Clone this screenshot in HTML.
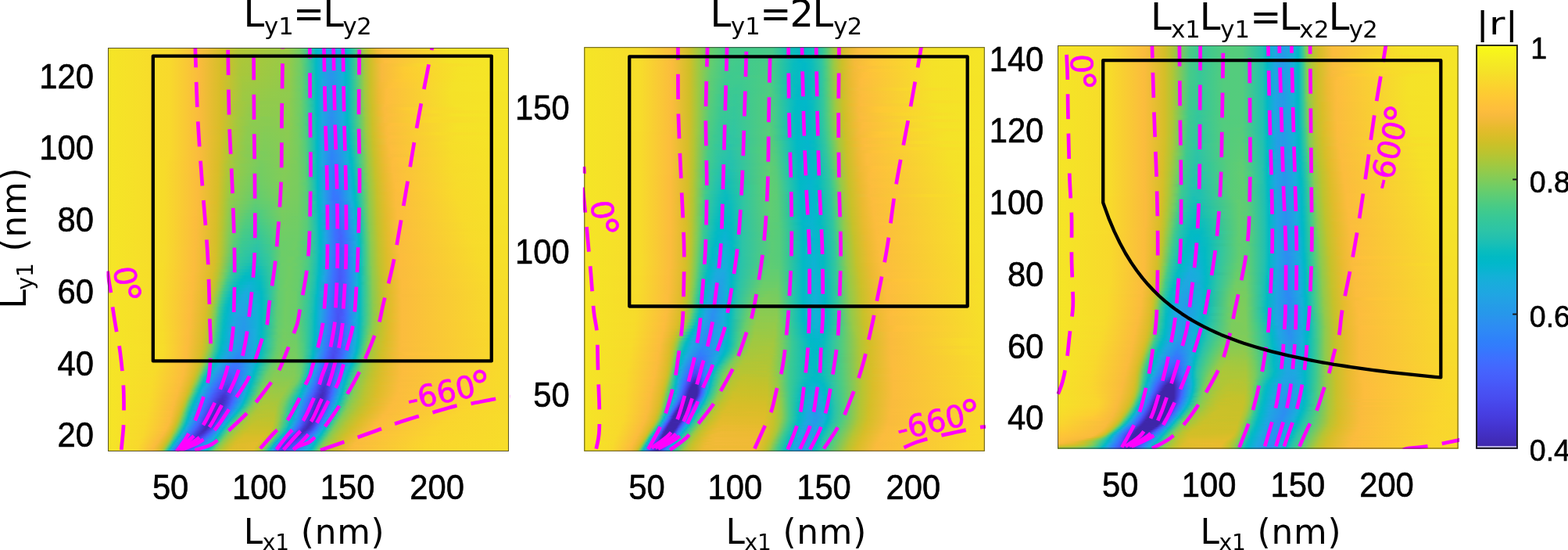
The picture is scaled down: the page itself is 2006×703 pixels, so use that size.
<!DOCTYPE html>
<html lang="en"><head><meta charset="utf-8"><title>Reflection amplitude maps</title>
<style>html,body{margin:0;padding:0;background:#fff;overflow:hidden}#fig{position:relative;width:2006px;height:703px;overflow:hidden;background:#fff}.hm{position:absolute;overflow:hidden}.hm i{display:block;position:absolute;left:0;width:100%;height:var(--h)}.hm i.b{height:var(--g)}#fig svg{position:absolute;left:0;top:0;display:block}</style>
</head><body>
<div id="fig">
<div class="hm" style="left:138.0px;top:61.0px;width:513.0px;height:516.0px;--h:4.59px;--g:2.61px"><i style="top:0.0px;background:linear-gradient(90deg,#f5e526 0.2%,#f8d92c 15.4%,#fabb3d 22.8%,#d3bf27 28.6%,#b1c635 32.5%,#9cc944 44.6%,#76cc60 47.7%,#51cc7f 49.2%,#0dbdbb 51.6%,#02bac3 51.9%,#0cb3d3 52.7%,#22a1e4 54.3%,#2699ea 55.8%,#19addc 58.2%,#01b8ca 59.3%,#0fbebb 60.1%,#3fca8e 61.7%,#99c946 63.6%,#c9c129 65.2%,#edba33 67.1%,#fdbd3d 69.1%,#f5e228 84.6%,#f5e626 99.8%)"></i><i style="top:4.0px;background:linear-gradient(90deg,#f5e526 0.2%,#f8d92c 15.4%,#fabb3d 22.8%,#d3bf27 28.6%,#b1c636 32.5%,#99c946 44.9%,#6fcd66 48.1%,#1cc0b3 51.2%,#02bac3 51.9%,#0cb3d3 52.7%,#22a1e4 54.3%,#269ae8 56.2%,#12b1d7 58.6%,#01b8ca 59.3%,#0ebebb 60.1%,#3fca8e 61.7%,#98c947 63.6%,#c8c129 65.2%,#ecba33 67.1%,#fdbd3d 69.1%,#f5e228 85.0%,#f5e626 99.8%)"></i><i style="top:8.0px;background:linear-gradient(90deg,#f5e526 0.2%,#f8d92c 15.4%,#fabb3d 22.8%,#d3bf27 28.6%,#b0c636 32.5%,#98c947 44.9%,#6fcd66 48.1%,#0ebdbb 51.6%,#02bac3 51.9%,#0cb3d3 52.7%,#259de7 54.7%,#259de7 56.6%,#13b1d7 58.6%,#01b8ca 59.3%,#02bbc3 59.7%,#33c79c 61.3%,#63cd70 62.5%,#a5c83d 64.0%,#d1bf27 65.6%,#f9bb3d 68.3%,#f9d82c 78.8%,#f5e426 92.8%,#f5e626 99.8%)"></i><i style="top:12.0px;background:linear-gradient(90deg,#f5e526 0.2%,#f8d92c 15.4%,#fabb3d 22.8%,#d3bf27 28.6%,#adc638 32.9%,#97ca47 44.9%,#76cc61 47.7%,#51cc7f 49.2%,#0ebdbb 51.6%,#02bac3 51.9%,#0cb3d3 52.7%,#23a1e5 54.3%,#2797eb 55.8%,#13b0d7 58.6%,#01b7ca 59.3%,#0dbdbb 60.1%,#3eca8f 61.7%,#97ca48 63.6%,#c7c12a 65.2%,#e6bb2d 66.7%,#fbbc3d 68.7%,#f5e228 85.0%,#f5e626 99.8%)"></i><i style="top:16.0px;background:linear-gradient(90deg,#f5e526 0.2%,#f8d92c 15.4%,#fabb3d 22.8%,#d3bf27 28.6%,#acc738 32.9%,#97ca48 44.9%,#76cc61 47.7%,#51cc7f 49.2%,#0ebdbb 51.6%,#02bbc3 51.9%,#0cb3d3 52.7%,#23a0e5 54.3%,#2699e9 56.2%,#13b0d7 58.6%,#02b7ca 59.3%,#02bac3 59.7%,#3dca90 61.7%,#96ca48 63.6%,#c7c12a 65.2%,#ebba31 67.1%,#fdbd3d 69.1%,#f5e228 85.0%,#f5e626 99.8%)"></i><i style="top:19.9px;background:linear-gradient(90deg,#f5e526 0.2%,#f8d92c 15.4%,#fabb3d 22.8%,#d2bf27 28.6%,#aac73a 33.3%,#96ca48 44.9%,#6fcd66 48.1%,#38c895 50.0%,#1dc0b3 51.2%,#02bbc3 51.9%,#0cb3d3 52.7%,#23a0e5 54.3%,#2796eb 55.8%,#1aacdd 58.2%,#02b7cb 59.3%,#02bac3 59.7%,#3dc990 61.7%,#a3c83e 64.0%,#cfc028 65.6%,#f9ba3d 68.3%,#f9d82c 78.8%,#f5e526 94.7%,#f5e626 99.8%)"></i><i style="top:23.9px;background:linear-gradient(90deg,#f5e526 0.2%,#f8d92c 15.4%,#fabb3d 22.8%,#d2bf27 28.6%,#a9c73b 33.3%,#96ca49 44.9%,#6fcd66 48.1%,#1ec0b2 51.2%,#02bbc3 51.9%,#0cb3d3 52.7%,#23a0e5 54.3%,#2896eb 55.8%,#14b0d8 58.6%,#02b7cb 59.3%,#0cbdbc 60.1%,#4dcc82 62.1%,#a3c83f 64.0%,#cfc028 65.6%,#f8ba3d 68.3%,#fdcc32 74.1%,#f5e327 87.7%,#f5e626 99.8%)"></i><i style="top:27.9px;background:linear-gradient(90deg,#f5e526 0.2%,#f8d92c 15.4%,#fabb3d 22.8%,#d7be28 28.2%,#aac73a 32.9%,#93ca4b 45.3%,#67cd6c 48.4%,#0fbebb 51.6%,#02bbc3 51.9%,#0cb3d3 52.7%,#23a0e5 54.3%,#2896ec 55.8%,#14b0d8 58.6%,#02b7cb 59.3%,#0cbdbc 60.1%,#4dcb82 62.1%,#a2c83f 64.0%,#cec028 65.6%,#f8ba3d 68.3%,#fdcc32 74.1%,#f5e327 88.1%,#f5e626 99.8%)"></i><i style="top:31.9px;background:linear-gradient(90deg,#f5e526 0.2%,#f8d92c 15.4%,#fabb3d 22.8%,#d7be28 28.2%,#a9c73a 32.9%,#92ca4b 45.3%,#6ecd66 48.1%,#0fbebb 51.6%,#02bbc3 51.9%,#0cb3d3 52.7%,#239fe5 54.3%,#2895ec 55.8%,#15afd9 58.6%,#02b7cb 59.3%,#0cbdbc 60.1%,#4ccb83 62.1%,#a1c840 64.0%,#cec028 65.6%,#f8ba3d 68.3%,#fdcb32 74.1%,#f5e227 87.0%,#f5e626 99.8%)"></i><i style="top:35.9px;background:linear-gradient(90deg,#f5e526 0.2%,#f8d92c 15.4%,#fabb3d 22.8%,#d7be28 28.2%,#a6c83d 33.3%,#92ca4c 45.3%,#67cd6d 48.4%,#1ec0b2 51.2%,#02bbc3 51.9%,#0cb3d3 52.7%,#249fe5 54.3%,#2995ec 55.8%,#15afd9 58.6%,#03b7cc 59.3%,#0bbdbc 60.1%,#32c69f 61.3%,#5ecd74 62.5%,#a1c840 64.0%,#cdc028 65.6%,#f8ba3d 68.3%,#fdcb32 74.1%,#f5e327 88.1%,#f5e626 99.8%)"></i><i style="top:39.9px;background:linear-gradient(90deg,#f5e526 0.2%,#f8d92c 15.4%,#fabb3d 22.8%,#d7be28 28.2%,#a5c83d 33.3%,#91ca4c 45.3%,#67cd6d 48.4%,#1ec0b2 51.2%,#03bbc3 51.9%,#02b7cb 52.3%,#1ca9df 53.5%,#2994ed 55.8%,#15afd9 58.6%,#03b7cc 59.3%,#0bbdbd 60.1%,#4bcb84 62.1%,#a0c841 64.0%,#cdc028 65.6%,#f7ba3c 68.3%,#fec636 72.2%,#f5e227 86.6%,#f5e626 99.8%)"></i><i style="top:43.9px;background:linear-gradient(90deg,#f5e526 0.2%,#f8d92c 15.4%,#fabb3d 22.8%,#d6be28 28.2%,#a2c83f 33.7%,#91ca4d 45.3%,#67cd6d 48.4%,#10beba 51.6%,#03bbc3 51.9%,#02b7cb 52.3%,#1ca9df 53.5%,#2994ed 55.8%,#16afd9 58.6%,#03b7cc 59.3%,#0bbdbd 60.1%,#4acb84 62.1%,#9fc941 64.0%,#ccc028 65.6%,#f3ba38 67.9%,#fec239 71.0%,#f5e228 86.2%,#f5e626 99.8%)"></i><i style="top:47.9px;background:linear-gradient(90deg,#f5e526 0.2%,#f8d92c 15.4%,#fabb3d 22.8%,#d6be28 28.2%,#a1c840 33.7%,#90ca4d 45.3%,#6ecd67 48.1%,#45cb89 49.6%,#10beba 51.6%,#03bbc3 51.9%,#02b7cb 52.3%,#1ca9e0 53.5%,#2a93ed 55.8%,#16afda 58.6%,#03b7cc 59.3%,#0bbdbd 60.1%,#49cb85 62.1%,#9fc942 64.0%,#ccc028 65.6%,#f2ba38 67.9%,#fec13a 70.6%,#f5e228 86.2%,#f5e626 99.8%)"></i><i style="top:51.9px;background:linear-gradient(90deg,#f5e526 0.2%,#f8d92c 15.4%,#fabb3d 22.8%,#d6be28 28.2%,#a0c841 33.7%,#96ca48 39.5%,#90ca4d 45.3%,#67cd6d 48.4%,#10beba 51.6%,#03bbc2 51.9%,#02b7cb 52.3%,#1da9e0 53.5%,#2a93ee 55.8%,#17aeda 58.6%,#04b6cd 59.3%,#0abdbd 60.1%,#49cb85 62.1%,#9ec942 64.0%,#cbc129 65.6%,#edba33 67.5%,#fdbd3d 69.5%,#f5e228 85.8%,#f5e626 99.8%)"></i><i style="top:55.9px;background:linear-gradient(90deg,#f5e526 0.2%,#f8d92c 15.4%,#fabb3d 22.8%,#d6be28 28.2%,#9fc941 33.7%,#95ca49 39.5%,#8fcb4e 45.3%,#6ecd67 48.1%,#3ac994 50.0%,#10beba 51.6%,#03bbc2 51.9%,#02b7cb 52.3%,#1da9e0 53.5%,#2a92ee 55.8%,#17aeda 58.6%,#01bac5 59.7%,#3ac994 61.7%,#9dc943 64.0%,#cbc129 65.6%,#ecba33 67.5%,#fdbd3d 69.5%,#f5e128 85.4%,#f5e526 99.8%)"></i><i style="top:59.8px;background:linear-gradient(90deg,#f5e526 0.2%,#f8d92c 15.4%,#fabb3d 22.8%,#d6be28 28.2%,#9ec942 33.7%,#94ca4a 39.5%,#8fcb4e 45.3%,#6ecd67 48.1%,#3ac994 50.0%,#20c1b1 51.2%,#03bbc2 51.9%,#02b7cb 52.3%,#1da9e0 53.5%,#2b92ee 55.8%,#17aedb 58.6%,#01bac5 59.7%,#3ac994 61.7%,#9cc943 64.0%,#cac129 65.6%,#ecba32 67.5%,#fdbd3d 69.5%,#f5e128 85.8%,#f5e526 99.8%)"></i><i style="top:63.8px;background:linear-gradient(90deg,#f5e526 0.2%,#f8d92c 15.4%,#fabb3d 22.8%,#d6be28 28.2%,#9dc943 33.7%,#92ca4b 39.5%,#90ca4d 44.9%,#74cc62 47.7%,#52cc7e 49.2%,#11beb9 51.6%,#03bbc2 51.9%,#02b7cb 52.3%,#1da9e0 53.5%,#2b92ef 55.8%,#18aedb 58.6%,#01b9c6 59.7%,#39c895 61.7%,#9cc944 64.0%,#c9c129 65.6%,#ecba32 67.5%,#fdbd3d 69.5%,#f5e128 85.8%,#f5e526 99.8%)"></i><i style="top:67.8px;background:linear-gradient(90deg,#f5e526 0.2%,#f8d92c 15.4%,#fabb3d 22.8%,#d6be28 28.2%,#a5c83d 32.5%,#90ca4d 37.9%,#90ca4d 44.9%,#6ecd67 48.1%,#3ac994 50.0%,#20c1b1 51.2%,#04bbc2 51.9%,#02b7cb 52.3%,#1da9e0 53.5%,#2b91ef 55.8%,#18addb 58.6%,#01b9c6 59.7%,#46cb88 62.1%,#9bc945 64.0%,#c9c129 65.6%,#ebba32 67.5%,#fdbd3d 69.5%,#f5e128 85.8%,#f5e526 99.8%)"></i><i style="top:71.8px;background:linear-gradient(90deg,#f5e526 0.2%,#f8d92c 15.4%,#fabb3d 22.8%,#d6be28 28.2%,#a8c73b 32.1%,#92ca4c 36.4%,#8fcb4e 44.9%,#74cc62 47.7%,#52cc7e 49.2%,#12beb9 51.6%,#04bbc2 51.9%,#02b7cb 52.3%,#1da9e0 53.5%,#2b90ef 55.8%,#19addc 58.6%,#01b9c6 59.7%,#38c896 61.7%,#9ac945 64.0%,#d1bf27 66.0%,#fbbc3d 69.1%,#f5e228 86.6%,#f5e526 99.8%)"></i><i style="top:75.8px;background:linear-gradient(90deg,#f5e526 0.2%,#f8d92c 15.4%,#fabb3d 22.8%,#d6be28 28.2%,#a8c73c 32.1%,#91ca4c 36.0%,#8dcb4f 45.3%,#6dcd67 48.1%,#46cb88 49.6%,#21c1b0 51.2%,#04bbc2 51.9%,#02b7ca 52.3%,#1da8e0 53.5%,#2c90f0 55.8%,#19addc 58.6%,#01b9c7 59.7%,#45cb89 62.1%,#a6c73c 64.4%,#d0bf27 66.0%,#f8ba3d 68.7%,#fdcb33 74.5%,#f5e327 89.3%,#f5e526 99.8%)"></i><i style="top:79.8px;background:linear-gradient(90deg,#f5e526 0.2%,#f8d92c 15.4%,#fabb3d 22.8%,#d6be28 28.2%,#a7c73c 32.1%,#90ca4d 36.0%,#8ccb50 45.3%,#6dcd67 48.1%,#3bc993 50.0%,#21c1b0 51.2%,#04bbc2 51.9%,#01b7ca 52.3%,#1da8e0 53.5%,#2c8ff0 55.8%,#19acdc 58.6%,#01b9c7 59.7%,#44cb8a 62.1%,#98c947 64.0%,#c7c12a 65.6%,#eabb30 67.5%,#fabb3d 69.1%,#f8da2b 81.1%,#f5e526 99.8%)"></i><i style="top:83.8px;background:linear-gradient(90deg,#f5e526 0.2%,#f8d92c 15.4%,#fabb3d 22.8%,#d6be28 28.2%,#aac739 31.7%,#90ca4d 35.6%,#8ecb4e 40.3%,#8acb52 45.7%,#66cd6d 48.4%,#13beb9 51.6%,#04bbc1 51.9%,#01b7ca 52.3%,#1da8e0 53.5%,#2c8ff1 55.8%,#1aacdd 58.6%,#01b9c7 59.7%,#43ca8a 62.1%,#97ca48 64.0%,#c6c22a 65.6%,#e9bb30 67.5%,#fcbc3d 69.5%,#f6e128 86.2%,#f5e526 99.8%)"></i><i style="top:87.8px;background:linear-gradient(90deg,#f5e526 0.2%,#f8d92c 15.4%,#fabb3d 22.8%,#d6be28 28.2%,#9ac945 33.3%,#89cb53 38.7%,#8ecb4e 44.6%,#79cc5e 47.3%,#53cc7d 49.2%,#13beb8 51.6%,#01b8ca 52.3%,#1da8e0 53.5%,#2c8ef1 55.8%,#1aacdd 58.6%,#01b9c8 59.7%,#42ca8b 62.1%,#a3c83e 64.4%,#cec028 66.0%,#fabb3d 69.1%,#f8da2b 81.5%,#f5e526 99.8%)"></i><i style="top:91.8px;background:linear-gradient(90deg,#f5e526 0.2%,#f8d92c 15.4%,#fabb3d 22.8%,#d6be28 28.2%,#a5c83e 32.1%,#8ecb4f 35.6%,#89cb52 39.5%,#8dcb50 44.9%,#73cd63 47.7%,#53cc7d 49.2%,#14beb8 51.6%,#05bbc1 51.9%,#01b8ca 52.3%,#1da8e0 53.5%,#2d8df2 55.8%,#1aabdd 58.6%,#01b8c8 59.7%,#15bfb8 60.5%,#52cc7e 62.5%,#a2c83f 64.4%,#cdc028 66.0%,#f9bb3d 69.1%,#f9d72c 80.0%,#f5e427 95.9%,#f5e526 99.8%)"></i><i style="top:95.7px;background:linear-gradient(90deg,#f5e526 0.2%,#f8d92c 15.4%,#fabb3d 22.8%,#d6be28 28.2%,#a4c83e 32.1%,#8bcb51 36.0%,#89cb53 45.7%,#66cd6d 48.4%,#14bfb8 51.6%,#05bbc1 51.9%,#01b8ca 52.3%,#1da8e0 53.5%,#2d8df3 55.8%,#1babde 58.6%,#01b8c9 59.7%,#13beb8 60.5%,#50cc7f 62.5%,#a1c840 64.4%,#ccc028 66.0%,#f1ba37 68.3%,#febf3b 70.6%,#f5e128 87.0%,#f5e526 99.8%)"></i><i style="top:99.7px;background:linear-gradient(90deg,#f5e526 0.2%,#f8d92c 15.4%,#fabb3d 22.8%,#dabd28 27.8%,#b1c636 30.9%,#90ca4d 34.4%,#87cb54 39.5%,#8bcb51 44.9%,#79cc5e 47.3%,#54cc7d 49.2%,#14bfb8 51.6%,#05bbc1 51.9%,#01b8ca 52.3%,#1da8e0 53.5%,#2d8cf3 55.8%,#1caadf 58.6%,#01b8ca 59.7%,#04bbc2 60.1%,#4ecc81 62.5%,#9fc941 64.4%,#cbc129 66.0%,#ebba32 67.9%,#fcbd3d 69.8%,#f6e128 87.0%,#f5e526 99.8%)"></i><i style="top:103.7px;background:linear-gradient(90deg,#f5e526 0.2%,#f8d92c 15.4%,#fabb3d 22.8%,#d5be28 28.2%,#a6c73c 31.7%,#8ccb50 35.2%,#86cb55 39.5%,#8bcb51 44.9%,#73cd63 47.7%,#54cc7c 49.2%,#15bfb8 51.6%,#05bbc1 51.9%,#01b8ca 52.3%,#1da8e0 53.5%,#2d8bf4 55.8%,#17aeda 58.9%,#02b7cb 59.7%,#02bbc3 60.1%,#2cc4a7 61.3%,#4ccb82 62.5%,#9ec942 64.4%,#cac129 66.0%,#efba35 68.3%,#fcbc3d 69.8%,#f6e028 86.2%,#f5e526 99.8%)"></i><i style="top:107.7px;background:linear-gradient(90deg,#f5e526 0.2%,#f8d92c 15.4%,#fabb3d 22.8%,#d5be28 28.2%,#aac73a 31.3%,#8dcb4f 34.8%,#84cc56 39.1%,#8acb51 44.9%,#79cc5f 47.3%,#55cc7c 49.2%,#15bfb7 51.6%,#01b8ca 52.3%,#1ea8e0 53.5%,#2d8af4 55.8%,#1da8e0 58.6%,#03b6cc 59.7%,#02bac4 60.1%,#32c69e 61.7%,#5ccc76 62.8%,#a9c73b 64.8%,#d1bf27 66.3%,#fabb3d 69.5%,#f8da2b 82.3%,#f5e526 99.8%)"></i><i style="top:111.7px;background:linear-gradient(90deg,#f5e526 0.2%,#f8d92c 15.4%,#fabb3d 22.8%,#d9be28 27.8%,#b2c535 30.5%,#8ecb4f 34.4%,#83cc57 39.1%,#8acb52 44.9%,#79cc5f 47.3%,#55cc7b 49.2%,#15bfb7 51.6%,#01b8ca 52.3%,#1ea8e1 53.5%,#2d89f5 55.8%,#1ea7e1 58.6%,#01bac5 60.1%,#3ac994 62.1%,#9ac945 64.4%,#c7c129 66.0%,#e9bb2f 67.9%,#fdbd3d 70.2%,#f6e028 87.0%,#f5e526 99.8%)"></i><i style="top:115.7px;background:linear-gradient(90deg,#f5e526 0.2%,#f8d92c 15.4%,#fabb3d 22.8%,#d9be28 27.8%,#b1c635 30.5%,#8dcb4f 34.4%,#82cc58 39.1%,#89cb52 44.9%,#74cd62 47.7%,#56cc7b 49.2%,#16bfb7 51.6%,#06bcc0 51.9%,#01b8ca 52.3%,#1ea7e1 53.5%,#2d88f6 55.8%,#1fa6e2 58.6%,#01b9c7 60.1%,#46cb88 62.5%,#a5c83d 64.8%,#cec028 66.3%,#fbbc3d 69.8%,#f6df29 86.6%,#f5e526 99.8%)"></i><i style="top:119.7px;background:linear-gradient(90deg,#f5e526 0.2%,#f8d92c 15.4%,#fabb3d 22.8%,#d8be28 27.8%,#b5c533 30.2%,#8ecb4f 34.0%,#81cc59 39.1%,#89cb53 44.9%,#74cd62 47.7%,#57cc7a 49.2%,#16bfb7 51.6%,#06bcc0 51.9%,#01b8ca 52.3%,#1ea7e1 53.5%,#2d88f6 55.8%,#249fe6 58.2%,#09b4d1 59.7%,#01b8c9 60.1%,#15bfb7 60.9%,#54cc7c 62.8%,#a3c83e 64.8%,#cdc028 66.3%,#fabb3d 69.8%,#f7dd2a 85.0%,#f5e526 99.8%)"></i><i style="top:123.7px;background:linear-gradient(90deg,#f5e526 0.2%,#f8d92c 15.4%,#fabb3d 22.8%,#d8be28 27.8%,#aec637 30.5%,#89cb52 34.8%,#80cc59 39.1%,#89cb53 44.6%,#79cc5e 47.3%,#57cc7a 49.2%,#16bfb7 51.6%,#06bcc0 51.9%,#01b8c9 52.3%,#1ea7e1 53.5%,#2e87f7 55.8%,#21a3e3 58.6%,#01b7ca 60.1%,#04bbc2 60.5%,#51cc7f 62.8%,#94ca4a 64.4%,#c3c22b 66.0%,#e5bb2d 67.9%,#fcbc3d 70.2%,#f6de29 85.8%,#f5e526 99.8%)"></i><i style="top:127.7px;background:linear-gradient(90deg,#f5e526 0.2%,#f8d92c 15.4%,#fabb3d 22.8%,#d7be28 27.8%,#acc738 30.5%,#88cb53 34.8%,#7fcc5a 39.1%,#88cb53 44.6%,#79cc5e 47.3%,#58cc79 49.2%,#16bfb7 51.6%,#06bcc0 51.9%,#01b8c9 52.3%,#1ea7e1 53.5%,#2e86f7 55.8%,#2797eb 57.8%,#18addb 59.3%,#03b7cc 60.1%,#02bac4 60.5%,#4ecc81 62.8%,#9fc941 64.8%,#cac129 66.3%,#eeba34 68.7%,#fdbd3d 70.6%,#f6de29 86.2%,#f5e426 99.8%)"></i><i style="top:131.6px;background:linear-gradient(90deg,#f5e526 0.2%,#f8d92c 15.4%,#fabb3d 22.8%,#d7be28 27.8%,#b7c532 29.8%,#90ca4d 33.3%,#7ccc5c 38.3%,#88cb53 44.6%,#79cc5e 47.3%,#59cc78 49.2%,#01b8c9 52.3%,#1ea7e1 53.5%,#2e85f8 55.8%,#2895ec 57.8%,#11b1d6 59.7%,#01bac5 60.5%,#4bcb84 62.8%,#9dc943 64.8%,#c8c129 66.3%,#e8bb2f 68.3%,#fcbd3d 70.6%,#f6de29 86.6%,#f5e426 99.8%)"></i><i style="top:135.6px;background:linear-gradient(90deg,#f5e526 0.2%,#f8d92c 15.4%,#fabb3d 22.8%,#d6be28 27.8%,#afc637 30.2%,#88cb53 34.4%,#7ccc5c 39.1%,#87cb54 44.6%,#79cc5e 47.3%,#5acc77 49.2%,#17bfb6 51.6%,#01b8c9 52.3%,#1ea7e1 53.5%,#2e84f8 55.8%,#2c8ef1 57.4%,#13b0d8 59.7%,#01b9c7 60.5%,#3ac994 62.5%,#9bc944 64.8%,#c7c12a 66.3%,#e7bb2e 68.3%,#fabb3d 70.2%,#f7dd2a 85.8%,#f5e426 99.8%)"></i><i style="top:139.6px;background:linear-gradient(90deg,#f5e526 0.2%,#f8da2b 15.0%,#fabb3d 22.8%,#d6be28 27.8%,#9ec942 31.3%,#7bcc5d 37.2%,#86cb55 44.9%,#74cc62 47.7%,#5bcc77 49.2%,#18bfb6 51.6%,#07bcbf 51.9%,#01b8c9 52.3%,#1ea7e1 53.5%,#2e83f9 55.8%,#2b92ee 57.8%,#16afd9 59.7%,#01b8c9 60.5%,#05bbc1 60.9%,#2fc5a3 62.1%,#45cb89 62.8%,#99c946 64.8%,#cdc028 66.7%,#efba35 69.1%,#febe3c 71.4%,#f7dd2a 86.2%,#f5e427 99.8%)"></i><i style="top:143.6px;background:linear-gradient(90deg,#f5e526 0.2%,#f7db2a 14.2%,#fcbc3d 22.4%,#dbbd28 27.4%,#bac430 29.4%,#99c946 31.7%,#78cc5f 37.9%,#86cb55 44.2%,#7dcc5b 46.9%,#5ccc76 49.2%,#18bfb6 51.6%,#07bcbf 51.9%,#01b8c9 52.3%,#1ea7e1 53.5%,#2f82f9 55.8%,#2b90ef 57.8%,#18aedb 59.7%,#02b7cb 60.5%,#03bbc3 60.9%,#2dc4a5 62.1%,#54cc7d 63.2%,#a4c83e 65.2%,#ccc028 66.7%,#eeba34 69.1%,#fdbd3d 71.0%,#f7dd2a 86.6%,#f5e427 99.8%)"></i><i style="top:147.6px;background:linear-gradient(90deg,#f5e526 0.2%,#f7db2a 14.2%,#fcbc3d 22.4%,#dabd28 27.4%,#b0c636 29.8%,#8ccb50 33.3%,#77cc60 38.3%,#85cb55 44.2%,#79cc5e 47.3%,#5dcc75 49.2%,#01b8c9 52.3%,#1ea7e1 53.5%,#2f81fa 55.8%,#2d89f5 57.4%,#19acdc 59.7%,#02bac5 60.9%,#3fca8e 62.8%,#95ca49 64.8%,#c2c22c 66.3%,#e3bc2c 68.3%,#fcbd3d 71.0%,#f7dc2a 86.2%,#f5e427 99.8%)"></i><i style="top:151.6px;background:linear-gradient(90deg,#f5e526 0.2%,#f7db2a 14.2%,#fcbc3d 22.4%,#dabd28 27.4%,#b7c532 29.4%,#96ca48 31.7%,#75cc61 37.9%,#85cb56 44.2%,#79cc5e 47.3%,#5dcc74 49.2%,#01b8c8 52.3%,#23a0e5 53.9%,#307efb 56.2%,#20a5e2 59.3%,#01b9c7 60.9%,#3dc991 62.8%,#93ca4b 64.8%,#c9c129 66.7%,#ecba32 69.1%,#fcbc3d 71.0%,#f7db2b 85.4%,#f5e427 99.8%)"></i><i style="top:155.6px;background:linear-gradient(90deg,#f5e526 0.2%,#f7db2a 14.2%,#fcbc3d 22.4%,#d9bd28 27.4%,#b5c533 29.4%,#95ca49 31.7%,#74cd62 37.9%,#84cc56 44.2%,#79cc5e 47.3%,#5ecd74 49.2%,#01b8c8 52.3%,#23a0e5 53.9%,#317dfc 56.2%,#249de6 58.9%,#15afd9 60.1%,#01b8c9 60.9%,#07bcc0 61.3%,#31c6a1 62.5%,#4acb85 63.2%,#91ca4d 64.8%,#c8c129 66.7%,#ebba31 69.1%,#fbbc3d 71.0%,#f7db2a 85.8%,#f5e427 99.8%)"></i><i style="top:159.6px;background:linear-gradient(90deg,#f5e526 0.2%,#f7db2a 14.2%,#fbbc3d 22.4%,#d9be28 27.4%,#bcc42f 29.0%,#9ac945 30.9%,#72cd63 37.5%,#83cc57 44.2%,#79cc5e 47.3%,#5fcd73 49.2%,#01b9c8 52.3%,#23a0e5 53.9%,#327cfc 56.2%,#2895ec 58.6%,#18aedb 60.1%,#02b7cb 60.9%,#04bbc2 61.3%,#2fc5a3 62.5%,#47cb87 63.2%,#9cc944 65.2%,#c6c22a 66.7%,#e5bb2d 68.7%,#fcbd3d 71.4%,#f7dc2a 86.6%,#f5e427 99.8%)"></i><i style="top:163.6px;background:linear-gradient(90deg,#f5e526 0.2%,#f7db2a 14.2%,#fbbc3d 22.4%,#d8be28 27.4%,#b2c535 29.4%,#95ca49 31.3%,#70cd65 37.5%,#83cc57 43.8%,#79cc5e 47.3%,#60cd72 49.2%,#01b9c7 52.3%,#23a0e5 53.9%,#327bfc 56.2%,#2c8ef2 58.2%,#10b2d5 60.5%,#04b6cd 60.9%,#02bac4 61.3%,#44cb8a 63.2%,#8dcb50 64.8%,#c5c22a 66.7%,#e4bb2c 68.7%,#fcbd3d 71.4%,#f7dc2a 87.0%,#f5e427 99.8%)"></i><i style="top:167.6px;background:linear-gradient(90deg,#f5e526 0.2%,#f7db2a 14.2%,#fbbc3d 22.4%,#d8be28 27.4%,#b1c636 29.4%,#93ca4a 31.3%,#6fcd66 37.5%,#82cc57 43.8%,#79cc5f 47.3%,#60cd72 49.2%,#1cc0b3 51.6%,#01b9c7 52.3%,#23a0e5 53.9%,#337afd 56.2%,#2b92ee 58.6%,#12b1d7 60.5%,#01b9c6 61.3%,#41ca8c 63.2%,#8bcb51 64.8%,#c3c22b 66.7%,#e3bc2c 68.7%,#fcbc3d 71.4%,#f7db2b 86.2%,#f5e327 99.8%)"></i><i style="top:171.5px;background:linear-gradient(90deg,#f5e526 0.2%,#f7db2a 14.2%,#fbbc3d 22.4%,#d8be28 27.4%,#afc636 29.4%,#92ca4c 31.3%,#6dcd68 37.5%,#82cc58 43.8%,#79cc5f 47.3%,#57cc7a 49.6%,#1dc0b3 51.6%,#01b9c6 52.3%,#23a1e5 53.9%,#347afd 56.2%,#2e85f8 57.8%,#1caadf 60.1%,#01b9c7 61.3%,#3fca8e 63.2%,#97ca48 65.2%,#cac129 67.1%,#ecba32 69.5%,#fdbd3d 71.8%,#f7dc2a 87.4%,#f5e327 99.8%)"></i><i style="top:175.5px;background:linear-gradient(90deg,#f5e526 0.2%,#f7db2a 14.2%,#fbbc3d 22.4%,#d7be28 27.4%,#aec637 29.4%,#90ca4d 31.3%,#6bcd69 37.5%,#81cc59 43.8%,#78cc5f 47.3%,#61cd71 49.2%,#1ec0b2 51.6%,#01b9c6 52.3%,#23a1e4 53.9%,#3579fd 56.2%,#2e83f9 57.8%,#1da9e0 60.1%,#01b8c9 61.3%,#06bcc0 61.7%,#32c69f 62.8%,#62cd70 64.0%,#a2c840 65.6%,#c9c129 67.1%,#ebba31 69.5%,#fdbd3d 71.8%,#f7db2b 86.6%,#f5e327 99.8%)"></i><i style="top:179.5px;background:linear-gradient(90deg,#f5e526 0.2%,#f7db2a 14.2%,#fbbc3d 22.4%,#d7be28 27.4%,#b6c532 29.0%,#92ca4b 30.9%,#69cd6b 37.5%,#80cc59 43.8%,#78cc5f 47.3%,#61cd71 49.2%,#20c1b1 51.6%,#01bac5 52.3%,#22a1e4 53.9%,#3678fd 56.2%,#2f81fa 57.8%,#18addb 60.5%,#02b7cb 61.3%,#04bbc2 61.7%,#31c5a1 62.8%,#4ccb83 63.6%,#94ca4a 65.2%,#c8c129 67.1%,#eeba34 69.8%,#febd3c 72.2%,#f8da2b 86.2%,#f5e327 99.8%)"></i><i style="top:183.5px;background:linear-gradient(90deg,#f5e526 0.2%,#f7db2a 14.2%,#fbbc3d 22.4%,#d7be28 27.4%,#b5c533 29.0%,#90ca4d 30.9%,#66cd6d 37.5%,#7fcc5a 43.4%,#78cc5f 47.3%,#59cc78 49.6%,#21c1b0 51.6%,#02bac4 52.3%,#22a2e4 53.9%,#3777fe 56.2%,#307ffb 57.8%,#1aacdd 60.5%,#04b6cd 61.3%,#02bac3 61.7%,#2fc5a3 62.8%,#49cb85 63.6%,#92ca4b 65.2%,#c7c12a 67.1%,#e5bb2d 69.1%,#fcbc3d 71.8%,#f8da2b 86.2%,#f5e327 99.8%)"></i><i style="top:187.5px;background:linear-gradient(90deg,#f5e526 0.2%,#f7db2a 14.2%,#fbbc3d 22.4%,#d6be28 27.4%,#b4c533 29.0%,#8fcb4e 30.9%,#64cd6f 37.2%,#7fcc5a 44.2%,#77cc60 47.3%,#59cc78 49.6%,#11beba 51.9%,#02bac4 52.3%,#22a2e4 53.9%,#3777fe 56.2%,#3678fd 57.4%,#1babde 60.5%,#01bac5 61.7%,#37c897 63.2%,#91ca4c 65.2%,#c6c22a 67.1%,#e9bb2f 69.5%,#fcbc3d 71.8%,#f8da2b 86.6%,#f5e327 99.8%)"></i><i style="top:191.5px;background:linear-gradient(90deg,#f5e526 0.2%,#f7db2a 14.2%,#fbbc3d 22.4%,#d6be28 27.4%,#b3c534 29.0%,#91ca4c 30.5%,#61cd71 37.2%,#70cd65 41.1%,#7dcc5b 43.4%,#77cc60 47.3%,#5acc78 49.6%,#13beb9 51.9%,#03bbc3 52.3%,#04b6cd 52.7%,#21a3e3 53.9%,#3776fe 56.2%,#3876fe 57.4%,#1da9e0 60.5%,#01b9c7 61.7%,#36c799 63.2%,#90ca4d 65.2%,#c5c22a 67.1%,#e8bb2f 69.5%,#fcbc3d 71.8%,#f8da2b 87.0%,#f5e327 99.8%)"></i><i style="top:195.5px;background:linear-gradient(90deg,#f5e526 0.2%,#f7db2a 14.2%,#fbbc3d 22.4%,#dbbd28 27.0%,#bcc42f 28.6%,#8fcb4e 30.5%,#5fcd73 36.8%,#6acd6a 40.7%,#7ccc5c 43.4%,#76cc61 47.3%,#5acc77 49.6%,#25c2ae 51.6%,#04bbc2 52.3%,#03b7cc 52.7%,#21a4e3 53.9%,#3c72ff 56.6%,#317efb 58.2%,#18aedb 60.9%,#01b8c9 61.7%,#07bcbf 62.1%,#34c79b 63.2%,#8ecb4e 65.2%,#c4c22b 67.1%,#e3bc2c 69.1%,#fbbc3d 71.8%,#f7db2b 87.7%,#f5e327 99.8%)"></i><i style="top:199.5px;background:linear-gradient(90deg,#f5e526 0.2%,#f7db2a 14.2%,#fbbc3d 22.4%,#d5be28 27.4%,#b0c636 29.0%,#88cb53 30.9%,#5bcc77 36.8%,#67cd6c 40.7%,#7bcc5d 43.4%,#75cc61 47.3%,#5acc77 49.6%,#16bfb7 51.9%,#05bbc1 52.3%,#02b7cb 52.7%,#20a4e3 53.9%,#3c71ff 56.6%,#3876fe 57.8%,#1aacdd 60.9%,#03b7cb 61.7%,#04bbc2 62.1%,#33c69e 63.2%,#54cc7d 64.0%,#8dcb4f 65.2%,#c3c22b 67.1%,#e2bc2b 69.1%,#fbbc3d 71.8%,#f7db2b 88.1%,#f5e227 99.8%)"></i><i style="top:203.5px;background:linear-gradient(90deg,#f5e526 0.2%,#f7db2a 14.2%,#fbbc3d 22.4%,#d4bf28 27.4%,#afc636 29.0%,#86cb55 30.9%,#57cc7a 36.8%,#65cd6e 40.7%,#7acc5e 43.4%,#74cc62 47.3%,#5acc77 49.6%,#18bfb6 51.9%,#07bcc0 52.3%,#01b8ca 52.7%,#1fa5e2 53.9%,#3777fe 56.2%,#3e6fff 57.4%,#2d8df2 59.3%,#13b0d7 61.3%,#05b6ce 61.7%,#02bac4 62.1%,#31c6a0 63.2%,#51cc7f 64.0%,#8bcb50 65.2%,#c2c22c 67.1%,#e1bc2b 69.1%,#fcbd3d 72.2%,#f7db2b 88.5%,#f5e227 99.8%)"></i><i style="top:207.4px;background:linear-gradient(90deg,#f5e526 0.2%,#f7db2a 14.2%,#fcbd3d 22.0%,#d9bd28 27.0%,#b9c431 28.6%,#89cb52 30.5%,#59cc78 35.6%,#54cc7c 38.3%,#79cc5f 43.4%,#74cd62 47.3%,#5acc77 49.6%,#01b8c9 52.7%,#1fa6e2 53.9%,#3d71ff 56.6%,#3d70ff 57.8%,#2a92ee 59.7%,#15afd9 61.3%,#01b9c6 62.1%,#3bc993 63.6%,#8acb52 65.2%,#c1c32c 67.1%,#e1bc2b 69.1%,#fcbc3d 72.2%,#f8da2b 87.7%,#f5e227 99.8%)"></i><i style="top:211.4px;background:linear-gradient(90deg,#f5e526 0.2%,#f7db2a 14.2%,#fcbd3d 22.0%,#d9be28 27.0%,#b8c431 28.6%,#87cb54 30.5%,#5acc77 34.8%,#4fcc80 37.9%,#77cc60 43.4%,#73cd63 47.3%,#5acc77 49.6%,#1bc0b4 51.9%,#01b9c8 52.7%,#249fe5 54.3%,#3d71ff 56.6%,#3f6eff 57.8%,#2c90f0 59.7%,#18addb 61.3%,#01b8c8 62.1%,#39c895 63.6%,#89cb53 65.2%,#c0c32d 67.1%,#e5bb2d 69.5%,#fcbc3d 72.2%,#f8da2b 88.1%,#f5e227 99.8%)"></i><i style="top:215.4px;background:linear-gradient(90deg,#f5e526 0.2%,#f7db2a 14.2%,#fcbc3d 22.0%,#d8be28 27.0%,#b7c532 28.6%,#85cb56 30.5%,#59cc78 34.4%,#4acb85 37.5%,#77cc60 43.8%,#6fcd66 47.7%,#5acc77 49.6%,#1cc0b3 51.9%,#01b9c7 52.7%,#23a0e5 54.3%,#3d71ff 56.6%,#416bfe 57.8%,#2d8df2 59.7%,#1aacdd 61.3%,#02b7cb 62.1%,#07bcc0 62.5%,#48cb86 64.0%,#87cb54 65.2%,#bfc32d 67.1%,#e4bb2c 69.5%,#fcbc3d 72.2%,#f8da2b 88.1%,#f5e228 99.8%)"></i><i style="top:219.4px;background:linear-gradient(90deg,#f5e526 0.2%,#f7db2a 14.2%,#fcbc3d 22.0%,#d8be28 27.0%,#b5c533 28.6%,#82cc57 30.5%,#54cc7c 34.4%,#46cb88 37.5%,#5fcd73 41.1%,#75cc61 43.4%,#71cd64 47.3%,#5acc78 49.6%,#1ec0b2 51.9%,#01bac6 52.7%,#23a1e4 54.3%,#3c71ff 56.6%,#426afe 57.8%,#2d8af4 59.7%,#13b1d7 61.7%,#04b6cd 62.1%,#04bbc2 62.5%,#46cb88 64.0%,#86cb55 65.2%,#bec32e 67.1%,#dfbc2a 69.1%,#fbbc3d 72.2%,#f8da2b 88.5%,#f5e228 99.8%)"></i><i style="top:223.4px;background:linear-gradient(90deg,#f5e526 0.2%,#f7db2a 14.2%,#fcbc3d 22.0%,#d7be28 27.0%,#b4c533 28.6%,#79cc5e 30.9%,#53cc7d 34.0%,#42ca8c 37.5%,#5dcc75 41.1%,#74cc62 43.4%,#70cd65 47.3%,#59cc78 49.6%,#1fc0b2 51.9%,#02bac5 52.7%,#269ae9 54.7%,#3c71ff 56.6%,#4368fd 57.8%,#2d88f6 59.7%,#15afd9 61.7%,#06b5cf 62.1%,#02bac4 62.5%,#43ca8a 64.0%,#84cb56 65.2%,#bdc32e 67.1%,#debd2a 69.1%,#fbbc3d 72.2%,#f7db2b 89.7%,#f5e228 99.8%)"></i><i style="top:227.4px;background:linear-gradient(90deg,#f5e526 0.2%,#f7db2a 14.2%,#fcbc3d 22.0%,#d7be28 27.0%,#bec32e 28.2%,#76cc61 30.9%,#4ecc81 34.0%,#3eca8f 37.5%,#55cc7c 40.7%,#73cd63 43.4%,#70cd65 47.3%,#59cc78 49.6%,#20c1b1 51.9%,#02bac4 52.7%,#22a2e4 54.3%,#3c72ff 56.6%,#4466fd 57.8%,#2e85f8 59.7%,#18aedb 61.7%,#01b9c6 62.5%,#41ca8d 64.0%,#83cc57 65.2%,#bcc42f 67.1%,#ddbd29 69.1%,#fbbc3d 72.2%,#f7db2b 89.7%,#f5e128 99.8%)"></i><i style="top:231.4px;background:linear-gradient(90deg,#f5e526 0.2%,#f7db2a 14.2%,#fbbc3d 22.0%,#d6be28 27.0%,#bdc32e 28.2%,#73cd63 30.9%,#49cb85 34.0%,#3bc993 37.5%,#52cc7e 40.7%,#72cd64 43.4%,#6fcd66 47.3%,#58cc79 49.6%,#21c1b0 51.9%,#02bbc3 52.7%,#259be8 54.7%,#3b72ff 56.6%,#4464fd 57.8%,#3b72fe 58.9%,#19acdc 61.7%,#01b8c8 62.5%,#3eca8f 64.0%,#81cc58 65.2%,#bbc42f 67.1%,#ddbd29 69.1%,#fcbd3d 72.6%,#f7db2a 90.5%,#f5e128 99.8%)"></i><i style="top:235.4px;background:linear-gradient(90deg,#f5e526 0.2%,#f7db2a 14.2%,#fbbc3d 22.0%,#d6be28 27.0%,#bcc42f 28.2%,#70cd65 30.9%,#48cb86 33.7%,#38c896 37.5%,#50cc80 40.7%,#71cd64 43.4%,#6ecd66 47.3%,#58cc79 49.6%,#22c1b0 51.9%,#03bbc2 52.7%,#03b7cc 53.1%,#21a4e3 54.3%,#3b72ff 56.6%,#4564fd 57.8%,#3d70ff 58.9%,#1babde 61.7%,#01b8ca 62.5%,#09bcbe 62.8%,#53cc7d 64.4%,#90ca4d 65.6%,#c3c22b 67.5%,#e6bb2d 69.8%,#fcbc3d 72.6%,#f8da2b 89.3%,#f5e128 99.8%)"></i><i style="top:239.4px;background:linear-gradient(90deg,#f5e526 0.2%,#f7db2a 14.2%,#fbbc3d 22.0%,#d5be28 27.0%,#bbc42f 28.2%,#6dcd67 30.9%,#44cb8a 33.7%,#35c79a 37.5%,#4dcb82 40.7%,#70cd65 43.4%,#6ecd67 47.3%,#57cc7a 49.6%,#22c1af 51.9%,#04bbc2 52.7%,#02b7cb 53.1%,#20a4e3 54.3%,#3b72fe 56.6%,#4563fd 58.2%,#2e87f7 60.1%,#12b1d6 62.1%,#03b7cb 62.5%,#07bcbf 62.8%,#51cc7f 64.4%,#8fcb4e 65.6%,#c2c22c 67.5%,#e1bc2b 69.5%,#fcbc3d 72.6%,#f7db2b 90.5%,#f6e128 99.8%)"></i><i style="top:243.4px;background:linear-gradient(90deg,#f5e526 0.2%,#f7db2a 14.2%,#fbbc3d 22.0%,#d5be28 27.0%,#bbc430 28.2%,#6acd6a 30.9%,#43ca8a 33.3%,#32c69e 37.2%,#45cb89 40.3%,#6fcd66 43.4%,#6dcd67 47.3%,#57cc7a 49.6%,#23c1af 51.9%,#05bbc1 52.7%,#02b7cb 53.1%,#20a5e3 54.3%,#3b73fe 56.6%,#4562fc 57.8%,#3a73fe 59.3%,#13b0d8 62.1%,#04b6cd 62.5%,#05bbc1 62.8%,#4fcc80 64.4%,#8ecb4f 65.6%,#c1c32c 67.5%,#e5bb2d 69.8%,#fcbc3d 72.6%,#f8da2b 90.1%,#f6e128 99.8%)"></i><i style="top:247.3px;background:linear-gradient(90deg,#f5e526 0.2%,#f7db2a 14.2%,#fbbc3d 22.0%,#d5be28 27.0%,#bac430 28.2%,#5ecd74 31.3%,#3cc991 33.7%,#31c6a0 37.5%,#48cb86 40.7%,#6bcd69 43.0%,#6fcd66 46.9%,#4ecc81 50.0%,#15bfb8 52.3%,#05bbc1 52.7%,#01b7ca 53.1%,#20a5e2 54.3%,#3b72fe 56.6%,#4661fc 58.2%,#3c72ff 59.3%,#1ea8e1 61.7%,#05b6ce 62.5%,#04bbc2 62.8%,#4dcc82 64.4%,#8ccb50 65.6%,#c0c32d 67.5%,#e4bb2c 69.8%,#fbbc3d 72.6%,#f8db2b 90.9%,#f6e128 99.8%)"></i><i style="top:251.3px;background:linear-gradient(90deg,#f5e526 0.2%,#f7db2b 14.2%,#fbbc3d 22.0%,#d4bf28 27.0%,#b9c431 28.2%,#5bcc77 31.3%,#3cc991 33.3%,#2ec4a4 37.2%,#3fca8e 40.3%,#6bcd69 43.0%,#6fcd66 46.9%,#55cc7b 49.6%,#23c1af 51.9%,#06bbc1 52.7%,#01b8ca 53.1%,#20a5e2 54.3%,#3b72ff 56.6%,#4660fc 57.8%,#4369fe 58.9%,#2d8cf3 60.5%,#16afd9 62.1%,#06b5ce 62.5%,#03bbc3 62.8%,#2cc4a7 63.6%,#4bcb83 64.4%,#8bcb51 65.6%,#bfc32d 67.5%,#e4bb2c 69.8%,#fbbc3d 72.6%,#f7db2b 91.2%,#f6e028 99.8%)"></i><i style="top:255.3px;background:linear-gradient(90deg,#f5e526 0.2%,#f7db2b 14.2%,#fcbd3d 21.6%,#d4bf28 27.0%,#b8c431 28.2%,#57cc7a 31.3%,#39c895 33.3%,#2bc3a8 37.2%,#43ca8b 40.7%,#6acd6a 43.0%,#70cd65 46.5%,#55cc7c 49.6%,#24c1af 51.9%,#06bcc0 52.7%,#01b8ca 53.1%,#20a5e2 54.3%,#3c72ff 56.6%,#465ffb 58.2%,#3e6fff 59.3%,#1ea7e1 61.7%,#06b5cf 62.5%,#02bbc3 62.8%,#2bc3a8 63.6%,#4acb84 64.4%,#8acb52 65.6%,#bec32e 67.5%,#debc2a 69.5%,#fbbc3d 72.6%,#f7db2a 92.0%,#f6e028 99.8%)"></i><i style="top:259.3px;background:linear-gradient(90deg,#f5e526 0.2%,#f7db2b 14.2%,#fcbc3d 21.6%,#d4bf27 27.0%,#aac73a 28.6%,#4acb84 31.7%,#32c69e 34.0%,#29c3a9 37.5%,#41ca8d 40.7%,#6dcd67 43.4%,#6ccd68 47.3%,#4ccb83 50.0%,#15bfb7 52.3%,#01b8ca 53.1%,#20a5e2 54.3%,#3c71ff 56.6%,#465efb 58.2%,#3678fe 59.7%,#16aeda 62.1%,#06b5cf 62.5%,#02bbc3 62.8%,#2bc3a8 63.6%,#49cb85 64.4%,#89cb53 65.6%,#bec32e 67.5%,#debd29 69.5%,#fbbc3d 72.6%,#f7db2b 92.0%,#f6e028 99.8%)"></i><i style="top:263.3px;background:linear-gradient(90deg,#f5e526 0.2%,#f7db2b 14.2%,#fcbc3d 21.6%,#d9be28 26.7%,#b5c533 28.2%,#4fcc80 31.3%,#36c898 32.9%,#24c1ae 36.8%,#36c899 39.9%,#6dcd67 43.4%,#6ccd68 47.3%,#4bcb84 50.0%,#23c1af 51.9%,#05bbc1 52.7%,#02b7ca 53.1%,#20a4e3 54.3%,#3d70ff 56.6%,#465dfa 58.2%,#3f6efe 59.3%,#2994ed 60.9%,#16aeda 62.1%,#06b5cf 62.5%,#02bbc3 62.8%,#2bc3a8 63.6%,#48cb86 64.4%,#88cb53 65.6%,#bdc42f 67.5%,#ddbd29 69.5%,#fcbc3d 73.0%,#f7db2b 92.0%,#f6e028 99.8%)"></i><i style="top:267.3px;background:linear-gradient(90deg,#f5e526 0.2%,#f7db2b 14.2%,#fcbc3d 21.6%,#d8be28 26.7%,#bfc32d 27.8%,#49cb85 31.3%,#33c79c 32.9%,#1ec0b2 36.8%,#38c897 40.3%,#69cd6b 43.0%,#71cd64 46.1%,#58cc79 49.2%,#22c1b0 51.9%,#04bbc1 52.7%,#02b7cb 53.1%,#20a4e3 54.3%,#3578fd 56.2%,#4562fc 57.4%,#4660fb 58.6%,#2f80fa 60.1%,#16aeda 62.1%,#06b5cf 62.5%,#02bbc3 62.8%,#2ac3a9 63.6%,#47cb87 64.4%,#86cb54 65.6%,#bcc42f 67.5%,#dcbd29 69.5%,#fcbc3d 73.0%,#f7db2b 92.4%,#f6e028 99.8%)"></i><i style="top:271.3px;background:linear-gradient(90deg,#f5e526 0.2%,#f7db2b 14.2%,#fbbc3d 21.6%,#d7be28 26.7%,#bdc42f 27.8%,#43ca8a 31.3%,#2ec5a4 33.3%,#18bfb6 36.8%,#36c899 40.3%,#68cd6b 43.0%,#71cd64 45.3%,#64cd6f 48.1%,#49cb86 50.0%,#21c1b1 51.9%,#03bbc2 52.7%,#03b7cc 53.1%,#21a3e3 54.3%,#3677fe 56.2%,#475dfa 57.8%,#4465fd 58.9%,#2d8af5 60.5%,#16aeda 62.1%,#06b5cf 62.5%,#02bbc3 62.8%,#2ac3a9 63.6%,#46cb88 64.4%,#85cb55 65.6%,#bbc430 67.5%,#dcbd29 69.5%,#fcbc3d 73.0%,#f8da2b 92.0%,#f6e029 99.8%)"></i><i style="top:275.3px;background:linear-gradient(90deg,#f5e526 0.2%,#f7dc2a 13.8%,#fbbc3d 21.6%,#dbbd28 26.3%,#b9c430 27.8%,#47cb87 30.9%,#33c69e 32.1%,#10beba 36.4%,#31c6a0 39.9%,#49cb85 41.4%,#6dcd68 43.4%,#6ecd67 46.9%,#50cc80 49.6%,#1fc0b2 51.9%,#02bac3 52.7%,#04b6cd 53.1%,#22a2e4 54.3%,#3776fe 56.2%,#475cfa 57.8%,#4465fd 58.9%,#2d8af5 60.5%,#16aeda 62.1%,#06b5cf 62.5%,#02bbc3 62.8%,#2ac3a9 63.6%,#45cb88 64.4%,#84cc56 65.6%,#bac430 67.5%,#e0bc2a 69.8%,#fcbc3d 73.0%,#f7dc2a 94.0%,#f6df29 99.8%)"></i><i style="top:279.3px;background:linear-gradient(90deg,#f5e526 0.2%,#f7dc2a 13.8%,#fbbc3d 21.6%,#d4bf28 26.7%,#b5c533 27.8%,#3fca8e 30.9%,#29c3aa 32.9%,#09bcbe 36.0%,#12beb9 37.5%,#37c897 40.7%,#68cd6c 43.0%,#71cd64 45.3%,#63cd70 48.1%,#46cb88 50.0%,#1dc0b3 51.9%,#02bac5 52.7%,#2699e9 54.7%,#3875fe 56.2%,#475bf9 57.8%,#4464fd 58.9%,#2d8af5 60.5%,#16aeda 62.1%,#06b5cf 62.5%,#02bbc3 62.8%,#5acc77 64.8%,#90ca4d 66.0%,#c1c32c 67.9%,#e4bb2c 70.2%,#fbbc3d 73.0%,#f7db2b 93.6%,#f6df29 99.8%)"></i><i style="top:283.2px;background:linear-gradient(90deg,#f5e526 0.2%,#f7db2a 13.8%,#fbbc3d 21.6%,#d8be28 26.3%,#bec32e 27.4%,#72cd64 29.4%,#39c895 30.9%,#18bfb6 33.7%,#03bbc2 36.0%,#12beb9 37.9%,#36c898 40.7%,#68cd6c 43.0%,#71cd64 45.3%,#67cd6d 47.7%,#44cb8a 50.0%,#1bc0b4 51.9%,#01b9c6 52.7%,#23a0e5 54.3%,#3a74fe 56.2%,#475af9 57.8%,#4564fd 58.9%,#2d8af5 60.5%,#16aeda 62.1%,#06b5cf 62.5%,#02bbc3 62.8%,#59cc78 64.8%,#8fcb4e 66.0%,#c0c32d 67.9%,#dfbc2a 69.8%,#fbbc3d 73.0%,#f7dc2a 94.7%,#f6df29 99.8%)"></i><i style="top:287.2px;background:linear-gradient(90deg,#f5e526 0.2%,#f7db2a 13.8%,#fcbd3d 21.2%,#dbbd29 25.9%,#b9c430 27.4%,#58cc79 29.8%,#33c79c 30.9%,#06bcc1 34.4%,#02bac4 36.8%,#30c5a1 40.3%,#68cd6c 43.0%,#71cd64 45.3%,#66cd6d 47.7%,#42ca8b 50.0%,#19bfb6 51.9%,#01b9c8 52.7%,#249fe5 54.3%,#3b73fe 56.2%,#475af9 57.8%,#4564fd 58.9%,#2d89f5 60.5%,#16aeda 62.1%,#06b5cf 62.5%,#02bbc3 62.8%,#58cc79 64.8%,#8ecb4e 66.0%,#bfc32e 67.9%,#debd29 69.8%,#fbbc3d 73.0%,#f7dc2a 95.1%,#f6df29 99.8%)"></i><i style="top:291.2px;background:linear-gradient(90deg,#f5e526 0.2%,#f7db2a 13.8%,#fcbc3d 21.2%,#dabd28 25.9%,#c1c32c 27.0%,#84cc56 28.6%,#3eca8f 30.2%,#24c1ae 31.7%,#02bac3 34.0%,#01b8c9 36.4%,#09bcbe 37.9%,#34c79b 40.7%,#68cd6c 43.0%,#71cd64 45.3%,#66cd6e 47.7%,#40ca8d 50.0%,#23c1af 51.6%,#06bcc0 52.3%,#01b8c9 52.7%,#1fa6e2 53.9%,#3c71ff 56.2%,#4759f8 57.8%,#4563fd 58.9%,#2d89f5 60.5%,#16aeda 62.1%,#06b5cf 62.5%,#02bbc3 62.8%,#29c3aa 63.6%,#42ca8b 64.4%,#8dcb4f 66.0%,#c5c22a 68.3%,#e7bb2e 70.6%,#fbbc3d 73.0%,#f7dc2a 95.5%,#f6df29 99.8%)"></i><i style="top:295.2px;background:linear-gradient(90deg,#f5e526 0.2%,#f7db2b 13.8%,#fcbc3d 21.2%,#d8be28 25.9%,#bcc42f 27.0%,#7bcc5d 28.6%,#42ca8b 29.8%,#23c1af 31.3%,#02bbc3 33.3%,#06b5ce 36.0%,#06bcc0 37.9%,#34c79c 40.7%,#61cd71 42.6%,#71cd64 44.6%,#69cd6a 47.3%,#3eca8f 50.0%,#21c1b0 51.6%,#04bbc2 52.3%,#02b7cb 52.7%,#20a4e3 53.9%,#3d70ff 56.2%,#4758f8 57.8%,#416bfe 59.3%,#2d89f5 60.5%,#16aeda 62.1%,#06b5cf 62.5%,#02bbc3 62.8%,#29c3aa 63.6%,#41ca8c 64.4%,#8ccb50 66.0%,#c4c22b 68.3%,#e7bb2d 70.6%,#fcbc3d 73.3%,#f8da2b 94.0%,#f6de29 99.8%)"></i><i style="top:299.2px;background:linear-gradient(90deg,#f5e526 0.2%,#f7db2b 13.8%,#fbbc3d 21.2%,#d6be28 25.9%,#b6c532 27.0%,#70cd65 28.6%,#39c895 29.8%,#1abfb5 31.3%,#02bac5 32.9%,#0cb3d3 35.6%,#03bbc3 37.9%,#33c69d 40.7%,#61cd71 42.6%,#71cd64 44.6%,#69cd6b 47.3%,#3dc991 50.0%,#1ec0b2 51.6%,#02bac3 52.3%,#259be8 54.3%,#3678fd 55.8%,#475bf9 57.4%,#475cfa 58.6%,#3975fe 59.7%,#16afda 62.1%,#06b5cf 62.5%,#02bbc3 62.8%,#55cc7c 64.8%,#8bcb51 66.0%,#bcc42f 67.9%,#dcbd29 69.8%,#fcbc3d 73.3%,#f7dc2a 95.9%,#f6de29 99.8%)"></i><i style="top:303.2px;background:linear-gradient(90deg,#f5e526 0.2%,#f7db2b 13.8%,#fbbc3d 21.2%,#dabd28 25.5%,#bec32e 26.7%,#8ecb4f 27.8%,#3dc990 29.4%,#22c1b0 30.5%,#02bbc3 32.1%,#13b1d7 35.2%,#02bac5 37.9%,#33c69e 40.7%,#61cd71 42.6%,#71cd64 44.2%,#69cd6b 47.3%,#3bc992 50.0%,#1cc0b4 51.6%,#01bac5 52.3%,#269ae9 54.3%,#3776fe 55.8%,#475af9 57.4%,#475cfa 58.6%,#3975fe 59.7%,#16afda 62.1%,#06b5cf 62.5%,#02bbc3 62.8%,#28c3aa 63.6%,#40ca8d 64.4%,#8acb52 66.0%,#bbc430 67.9%,#dbbd29 69.8%,#fcbc3d 73.3%,#f7dc2a 96.3%,#f6de29 99.8%)"></i><i style="top:307.2px;background:linear-gradient(90deg,#f5e526 0.2%,#f7dc2a 13.4%,#fbbc3d 21.2%,#d7be28 25.5%,#b9c431 26.7%,#84cc56 27.8%,#43ca8b 29.0%,#23c1af 30.2%,#02bac4 31.7%,#17aeda 34.8%,#01b9c6 37.9%,#12beb9 39.1%,#3ac993 41.1%,#68cd6c 43.0%,#71cd64 45.3%,#63cd70 47.7%,#33c79d 50.4%,#19bfb5 51.6%,#01b9c7 52.3%,#23a0e5 53.9%,#3975fe 55.8%,#4759f8 57.4%,#475cfa 58.6%,#3975fe 59.7%,#16afd9 62.1%,#06b5cf 62.5%,#02bbc3 62.8%,#28c3ab 63.6%,#3fca8e 64.4%,#89cb53 66.0%,#bac430 67.9%,#e0bc2a 70.2%,#fbbc3d 73.3%,#f7dc2a 96.7%,#f6de29 99.8%)"></i><i style="top:311.2px;background:linear-gradient(90deg,#f5e526 0.2%,#f7dc2a 13.4%,#fcbd3d 20.8%,#dbbd29 25.1%,#c1c32d 26.3%,#8ecb4e 27.4%,#39c895 29.0%,#19bfb5 30.2%,#01bac5 31.3%,#1aacdd 34.4%,#0db3d3 36.8%,#02bac4 38.3%,#32c69e 40.7%,#62cd71 42.6%,#71cd64 44.6%,#6ccd68 46.9%,#38c896 50.0%,#16bfb7 51.6%,#01b8c9 52.3%,#1ea7e1 53.5%,#3a73fe 55.8%,#4758f8 57.4%,#475cfa 58.6%,#3975fe 59.7%,#16afd9 62.1%,#06b5cf 62.5%,#02bbc3 62.8%,#28c3ab 63.6%,#3fca8e 64.4%,#88cb53 66.0%,#c1c32c 68.3%,#e4bb2c 70.6%,#fbbc3d 73.3%,#f7db2a 96.3%,#f6de29 99.8%)"></i><i style="top:315.2px;background:linear-gradient(90deg,#f5e526 0.2%,#f7dc2a 13.4%,#fcbc3d 20.8%,#d9be28 25.1%,#bbc430 26.3%,#85cb56 27.4%,#3fca8e 28.6%,#1bc0b4 29.8%,#01bac6 30.9%,#1caadf 34.0%,#10b2d5 36.8%,#02bac5 38.3%,#22c1b0 39.9%,#62cd71 42.6%,#71cd64 44.6%,#6ccd68 46.9%,#37c898 50.0%,#13beb9 51.6%,#04bbc1 51.9%,#02b7cb 52.3%,#1fa5e2 53.5%,#3b72ff 55.8%,#4758f8 57.4%,#475cfa 58.6%,#3975fe 59.7%,#16afd9 62.1%,#06b5cf 62.5%,#02bbc3 62.8%,#28c2ab 63.6%,#3eca8f 64.4%,#87cb54 66.0%,#b9c431 67.9%,#d9bd28 69.8%,#fabb3d 73.0%,#f7db2b 96.3%,#f6dd29 99.8%)"></i><i style="top:319.1px;background:linear-gradient(90deg,#f5e526 0.2%,#f7dc2a 13.4%,#fcbc3d 20.8%,#d7be28 25.1%,#b4c533 26.3%,#7acc5e 27.4%,#37c898 28.6%,#11beba 29.8%,#01bac5 30.5%,#1da8e0 33.7%,#16afd9 36.4%,#01b9c6 38.3%,#16bfb7 39.5%,#62cd70 42.6%,#71cd64 44.6%,#6ccd68 46.9%,#36c799 50.0%,#1ec0b2 51.2%,#02bbc3 51.9%,#2994ed 54.3%,#347afd 55.4%,#4561fc 56.6%,#4755f6 57.8%,#416bfe 59.3%,#2d8af5 60.5%,#16afd9 62.1%,#06b5cf 62.5%,#02bbc3 62.8%,#28c2ab 63.6%,#50cc7f 64.8%,#86cb54 66.0%,#c0c32d 68.3%,#debc2a 70.2%,#fbbc3d 73.3%,#f7db2a 96.7%,#f6dd29 99.8%)"></i><i style="top:323.1px;background:linear-gradient(90deg,#f5e526 0.2%,#f7dd2a 13.0%,#fbbc3d 20.8%,#dbbd28 24.7%,#bec32e 25.9%,#87cb54 27.0%,#3eca8f 28.2%,#15bfb7 29.4%,#02bac4 30.2%,#1ea7e1 33.3%,#1aabdd 36.0%,#01b9c7 38.3%,#15bfb7 39.5%,#62cd70 42.6%,#71cd64 44.6%,#6ccd69 46.9%,#3bc992 49.6%,#1cc0b3 51.2%,#02bac5 51.9%,#259be8 53.9%,#3578fd 55.4%,#475af9 57.0%,#4756f7 58.2%,#416bfe 59.3%,#2994ed 60.9%,#16afd9 62.1%,#06b5ce 62.5%,#02bbc3 62.8%,#28c2ab 63.6%,#50cc80 64.8%,#92ca4b 66.3%,#c6c22a 68.7%,#e8bb2f 71.0%,#fbbc3d 73.3%,#f7db2b 96.7%,#f7dd2a 99.8%)"></i><i style="top:327.1px;background:linear-gradient(90deg,#f5e526 0.2%,#f7dd2a 13.0%,#fbbc3d 20.8%,#d9be28 24.7%,#b8c431 25.9%,#7dcc5b 27.0%,#36c898 28.2%,#0cbdbc 29.4%,#01b8c9 30.2%,#1da8e0 32.5%,#20a4e3 34.8%,#10b2d5 37.2%,#01b9c8 38.3%,#15bfb7 39.5%,#63cd70 42.6%,#71cd64 44.6%,#6bcd69 46.9%,#34c79c 50.0%,#1ac0b5 51.2%,#01b9c6 51.9%,#22a1e4 53.5%,#3777fe 55.4%,#4759f9 57.0%,#4756f7 58.2%,#416bfe 59.3%,#2994ed 60.9%,#16afd9 62.1%,#06b5ce 62.5%,#02bbc3 62.8%,#28c2ab 63.6%,#3dca90 64.4%,#85cb55 66.0%,#bfc32d 68.3%,#debd29 70.2%,#fbbc3d 73.3%,#f7db2b 96.7%,#f7dd2a 99.8%)"></i><i style="top:331.1px;background:linear-gradient(90deg,#f5e526 0.2%,#f7dd2a 13.0%,#fbbc3d 20.8%,#d7be28 24.7%,#b3c534 25.9%,#73cd63 27.0%,#40ca8d 27.8%,#14beb8 29.0%,#01b9c6 29.8%,#1fa6e2 32.5%,#21a3e4 34.8%,#11b1d6 37.2%,#01b9c8 38.3%,#16bfb7 39.5%,#5dcc75 42.2%,#71cd64 44.2%,#6bcd69 46.9%,#33c69d 50.0%,#18bfb6 51.2%,#01b9c8 51.9%,#23a0e5 53.5%,#3875fe 55.4%,#4758f8 57.0%,#4756f6 58.2%,#416bfe 59.3%,#2994ed 60.9%,#15afd9 62.1%,#06b5ce 62.5%,#02bbc3 62.8%,#27c2ab 63.6%,#4fcc80 64.8%,#91ca4c 66.3%,#c6c22a 68.7%,#e8bb2e 71.0%,#fbbc3d 73.3%,#f7db2b 96.7%,#f7dd2a 99.8%)"></i><i style="top:335.1px;background:linear-gradient(90deg,#f5e526 0.2%,#f7dd2a 13.0%,#fcbd3d 20.4%,#dbbd29 24.3%,#bdc32e 25.5%,#84cc56 26.7%,#3ac994 27.8%,#0dbdbc 29.0%,#01b8c9 29.8%,#1da9e0 31.7%,#249fe5 34.4%,#12b1d6 37.2%,#01b9c8 38.3%,#0bbdbd 39.1%,#5dcc75 42.2%,#71cd64 44.2%,#6bcd69 46.9%,#39c895 49.6%,#24c1af 50.8%,#07bcc0 51.6%,#01b8c9 51.9%,#1ea7e1 53.1%,#3a74fe 55.4%,#4757f8 57.0%,#4756f6 58.2%,#416bfe 59.3%,#2d8af4 60.5%,#15afd9 62.1%,#06b6ce 62.5%,#02bbc3 62.8%,#27c2ab 63.6%,#4fcc80 64.8%,#91ca4c 66.3%,#c6c22a 68.7%,#e7bb2e 71.0%,#fbbc3d 73.3%,#f7db2b 96.7%,#f7dd2a 99.8%)"></i><i style="top:339.1px;background:linear-gradient(90deg,#f5e526 0.2%,#f7dd2a 13.0%,#fcbc3d 20.4%,#dabd28 24.3%,#b9c430 25.5%,#7dcc5b 26.7%,#35c79a 27.8%,#08bcbe 29.0%,#03b7cc 29.8%,#1ea7e1 31.7%,#249ee6 34.4%,#12b1d6 37.2%,#01b9c8 38.3%,#0cbdbc 39.1%,#5ecc74 42.2%,#71cd64 44.2%,#6bcd69 46.9%,#32c69f 50.0%,#14beb8 51.2%,#05bbc1 51.6%,#01b8ca 51.9%,#1fa6e2 53.1%,#3b73fe 55.4%,#4853f5 57.4%,#475bfa 58.6%,#3876fe 59.7%,#15afd9 62.1%,#06b6ce 62.5%,#03bbc3 62.8%,#28c2ab 63.6%,#3dca90 64.4%,#85cb55 66.0%,#bec32e 68.3%,#debd29 70.2%,#fbbc3d 73.3%,#f7db2b 96.7%,#f7dd2a 99.8%)"></i><i style="top:343.1px;background:linear-gradient(90deg,#f5e526 0.2%,#f7dd2a 13.0%,#fcbc3d 20.4%,#d8be28 24.3%,#b5c533 25.5%,#77cc60 26.7%,#42ca8b 27.4%,#14beb8 28.6%,#01b9c7 29.4%,#1fa5e2 31.7%,#259be8 34.0%,#12b1d6 37.2%,#01b9c7 38.3%,#0dbdbc 39.1%,#5ecd74 42.2%,#71cd64 44.2%,#6bcd69 46.9%,#32c69f 50.0%,#13beb9 51.2%,#04bbc2 51.6%,#02b7cb 51.9%,#20a5e2 53.1%,#3c71ff 55.4%,#4852f4 57.4%,#4563fd 58.9%,#2f81fa 60.1%,#15afd9 62.1%,#05b6ce 62.5%,#03bbc2 62.8%,#33c69e 64.0%,#51cc7f 64.8%,#92ca4b 66.3%,#c6c22a 68.7%,#e8bb2e 71.0%,#fbbc3d 73.3%,#f7db2b 96.7%,#f7dc2a 99.8%)"></i><i style="top:347.1px;background:linear-gradient(90deg,#f5e526 0.2%,#f7dc2a 13.4%,#fbbc3d 20.4%,#ddbd29 23.9%,#c1c32c 25.1%,#8acb52 26.3%,#3eca8f 27.4%,#10beba 28.6%,#03bbc2 29.0%,#07b5cf 29.8%,#20a4e3 31.7%,#269ae8 34.0%,#12b1d6 37.2%,#01b9c7 38.3%,#37c897 40.7%,#65cd6e 42.6%,#71cd64 44.2%,#6ccd69 46.9%,#37c897 49.6%,#20c1b1 50.8%,#03bbc2 51.6%,#03b7cc 51.9%,#20a4e3 53.1%,#3e70ff 55.4%,#4852f4 57.4%,#475cfa 58.6%,#2f82fa 60.1%,#1da8e0 61.7%,#04b6cd 62.5%,#04bbc2 62.8%,#34c79c 64.0%,#88cb53 66.0%,#b8c431 67.9%,#d9be28 69.8%,#fbbc3d 73.3%,#f8db2b 96.7%,#f7dc2a 99.8%)"></i><i style="top:351.1px;background:linear-gradient(90deg,#f5e526 0.2%,#f7dc2a 13.4%,#fbbc3d 20.4%,#d5be28 24.3%,#aec637 25.5%,#6ccd69 26.7%,#3ac993 27.4%,#0cbdbc 28.6%,#02b7cb 29.4%,#1fa6e2 31.3%,#2699e9 34.0%,#12b1d6 37.2%,#01b9c6 38.3%,#0fbeba 39.1%,#5fcd73 42.2%,#72cd64 44.2%,#6ccd68 46.9%,#37c897 49.6%,#20c1b1 50.8%,#02bac3 51.6%,#04b6cd 51.9%,#21a3e3 53.1%,#3677fe 55.1%,#465ffb 56.2%,#4851f3 57.4%,#475dfa 58.6%,#2f82f9 60.1%,#13b0d7 62.1%,#04b6cc 62.5%,#05bbc1 62.8%,#2bc3a8 63.6%,#43ca8b 64.4%,#8bcb51 66.0%,#c1c32c 68.3%,#e4bb2c 70.6%,#fbbc3d 73.3%,#f8da2b 96.7%,#f7dc2a 99.8%)"></i><i style="top:355.1px;background:linear-gradient(90deg,#f5e526 0.2%,#f7db2b 13.8%,#fbbc3d 20.4%,#dabd28 23.9%,#bbc42f 25.1%,#81cc58 26.3%,#37c897 27.4%,#0abdbe 28.6%,#01bac5 29.0%,#20a5e2 31.3%,#2698ea 34.0%,#12b1d6 37.2%,#01b9c6 38.3%,#66cd6d 42.6%,#73cd63 44.6%,#6dcd68 46.9%,#38c897 49.6%,#1fc0b2 50.8%,#02bac4 51.6%,#269ae9 53.5%,#3876fe 55.1%,#4757f7 56.6%,#4852f4 57.8%,#3e6fff 59.3%,#1ca9df 61.7%,#02b7cb 62.5%,#07bcbf 62.8%,#5bcc76 64.8%,#8ecb4e 66.0%,#c3c22b 68.3%,#e4bb2c 70.6%,#fbbc3d 73.3%,#f8da2b 96.7%,#f7dc2a 99.8%)"></i><i style="top:359.0px;background:linear-gradient(90deg,#f5e526 0.2%,#f7db2a 13.8%,#fcbd3d 20.0%,#d9be28 23.9%,#b8c431 25.1%,#7dcc5c 26.3%,#48cb86 27.0%,#18bfb6 28.2%,#07bcbf 28.6%,#05b6cd 29.4%,#1ea8e1 30.9%,#2796eb 33.7%,#18aedb 36.8%,#01b9c6 38.3%,#61cd72 42.2%,#73cd63 43.8%,#6dcd67 46.9%,#38c896 49.6%,#1ec0b2 50.8%,#02bac5 51.6%,#23a1e4 53.1%,#3a74fe 55.1%,#4756f6 56.6%,#4852f4 57.8%,#3d70ff 59.3%,#1baade 61.7%,#01b8ca 62.5%,#09bcbe 62.8%,#61cd71 64.8%,#92ca4b 66.0%,#c4c22b 68.3%,#e5bb2d 70.6%,#fbbc3d 73.3%,#f8da2b 96.7%,#f7dc2a 99.8%)"></i><i style="top:363.0px;background:linear-gradient(90deg,#f5e526 0.2%,#f7dc2a 13.8%,#fcbd3d 20.0%,#d7be28 23.9%,#b5c533 25.1%,#78cc5f 26.3%,#43ca8a 27.0%,#14beb8 28.2%,#05bbc1 28.6%,#06b5cf 29.4%,#1baade 30.5%,#2895ec 33.7%,#18aedb 36.8%,#01bac5 38.3%,#68cd6b 42.6%,#74cc62 44.2%,#6ecd66 46.9%,#41ca8c 49.2%,#1dc0b3 50.8%,#01b9c6 51.6%,#23a0e5 53.1%,#3c72ff 55.1%,#4854f5 56.6%,#4853f5 57.8%,#3c72ff 59.3%,#1aabdd 61.7%,#01b8c8 62.5%,#3dc990 64.0%,#8bcb51 65.6%,#bfc32d 67.9%,#e1bc2b 70.2%,#fbbc3d 73.3%,#f8da2b 96.7%,#f7dc2a 99.8%)"></i><i style="top:367.0px;background:linear-gradient(90deg,#f5e526 0.2%,#f7dc2a 13.8%,#fcbc3d 20.0%,#d6be28 23.9%,#b1c635 25.1%,#72cd63 26.3%,#3fca8e 27.0%,#10beba 28.2%,#03bbc2 28.6%,#08b5d0 29.4%,#1fa5e2 30.9%,#2994ed 33.7%,#18aedb 36.8%,#02b7cb 37.9%,#09bcbe 38.7%,#5bcc77 41.8%,#75cc62 43.8%,#6fcd66 46.9%,#42ca8c 49.2%,#1cc0b3 50.8%,#01b9c7 51.6%,#249ee6 53.1%,#3479fd 54.7%,#465ffb 55.8%,#484ff2 57.0%,#4561fc 58.6%,#2d88f6 60.1%,#19addc 61.7%,#01b9c6 62.5%,#42ca8b 64.0%,#82cc58 65.2%,#b3c534 67.1%,#d8be28 69.5%,#fbbc3d 73.3%,#f8da2b 96.7%,#f7dc2a 99.8%)"></i><i style="top:371.0px;background:linear-gradient(90deg,#f5e526 0.2%,#f7dc2a 13.8%,#fbbc3d 20.0%,#dbbd29 23.5%,#bdc32e 24.7%,#86cb55 25.9%,#3bc993 27.0%,#0cbdbc 28.2%,#02bac4 28.6%,#20a4e3 30.9%,#2a93ee 33.7%,#18aedb 36.8%,#01b8ca 37.9%,#0abdbd 38.7%,#2dc4a5 39.9%,#6bcd69 42.6%,#76cc61 44.6%,#70cd65 46.9%,#42ca8b 49.2%,#1bc0b4 50.8%,#01b8c8 51.6%,#1fa5e2 52.7%,#3777fe 54.7%,#4756f6 56.2%,#4850f3 57.4%,#416bfe 58.9%,#2d8af5 60.1%,#17aeda 61.7%,#07b5d0 62.1%,#02bac4 62.5%,#49cb85 64.0%,#88cb53 65.2%,#b6c533 67.1%,#d9bd28 69.5%,#fbbc3d 73.3%,#f8d92b 96.7%,#f7dc2a 99.8%)"></i><i class="b" style="top:375.0px;background:linear-gradient(90deg,#f5e526 0.2%,#f7dc2a 13.8%,#fbbc3d 20.0%,#dabd28 23.5%,#bac430 24.7%,#81cc58 25.9%,#38c896 27.0%,#09bdbe 28.2%,#01b9c6 28.6%,#21a3e4 30.9%,#2b92ee 33.7%,#18aedb 36.8%,#01b8ca 37.9%,#0bbdbd 38.7%,#2ec4a4 39.9%,#64cd6f 42.2%,#76cc60 43.8%,#71cd64 46.9%,#43ca8b 49.2%,#1ac0b5 50.8%,#08bcbf 51.2%,#01b8c9 51.6%,#20a4e3 52.7%,#3975fe 54.7%,#4854f5 56.2%,#4850f3 57.4%,#406dfe 58.9%,#2d8bf4 60.1%,#16afd9 61.7%,#06b6ce 62.1%,#03bbc2 62.5%,#4fcc80 64.0%,#7dcc5b 64.8%,#a9c73b 66.3%,#d0bf27 68.7%,#fabb3d 73.0%,#f8d92c 96.3%,#f7dc2a 99.8%)"></i><i class="b" style="top:377.0px;background:linear-gradient(90deg,#f5e526 0.2%,#f7dc2a 13.8%,#fbbc3d 20.0%,#d9be28 23.5%,#b8c431 24.7%,#7ecc5b 25.9%,#36c899 27.0%,#07bcbf 28.2%,#01b9c7 28.6%,#1fa6e2 30.5%,#2b90ef 33.3%,#17aedb 36.8%,#01b8c9 37.9%,#0cbdbc 38.7%,#2ec5a4 39.9%,#65cd6e 42.2%,#77cc60 43.8%,#71cd64 46.9%,#4ecc81 48.8%,#19bfb5 50.8%,#07bcbf 51.2%,#01b8ca 51.6%,#21a3e3 52.7%,#3a73fe 54.7%,#4853f5 56.2%,#4851f3 57.4%,#3f6efe 58.9%,#2896ec 60.5%,#14b0d8 61.7%,#04b6cd 62.1%,#05bbc1 62.5%,#3cc991 63.6%,#80cc59 64.8%,#b2c635 66.7%,#d6be28 69.1%,#fbbc3d 73.3%,#f8d92b 96.7%,#f7dc2a 99.8%)"></i><i class="b" style="top:379.0px;background:linear-gradient(90deg,#f5e526 0.2%,#f7dd2a 13.8%,#fbbc3d 20.0%,#d7be28 23.5%,#b5c533 24.7%,#7acc5e 25.9%,#46cb88 26.7%,#15bfb7 27.8%,#05bbc1 28.2%,#07b5cf 29.0%,#20a5e2 30.5%,#2c90f0 33.3%,#17aeda 36.8%,#01b8c9 37.9%,#0dbdbb 38.7%,#2fc5a3 39.9%,#6dcd67 42.6%,#78cc5f 44.6%,#72cd63 46.9%,#4fcc81 48.8%,#19bfb6 50.8%,#06bcc0 51.2%,#02b7cb 51.6%,#21a2e4 52.7%,#3c72ff 54.7%,#4852f4 56.2%,#4851f3 57.4%,#3f6fff 58.9%,#2797eb 60.5%,#13b0d7 61.7%,#03b7cc 62.1%,#07bcbf 62.5%,#58cc79 64.0%,#84cc56 64.8%,#bac430 67.1%,#dbbd29 69.5%,#fbbc3d 73.3%,#f8d92b 96.7%,#f7dc2a 99.8%)"></i><i class="b" style="top:381.0px;background:linear-gradient(90deg,#f5e526 0.2%,#f7dd2a 13.8%,#fdbd3d 19.6%,#d6be28 23.5%,#b3c534 24.7%,#76cc61 25.9%,#42ca8c 26.7%,#12beb9 27.8%,#03bbc2 28.2%,#09b4d1 29.0%,#21a4e3 30.5%,#2c8ff1 33.3%,#17aeda 36.8%,#01b8c8 37.9%,#0ebebb 38.7%,#2fc5a2 39.9%,#67cd6d 42.2%,#78cc5f 43.8%,#73cd63 46.9%,#4fcc80 48.8%,#17bfb6 50.8%,#05bbc1 51.2%,#03b7cb 51.6%,#22a2e4 52.7%,#3d70ff 54.7%,#484df1 56.6%,#465efb 58.2%,#347afd 59.3%,#1ca9df 61.3%,#02b7cb 62.1%,#09bcbe 62.5%,#32c69f 63.2%,#5dcc75 64.0%,#87cb54 64.8%,#bbc42f 67.1%,#dcbd29 69.5%,#fbbc3d 73.3%,#f8d92b 96.7%,#f7dc2a 99.8%)"></i><i class="b" style="top:383.1px;background:linear-gradient(90deg,#f5e526 0.2%,#f7dd2a 13.8%,#fcbd3d 19.6%,#dcbd29 23.2%,#bfc32d 24.3%,#89cb52 25.5%,#3eca8f 26.7%,#0ebebb 27.8%,#02bac4 28.2%,#0bb3d2 29.0%,#22a2e4 30.5%,#2c8ef2 33.3%,#17aeda 36.8%,#01b9c8 37.9%,#10beba 38.7%,#67cd6c 42.2%,#79cc5f 43.8%,#73cd63 46.9%,#4fcc80 48.8%,#16bfb7 50.8%,#04bbc2 51.2%,#04b6cc 51.6%,#23a0e5 52.7%,#3579fd 54.3%,#475dfa 55.4%,#484df0 56.6%,#465ffb 58.2%,#337bfc 59.3%,#1baade 61.3%,#01b8c9 62.1%,#0cbdbc 62.5%,#34c79c 63.2%,#79cc5e 64.4%,#9ec942 65.6%,#cec028 68.3%,#fabb3d 73.0%,#f8d92c 96.3%,#f7db2a 99.8%)"></i><i class="b" style="top:385.1px;background:linear-gradient(90deg,#f5e526 0.2%,#f7dd2a 13.8%,#fcbd3d 19.6%,#d4bf27 23.5%,#acc738 24.7%,#6bcd69 25.9%,#3ac994 26.7%,#0abdbd 27.8%,#01b9c6 28.2%,#1fa5e2 30.2%,#2d8cf3 33.3%,#16aeda 36.8%,#01b9c7 37.9%,#69cd6b 42.2%,#79cc5e 43.8%,#74cd62 46.9%,#50cc80 48.8%,#26c2ad 50.4%,#03bbc3 51.2%,#2d8cf3 53.5%,#406dfe 54.7%,#484ff1 56.2%,#4852f4 57.4%,#3c72ff 58.9%,#1aabdd 61.3%,#01b9c8 62.1%,#36c898 63.2%,#7dcc5b 64.4%,#a8c73b 66.0%,#d3bf27 68.7%,#fabb3d 73.0%,#f8d92c 96.3%,#f7db2a 99.8%)"></i><i class="b" style="top:387.1px;background:linear-gradient(90deg,#f5e526 0.2%,#f7dc2a 13.8%,#fcbc3d 19.6%,#d9bd28 23.2%,#b9c431 24.3%,#7fcc5a 25.5%,#36c899 26.7%,#06bcc0 27.8%,#01b8c8 28.2%,#21a3e3 30.2%,#2d8bf4 33.3%,#16afd9 36.8%,#01b9c6 37.9%,#62cd71 41.8%,#79cc5e 43.4%,#74cc62 46.9%,#50cc7f 48.8%,#25c2ae 50.4%,#02bac4 51.2%,#2994ed 53.1%,#3975fe 54.3%,#4759f8 55.4%,#484bef 56.6%,#426afe 58.6%,#2d88f6 59.7%,#19addc 61.3%,#02bac5 62.1%,#3ac994 63.2%,#81cc58 64.4%,#b1c635 66.3%,#d4bf28 68.7%,#fabb3d 73.0%,#f9d82c 95.9%,#f7db2a 99.8%)"></i><i class="b" style="top:389.1px;background:linear-gradient(90deg,#f5e526 0.2%,#f7dc2a 13.8%,#fcbc3d 19.6%,#d8be28 23.2%,#b5c533 24.3%,#77cc60 25.5%,#42ca8b 26.3%,#11beba 27.4%,#02bbc3 27.8%,#0bb3d2 28.6%,#23a1e4 30.2%,#2d89f6 32.9%,#1fa6e2 36.0%,#01bac5 37.9%,#5bcc76 41.4%,#77cc5f 43.0%,#78cc5f 46.5%,#5bcc76 48.4%,#24c1af 50.4%,#02bac5 51.2%,#259ce7 52.7%,#3b72ff 54.3%,#4850f3 55.8%,#484ef1 57.0%,#416bfe 58.6%,#2d8af4 59.7%,#16afd9 61.3%,#06b6ce 61.7%,#04bbc2 62.1%,#3fca8e 63.2%,#72cd63 64.0%,#92ca4c 64.8%,#c6c22a 67.5%,#e9bb30 70.6%,#fcbd3d 73.7%,#f8d92b 97.1%,#f7db2a 99.8%)"></i><i class="b" style="top:391.1px;background:linear-gradient(90deg,#f5e526 0.2%,#f7db2a 13.8%,#fbbc3d 19.6%,#d6be28 23.2%,#b0c636 24.3%,#6ecd66 25.5%,#3bc993 26.3%,#09bdbe 27.4%,#01b9c7 27.8%,#21a3e3 29.8%,#2e87f7 32.9%,#1aabdd 36.4%,#02b7cb 37.5%,#0bbdbc 38.3%,#2ec5a4 39.5%,#66cd6d 41.8%,#7bcc5d 43.4%,#76cc61 46.9%,#51cc7f 48.8%,#22c1b0 50.4%,#01b9c7 51.2%,#20a4e3 52.3%,#3e6fff 54.3%,#484bee 56.2%,#475cfa 57.8%,#2f83f9 59.3%,#1da9e0 60.9%,#02b7cb 61.7%,#0abdbe 62.1%,#46cb88 63.2%,#78cc5f 64.0%,#9ec942 65.2%,#ccc028 67.9%,#f0ba36 71.4%,#febe3c 74.5%,#f8da2b 97.9%,#f7db2a 99.8%)"></i><i class="b" style="top:393.1px;background:linear-gradient(90deg,#f5e526 0.2%,#f7db2b 13.8%,#fbbc3d 19.6%,#d4bf28 23.2%,#abc739 24.3%,#64cd6f 25.5%,#35c79a 26.3%,#03bbc2 27.4%,#0bb3d2 28.2%,#20a5e2 29.4%,#2e85f8 32.5%,#2798ea 34.8%,#13b0d7 36.8%,#01b8c9 37.5%,#0fbebb 38.3%,#30c5a1 39.5%,#69cd6b 41.8%,#7ccc5c 43.4%,#76cc60 46.9%,#5dcc75 48.4%,#01b8c8 51.2%,#22a2e4 52.3%,#3678fe 53.9%,#475af9 55.1%,#4849ed 56.2%,#465dfb 57.8%,#337bfd 58.9%,#1aacdd 60.9%,#01b9c7 61.7%,#4ecc81 63.2%,#7ecc5b 64.0%,#a8c73b 65.6%,#d2bf27 68.3%,#fabb3d 73.0%,#f9d82c 95.9%,#f7db2a 99.8%)"></i><i class="b" style="top:395.1px;background:linear-gradient(90deg,#f5e526 0.2%,#f7dc2a 13.4%,#fbbc3d 19.6%,#d9bd28 22.8%,#b6c532 23.9%,#75cc61 25.1%,#3eca8f 25.9%,#0abdbd 27.0%,#01b9c7 27.4%,#1ea7e1 29.0%,#2f82fa 32.5%,#1ea7e1 36.0%,#01b9c8 37.5%,#64cd6e 41.4%,#7bcc5d 43.0%,#77cc60 46.9%,#5dcc75 48.4%,#1ec0b2 50.4%,#08bcbe 50.8%,#02b7ca 51.2%,#1ca9df 51.9%,#3974fe 53.9%,#4757f7 55.1%,#4848ec 56.2%,#4368fe 58.2%,#2d88f6 59.3%,#16aeda 60.9%,#06b5cf 61.3%,#04bbc2 61.7%,#3dca90 62.8%,#83cc57 64.0%,#b1c635 66.0%,#d7be28 68.7%,#fbbc3d 73.3%,#f8d92c 96.7%,#f7db2a 99.8%)"></i><i class="b" style="top:397.2px;background:linear-gradient(90deg,#f5e526 0.2%,#f7db2b 13.4%,#fdbd3d 19.3%,#d7be28 22.8%,#c1c32c 23.5%,#85cb55 24.7%,#36c899 25.9%,#03bbc3 27.0%,#03b7cb 27.4%,#1da9e0 28.6%,#3080fb 32.1%,#2c8ef2 34.0%,#18addb 36.4%,#01b9c6 37.5%,#60cd72 41.1%,#7dcc5c 43.0%,#78cc5f 46.9%,#5ecd74 48.4%,#1bc0b4 50.4%,#06bcc0 50.8%,#04b6cd 51.2%,#1ea7e1 51.9%,#317dfc 53.5%,#475cfa 54.7%,#4848ec 56.2%,#416bfe 58.2%,#2d8cf3 59.3%,#11b1d6 60.9%,#01b8ca 61.3%,#0bbdbc 61.7%,#25c2ae 62.1%,#46cb88 62.8%,#76cc60 63.6%,#9cc944 64.8%,#cac129 67.5%,#eeba34 71.0%,#fdbd3d 74.1%,#f8d92b 97.5%,#f7db2a 99.8%)"></i><i class="b" style="top:399.2px;background:linear-gradient(90deg,#f5e526 0.2%,#f7dc2a 13.0%,#fcbd3d 19.3%,#dcbd29 22.4%,#bbc42f 23.5%,#79cc5e 24.7%,#3fca8e 25.5%,#09bcbe 26.7%,#01b9c8 27.0%,#20a5e2 28.6%,#327cfc 32.1%,#2698ea 34.8%,#17aeda 36.4%,#03b7cc 37.2%,#02bac4 37.5%,#5bcc77 40.7%,#7ccc5c 42.6%,#7ccc5c 46.5%,#5fcd73 48.4%,#18bfb6 50.4%,#03bbc3 50.8%,#06b5cf 51.2%,#20a5e2 51.9%,#3579fd 53.5%,#4759f8 54.7%,#4747eb 55.8%,#475bf9 57.4%,#347afd 58.6%,#19addc 60.5%,#02bac4 61.3%,#4fcc81 62.8%,#7dcc5c 63.6%,#a6c73c 65.2%,#d0bf27 67.9%,#fabb3d 73.0%,#f9d82c 95.9%,#f7db2a 99.8%)"></i><i class="b" style="top:401.2px;background:linear-gradient(90deg,#f5e526 0.2%,#f7db2b 13.0%,#fcbc3d 19.3%,#dabd28 22.4%,#c5c22a 23.2%,#a1c840 23.9%,#36c899 25.5%,#02bac4 26.7%,#23a1e5 28.6%,#347afd 31.7%,#2d88f6 33.7%,#15afd8 36.4%,#01b8ca 37.2%,#11beb9 37.9%,#68cd6c 41.1%,#7fcc5a 43.0%,#79cc5e 46.9%,#5fcd73 48.4%,#28c2ab 50.0%,#01bac5 50.8%,#21a2e4 51.9%,#3975fe 53.5%,#4755f6 54.7%,#4745e9 55.8%,#465dfa 57.4%,#317efb 58.6%,#14b0d8 60.5%,#03b7cc 60.9%,#08bcbf 61.3%,#58cc79 62.8%,#82cc58 63.6%,#b6c532 66.0%,#dabd28 68.7%,#fbbc3d 73.3%,#f9d82c 95.9%,#f7db2a 99.8%)"></i><i class="b" style="top:403.2px;background:linear-gradient(90deg,#f5e526 0.2%,#f7db2a 12.6%,#fbbc3d 19.3%,#d8be28 22.4%,#c0c32d 23.2%,#7ccc5c 24.3%,#3fca8e 25.1%,#07bcc0 26.3%,#01b8ca 26.7%,#1da8e0 27.8%,#3678fd 31.3%,#3479fd 32.5%,#1aabdd 36.0%,#01b9c7 37.2%,#6ccd68 41.1%,#80cc59 43.0%,#7acc5e 46.9%,#5fcd73 48.4%,#01b9c8 50.8%,#23a0e5 51.9%,#317dfb 53.1%,#475bf9 54.3%,#4745e9 55.4%,#484ff2 56.6%,#426afe 57.8%,#2d8df2 58.9%,#1aabdd 60.1%,#01b9c6 60.9%,#49cb86 62.5%,#87cb54 63.6%,#b8c431 66.0%,#dbbd28 68.7%,#fbbc3d 73.3%,#f9d82c 95.9%,#f7db2a 99.8%)"></i><i class="b" style="top:405.2px;background:linear-gradient(90deg,#f5e526 0.2%,#f8db2b 12.6%,#fbbc3d 19.3%,#d5be28 22.4%,#b9c431 23.2%,#8bcb50 23.9%,#35c79a 25.1%,#01b9c6 26.3%,#20a4e3 27.8%,#3777fe 30.9%,#3a74fe 32.1%,#1ea7e1 35.6%,#02bac5 37.2%,#69cd6b 40.7%,#80cc59 42.6%,#7bcc5d 46.9%,#5fcd73 48.4%,#22c1b0 50.0%,#0abdbd 50.4%,#02b7cb 50.8%,#1ea7e1 51.6%,#3479fd 53.1%,#4561fc 53.9%,#4743e7 55.4%,#4759f8 57.0%,#347afd 58.2%,#16afd9 60.1%,#04b6cd 60.5%,#06bcc0 60.9%,#52cc7e 62.5%,#8bcb51 63.6%,#bfc32d 66.3%,#dfbc2a 69.1%,#fbbc3d 73.3%,#f9d82c 95.9%,#f7db2a 99.8%)"></i><i class="b" style="top:407.2px;background:linear-gradient(90deg,#f5e526 0.2%,#f7db2a 12.3%,#fbbc3d 19.3%,#dbbd29 22.0%,#c4c22b 22.8%,#9ac945 23.5%,#3eca8f 24.7%,#19bfb6 25.5%,#03bbc2 25.9%,#04b6cc 26.3%,#1fa6e2 27.4%,#3c71ff 30.9%,#3777fe 32.5%,#17aeda 36.0%,#02b7cb 36.8%,#03bbc2 37.2%,#2cc4a6 38.3%,#6dcd67 40.7%,#82cc58 42.6%,#7ccc5c 46.9%,#5ecd74 48.4%,#1ec0b2 50.0%,#06bcc0 50.4%,#05b6ce 50.8%,#20a4e3 51.6%,#3975fe 53.1%,#4853f5 54.3%,#4742e6 55.4%,#475cfa 57.0%,#317efb 58.2%,#1caadf 59.7%,#01b9c7 60.5%,#44cb8a 62.1%,#82cc58 63.2%,#afc637 65.2%,#d4bf28 67.9%,#fabc3d 73.0%,#f9d82c 96.3%,#f7db2a 99.8%)"></i><i class="b" style="top:409.2px;background:linear-gradient(90deg,#f5e526 0.2%,#f7dc2a 11.9%,#fcbd3d 18.9%,#e0bc2a 21.6%,#bdc32e 22.8%,#8ecb4f 23.5%,#4ccb83 24.3%,#23c1af 25.1%,#0abdbd 25.5%,#01b8c9 25.9%,#1ea7e1 27.0%,#3975fe 30.2%,#406dfe 31.7%,#2c90f0 34.0%,#14b0d8 36.0%,#01b9c8 36.8%,#38c896 38.7%,#71cd64 40.7%,#83cc57 42.6%,#80cc59 46.5%,#6acd6a 48.1%,#19bfb5 50.0%,#02bac3 50.4%,#22a1e4 51.6%,#317dfb 52.7%,#4564fd 53.5%,#4742e6 55.1%,#484cf0 56.2%,#4269fe 57.4%,#2e83f9 58.2%,#17aedb 59.7%,#06b5cf 60.1%,#04bbc1 60.5%,#2dc4a5 61.3%,#4dcb82 62.1%,#87cb54 63.2%,#bdc32e 66.0%,#ddbd29 68.7%,#fcbc3d 73.3%,#f9d82c 95.9%,#f7db2a 99.8%)"></i><i class="b" style="top:411.3px;background:linear-gradient(90deg,#f5e526 0.2%,#f7db2a 11.9%,#fcbc3d 18.9%,#ddbd29 21.6%,#c7c129 22.4%,#9dc943 23.2%,#3dc990 24.3%,#15bfb8 25.1%,#02bac4 25.5%,#21a3e3 27.0%,#3975fe 29.8%,#4368fe 31.3%,#2d8af5 33.7%,#1aabdd 35.6%,#05b6ce 36.4%,#02bac5 36.8%,#6ecd66 40.3%,#84cc56 42.2%,#81cc59 46.5%,#6acd6a 48.1%,#2ac3a9 49.6%,#01b9c7 50.4%,#249ee6 51.6%,#416bfe 53.1%,#4744e8 54.7%,#4746ea 55.8%,#406dfe 57.4%,#2e87f7 58.2%,#11b1d6 59.7%,#01b8c9 60.1%,#55cc7b 62.1%,#8bcb51 63.2%,#bec32e 66.0%,#debd29 68.7%,#fcbc3d 73.3%,#f9d82c 95.9%,#f7db2a 99.8%)"></i><i class="b" style="top:413.3px;background:linear-gradient(90deg,#f5e526 0.2%,#f7dc2a 11.5%,#fcbc3d 18.9%,#dbbd29 21.6%,#c1c32c 22.4%,#91ca4c 23.2%,#4ccb83 23.9%,#21c1b1 24.7%,#07bcbf 25.1%,#02b7cb 25.5%,#20a5e2 26.7%,#3e6fff 29.8%,#4466fd 31.3%,#2e83f9 33.3%,#19addc 35.6%,#02b7cb 36.4%,#03bbc2 36.8%,#2ec4a5 37.9%,#51cc7f 39.1%,#72cd63 40.3%,#85cb55 42.2%,#81cc58 46.5%,#6acd6a 48.1%,#26c2ac 49.6%,#0dbdbc 50.0%,#01b7ca 50.4%,#1fa6e2 51.2%,#3974fe 52.7%,#4851f3 53.9%,#473ee1 55.1%,#475af9 56.6%,#307ffb 57.8%,#19acdc 59.3%,#08b4d1 59.7%,#02bac3 60.1%,#72cd64 62.5%,#97ca47 63.6%,#cac129 66.7%,#eeba34 70.6%,#fdbd3d 73.7%,#f8d92c 97.1%,#f7db2a 99.8%)"></i><i class="b" style="top:415.3px;background:linear-gradient(90deg,#f5e526 0.2%,#f7db2a 11.5%,#fbbc3d 18.9%,#d8be28 21.6%,#b9c430 22.4%,#83cc57 23.2%,#3dc990 23.9%,#12beb9 24.7%,#01b9c6 25.1%,#23a0e5 26.7%,#3876fe 29.0%,#4562fc 30.5%,#3f6fff 32.1%,#2e84f8 33.3%,#16afda 35.6%,#01b8c8 36.4%,#47cb87 38.7%,#6fcd66 39.9%,#86cb55 41.8%,#82cc58 46.5%,#69cd6b 48.1%,#22c1b0 49.6%,#07bcbf 50.0%,#05b6ce 50.4%,#21a3e3 51.2%,#317efb 52.3%,#4562fc 53.1%,#473fe2 54.7%,#4849ed 55.8%,#4368fe 57.0%,#2e83f9 57.8%,#14b0d8 59.3%,#02b7cb 59.7%,#09bdbe 60.1%,#22c1b0 60.5%,#50cc80 61.7%,#87cb54 62.8%,#bcc42f 65.6%,#dcbd29 68.3%,#fcbc3d 73.3%,#f8d92c 96.7%,#f7db2a 99.8%)"></i><i class="b" style="top:417.3px;background:linear-gradient(90deg,#f5e526 0.2%,#f7db2b 11.5%,#fbbc3d 18.9%,#debd29 21.2%,#c5c22a 22.0%,#95ca49 22.8%,#4ecc82 23.5%,#20c1b1 24.3%,#06bcc0 24.7%,#03b7cc 25.1%,#1baade 25.9%,#3777fe 28.6%,#465ffb 30.5%,#3f6eff 32.1%,#2e85f8 33.3%,#13b0d7 35.6%,#01bac5 36.4%,#6acd6a 39.5%,#85cb55 41.4%,#83cc57 46.5%,#73cd63 47.7%,#54cc7c 48.4%,#1cc0b4 49.6%,#02bbc3 50.0%,#23a0e5 51.2%,#3579fd 52.3%,#465efb 53.1%,#463de0 54.7%,#484bee 55.8%,#406cfe 57.0%,#2994ed 58.2%,#1caadf 58.9%,#01b9c6 59.7%,#57cc7a 61.7%,#8acb51 62.8%,#c3c22b 66.0%,#e7bb2d 69.5%,#fcbc3d 73.3%,#f8d92c 96.7%,#f7db2a 99.8%)"></i><i class="b" style="top:419.3px;background:linear-gradient(90deg,#f5e526 0.2%,#f7dc2a 11.1%,#fcbd3d 18.5%,#e3bc2c 20.8%,#cfc028 21.6%,#a6c83d 22.4%,#3eca8f 23.5%,#12beb9 24.3%,#01b9c7 24.7%,#1fa6e1 25.9%,#3c72ff 28.6%,#475bfa 30.5%,#3876fe 32.5%,#1aacdd 35.2%,#03b7cc 36.0%,#03bbc2 36.4%,#2fc5a3 37.5%,#6fcd66 39.5%,#87cb54 41.4%,#84cc56 46.5%,#72cd63 47.7%,#2cc4a7 49.2%,#01b9c7 50.0%,#1ea8e1 50.8%,#3a74fe 52.3%,#475af9 53.1%,#463bdd 54.7%,#484df0 55.8%,#3e6fff 57.0%,#2d8bf4 57.8%,#19addc 58.9%,#06b5cf 59.3%,#04bbc1 59.7%,#2dc4a6 60.5%,#49cb85 61.3%,#82cc58 62.5%,#b3c534 64.8%,#d6be28 67.5%,#fbbc3d 73.0%,#f9d82c 95.5%,#f7db2a 99.8%)"></i><i class="b" style="top:421.3px;background:linear-gradient(90deg,#f5e526 0.2%,#f8da2b 11.5%,#fcbc3d 18.5%,#e0bc2a 20.8%,#c9c129 21.6%,#9ac945 22.4%,#34c79b 23.5%,#06bcc0 24.3%,#04b6cd 24.7%,#1caadf 25.5%,#3a73fe 28.2%,#4759f8 30.2%,#4367fd 31.7%,#2e87f7 33.3%,#18addb 35.2%,#01b8c9 36.0%,#07bcbf 36.4%,#32c69f 37.5%,#73cd63 39.5%,#89cb52 41.4%,#87cb54 46.1%,#6fcd65 47.7%,#26c2ac 49.2%,#0bbdbd 49.6%,#03b7cc 50.0%,#20a4e3 50.8%,#317dfc 51.9%,#4561fc 52.7%,#463cde 54.3%,#463de0 55.1%,#4465fd 56.6%,#2c8ef1 57.8%,#14b0d8 58.9%,#02b7cb 59.3%,#0bbdbd 59.7%,#31c5a1 60.5%,#86cb54 62.5%,#bbc42f 65.2%,#debd2a 68.3%,#fcbd3d 73.3%,#f8d92c 96.7%,#f7db2a 99.8%)"></i><i class="b" style="top:423.3px;background:linear-gradient(90deg,#f5e526 0.2%,#f8da2b 11.5%,#fbbc3d 18.5%,#ddbd29 20.8%,#c2c22c 21.6%,#8bcb51 22.4%,#40ca8d 23.2%,#12beb9 23.9%,#01b9c7 24.3%,#1fa5e2 25.5%,#3875fe 27.8%,#475bfa 29.4%,#4756f7 30.5%,#3f6efe 32.1%,#2d88f6 33.3%,#15afd9 35.2%,#01b9c6 36.0%,#51cc7f 38.3%,#77cc5f 39.5%,#8ccb50 41.4%,#88cb53 46.1%,#77cc60 47.3%,#57cc7a 48.1%,#1dc0b3 49.2%,#03bbc2 49.6%,#23a0e5 50.8%,#3678fe 51.9%,#475cfa 52.7%,#463ada 54.3%,#463ee1 55.1%,#4368fe 56.6%,#2e85f8 57.4%,#1ca9df 58.6%,#01b9c6 59.3%,#29c3aa 60.1%,#57cc7a 61.3%,#8acb52 62.5%,#b7c532 64.8%,#d8be28 67.5%,#fbbc3d 73.0%,#f8d92c 96.3%,#f7db2a 99.8%)"></i><i class="b" style="top:425.4px;background:linear-gradient(90deg,#f5e526 0.2%,#f7db2b 11.1%,#fdbd3d 18.1%,#eeba34 19.6%,#cdc028 21.2%,#9dc943 22.0%,#35c79b 23.2%,#05bbc1 23.9%,#05b6ce 24.3%,#23a1e5 25.5%,#3e6fff 27.8%,#4851f4 30.2%,#3f6dfe 32.1%,#2d89f5 33.3%,#13b1d7 35.2%,#04b6cd 35.6%,#02bbc3 36.0%,#30c5a2 37.2%,#73cd62 39.1%,#8dcb50 41.1%,#8bcb51 45.7%,#73cd63 47.3%,#37c897 48.4%,#01b8c9 49.6%,#1ea7e1 50.4%,#2f81fa 51.6%,#4564fd 52.3%,#463bdd 53.9%,#4539d9 54.7%,#465efb 56.2%,#337afd 57.0%,#19acdc 58.6%,#07b5d0 58.9%,#04bbc1 59.3%,#2dc4a5 60.1%,#49cb85 60.9%,#82cc58 62.1%,#b2c534 64.4%,#d5be28 67.1%,#fabb3d 72.6%,#f9d82c 95.1%,#f7db2a 99.8%)"></i><i class="b" style="top:427.4px;background:linear-gradient(90deg,#f5e526 0.2%,#f7dc2a 10.7%,#fcbd3d 18.1%,#dfbc2a 20.4%,#c5c22a 21.2%,#8ecb4f 22.0%,#41ca8c 22.8%,#11beb9 23.5%,#01b9c8 23.9%,#20a4e3 25.1%,#3c71ff 27.4%,#4851f4 29.4%,#4852f4 30.5%,#406dfe 32.1%,#2d8af5 33.3%,#1aacdd 34.8%,#01b8ca 35.6%,#07bcc0 36.0%,#6ecd67 38.7%,#8acb52 40.3%,#90ca4d 44.9%,#79cc5f 46.9%,#57cc7a 47.7%,#20c1b1 48.8%,#06bcc0 49.2%,#06b5cf 49.6%,#22a2e4 50.4%,#337bfd 51.6%,#465efb 52.3%,#4538d8 53.9%,#4538d8 54.7%,#4660fc 56.2%,#317efb 57.0%,#15afd9 58.6%,#02b7cb 58.9%,#0bbdbd 59.3%,#31c5a1 60.1%,#50cc80 60.9%,#86cb55 62.1%,#bac430 64.8%,#ddbd29 67.9%,#fcbc3d 73.0%,#f8d92c 96.3%,#f7db2a 99.8%)"></i><i class="b" style="top:429.4px;background:linear-gradient(90deg,#f5e526 0.2%,#f7dc2a 10.7%,#fbbc3d 18.1%,#dcbd29 20.4%,#bcc42f 21.2%,#7ccc5c 22.0%,#35c79a 22.8%,#04bbc1 23.5%,#06b5ce 23.9%,#1ea7e1 24.7%,#3a73fe 27.0%,#4756f7 28.6%,#484bef 30.2%,#406dfe 32.1%,#2d8bf4 33.3%,#18aedb 34.8%,#01b9c7 35.6%,#67cd6c 38.3%,#84cc56 39.5%,#92ca4b 41.8%,#8ecb4f 45.3%,#7ecc5b 46.5%,#60cd72 47.3%,#01b9c7 49.2%,#259ce7 50.4%,#3a74fe 51.6%,#4759f8 52.3%,#4536d3 53.9%,#4538d8 54.7%,#4563fd 56.2%,#2f81fa 57.0%,#1da8e0 58.2%,#01b9c7 58.9%,#57cc7a 60.9%,#89cb52 62.1%,#bcc42f 64.8%,#debd29 67.9%,#fbbc3d 72.6%,#f9d82c 95.1%,#f7db2a 99.8%)"></i><i class="b" style="top:431.4px;background:linear-gradient(90deg,#f5e526 0.2%,#f8da2b 11.1%,#fabc3d 18.1%,#e1bc2b 20.0%,#c7c129 20.8%,#90ca4d 21.6%,#41ca8c 22.4%,#10beba 23.2%,#01b8c9 23.5%,#21a3e4 24.7%,#3876fe 26.7%,#4757f7 28.2%,#4746ea 29.8%,#4464fd 31.7%,#2e83f9 32.9%,#1da8e0 34.4%,#05b6ce 35.2%,#02bbc3 35.6%,#31c6a0 36.8%,#7acc5e 38.7%,#93ca4a 40.7%,#91ca4c 44.9%,#77cc60 46.5%,#30c5a1 48.1%,#07bcc0 48.8%,#05b6ce 49.2%,#21a3e3 50.0%,#327cfc 51.2%,#4660fb 51.9%,#4537d6 53.5%,#4434cf 54.3%,#484cf0 55.4%,#4466fd 56.2%,#2e85f8 57.0%,#1aabde 58.2%,#09b4d1 58.6%,#03bbc2 58.9%,#2dc4a6 59.7%,#49cb86 60.5%,#81cc58 61.7%,#b2c635 64.0%,#d4bf28 66.7%,#fabb3d 72.2%,#f9d72d 94.0%,#f7db2a 99.8%)"></i><i class="b" style="top:433.4px;background:linear-gradient(90deg,#f5e526 0.2%,#f8da2b 11.1%,#fcbc3d 17.7%,#ddbd29 20.0%,#bec32e 20.8%,#a2c83f 21.2%,#35c79a 22.4%,#04bbc2 23.2%,#07b5cf 23.5%,#1fa6e2 24.3%,#3e6fff 26.7%,#4746eb 29.0%,#4746ea 30.2%,#3f6eff 32.1%,#11b1d6 34.8%,#02b7cb 35.2%,#07bcbf 35.6%,#2bc4a7 36.4%,#55cc7b 37.5%,#80cc59 38.7%,#96ca48 40.7%,#94ca4a 44.6%,#7bcc5d 46.1%,#45cb89 47.3%,#28c3aa 48.1%,#01b9c7 48.8%,#249de6 50.0%,#3876fe 51.2%,#475af9 51.9%,#4435d0 53.5%,#4332c9 53.9%,#4639d9 54.7%,#475bf9 55.8%,#3579fd 56.6%,#17aeda 58.2%,#03b6cc 58.6%,#09bdbe 58.9%,#22c1af 59.3%,#50cc80 60.5%,#85cb55 61.7%,#b9c430 64.4%,#dcbd29 67.5%,#fbbc3d 72.6%,#f8d92c 95.9%,#f7db2a 99.8%)"></i><i class="b" style="top:435.4px;background:linear-gradient(90deg,#f5e526 0.2%,#f7db2b 10.7%,#fbbc3d 17.7%,#e2bc2b 19.6%,#cac129 20.4%,#b2c535 20.8%,#6acd6a 21.6%,#42ca8c 22.0%,#10beba 22.8%,#01b8c9 23.2%,#1caadf 23.9%,#3b72fe 26.3%,#4852f4 27.8%,#473fe2 29.4%,#4853f4 30.9%,#3e6fff 32.1%,#19acdc 34.4%,#01b9c7 35.2%,#4bcb84 37.2%,#7ccc5c 38.3%,#98ca47 40.3%,#97ca48 44.2%,#7fcc5a 45.7%,#4ccb83 46.9%,#1dc0b2 48.1%,#06bcc0 48.4%,#06b5ce 48.8%,#21a3e3 49.6%,#317dfb 50.8%,#4561fc 51.6%,#4537d6 53.1%,#4330c5 53.9%,#4744e8 55.1%,#406dfe 56.2%,#317dfc 56.6%,#1fa6e1 57.8%,#01b9c8 58.6%,#57cc7a 60.5%,#89cb52 61.7%,#bbc430 64.4%,#ddbd29 67.5%,#fcbc3d 72.6%,#f9d72d 93.6%,#f7db2a 99.8%)"></i><i class="b" style="top:437.4px;background:linear-gradient(90deg,#f5e526 0.2%,#f7db2b 10.7%,#fdbd3d 17.3%,#edba33 18.9%,#d3bf27 20.0%,#c0c32d 20.4%,#a4c83e 20.8%,#35c79a 22.0%,#03bbc2 22.8%,#07b5d0 23.2%,#18aedb 23.5%,#3876fe 25.9%,#475bf9 27.0%,#463bdd 29.4%,#475bfa 31.3%,#317dfc 32.5%,#16afd9 34.4%,#06b6ce 34.8%,#03bbc2 35.2%,#67cd6c 37.5%,#8acb52 38.7%,#9cc944 40.7%,#96ca48 44.2%,#77cc60 45.7%,#10beba 48.1%,#01b9c8 48.4%,#249ee6 49.6%,#3777fe 50.8%,#475bf9 51.6%,#4434cf 53.1%,#4330c4 53.5%,#4434cd 54.3%,#4853f5 55.4%,#3d70ff 56.2%,#2f81fa 56.6%,#1caadf 57.8%,#02bbc3 58.6%,#2dc4a6 59.3%,#49cb86 60.1%,#81cc58 61.3%,#b7c532 64.0%,#dbbd28 67.1%,#fcbd3d 72.6%,#f8d92c 95.9%,#f7db2a 99.8%)"></i><i class="b" style="top:439.5px;background:linear-gradient(90deg,#f5e526 0.2%,#f7dc2a 10.3%,#fcbc3d 17.3%,#dabd28 19.6%,#ccc028 20.0%,#b5c533 20.4%,#6bcd69 21.2%,#43ca8b 21.6%,#0fbeba 22.4%,#01b8ca 22.8%,#1ca9df 23.5%,#3e6fff 25.9%,#4747eb 27.8%,#4539d9 29.4%,#475cfa 31.3%,#307ffb 32.5%,#1ca9df 34.0%,#01b8ca 34.8%,#0abdbe 35.2%,#2ec5a4 36.0%,#7ecc5a 37.9%,#9dc943 39.9%,#9ac946 43.8%,#7bcc5c 45.3%,#36c898 46.9%,#1bc0b4 47.7%,#04bbc1 48.1%,#06b5cf 48.4%,#21a3e3 49.2%,#317efb 50.4%,#4562fc 51.2%,#4740e3 52.3%,#422ec0 53.5%,#422fc2 53.9%,#4848ec 55.1%,#4464fd 55.8%,#2e85f8 56.6%,#19addc 57.8%,#05b6cd 58.2%,#09bcbe 58.6%,#22c1b0 58.9%,#50cc80 60.1%,#85cb55 61.3%,#b9c431 64.0%,#dcbd29 67.1%,#fbbc3d 72.2%,#f9d72d 93.2%,#f7db2a 99.8%)"></i><i class="b" style="top:441.5px;background:linear-gradient(90deg,#f5e526 0.2%,#f8da2b 10.7%,#fbbc3d 17.3%,#e0bc2a 19.3%,#c2c22c 20.0%,#a7c73c 20.4%,#36c799 21.6%,#03bbc2 22.4%,#20a4e3 23.5%,#3a73fe 25.5%,#4850f2 27.0%,#4536d3 29.0%,#484aee 30.5%,#4269fe 31.7%,#2c8ef2 32.9%,#19acdc 34.0%,#01bac5 34.8%,#55cc7c 36.8%,#85cb55 37.9%,#a0c941 39.9%,#9dc943 43.4%,#80cc5a 44.9%,#30c5a1 46.9%,#01b8c8 48.1%,#249ee6 49.2%,#3678fe 50.4%,#475cfa 51.2%,#463bdd 52.3%,#422fc1 53.1%,#412dbc 53.5%,#4435d1 54.3%,#4759f8 55.4%,#4368fe 55.8%,#2d89f5 56.6%,#13b0d7 57.8%,#01b8c8 58.2%,#57cc7a 60.1%,#8acb52 61.3%,#bac430 64.0%,#ddbd29 67.1%,#fcbc3d 72.2%,#f9d72d 93.2%,#f7db2a 99.8%)"></i><i class="b" style="top:443.5px;background:linear-gradient(90deg,#f5e526 0.2%,#f8da2b 10.7%,#fabb3d 17.3%,#dcbd29 19.3%,#cec028 19.6%,#b7c532 20.0%,#6dcd67 20.8%,#44cb8a 21.2%,#10beba 22.0%,#01b8ca 22.4%,#1da9e0 23.2%,#3678fe 25.1%,#475af9 26.3%,#4434d0 28.6%,#4536d2 29.4%,#4660fb 31.3%,#2e85f8 32.5%,#15afd9 34.0%,#04b6cd 34.4%,#07bcc0 34.8%,#73cd63 37.2%,#93ca4b 38.3%,#a3c83f 40.3%,#9cc944 43.4%,#77cc60 44.9%,#34c79b 46.5%,#19bfb5 47.3%,#04bbc2 47.7%,#06b5cf 48.1%,#21a4e3 48.8%,#307ffb 50.0%,#4563fd 50.8%,#4740e4 51.9%,#412dbc 53.1%,#412cba 53.5%,#4536d5 54.3%,#475dfa 55.4%,#317efb 56.2%,#1da9e0 57.4%,#02bac3 58.2%,#2dc4a6 58.9%,#4acb85 59.7%,#82cc58 60.9%,#b7c532 63.6%,#dbbd28 66.7%,#fcbd3d 72.2%,#f9d72d 93.2%,#f7db2a 99.8%)"></i><i class="b" style="top:445.5px;background:linear-gradient(90deg,#f5e526 0.2%,#f8da2b 10.7%,#fcbc3d 16.9%,#e1bc2b 18.9%,#c5c22a 19.6%,#aac73a 20.0%,#36c898 21.2%,#03bbc2 22.0%,#20a4e3 23.2%,#3c71ff 25.1%,#484df0 26.7%,#4332ca 28.6%,#4435d1 29.4%,#4757f7 30.9%,#3e6fff 31.7%,#2d89f5 32.5%,#1caadf 33.7%,#01b9c7 34.4%,#57cc7a 36.4%,#88cb53 37.5%,#a2c83f 39.1%,#a0c941 43.0%,#7dcc5c 44.6%,#39c895 46.1%,#23c1af 46.9%,#0dbdbc 47.3%,#01b8c8 47.7%,#249ee6 48.8%,#416bfe 50.4%,#4746ea 51.6%,#412cb8 53.1%,#4331c6 53.9%,#4852f4 55.1%,#3c72ff 55.8%,#2a93ee 56.6%,#19addc 57.4%,#04b6cd 57.8%,#09bdbe 58.2%,#23c1af 58.6%,#52cc7e 59.7%,#87cb54 60.9%,#bec32e 64.0%,#dfbc2a 67.1%,#fcbc3d 71.8%,#f9d72d 92.8%,#f7db2a 99.8%)"></i><i class="b" style="top:447.5px;background:linear-gradient(90deg,#f5e526 0.2%,#f7db2b 10.3%,#fbbc3d 16.9%,#ddbd29 18.9%,#d0bf27 19.3%,#bac430 19.6%,#9ac945 20.0%,#47cb87 20.8%,#12beb9 21.6%,#01b8c9 22.0%,#1da9e0 22.8%,#3776fe 24.7%,#4758f8 25.9%,#4435d1 27.8%,#4230c4 28.6%,#463cde 29.8%,#4466fd 31.3%,#2c8ef2 32.5%,#17aedb 33.7%,#06b5ce 34.0%,#05bbc1 34.4%,#62cd70 36.4%,#8fcb4e 37.5%,#a6c83d 39.1%,#a3c83e 42.6%,#82cc57 44.2%,#34c79c 46.1%,#19bfb5 46.9%,#04bbc2 47.3%,#06b5ce 47.7%,#20a4e3 48.4%,#2f81fa 49.6%,#4758f8 50.8%,#4538d8 51.9%,#412dbb 52.7%,#402ab5 53.1%,#4332cb 53.9%,#4756f7 55.1%,#4466fd 55.4%,#2d88f6 56.2%,#13b0d7 57.4%,#01b9c8 57.8%,#6ecd67 60.1%,#94ca4a 61.3%,#c5c22a 64.4%,#eabb30 68.3%,#fcbc3d 71.8%,#fad52e 90.1%,#f7db2a 99.8%)"></i><i class="b" style="top:449.5px;background:linear-gradient(90deg,#f5e526 0.2%,#f7dc2a 9.9%,#fcbd3d 16.5%,#e3bc2c 18.5%,#c8c129 19.3%,#aec637 19.6%,#39c895 20.8%,#05bbc1 21.6%,#07b5d0 22.0%,#20a4e3 22.8%,#327cfc 24.3%,#475cfa 25.5%,#4537d5 27.4%,#422fc2 28.2%,#4331c8 29.0%,#4852f4 30.5%,#416bfe 31.3%,#2a93ee 32.5%,#10b2d5 33.7%,#01b8c8 34.0%,#59cc78 36.0%,#8ccb50 37.2%,#a9c73b 39.1%,#a3c83f 42.6%,#7ccc5c 44.2%,#39c895 45.7%,#24c1af 46.5%,#01b9c7 47.3%,#23a0e5 48.4%,#337bfc 49.6%,#465ffb 50.4%,#463de0 51.6%,#402bb7 52.7%,#402ab4 53.1%,#4434d0 53.9%,#475bf9 55.1%,#317efb 55.8%,#1caadf 57.0%,#0ab4d1 57.4%,#04bbc2 57.8%,#2ec5a4 58.6%,#4dcc82 59.3%,#84cc56 60.5%,#b7c532 63.2%,#dbbd29 66.3%,#fbbc3d 71.4%,#f9d72d 92.4%,#f7db2a 99.8%)"></i><i class="b" style="top:451.5px;background:linear-gradient(90deg,#f5e526 0.2%,#f7dc2a 9.9%,#fbbc3d 16.5%,#dfbc2a 18.5%,#bec32e 19.3%,#9fc941 19.6%,#4bcb83 20.4%,#15bfb7 21.2%,#01b8c8 21.6%,#23a0e5 22.8%,#3876fe 24.3%,#4758f8 25.5%,#4230c4 27.8%,#422fc0 28.6%,#4741e5 29.8%,#4563fc 30.9%,#307ffb 31.7%,#18addb 33.3%,#06b5cf 33.7%,#05bbc1 34.0%,#66cd6d 36.0%,#88cb53 36.8%,#aac73a 38.7%,#a8c73b 42.2%,#84cc56 43.8%,#35c79b 45.7%,#1cc0b4 46.5%,#06bcc0 46.9%,#04b6cd 47.3%,#1fa6e2 48.1%,#3875fe 49.6%,#475bf9 50.4%,#463adb 51.6%,#402ab5 52.7%,#402bb6 53.1%,#4743e7 54.3%,#4561fc 55.1%,#2e84f9 55.8%,#17aeda 57.0%,#02b7cb 57.4%,#41ca8c 58.9%,#7dcc5c 60.1%,#aec637 62.5%,#d5be28 65.6%,#fbbc3d 71.0%,#fad62d 91.2%,#f7db2a 99.8%)"></i><i class="b" style="top:453.6px;background:linear-gradient(90deg,#f5e526 0.2%,#f8da2b 10.3%,#fbbc3d 16.5%,#dbbd28 18.5%,#b3c534 19.3%,#64cd6f 20.0%,#3cc991 20.4%,#27c2ab 20.8%,#08bcbf 21.2%,#05b6ce 21.6%,#20a5e2 22.4%,#327cfc 23.9%,#475cfa 25.1%,#4536d3 27.0%,#412dbc 28.2%,#463bdd 29.4%,#4369fe 30.9%,#2e85f8 31.7%,#1da8e0 32.9%,#01b9c8 33.7%,#5dcc75 35.6%,#83cc57 36.4%,#a6c73c 37.9%,#aec637 41.1%,#a1c840 42.6%,#70cd65 44.2%,#3cc992 45.3%,#14beb8 46.5%,#02bac5 46.9%,#22a2e4 48.1%,#317efb 49.2%,#4562fc 50.0%,#4740e3 51.2%,#412cb8 52.3%,#402ab3 52.7%,#412cb9 53.1%,#4848ec 54.3%,#4367fd 55.1%,#2d8af4 55.8%,#0fb2d5 57.0%,#02bac5 57.4%,#73cd63 59.7%,#96ca48 60.9%,#cac129 64.4%,#eaba31 67.9%,#fcbd3d 71.4%,#f9d82c 93.2%,#f7db2a 99.8%)"></i><i class="b" style="top:455.6px;background:linear-gradient(90deg,#f5e526 0.2%,#f8da2b 10.3%,#fabb3d 16.5%,#d6be28 18.5%,#c3c22b 18.9%,#a6c83c 19.3%,#53cc7d 20.0%,#1bc0b4 20.8%,#01b9c6 21.2%,#23a1e4 22.4%,#3777fe 23.9%,#4758f8 25.1%,#4433cd 27.0%,#412dbc 27.8%,#4331c6 28.6%,#4755f6 30.2%,#3e6fff 30.9%,#2d8cf3 31.7%,#17aeda 32.9%,#05b6cd 33.3%,#07bcbf 33.7%,#21c1b0 34.0%,#3eca8f 34.8%,#7fcc5a 36.0%,#a5c83d 37.5%,#b0c636 39.5%,#a8c73b 42.2%,#7ccc5c 43.8%,#38c897 45.3%,#01b8c9 46.9%,#249ee6 48.1%,#3579fd 49.2%,#465efb 50.0%,#463cdf 51.2%,#402bb6 52.3%,#402ab4 52.7%,#4435d1 53.5%,#465dfb 54.7%,#2f80fa 55.4%,#1aacdd 56.6%,#05b6ce 57.0%,#09bcbe 57.4%,#24c1af 57.8%,#3eca8f 58.6%,#7bcc5d 59.7%,#a1c840 61.3%,#d1bf27 64.8%,#fbbc3d 70.6%,#f9d72d 91.6%,#f7db2a 99.8%)"></i><i class="b" style="top:457.6px;background:linear-gradient(90deg,#f5e526 0.2%,#f7db2b 9.9%,#fcbc3d 16.1%,#debd29 18.1%,#d0bf27 18.5%,#b9c430 18.9%,#99c946 19.3%,#44ca8a 20.0%,#0dbdbc 20.8%,#03b7cc 21.2%,#1ea7e1 22.0%,#3c72ff 23.9%,#484bee 25.5%,#412ebd 27.4%,#422ebf 28.2%,#484ff2 29.8%,#4269fe 30.5%,#2e86f7 31.3%,#1baade 32.5%,#02bac4 33.3%,#66cd6e 35.2%,#93ca4a 36.4%,#b1c635 38.3%,#aec637 41.8%,#88cb53 43.4%,#35c79a 45.3%,#1bc0b4 46.1%,#06bcc0 46.5%,#04b6cd 46.9%,#1fa5e2 47.7%,#3974fe 49.2%,#475af9 50.0%,#4639d9 51.2%,#402ab4 52.3%,#402bb7 52.7%,#4745e9 53.9%,#4564fd 54.7%,#2d87f6 55.4%,#12b1d7 56.6%,#01b9c7 57.0%,#72cd64 59.3%,#96ca49 60.5%,#c6c22a 63.6%,#e8bb2e 67.1%,#fbbc3d 70.6%,#fad52e 88.9%,#f7db2a 99.8%)"></i><i class="b" style="top:459.6px;background:linear-gradient(90deg,#f5e526 0.2%,#f8da2b 9.9%,#fbbc3d 16.1%,#e4bb2c 17.7%,#c8c129 18.5%,#aec637 18.9%,#5ecd74 19.6%,#38c896 20.0%,#23c1af 20.4%,#03bbc2 20.8%,#21a3e4 22.0%,#3578fd 23.5%,#4758f8 24.7%,#4433cc 26.7%,#412cba 27.4%,#4230c4 28.2%,#484aed 29.4%,#3c72ff 30.5%,#12b1d6 32.5%,#01b8c8 32.9%,#60cd72 34.8%,#86cb55 35.6%,#afc637 37.5%,#afc637 41.8%,#85cb56 43.4%,#3dca90 44.9%,#28c2ab 45.7%,#02bac4 46.5%,#2797eb 48.1%,#317efb 48.8%,#4562fc 49.6%,#473fe2 50.8%,#402bb7 51.9%,#402ab3 52.3%,#4433cd 53.1%,#475bf9 54.3%,#317efb 55.1%,#1babde 56.2%,#07b5cf 56.6%,#07bcbf 57.0%,#22c1b0 57.4%,#53cc7d 58.6%,#88cb53 59.7%,#bfc32d 62.8%,#e0bc2a 66.0%,#fbbc3d 70.2%,#f9d72d 91.2%,#f7db2a 99.8%)"></i><i class="b" style="top:461.6px;background:linear-gradient(90deg,#f5e526 0.2%,#f8d92c 10.3%,#fabb3d 16.1%,#e1bc2b 17.7%,#c0c32d 18.5%,#a3c83f 18.9%,#4fcc80 19.6%,#16bfb7 20.4%,#01b8c8 20.8%,#249fe6 22.0%,#307ffb 23.2%,#465dfb 24.3%,#4435d1 26.3%,#402bb8 27.4%,#4332ca 28.2%,#4850f3 29.4%,#406cfe 30.2%,#2d8af4 30.9%,#16afd9 32.1%,#03b7cb 32.5%,#0bbdbc 32.9%,#26c2ad 33.3%,#44cb89 34.0%,#83cc57 35.2%,#aec637 37.2%,#b5c533 39.9%,#b0c636 41.8%,#82cc58 43.4%,#3ac993 44.9%,#24c1ae 45.7%,#01b9c8 46.5%,#249fe6 47.7%,#3579fd 48.8%,#465dfb 49.6%,#463bdd 50.8%,#402ab5 51.9%,#402bb6 52.3%,#4743e7 53.5%,#4562fc 54.3%,#2e86f8 55.1%,#13b0d8 56.2%,#01b9c8 56.6%,#5fcd73 58.6%,#8ecb4f 59.7%,#c2c22c 62.8%,#e2bc2b 66.0%,#fcbc3d 70.2%,#fad62d 89.3%,#f7db2a 99.8%)"></i><i class="b" style="top:463.6px;background:linear-gradient(90deg,#f5e526 0.2%,#f8da2b 9.9%,#fdbd3d 15.8%,#ddbd29 17.7%,#cec028 18.1%,#b7c532 18.5%,#6bcd69 19.3%,#41ca8c 19.6%,#0abdbd 20.4%,#05b6cd 20.8%,#20a5e2 21.6%,#347afd 23.2%,#4759f8 24.3%,#4538d7 25.9%,#402cb8 27.0%,#422fc3 27.8%,#484bef 29.0%,#4367fd 29.8%,#2e86f7 30.5%,#19addc 31.7%,#06b6ce 32.1%,#08bcbf 32.5%,#32c69f 33.3%,#81cc58 34.8%,#aec637 36.8%,#b7c532 39.1%,#b1c636 41.8%,#80cc59 43.4%,#37c897 44.9%,#1fc1b1 45.7%,#09bcbe 46.1%,#02b7cb 46.5%,#1fa6e1 47.3%,#3974fe 48.8%,#4759f8 49.6%,#4538d8 50.8%,#412cba 51.6%,#402ab4 51.9%,#412cb9 52.3%,#4849ed 53.5%,#4269fe 54.3%,#327cfc 54.7%,#1baade 55.8%,#07b5d0 56.2%,#07bcbf 56.6%,#22c1af 57.0%,#55cc7c 58.2%,#8acb52 59.3%,#bbc430 62.1%,#debd29 65.2%,#fcbc3d 69.8%,#fad62d 88.9%,#f7db2a 99.8%)"></i><i class="b" style="top:465.6px;background:linear-gradient(90deg,#f5e526 0.2%,#f7db2b 9.5%,#fcbc3d 15.8%,#e4bb2c 17.3%,#c7c12a 18.1%,#acc738 18.5%,#37c897 19.6%,#02bac3 20.4%,#1babde 21.2%,#3975fe 23.2%,#465efb 23.9%,#463adc 25.5%,#412cba 26.7%,#412dbc 27.4%,#4853f5 29.0%,#3c71ff 29.8%,#1babde 31.3%,#09b4d1 31.7%,#05bbc1 32.1%,#30c5a1 32.9%,#56cc7b 33.7%,#8dcb50 34.8%,#b2c535 36.8%,#b9c431 40.7%,#b1c635 41.8%,#7dcc5b 43.4%,#35c79a 44.9%,#1bc0b4 45.7%,#04bbc1 46.1%,#06b5cf 46.5%,#21a3e3 47.3%,#317efb 48.4%,#4561fc 49.2%,#463ee1 50.4%,#402bb6 51.6%,#402ab5 51.9%,#4536d3 52.7%,#4660fc 53.9%,#2e85f8 54.7%,#14b0d8 55.8%,#01b9c7 56.2%,#61cd72 58.2%,#85cb56 58.9%,#b9c430 61.7%,#ddbd29 64.8%,#fbbc3d 69.5%,#fad62d 88.5%,#f7db2a 99.8%)"></i><i class="b" style="top:467.7px;background:linear-gradient(90deg,#f5e526 0.2%,#f8db2b 9.5%,#fbbc3d 15.8%,#e0bc2b 17.3%,#d3bf27 17.7%,#bfc32e 18.1%,#a1c840 18.5%,#4ecc81 19.3%,#14bfb8 20.0%,#01b8c9 20.4%,#1ea7e1 21.2%,#327cfc 22.8%,#4564fd 23.5%,#4537d6 25.5%,#402bb6 26.7%,#4230c3 27.4%,#484ff2 28.6%,#406dfe 29.4%,#2c8ef2 30.2%,#1da9e0 30.9%,#02bbc3 31.7%,#2fc5a3 32.5%,#54cc7d 33.3%,#7ecc5b 34.0%,#adc738 36.0%,#bbc430 37.9%,#b8c431 41.4%,#9bc945 42.6%,#3fca8e 44.6%,#15bfb8 45.7%,#02bac5 46.1%,#23a0e5 47.3%,#3579fd 48.4%,#475dfa 49.2%,#463adb 50.4%,#402ab4 51.6%,#412cb8 51.9%,#4848ec 53.1%,#4369fe 53.9%,#327cfc 54.3%,#1baade 55.4%,#07b5cf 55.8%,#08bcbf 56.2%,#24c1ae 56.6%,#41ca8c 57.4%,#7fcc5a 58.6%,#abc739 60.5%,#d0bf27 63.2%,#fabb3d 68.7%,#fad52e 86.6%,#f7dc2a 99.8%)"></i><i class="b" style="top:469.7px;background:linear-gradient(90deg,#f5e526 0.2%,#f8d92c 9.9%,#fabb3d 15.8%,#dcbd29 17.3%,#cdc028 17.7%,#b5c533 18.1%,#6acd6a 18.9%,#40ca8d 19.3%,#09bcbe 20.0%,#06b5cf 20.4%,#19addb 20.8%,#3876fe 22.8%,#4854f6 23.9%,#4434ce 25.5%,#402bb8 26.3%,#402ab5 26.7%,#4434cd 27.4%,#4758f8 28.6%,#4368fe 29.0%,#2d8af4 29.8%,#10b2d5 30.9%,#02bac5 31.3%,#69cd6b 33.3%,#8acb51 34.0%,#b7c532 36.4%,#b9c431 41.4%,#99c946 42.6%,#3cc991 44.6%,#25c2ae 45.3%,#0ebebb 45.7%,#01b8c9 46.1%,#1ea8e1 46.9%,#2e83f9 48.1%,#4465fd 48.8%,#4740e3 50.0%,#402bb7 51.2%,#402ab4 51.6%,#422ebe 51.9%,#4850f2 53.1%,#3b72ff 53.9%,#13b1d7 55.4%,#01b9c6 55.8%,#64cd6e 57.8%,#87cb54 58.6%,#b6c533 60.9%,#d7be28 63.6%,#fbbc3d 68.7%,#fad52e 86.2%,#f7dc2a 99.8%)"></i><i class="b" style="top:471.7px;background:linear-gradient(90deg,#f5e526 0.2%,#f8da2b 9.5%,#fdbd3d 15.4%,#e4bb2c 16.9%,#c5c22a 17.7%,#abc739 18.1%,#36c898 19.3%,#02bac5 20.0%,#249fe5 21.2%,#317dfc 22.4%,#4759f8 23.5%,#4536d4 25.1%,#402ab5 26.3%,#4331c6 27.0%,#4854f5 28.2%,#3876fe 29.0%,#13b1d7 30.5%,#01b9c7 30.9%,#68cd6c 32.9%,#8acb52 33.7%,#b7c532 36.0%,#bec32e 39.9%,#bac430 41.4%,#98c947 42.6%,#39c895 44.6%,#20c1b1 45.3%,#08bcbf 45.7%,#04b6cc 46.1%,#20a4e3 46.9%,#317dfc 48.1%,#4660fb 48.8%,#463bdd 50.0%,#412dbd 50.8%,#402ab5 51.2%,#412cb8 51.6%,#4848ec 52.7%,#4269fe 53.5%,#2c8ef2 54.3%,#1aabdd 55.1%,#05b6ce 55.4%,#0abdbd 55.8%,#26c2ad 56.2%,#44cb89 57.0%,#82cc57 58.2%,#b4c534 60.5%,#d7be28 63.2%,#fcbc3d 68.7%,#fad42e 85.0%,#f7dc2a 99.8%)"></i><i class="b" style="top:473.7px;background:linear-gradient(90deg,#f5e526 0.2%,#f8d92b 9.5%,#fcbc3d 15.4%,#e0bc2a 16.9%,#d2bf27 17.3%,#bcc42f 17.7%,#9fc942 18.1%,#4bcb83 18.9%,#12beb9 19.6%,#02b7cb 20.0%,#1fa5e2 20.8%,#3777fe 22.4%,#465efb 23.2%,#4539d9 24.7%,#402bb6 25.9%,#402ab5 26.3%,#4741e5 27.4%,#4660fb 28.2%,#2e84f9 29.0%,#15afd9 30.2%,#01b8c8 30.5%,#66cd6d 32.5%,#89cb53 33.3%,#b7c532 35.6%,#c0c32d 39.1%,#bbc430 41.4%,#96ca48 42.6%,#36c898 44.6%,#1ac0b5 45.3%,#03bbc3 45.7%,#2994ed 47.3%,#3677fe 48.1%,#475af9 48.8%,#4537d6 50.0%,#402bb8 50.8%,#402ab5 51.2%,#4536d2 51.9%,#4561fc 53.1%,#2e86f7 53.9%,#11b1d6 55.1%,#02bac5 55.4%,#69cd6b 57.4%,#8bcb51 58.2%,#bec32e 60.9%,#debd29 63.6%,#fbbc3d 67.9%,#fad52e 85.4%,#f7dc2a 99.8%)"></i><i class="b" style="top:475.7px;background:linear-gradient(90deg,#f5e526 0.2%,#f8d92b 9.5%,#fbbc3d 15.4%,#dbbd28 16.9%,#cac129 17.3%,#b2c635 17.7%,#66cd6d 18.5%,#3dca90 18.9%,#27c2ac 19.3%,#06bcc0 19.6%,#09b4d1 20.0%,#23a1e5 20.8%,#317dfb 22.0%,#4564fd 22.8%,#463cde 24.3%,#402bb8 25.5%,#402ab4 25.9%,#4433cc 26.7%,#475bfa 27.8%,#3080fa 28.6%,#18aedb 29.8%,#01b7ca 30.2%,#64cd6f 32.1%,#88cb53 32.9%,#b6c532 35.2%,#c2c22c 37.2%,#bbc42f 41.4%,#94ca4a 42.6%,#41ca8c 44.2%,#28c2ab 44.9%,#01b9c7 45.7%,#259ce7 46.9%,#2f80fa 47.7%,#4562fc 48.4%,#463cde 49.6%,#412dbd 50.4%,#402ab5 50.8%,#412cb9 51.2%,#484aed 52.3%,#416bfe 53.1%,#317efb 53.5%,#19addc 54.7%,#03b7cc 55.1%,#0ebebb 55.4%,#28c3aa 55.8%,#61cd72 57.0%,#86cb55 57.8%,#b7c532 60.1%,#d9be28 62.8%,#fcbc3d 67.9%,#fad52e 84.6%,#f7dc2a 99.8%)"></i><i class="b" style="top:477.7px;background:linear-gradient(90deg,#f5e526 0.2%,#f8d92c 9.5%,#fabb3d 15.4%,#d5be28 16.9%,#c1c32c 17.3%,#a6c83c 17.7%,#34c79c 18.9%,#01b9c8 19.6%,#1ea7e1 20.4%,#3777fe 22.0%,#465efb 22.8%,#4537d6 24.3%,#402ab4 25.5%,#402bb7 25.9%,#4747ec 27.0%,#4369fe 27.8%,#327cfc 28.2%,#1aacdd 29.4%,#04b6cd 29.8%,#0dbdbb 30.2%,#28c3aa 30.5%,#4acb85 31.3%,#87cb54 32.5%,#b6c532 34.8%,#c4c22b 37.2%,#c1c32c 41.1%,#a2c83f 42.2%,#3cc991 44.2%,#23c1af 44.9%,#0abdbe 45.3%,#03b7cc 45.7%,#21a3e3 46.5%,#347afd 47.7%,#475bf9 48.4%,#4537d5 49.6%,#402bb7 50.4%,#402bb6 50.8%,#4537d5 51.6%,#4563fd 52.7%,#2d88f6 53.5%,#1ea7e1 54.3%,#03bbc2 55.1%,#31c6a0 55.8%,#81cc59 57.4%,#afc637 59.3%,#d4bf28 62.1%,#fbbc3d 67.1%,#fad52d 84.6%,#f7dc2a 99.8%)"></i><i class="b" style="top:479.7px;background:linear-gradient(90deg,#f5e526 0.2%,#f8da2b 9.1%,#fcbc3d 15.0%,#e9bb2f 16.1%,#cec028 16.9%,#b7c532 17.3%,#70cd65 18.1%,#45cb89 18.5%,#0abdbd 19.3%,#06b5cf 19.6%,#22a1e4 20.4%,#317dfc 21.6%,#4563fc 22.4%,#463adb 23.9%,#402ab5 25.1%,#402ab5 25.5%,#422fc0 25.9%,#4853f5 27.0%,#4464fd 27.4%,#3678fe 27.8%,#1caadf 29.0%,#07b5d0 29.4%,#09bcbe 29.8%,#26c2ad 30.2%,#47cb87 30.9%,#85cb55 32.1%,#b6c532 34.4%,#c5c22a 36.4%,#c2c22c 41.1%,#9fc941 42.2%,#38c896 44.2%,#1bc0b4 44.9%,#02bbc3 45.3%,#249ee6 46.5%,#3c71ff 47.7%,#4854f5 48.4%,#412cbb 50.0%,#402ab4 50.4%,#412dbb 50.8%,#484cf0 51.9%,#3f6eff 52.7%,#2f81fa 53.1%,#17aeda 54.3%,#01b8ca 54.7%,#66cd6d 56.6%,#8acb52 57.4%,#bac430 59.7%,#dcbd29 62.5%,#fcbc3d 67.1%,#fad52e 83.9%,#f7dc2a 99.8%)"></i><i class="b" style="top:481.8px;background:linear-gradient(90deg,#f5e526 0.2%,#f8d92b 9.1%,#fbbc3d 15.0%,#d7be28 16.5%,#c5c22a 16.9%,#abc739 17.3%,#5dcc75 18.1%,#37c898 18.5%,#01b9c6 19.3%,#1ea7e1 20.0%,#3875fe 21.6%,#475cfa 22.4%,#4435d1 23.9%,#402bb7 24.7%,#402ab3 25.1%,#4434cf 25.9%,#4660fc 27.0%,#2e86f7 27.8%,#1ea7e1 28.6%,#04bbc2 29.4%,#21c1b0 29.8%,#5bcc76 30.9%,#83cc57 31.7%,#b6c532 34.0%,#c7c12a 36.0%,#c3c22b 41.1%,#9bc944 42.2%,#43ca8b 43.8%,#27c2ab 44.6%,#01b8c9 45.3%,#20a5e3 46.1%,#347afd 47.3%,#475af9 48.1%,#4435d1 49.2%,#402bb6 50.0%,#402bb8 50.4%,#4747eb 51.6%,#4367fd 52.3%,#2d8bf3 53.1%,#1ca9df 53.9%,#09b4d1 54.3%,#07bcc0 54.7%,#24c1af 55.1%,#5dcc75 56.2%,#85cb55 57.0%,#b8c431 59.3%,#dbbd28 62.1%,#fcbc3d 66.7%,#fad52e 83.5%,#f7dc2a 99.8%)"></i><i class="b" style="top:483.8px;background:linear-gradient(90deg,#f5e526 0.2%,#f8d92b 9.1%,#fdbd3d 14.6%,#dfbc2a 16.1%,#d0c027 16.5%,#bac430 16.9%,#9dc943 17.3%,#49cb85 18.1%,#0cbdbc 18.9%,#06b5ce 19.3%,#19acdc 19.6%,#327bfc 21.2%,#4660fc 22.0%,#4537d6 23.5%,#412cba 24.3%,#402ab4 24.7%,#412cba 25.1%,#484bef 26.3%,#3f6eff 27.0%,#2f82fa 27.4%,#13b0d7 28.6%,#01b9c6 29.0%,#57cc7a 30.5%,#81cc59 31.3%,#b0c636 33.3%,#c9c129 35.6%,#c8c129 40.7%,#b9c431 41.4%,#81cc59 42.6%,#3cc991 43.8%,#1fc0b2 44.6%,#05bbc1 44.9%,#08b4d1 45.3%,#1baade 45.7%,#2f81fa 46.9%,#465ffb 47.7%,#4538d8 48.8%,#402bb8 49.6%,#402bb6 50.0%,#4742e6 51.2%,#4561fc 51.9%,#2e85f8 52.7%,#13b0d7 53.9%,#01b9c7 54.3%,#54cc7d 55.8%,#80cc59 56.6%,#afc636 58.6%,#d1bf27 60.9%,#fbbc3d 66.3%,#fad52e 83.1%,#f7dc2a 99.8%)"></i><i class="b" style="top:485.8px;background:linear-gradient(90deg,#f5e526 0.2%,#f8d92c 9.1%,#fbbc3d 14.6%,#e5bb2d 15.8%,#c6c22a 16.5%,#adc638 16.9%,#5fcd73 17.7%,#38c896 18.1%,#01b9c6 18.9%,#1fa6e2 19.6%,#2f80fa 20.8%,#4464fd 21.6%,#4639da 23.2%,#402bb6 24.3%,#412cba 24.7%,#4849ed 25.9%,#416bfe 26.7%,#317efb 27.0%,#18addb 28.2%,#02b7cb 28.6%,#51cc7f 30.2%,#7ecc5b 30.9%,#afc636 32.9%,#cac129 35.2%,#c9c129 40.7%,#a3c83f 41.8%,#46cb88 43.4%,#01b8ca 44.9%,#21a3e3 45.7%,#3975fe 46.9%,#4854f6 47.7%,#4332c8 48.8%,#402bb6 49.6%,#4435d2 50.4%,#465dfa 51.6%,#3080fa 52.3%,#1aacdd 53.5%,#05b6ce 53.9%,#0bbdbd 54.3%,#27c2ab 54.7%,#4acb84 55.4%,#7acc5e 56.2%,#a6c83d 57.8%,#d0bf27 60.5%,#fabb3d 65.6%,#fad52e 82.3%,#f7dc2a 99.8%)"></i><i class="b" style="top:487.8px;background:linear-gradient(90deg,#f5e526 0.2%,#f8d92b 8.8%,#fdbd3d 14.2%,#dfbc2a 15.8%,#d0c028 16.1%,#bac430 16.5%,#9dc943 16.9%,#48cb86 17.7%,#0abdbd 18.5%,#08b5d0 18.9%,#249fe5 19.6%,#3777fe 20.8%,#475cfa 21.6%,#4434cf 23.2%,#412cb9 23.9%,#412dbc 24.3%,#4848ec 25.5%,#4368fe 26.3%,#2d8cf3 27.0%,#1baadf 27.8%,#07b5cf 28.2%,#09bcbe 28.6%,#26c2ac 29.0%,#64cd6e 30.2%,#8acb51 30.9%,#bdc42f 33.3%,#cec028 35.6%,#cdc028 40.3%,#bdc32e 41.1%,#83cc57 42.2%,#3bc992 43.4%,#1ac0b5 44.2%,#02bac5 44.6%,#2798ea 45.7%,#3678fe 46.5%,#4466fd 46.9%,#4747ec 47.7%,#412dbb 48.8%,#402bb8 49.2%,#4740e4 50.4%,#416bfe 51.6%,#317dfc 51.9%,#1da8e0 53.1%,#02bbc3 53.9%,#31c6a0 54.7%,#41ca8c 55.1%,#85cb56 56.2%,#b2c635 58.2%,#d4bf28 60.5%,#fabb3d 65.2%,#fad42e 81.1%,#f7dc2a 99.8%)"></i><i class="b" style="top:489.8px;background:linear-gradient(90deg,#f5e526 0.2%,#f8d92c 8.8%,#fabb3d 14.2%,#d7be28 15.8%,#c5c22a 16.1%,#abc739 16.5%,#89cb53 16.9%,#36c799 17.7%,#01b8c9 18.5%,#16afd9 18.9%,#327bfc 20.4%,#465ffb 21.2%,#4536d3 22.8%,#412dbd 23.5%,#422ec0 23.9%,#4849ed 25.1%,#4367fd 25.9%,#2d8af5 26.7%,#1ea7e1 27.4%,#02bbc3 28.2%,#1fc0b1 28.6%,#44cb8a 29.4%,#76cc60 30.2%,#9ec942 31.3%,#c8c129 33.7%,#d1bf27 36.8%,#cdc028 40.3%,#a3c83f 41.4%,#42ca8c 43.0%,#21c1b0 43.8%,#05bbc1 44.2%,#0bb4d2 44.6%,#269ae8 45.3%,#3579fd 46.1%,#4466fd 46.5%,#4747eb 47.3%,#412dbc 48.4%,#412dbb 48.8%,#4742e6 50.0%,#416bfe 51.2%,#2d8af4 51.9%,#14b0d8 53.1%,#01b8c9 53.5%,#52cc7e 55.1%,#80cc59 55.8%,#b0c636 57.8%,#d7be28 60.5%,#fcbc3d 65.2%,#fad52e 81.5%,#f7dc2a 99.8%)"></i><i class="b" style="top:491.8px;background:linear-gradient(90deg,#f5e526 0.2%,#f8d82c 8.8%,#fbbc3d 13.8%,#ddbd29 15.4%,#b8c431 16.1%,#9ac946 16.5%,#43ca8b 17.3%,#29c3aa 17.7%,#04bbc2 18.1%,#1ea7e1 18.9%,#307ffb 20.0%,#4562fc 20.8%,#4537d6 22.4%,#422fc1 23.2%,#4535d2 23.9%,#4758f8 25.1%,#3678fe 25.9%,#14b0d8 27.4%,#01b8c8 27.8%,#2ec4a5 28.6%,#3dca90 29.0%,#71cd64 29.8%,#92ca4b 30.5%,#bec32e 32.5%,#d2bf27 34.4%,#d1bf27 39.9%,#abc739 41.1%,#64cd6f 42.2%,#35c79a 43.0%,#26c2ac 43.4%,#09bcbe 43.8%,#07b5d0 44.2%,#1caadf 44.6%,#3578fd 45.7%,#4465fd 46.1%,#4539d9 47.3%,#412dbc 48.1%,#4433cd 48.8%,#4851f3 50.0%,#416bfe 50.8%,#2d89f6 51.6%,#19addc 52.7%,#05b6ce 53.1%,#08bcbe 53.5%,#25c2ae 53.9%,#49cb85 54.7%,#7bcc5d 55.4%,#a7c73c 57.0%,#d2bf27 59.7%,#fbbc3d 64.4%,#fad52d 81.1%,#f7dc2a 99.8%)"></i><i class="b" style="top:493.8px;background:linear-gradient(90deg,#f5e526 0.2%,#f9d82c 8.8%,#f9ba3d 13.8%,#d5be28 15.4%,#c2c22c 15.8%,#a8c73b 16.1%,#55cc7c 16.9%,#11beba 17.7%,#06b6ce 18.1%,#1babde 18.5%,#3a74fe 20.0%,#4758f8 20.8%,#4433cc 22.4%,#4331c6 22.8%,#4538d8 23.5%,#4759f8 24.7%,#3777fe 25.5%,#18addb 27.0%,#04b6cd 27.4%,#0bbdbc 27.8%,#6ccd69 29.4%,#90ca4d 30.2%,#bfc32d 32.1%,#d5be28 34.0%,#d5be28 39.5%,#c2c32c 40.3%,#87cb54 41.4%,#38c896 42.6%,#2ac3a9 43.0%,#0dbdbc 43.4%,#06b6ce 43.8%,#1caadf 44.2%,#3777fe 45.3%,#4563fd 45.7%,#4537d5 46.9%,#4330c5 47.3%,#422fc1 47.7%,#4848ec 49.2%,#406cfe 50.4%,#2d88f6 51.2%,#1babde 52.3%,#02bac4 53.1%,#40ca8d 54.3%,#75cc61 55.1%,#9dc943 56.2%,#ccc028 58.9%,#f1ba37 62.5%,#fec03b 66.0%,#f9d72d 83.9%,#f7dc2a 99.8%)"></i><i class="b" style="top:495.9px;background:linear-gradient(90deg,#f5e526 0.2%,#f8d92c 8.4%,#fabb3d 13.4%,#dabd28 15.0%,#cbc129 15.4%,#b4c534 15.8%,#93ca4a 16.1%,#3bc993 16.9%,#01b8c8 17.7%,#22a2e4 18.5%,#3777fe 19.6%,#475af9 20.4%,#4434d0 22.0%,#4433cb 22.4%,#4744e9 23.5%,#4368fe 24.7%,#2e85f8 25.5%,#1babde 26.7%,#09b4d1 27.0%,#04bbc2 27.4%,#65cd6e 29.0%,#8ecb4e 29.8%,#c0c32d 31.7%,#d8be28 34.0%,#d8be28 39.1%,#b6c532 40.3%,#73cd63 41.4%,#3cc991 42.2%,#2cc4a6 42.6%,#10beba 43.0%,#05b6cd 43.4%,#1baadf 43.8%,#3a74fe 44.9%,#484ff2 45.7%,#4435d1 46.5%,#4330c5 46.9%,#4435d0 47.7%,#4757f7 49.2%,#3f6efe 50.0%,#2d87f7 50.8%,#1da8e0 51.9%,#01b8c9 52.7%,#3ac994 53.9%,#83cc57 55.1%,#b2c635 57.0%,#d5be28 59.3%,#fbbc3d 63.6%,#fad62d 81.1%,#f7dc2a 99.8%)"></i><i class="b" style="top:497.9px;background:linear-gradient(90deg,#f5e526 0.2%,#f8da2b 8.0%,#fabc3d 13.0%,#dfbc2a 14.6%,#bec32e 15.4%,#a2c83f 15.8%,#49cb85 16.5%,#2cc4a7 16.9%,#05bbc1 17.3%,#1fa6e2 18.1%,#347afd 19.3%,#475cfa 20.0%,#4536d4 21.6%,#4538d8 22.4%,#465dfa 23.9%,#3777fe 24.7%,#1da8e0 26.3%,#01b9c6 27.0%,#41ca8c 28.2%,#79cc5e 29.0%,#a4c83e 30.2%,#cdc028 32.1%,#dbbd28 34.0%,#dbbd28 38.7%,#bbc430 39.9%,#7acc5d 41.1%,#3fca8e 41.8%,#04b6cd 43.0%,#1caadf 43.4%,#3d71ff 44.6%,#484bef 45.3%,#4434cf 46.1%,#4332c9 46.5%,#4747eb 48.1%,#3e6fff 49.6%,#2e87f7 50.4%,#15afd9 51.9%,#04b6cd 52.3%,#08bcbf 52.7%,#66cd6d 54.3%,#8dcb4f 55.1%,#c3c22b 57.8%,#e7bb2d 60.5%,#fbbc3d 63.2%,#fad62d 80.7%,#f7dc2a 99.8%)"></i><i class="b" style="top:499.9px;background:linear-gradient(90deg,#f5e526 0.2%,#f8d92b 8.0%,#fbbc3d 12.6%,#e2bc2b 14.2%,#c7c12a 15.0%,#aec637 15.4%,#8acb51 15.8%,#33c79d 16.5%,#11beb9 16.9%,#07b5d0 17.3%,#1da9e0 17.7%,#327cfc 18.9%,#465dfa 19.6%,#463cdf 20.8%,#4538d7 21.6%,#4854f6 23.2%,#416afe 23.9%,#2c90f0 25.1%,#14b0d8 26.3%,#02b7cb 26.7%,#0ebdbb 27.0%,#57cc7a 28.2%,#89cb53 29.0%,#b8c431 30.5%,#dbbd28 32.9%,#ddbd29 38.3%,#bec32e 39.5%,#80cc59 40.7%,#44cb8a 41.4%,#03b7cc 42.6%,#1caadf 43.0%,#2e84f8 43.8%,#3f6efe 44.2%,#4848ec 44.9%,#4434cf 45.7%,#4537d5 46.5%,#475cfa 48.4%,#327cfc 49.6%,#18addb 51.6%,#02bac3 52.3%,#41ca8c 53.5%,#78cc5f 54.3%,#95ca49 55.1%,#c8c129 57.8%,#eaba31 60.5%,#fbbc3d 62.8%,#fad62d 80.4%,#f7dd2a 99.8%)"></i><i class="b" style="top:501.9px;background:linear-gradient(90deg,#f5e526 0.2%,#f9d72d 8.4%,#f9ba3d 12.6%,#dcbd29 14.2%,#cec028 14.6%,#b9c431 15.0%,#9ac946 15.4%,#3dc990 16.1%,#01b8ca 16.9%,#1aacdd 17.3%,#307ffb 18.5%,#465efb 19.3%,#463de0 20.4%,#463adb 21.2%,#4661fc 23.2%,#2e84f9 24.3%,#18aedb 25.9%,#06b5cf 26.3%,#06bcc0 26.7%,#4fcc81 27.8%,#85cb55 28.6%,#b7c532 30.2%,#d9be28 32.1%,#dfbc2a 37.9%,#c2c22c 39.1%,#86cb54 40.3%,#49cb85 41.1%,#02b7cb 42.2%,#1caadf 42.6%,#2f83f9 43.4%,#416bfe 43.8%,#463adb 44.9%,#4536d2 45.3%,#4747eb 46.9%,#4368fe 48.4%,#2e87f7 49.6%,#1aacdd 51.2%,#01b9c7 51.9%,#3ac994 53.1%,#71cd64 53.9%,#92ca4b 54.7%,#c6c22a 57.4%,#eabb30 60.1%,#fbbc3d 62.5%,#fad62d 80.0%,#f7dd2a 99.8%)"></i><i class="b" style="top:503.9px;background:linear-gradient(90deg,#f5e526 0.2%,#f9d82c 8.0%,#fabb3d 12.3%,#d4bf28 14.2%,#c2c22c 14.6%,#a7c73c 15.0%,#7fcc5a 15.4%,#4ccb83 15.8%,#02bbc3 16.5%,#15afd9 16.9%,#3e6fff 18.5%,#4851f4 19.3%,#463adc 20.4%,#4850f3 22.0%,#406cfe 23.2%,#2698ea 24.7%,#1aacdd 25.5%,#02bac4 26.3%,#47cb87 27.4%,#81cc59 28.2%,#b6c532 29.8%,#d9bd28 31.7%,#e3bc2c 37.2%,#d2bf27 38.3%,#a3c83f 39.5%,#70cd65 40.3%,#01b8ca 41.8%,#1baade 42.2%,#2f82f9 43.0%,#426afe 43.4%,#4745e9 44.2%,#4537d7 44.9%,#4851f3 46.9%,#426afe 48.1%,#2e87f7 49.2%,#12b1d6 51.2%,#02b7cb 51.6%,#09bcbe 51.9%,#4bcb84 53.1%,#80cc59 53.9%,#aac73a 55.4%,#d0bf27 57.8%,#f9bb3d 61.7%,#fad62d 79.6%,#f7dd2a 99.8%)"></i><i class="b" style="top:505.9px;background:linear-gradient(90deg,#f5e526 0.2%,#f8d92c 7.6%,#fbbc3d 11.9%,#d9bd28 13.8%,#b3c534 14.6%,#8fcb4e 15.0%,#33c79c 15.8%,#0dbdbb 16.1%,#0eb3d4 16.5%,#2994ed 17.3%,#2e83f9 17.7%,#465ffb 18.5%,#463ee1 19.6%,#473ee1 20.4%,#406dfe 22.8%,#2e83f9 23.5%,#1caadf 25.1%,#01b8c8 25.9%,#3fca8e 27.0%,#7ccc5c 27.8%,#aac73a 29.0%,#cec028 30.5%,#e0bc2b 32.5%,#e2bc2b 37.2%,#c9c129 38.3%,#93ca4b 39.5%,#57cc7a 40.3%,#38c896 40.7%,#24c1ae 41.1%,#01b9c6 41.4%,#19acdc 41.8%,#2e84f9 42.6%,#416bfe 43.0%,#4746ea 43.8%,#463ada 44.6%,#475af9 46.9%,#3a74fe 48.1%,#15afd8 50.8%,#06b6ce 51.2%,#03bbc3 51.6%,#41ca8c 52.7%,#7acc5e 53.5%,#a0c941 54.7%,#cfc028 57.4%,#f9bb3d 61.3%,#fad62d 79.2%,#f7dd2a 99.8%)"></i><i class="b" style="top:507.9px;background:linear-gradient(90deg,#f5e526 0.2%,#f8d82c 7.6%,#fcbd3d 11.5%,#debc2a 13.4%,#d2bf27 13.8%,#bdc32e 14.2%,#9fc942 14.6%,#3eca8f 15.4%,#05b6ce 16.1%,#1da8e0 16.5%,#3c71ff 17.7%,#4851f3 18.5%,#463ee1 19.3%,#4745e9 20.4%,#406dfe 22.4%,#2896ec 23.9%,#13b0d7 25.1%,#02b7cb 25.5%,#0abdbd 25.9%,#59cc78 27.0%,#8dcb4f 27.8%,#bdc32e 29.4%,#dfbc2a 31.7%,#e3bc2c 36.8%,#ccc028 37.9%,#99c946 39.1%,#60cd72 39.9%,#3eca8f 40.3%,#2ac3a9 40.7%,#04bbc1 41.1%,#15afd9 41.4%,#3e6fff 42.6%,#4849ed 43.4%,#463cde 44.2%,#4563fc 46.9%,#2e86f8 48.4%,#18aedb 50.4%,#01b9c6 51.2%,#39c994 52.3%,#71cd64 53.1%,#93ca4b 53.9%,#c7c12a 56.6%,#e7bb2e 58.9%,#fcbc3d 61.7%,#fad62d 79.2%,#f7dd2a 99.8%)"></i><i class="b" style="top:510.0px;background:linear-gradient(90deg,#f5e526 0.2%,#f9d82c 7.6%,#fabb3d 11.5%,#d7be28 13.4%,#c6c22a 13.8%,#acc739 14.2%,#82cc57 14.6%,#4dcc82 15.0%,#01b9c7 15.8%,#1aabdd 16.1%,#3b73fe 17.3%,#4850f3 18.1%,#463de0 18.9%,#484cef 20.4%,#406cfe 22.0%,#2d8bf4 23.2%,#16afd9 24.7%,#05b6ce 25.1%,#06bcc0 25.5%,#35c79a 26.3%,#72cd64 27.0%,#99c946 27.8%,#c4c22b 29.4%,#dfbc2a 31.3%,#e4bb2c 36.4%,#cfc028 37.5%,#9fc941 38.7%,#69cd6a 39.5%,#0fbebb 40.7%,#0cb3d3 41.1%,#2c8ef1 41.8%,#3777fe 42.2%,#4660fc 42.6%,#4743e7 43.4%,#4740e4 44.2%,#416bfe 46.9%,#2d8df2 48.4%,#1aacdd 50.0%,#01b8ca 50.8%,#09bdbe 51.2%,#4acb85 52.3%,#7fcc5a 53.1%,#aac73a 54.7%,#d1bf27 57.0%,#f9bb3d 60.9%,#fad62d 79.2%,#f7dd2a 99.8%)"></i><i class="b" style="top:512.0px;background:linear-gradient(90deg,#f5e526 0.2%,#f8d92b 7.2%,#fcbc3d 11.1%,#ddbd29 13.0%,#cec028 13.4%,#b7c532 13.8%,#92ca4c 14.2%,#32c69f 15.0%,#06bcc0 15.4%,#16aeda 15.8%,#3a73fe 16.9%,#465ffb 17.3%,#463cdf 18.5%,#4854f5 20.4%,#406cfe 21.6%,#2d8af4 22.8%,#18aedb 24.3%,#02bac3 25.1%,#32c69e 25.9%,#6ccd68 26.7%,#86cb55 27.0%,#b9c431 28.6%,#dbbd28 30.5%,#e2bc2b 36.4%,#c6c22a 37.5%,#a5c83d 38.3%,#73cd63 39.1%,#1bc0b4 40.3%,#03b7cc 40.7%,#1da9e0 41.1%,#3080fa 41.8%,#4269fe 42.2%,#4849ed 43.0%,#4743e7 43.8%,#416bfe 46.5%,#2e84f8 47.7%,#1babde 49.6%,#04b6cc 50.4%,#04bbc1 50.8%,#3fca8e 51.9%,#76cc60 52.7%,#95ca49 53.5%,#c9c129 56.2%,#ebba32 58.9%,#fdbd3d 61.7%,#fad62d 79.2%,#f7dd2a 99.8%)"></i><i class="b" style="top:514.0px;background:linear-gradient(90deg,#f5e526 0.2%,#f8d92c 7.2%,#fabb3d 11.1%,#e1bc2b 12.6%,#c1c32c 13.4%,#a0c841 13.8%,#3ac994 14.6%,#13beb8 15.0%,#10b2d5 15.4%,#2d8bf4 16.1%,#3a74fe 16.5%,#484ef1 17.3%,#463cdf 18.1%,#4854f5 20.0%,#406dfe 21.2%,#2d8af5 22.4%,#19addc 23.9%,#01b9c6 24.7%,#2fc5a3 25.5%,#45cb89 25.9%,#82cc58 26.7%,#b7c532 28.2%,#d9bd28 30.2%,#e4bb2c 34.4%,#debd29 36.4%,#bbc42f 37.5%,#96ca49 38.3%,#5bcc77 39.1%,#3ac993 39.5%,#26c2ad 39.9%,#02bac5 40.3%,#259ce7 41.1%,#3b72fe 41.8%,#4850f2 42.6%,#4746ea 43.4%,#416bfe 46.1%,#2e84f9 47.3%,#1ca9df 49.2%,#02bac5 50.4%,#38c896 51.6%,#82cc58 52.7%,#acc738 54.3%,#d2bf27 56.6%,#fbbc3d 60.9%,#f9d62d 79.2%,#f7dd2a 99.8%)"></i></div>
<div class="hm" style="left:747.3px;top:60.2px;width:512.5px;height:516.6px;--h:4.60px;--g:2.61px"><i style="top:0.0px;background:linear-gradient(90deg,#f5e526 0.2%,#f7dd2a 13.8%,#fbbc3d 22.0%,#cfc028 26.3%,#a8c73b 28.2%,#6dcd67 31.3%,#4acb84 35.2%,#44cb8a 39.5%,#46cb88 46.9%,#0dbdbb 51.9%,#01b9c6 54.7%,#11beba 57.0%,#32c69f 59.3%,#46cb88 60.1%,#97ca48 62.1%,#c9c129 64.0%,#eaba31 66.3%,#fcbd3d 68.7%,#f5e228 86.2%,#f5e526 99.8%)"></i><i style="top:4.0px;background:linear-gradient(90deg,#f5e526 0.2%,#f7dd2a 13.8%,#fbbc3d 22.0%,#cfc028 26.3%,#9fc942 28.6%,#67cd6c 31.7%,#45cb88 36.0%,#46cb88 46.9%,#0dbdbc 51.9%,#01b9c7 54.3%,#0bbdbd 56.6%,#31c69f 59.3%,#45cb88 60.1%,#96ca49 62.1%,#c8c129 64.0%,#eeba34 66.7%,#febd3c 69.1%,#f5e128 85.4%,#f5e526 99.8%)"></i><i style="top:8.0px;background:linear-gradient(90deg,#f5e526 0.2%,#f7dd2a 13.8%,#fbbc3d 22.0%,#d0c028 26.3%,#9ec942 28.6%,#66cd6d 31.7%,#44cb89 36.0%,#47cb87 46.9%,#0dbdbc 51.9%,#01b9c7 54.3%,#0abdbd 56.6%,#31c6a0 59.3%,#56cc7b 60.5%,#a1c840 62.5%,#cfc028 64.4%,#f9ba3d 67.9%,#f9d72c 79.2%,#f5e427 94.4%,#f5e526 99.8%)"></i><i style="top:12.0px;background:linear-gradient(90deg,#f5e526 0.2%,#f7dd2a 13.8%,#fbbc3d 22.0%,#d0c028 26.3%,#9ec942 28.6%,#65cd6e 31.7%,#43ca8a 36.0%,#47cb87 46.9%,#0cbdbc 51.9%,#01b9c7 54.3%,#0abdbd 56.6%,#31c6a0 59.3%,#55cc7c 60.5%,#94ca4a 62.1%,#c7c12a 64.0%,#e5bb2d 66.0%,#fcbc3d 68.7%,#f5e228 86.2%,#f5e526 99.8%)"></i><i style="top:16.0px;background:linear-gradient(90deg,#f5e526 0.2%,#f7dd2a 13.8%,#fbbc3d 22.0%,#d0c028 26.3%,#9ec942 28.6%,#64cd6f 31.7%,#46cb88 35.2%,#41ca8d 39.1%,#48cb86 46.9%,#12beb9 51.6%,#01b9c7 53.9%,#0abdbe 56.6%,#31c6a0 59.3%,#54cc7c 60.5%,#9fc941 62.5%,#cec028 64.4%,#f5ba3a 67.5%,#fec537 71.8%,#f5e228 87.0%,#f5e526 99.8%)"></i><i style="top:20.0px;background:linear-gradient(90deg,#f5e526 0.2%,#f7dd2a 13.8%,#fbbc3d 22.0%,#d0c027 26.3%,#9dc943 28.6%,#63cd70 31.7%,#45cb89 35.2%,#40ca8d 39.1%,#4acb84 46.5%,#08bcbf 52.3%,#01b9c7 55.1%,#0ebdbb 57.0%,#31c6a0 59.3%,#53cc7d 60.5%,#9fc942 62.5%,#cdc028 64.4%,#f5ba3a 67.5%,#fec537 71.8%,#f5e228 87.4%,#f5e526 99.8%)"></i><i style="top:24.0px;background:linear-gradient(90deg,#f5e526 0.2%,#f7dd2a 13.8%,#fbbc3d 22.0%,#d0c027 26.3%,#9dc943 28.6%,#62cd71 31.7%,#44ca8a 35.2%,#3fca8e 39.1%,#4bcb84 46.5%,#08bcbf 52.3%,#01b9c7 55.1%,#0dbdbb 57.0%,#31c5a1 59.3%,#42ca8b 60.1%,#92ca4b 62.1%,#c6c22a 64.0%,#e8bb2f 66.3%,#fcbc3d 68.7%,#f5e128 85.8%,#f5e526 99.8%)"></i><i style="top:28.0px;background:linear-gradient(90deg,#f5e526 0.2%,#f7dd2a 13.8%,#fbbc3d 22.0%,#d0bf27 26.3%,#9dc943 28.6%,#61cd72 31.7%,#43ca8b 35.2%,#3fca8e 39.1%,#4bcb83 46.5%,#0bbdbc 51.9%,#01b8c9 54.7%,#08bcbf 56.6%,#30c5a1 59.3%,#52cc7e 60.5%,#9dc943 62.5%,#ccc028 64.4%,#f4ba3a 67.5%,#fec438 71.4%,#f5e228 87.4%,#f5e526 99.8%)"></i><i style="top:32.0px;background:linear-gradient(90deg,#f5e526 0.2%,#f7dd2a 13.8%,#fbbc3d 22.0%,#d0bf27 26.3%,#9cc943 28.6%,#60cd73 31.7%,#41ca8c 35.2%,#3eca8f 39.1%,#4ccb83 46.5%,#0bbdbd 51.9%,#01b8c9 54.7%,#0cbdbc 57.0%,#30c5a1 59.3%,#51cc7f 60.5%,#9dc943 62.5%,#ccc028 64.4%,#f0ba36 67.1%,#febf3b 69.8%,#f5e228 87.0%,#f5e526 99.8%)"></i><i style="top:36.0px;background:linear-gradient(90deg,#f5e526 0.2%,#f7dd2a 13.8%,#fbbc3d 22.0%,#d0bf27 26.3%,#9cc944 28.6%,#5ecd74 31.7%,#3dca90 36.0%,#4dcb82 46.5%,#07bcc0 52.3%,#01b9c7 55.4%,#12beb9 57.4%,#30c5a1 59.3%,#50cc7f 60.5%,#9cc944 62.5%,#ccc028 64.4%,#f0ba36 67.1%,#febf3b 69.8%,#f5e228 87.0%,#f5e426 99.8%)"></i><i style="top:40.0px;background:linear-gradient(90deg,#f5e526 0.2%,#f7dd2a 13.8%,#fbbc3d 22.0%,#d0bf27 26.3%,#9cc944 28.6%,#5dcc75 31.7%,#3fca8e 35.2%,#3fca8f 39.5%,#4dcc82 46.5%,#07bcc0 52.3%,#01b8c9 55.1%,#0bbdbc 57.0%,#30c5a2 59.3%,#40ca8d 60.1%,#9bc944 62.5%,#cbc029 64.4%,#ecba32 66.7%,#fdbd3d 69.1%,#f5e228 87.0%,#f5e426 99.8%)"></i><i style="top:44.0px;background:linear-gradient(90deg,#f5e526 0.2%,#f7dd2a 13.8%,#fbbc3d 22.0%,#d0bf27 26.3%,#9bc944 28.6%,#5ccc76 31.7%,#3eca8f 35.2%,#3eca8f 39.5%,#4ecc81 46.5%,#0abdbd 51.9%,#01b8c9 55.1%,#0bbdbd 57.0%,#30c5a2 59.3%,#4fcc80 60.5%,#9bc945 62.5%,#cbc129 64.4%,#ebba32 66.7%,#fdbd3d 69.1%,#f5e228 87.0%,#f5e426 99.8%)"></i><i style="top:48.0px;background:linear-gradient(90deg,#f5e526 0.2%,#f7dd2a 13.8%,#fbbc3d 22.0%,#d0bf27 26.3%,#9bc944 28.6%,#5bcc77 31.7%,#3fca8e 34.8%,#3cc992 38.7%,#4fcc80 46.1%,#37c898 48.4%,#03bbc3 52.7%,#01b9c8 55.4%,#0abdbd 57.0%,#30c5a2 59.3%,#4ecc81 60.5%,#9ac945 62.5%,#cac129 64.4%,#ebba31 66.7%,#fcbd3d 69.1%,#f5e228 87.0%,#f5e426 99.8%)"></i><i style="top:52.0px;background:linear-gradient(90deg,#f5e526 0.2%,#f7dd2a 13.8%,#fbbc3d 22.0%,#d0bf27 26.3%,#a5c83e 28.2%,#60cd72 31.3%,#40ca8d 34.4%,#39c994 37.9%,#4fcc80 46.5%,#10beba 51.6%,#01b9c7 53.5%,#01b9c6 55.8%,#17bfb6 57.8%,#36c799 59.7%,#5ecd74 60.9%,#a4c83e 62.8%,#d1bf27 64.8%,#f9bb3d 68.3%,#f9d72d 79.6%,#f5e427 95.5%,#f5e426 99.8%)"></i><i style="top:56.0px;background:linear-gradient(90deg,#f5e526 0.2%,#f7dd2a 13.8%,#fbbc3d 22.0%,#d0bf27 26.3%,#a4c83e 28.2%,#58cc79 31.7%,#3ac993 35.6%,#3cc992 39.1%,#50cc80 46.5%,#10beba 51.6%,#01b9c8 53.5%,#02bac4 56.2%,#2fc5a2 59.3%,#4dcb82 60.5%,#98c947 62.5%,#c9c129 64.4%,#eaba31 66.7%,#fcbd3d 69.1%,#f5e228 87.4%,#f5e426 99.8%)"></i><i style="top:60.0px;background:linear-gradient(90deg,#f5e526 0.2%,#f7dd2a 13.8%,#fbbc3d 22.0%,#d0bf27 26.3%,#a4c83e 28.2%,#5dcc75 31.3%,#40ca8d 34.0%,#38c896 37.9%,#51cc7f 46.1%,#43ca8b 47.7%,#16bfb7 51.2%,#01b9c6 53.1%,#01b9c7 55.8%,#16bfb7 57.8%,#35c79a 59.7%,#97ca47 62.5%,#c9c129 64.4%,#eeba34 67.1%,#fdbd3d 69.5%,#f5e228 87.4%,#f5e426 99.8%)"></i><i style="top:64.0px;background:linear-gradient(90deg,#f5e526 0.2%,#f7dd2a 13.8%,#fbbc3d 22.0%,#d0bf27 26.3%,#a4c83e 28.2%,#5ccc76 31.3%,#3fca8e 34.0%,#38c897 37.9%,#52cc7e 46.1%,#3dc991 48.1%,#0abdbe 51.9%,#01b8ca 53.9%,#04bbc1 56.6%,#2fc5a3 59.3%,#4bcb84 60.5%,#96ca48 62.5%,#c8c129 64.4%,#eabb30 66.7%,#fcbc3d 69.1%,#f5e228 87.4%,#f5e426 99.8%)"></i><i style="top:68.0px;background:linear-gradient(90deg,#f5e526 0.2%,#f7dd2a 13.8%,#fbbc3d 22.0%,#d0bf27 26.3%,#a3c83e 28.2%,#5bcc77 31.3%,#3eca8f 34.0%,#36c898 37.5%,#52cc7e 46.1%,#43ca8a 47.7%,#16bfb7 51.2%,#01b9c6 53.1%,#01b8ca 55.4%,#0ebdbb 57.4%,#35c79b 59.7%,#5acc77 60.9%,#a1c840 62.8%,#cfc028 64.8%,#fabb3d 68.7%,#f8da2b 81.5%,#f5e426 99.8%)"></i><i style="top:72.0px;background:linear-gradient(90deg,#f5e526 0.2%,#f7dd2a 13.8%,#fbbc3d 22.0%,#d0bf27 26.3%,#99c946 28.6%,#53cc7e 31.7%,#3ac994 34.8%,#37c897 38.3%,#53cc7d 46.1%,#3dc990 48.1%,#16bfb7 51.2%,#01b9c6 53.1%,#01b8ca 55.4%,#08bcbf 57.0%,#34c79b 59.7%,#59cc78 60.9%,#a0c841 62.8%,#c7c12a 64.4%,#e9bb2f 66.7%,#fcbc3d 69.1%,#f5e128 87.0%,#f5e426 99.8%)"></i><i style="top:76.0px;background:linear-gradient(90deg,#f5e526 0.2%,#f7dd2a 13.8%,#fbbc3d 22.0%,#d0bf27 26.3%,#a3c83f 28.2%,#58cc79 31.3%,#3cc991 34.0%,#35c79a 37.5%,#53cc7d 46.1%,#44cb89 47.7%,#1cc0b4 50.8%,#02bac4 52.7%,#01b7ca 55.4%,#07bcbf 57.0%,#34c79c 59.7%,#58cc79 60.9%,#9fc941 62.8%,#cdc028 64.8%,#f7ba3c 68.3%,#fec834 73.7%,#f5e228 88.9%,#f5e426 99.8%)"></i><i style="top:80.0px;background:linear-gradient(90deg,#f5e526 0.2%,#f7dd2a 13.8%,#fbbc3d 22.0%,#d0bf27 26.3%,#a2c83f 28.2%,#56cc7b 31.3%,#3bc992 34.0%,#35c79a 37.5%,#54cc7c 46.1%,#45cb89 47.7%,#1cc0b4 50.8%,#02bac4 52.7%,#02b7cb 55.4%,#07bcbf 57.0%,#2ec4a4 59.3%,#48cb86 60.5%,#9ec942 62.8%,#cdc028 64.8%,#f7ba3c 68.3%,#fec835 73.7%,#f5e227 89.3%,#f5e426 99.8%)"></i><i style="top:84.0px;background:linear-gradient(90deg,#f5e526 0.2%,#f7dd2a 13.8%,#fbbc3d 22.0%,#d0bf27 26.3%,#a2c840 28.2%,#55cc7c 31.3%,#3ac993 34.0%,#34c79b 37.5%,#55cc7c 46.1%,#45cb89 47.7%,#1cc0b4 50.8%,#02bac4 52.7%,#02b7cb 55.4%,#07bcc0 57.0%,#33c79d 59.7%,#65cd6e 61.3%,#b3c534 63.6%,#d3bf27 65.2%,#f9bb3d 68.7%,#fad52d 79.6%,#f5e327 93.6%,#f5e426 99.8%)"></i><i style="top:88.0px;background:linear-gradient(90deg,#f5e526 0.2%,#f7dd2a 13.8%,#fbbc3d 22.0%,#d0bf27 26.3%,#a1c840 28.2%,#53cc7d 31.3%,#37c897 34.4%,#35c79b 37.9%,#55cc7c 46.1%,#45cb88 47.7%,#1cc0b4 50.8%,#02bac4 52.7%,#02b7cb 55.4%,#06bcc0 57.0%,#33c69d 59.7%,#55cc7c 60.9%,#a7c73c 63.2%,#d2bf27 65.2%,#fbbc3d 69.1%,#f5e228 88.1%,#f5e426 99.8%)"></i><i style="top:92.0px;background:linear-gradient(90deg,#f5e526 0.2%,#f7dd2a 13.8%,#fbbc3d 22.0%,#d0bf27 26.3%,#a1c840 28.2%,#52cc7e 31.3%,#38c896 34.0%,#33c69d 37.5%,#56cc7b 46.1%,#46cb88 47.7%,#1cc0b4 50.8%,#02bac4 52.7%,#03b7cc 55.4%,#06bcc1 57.0%,#32c69e 59.7%,#53cc7d 60.9%,#a6c83d 63.2%,#d1bf27 65.2%,#f9ba3d 68.7%,#f9d82c 81.1%,#f5e427 98.6%,#f5e426 99.8%)"></i><i style="top:95.9px;background:linear-gradient(90deg,#f5e526 0.2%,#f7dd2a 13.8%,#fbbc3d 22.0%,#d0bf27 26.3%,#a1c840 28.2%,#50cc7f 31.3%,#37c897 34.0%,#33c69e 37.5%,#56cc7a 46.1%,#47cb87 47.7%,#1cc0b3 50.8%,#01b9c6 53.1%,#01b8ca 55.8%,#0abdbd 57.4%,#32c69f 59.7%,#51cc7f 60.9%,#99c946 62.8%,#cac129 64.8%,#eeba34 67.5%,#fdbd3d 69.8%,#f5e128 87.7%,#f5e427 99.8%)"></i><i style="top:99.9px;background:linear-gradient(90deg,#f5e526 0.2%,#f7dd2a 13.8%,#fbbc3d 22.0%,#d0bf27 26.3%,#a0c841 28.2%,#4fcc81 31.3%,#38c896 33.7%,#31c6a0 37.2%,#57cc7a 46.5%,#16bfb7 51.2%,#01b9c6 53.1%,#01b8ca 55.8%,#09bcbe 57.4%,#31c6a0 59.7%,#4fcc80 60.9%,#a3c83f 63.2%,#c9c129 64.8%,#e9bb30 67.1%,#fcbc3d 69.5%,#f5e228 88.9%,#f5e427 99.8%)"></i><i style="top:103.9px;background:linear-gradient(90deg,#f5e526 0.2%,#f7dd2a 13.8%,#fbbc3d 22.0%,#d0bf27 26.3%,#a0c941 28.2%,#4dcc82 31.3%,#35c79a 34.0%,#31c6a0 37.5%,#58cc79 46.1%,#49cb86 47.7%,#1dc0b3 50.8%,#01b9c6 53.1%,#02b7cb 55.8%,#08bcbe 57.4%,#30c5a1 59.7%,#4dcc82 60.9%,#a1c840 63.2%,#cfc028 65.2%,#fabb3d 69.1%,#f8da2b 82.7%,#f5e427 99.8%)"></i><i style="top:107.9px;background:linear-gradient(90deg,#f5e526 0.2%,#f7dc2a 13.8%,#fbbc3d 22.0%,#d0bf27 26.3%,#9fc941 28.2%,#4bcb83 31.3%,#33c69d 34.4%,#31c6a1 37.5%,#59cc79 46.1%,#4acb85 47.7%,#1ec0b2 50.8%,#01b9c6 53.1%,#02b7cb 55.8%,#08bcbf 57.4%,#2fc5a2 59.7%,#4acb84 60.9%,#a0c941 63.2%,#cdc028 65.2%,#f7ba3c 68.7%,#fec835 74.1%,#f5e227 90.9%,#f5e427 99.8%)"></i><i style="top:111.9px;background:linear-gradient(90deg,#f5e526 0.2%,#f7dc2a 13.8%,#fcbd3d 21.6%,#d6be28 25.9%,#b5c533 27.4%,#52cc7e 30.9%,#3cc991 32.5%,#2ec4a5 36.4%,#59cc78 46.5%,#12beb9 51.6%,#01bac6 53.1%,#04b6cd 55.4%,#07bcc0 57.4%,#34c79c 60.1%,#57cc7a 61.3%,#9ec942 63.2%,#ccc028 65.2%,#f3ba38 68.3%,#fec438 72.6%,#f5e228 90.5%,#f5e427 99.8%)"></i><i style="top:115.9px;background:linear-gradient(90deg,#f5e526 0.2%,#f7dc2a 13.8%,#fcbd3d 21.6%,#d6be28 25.9%,#b4c533 27.4%,#48cb86 31.3%,#2fc5a2 34.8%,#30c5a1 37.9%,#5acc77 46.5%,#13beb9 51.6%,#01bac5 53.1%,#03b7cc 55.8%,#06bcc0 57.4%,#33c69d 60.1%,#54cc7c 61.3%,#9cc944 63.2%,#cbc129 65.2%,#eaba31 67.5%,#fcbc3d 69.8%,#f5e228 89.7%,#f5e427 99.8%)"></i><i style="top:119.9px;background:linear-gradient(90deg,#f5e526 0.2%,#f7dc2a 13.8%,#fcbd3d 21.6%,#d6be28 25.9%,#b4c533 27.4%,#46cb87 31.3%,#2ec5a4 34.8%,#31c6a0 38.3%,#5bcc77 46.5%,#46cb87 48.1%,#20c1b1 50.8%,#02bac5 53.1%,#03b7cc 55.8%,#05bbc1 57.4%,#32c69f 60.1%,#51cc7f 61.3%,#a5c83d 63.6%,#d0bf27 65.6%,#fabb3d 69.5%,#f8db2b 83.9%,#f5e427 99.8%)"></i><i style="top:123.9px;background:linear-gradient(90deg,#f5e526 0.2%,#f7dc2a 13.8%,#fcbd3d 21.6%,#d6be28 25.9%,#b4c534 27.4%,#4dcb82 30.9%,#36c899 32.9%,#2ac3a8 36.4%,#5ccc76 46.5%,#48cb86 48.1%,#1bc0b4 51.2%,#02bac5 53.1%,#04b6cc 55.8%,#09bcbe 57.8%,#30c5a1 60.1%,#4ecc81 61.3%,#a3c83f 63.6%,#c8c129 65.2%,#e9bb2f 67.5%,#fdbd3d 70.2%,#f5e128 90.1%,#f5e427 99.8%)"></i><i style="top:127.9px;background:linear-gradient(90deg,#f5e526 0.2%,#f7dc2a 13.8%,#fcbd3d 21.6%,#d6be28 25.9%,#b3c534 27.4%,#43ca8a 31.3%,#29c3aa 35.6%,#47cb87 42.6%,#5dcc75 46.1%,#52cc7e 47.7%,#2cc4a6 50.0%,#02bac4 53.1%,#04b6cd 55.8%,#03bbc2 57.4%,#2fc5a3 60.1%,#4bcb84 61.3%,#a1c840 63.6%,#cec028 65.6%,#f9bb3d 69.5%,#f9d72c 82.3%,#f5e427 99.8%)"></i><i style="top:131.9px;background:linear-gradient(90deg,#f5e526 0.2%,#f7dc2a 13.8%,#fcbd3d 21.6%,#d6be28 25.9%,#b3c534 27.4%,#49cb85 30.9%,#34c79c 32.9%,#28c2ab 36.4%,#4fcc80 43.8%,#5dcc75 46.5%,#4bcb83 48.1%,#1ec0b2 51.2%,#02bac4 53.1%,#04b6cd 55.8%,#07bcc0 57.8%,#34c79c 60.5%,#57cc7a 61.7%,#9ec942 63.6%,#ccc028 65.6%,#f2ba38 68.7%,#fec13a 72.2%,#f5e228 91.6%,#f5e427 99.8%)"></i><i style="top:135.9px;background:linear-gradient(90deg,#f5e526 0.2%,#f7dc2a 13.8%,#fcbd3d 21.6%,#d6be28 25.9%,#b3c534 27.4%,#47cb87 30.9%,#31c6a0 33.3%,#27c2ac 36.4%,#5ecd74 46.5%,#4dcc82 48.1%,#1fc0b2 51.2%,#01b9c6 53.5%,#03b7cc 56.2%,#06bcc0 57.8%,#32c69f 60.5%,#54cc7d 61.7%,#9cc944 63.6%,#cbc129 65.6%,#eeba34 68.3%,#fdbd3d 70.6%,#f5e128 90.9%,#f5e427 99.8%)"></i><i style="top:139.9px;background:linear-gradient(90deg,#f5e526 0.2%,#f7dc2a 13.8%,#fcbd3d 21.6%,#d6be28 25.9%,#b2c535 27.4%,#46cb88 30.9%,#30c5a2 33.3%,#25c2ad 36.4%,#5fcd73 46.5%,#4fcc80 48.1%,#1ac0b5 51.6%,#01b9c6 53.5%,#03b7cc 56.2%,#09bdbe 58.2%,#31c5a1 60.5%,#50cc80 61.7%,#9ac946 63.6%,#cac129 65.6%,#edba33 68.3%,#fcbd3d 70.6%,#f5e128 91.2%,#f5e427 99.8%)"></i><i style="top:143.9px;background:linear-gradient(90deg,#f5e526 0.2%,#f7dc2a 13.8%,#fcbd3d 21.6%,#d6be28 25.9%,#b2c635 27.4%,#44cb8a 30.9%,#25c2ad 34.8%,#27c2ab 37.2%,#5fcd73 46.1%,#58cc79 47.7%,#2cc4a7 50.4%,#01b9c6 53.5%,#04b6cd 56.2%,#04bbc2 57.8%,#2fc5a3 60.5%,#4ccb83 61.7%,#97ca47 63.6%,#c8c129 65.6%,#ecba32 68.3%,#fcbd3d 70.6%,#f5e228 92.0%,#f5e427 99.8%)"></i><i style="top:147.9px;background:linear-gradient(90deg,#f5e526 0.2%,#f7dc2a 13.8%,#fcbd3d 21.6%,#d6be28 25.9%,#b1c635 27.4%,#42ca8b 30.9%,#26c2ad 34.4%,#24c1ae 36.8%,#60cd72 46.5%,#52cc7e 48.1%,#28c3ab 50.8%,#01bac5 53.5%,#06b5cf 55.8%,#03bbc3 57.8%,#2ec4a4 60.5%,#49cb85 61.7%,#95ca49 63.6%,#c7c12a 65.6%,#ebba31 68.3%,#fcbc3d 70.6%,#f5e128 91.6%,#f5e427 99.8%)"></i><i style="top:151.9px;background:linear-gradient(90deg,#f5e526 0.2%,#f7dc2a 13.8%,#fcbd3d 21.6%,#d6be28 25.9%,#b1c635 27.4%,#40ca8d 30.9%,#21c1b0 34.8%,#25c2ad 37.2%,#60cd72 46.1%,#5bcc77 47.7%,#29c3aa 50.8%,#02bac5 53.5%,#05b6cd 56.2%,#06bcc0 58.2%,#32c69e 60.9%,#55cc7b 62.1%,#9ec942 64.0%,#ccc028 66.0%,#f1ba37 69.1%,#fec03b 72.2%,#f5e228 93.2%,#f5e327 99.8%)"></i><i style="top:155.9px;background:linear-gradient(90deg,#f5e526 0.2%,#f7dc2a 13.8%,#fcbd3d 21.6%,#dbbd29 25.5%,#bcc42f 27.0%,#48cb86 30.5%,#33c69e 32.1%,#1bc0b4 35.6%,#61cd71 46.5%,#56cc7b 48.1%,#2fc5a3 50.4%,#02bac4 53.5%,#05b6ce 56.2%,#05bbc1 58.2%,#31c6a0 60.9%,#42ca8b 61.7%,#9cc944 64.0%,#cac129 66.0%,#f1ba36 69.1%,#febe3c 71.8%,#f5e228 92.8%,#f5e327 99.8%)"></i><i style="top:159.9px;background:linear-gradient(90deg,#f5e526 0.2%,#f7dc2a 13.8%,#fcbd3d 21.6%,#d5be28 25.9%,#b0c636 27.4%,#3dca90 30.9%,#1cc0b3 34.8%,#1fc1b1 36.8%,#61cd71 46.1%,#57cc7a 48.1%,#30c5a2 50.4%,#02bac4 53.5%,#05b6ce 56.2%,#04bbc1 58.2%,#30c5a2 60.9%,#3fca8e 61.7%,#99c946 64.0%,#c9c129 66.0%,#ecba32 68.7%,#fdbd3d 71.4%,#f5e128 92.4%,#f5e327 99.8%)"></i><i style="top:163.9px;background:linear-gradient(90deg,#f5e526 0.2%,#f7dc2a 13.8%,#fcbc3d 21.6%,#d5be28 25.9%,#b0c636 27.4%,#45cb89 30.5%,#2ec4a4 32.5%,#17bfb7 35.6%,#62cd71 46.5%,#58cc79 48.1%,#2cc4a6 50.8%,#02bac3 53.5%,#06b5ce 56.2%,#03bbc2 58.2%,#2ec5a4 60.9%,#4bcb84 62.1%,#97ca48 64.0%,#c8c129 66.0%,#ebba32 68.7%,#fdbd3d 71.4%,#f5e128 92.8%,#f5e327 99.8%)"></i><i style="top:167.9px;background:linear-gradient(90deg,#f5e526 0.2%,#f7dc2a 13.8%,#fcbc3d 21.6%,#d5be28 25.9%,#bbc430 27.0%,#6bcd69 29.4%,#43ca8b 30.5%,#26c2ad 33.3%,#14beb8 35.6%,#62cd71 46.1%,#59cc78 48.1%,#2dc4a5 50.8%,#01b9c6 53.9%,#04b6cd 56.6%,#07bcc0 58.6%,#33c69d 61.3%,#58cc79 62.5%,#95ca49 64.0%,#c6c22a 66.0%,#e6bb2d 68.3%,#fbbc3d 71.0%,#f5e228 93.6%,#f5e327 99.8%)"></i><i style="top:171.9px;background:linear-gradient(90deg,#f5e526 0.2%,#f7dc2a 13.8%,#fcbc3d 21.6%,#d5be28 25.9%,#bac430 27.0%,#69cd6b 29.4%,#41ca8c 30.5%,#28c2ab 32.9%,#11beb9 35.6%,#62cd71 46.1%,#5acc77 48.1%,#2ec4a4 50.8%,#01b9c6 53.9%,#05b6cd 56.6%,#06bcc0 58.6%,#32c69f 61.3%,#55cc7b 62.5%,#93ca4b 64.0%,#c5c22a 66.0%,#e9bb30 68.7%,#fcbd3d 71.4%,#f5e128 93.6%,#f5e327 99.8%)"></i><i style="top:175.9px;background:linear-gradient(90deg,#f5e526 0.2%,#f7dc2a 13.8%,#fcbc3d 21.6%,#d5be28 25.9%,#bac430 27.0%,#67cd6c 29.4%,#3fca8e 30.5%,#22c1b0 33.3%,#0ebebb 35.2%,#39c994 41.1%,#62cd71 46.1%,#5bcc76 48.1%,#2ec5a4 50.8%,#01bac5 53.9%,#07b5cf 56.2%,#02bac4 58.2%,#31c6a0 61.3%,#52cc7e 62.5%,#9cc944 64.4%,#cac129 66.3%,#ecba32 69.1%,#fdbd3d 71.8%,#f5e128 93.6%,#f5e327 99.8%)"></i><i style="top:179.9px;background:linear-gradient(90deg,#f5e526 0.2%,#f7dc2a 13.8%,#fcbc3d 21.6%,#d5be28 25.9%,#adc638 27.4%,#3eca90 30.5%,#1bc0b4 33.7%,#0cbdbc 35.2%,#39c995 41.1%,#62cd71 46.1%,#5ccc76 48.1%,#2fc5a3 50.8%,#01bac5 53.9%,#07b5d0 56.2%,#04bbc1 58.6%,#30c5a2 61.3%,#40ca8d 62.1%,#8ecb4e 64.0%,#c1c32c 66.0%,#e3bc2c 68.3%,#fbbc3d 71.4%,#f5e228 94.4%,#f5e327 99.8%)"></i><i style="top:183.9px;background:linear-gradient(90deg,#f5e526 0.2%,#f7dc2a 13.8%,#fcbc3d 21.6%,#d5be28 25.9%,#adc638 27.4%,#47cb87 30.2%,#2ec5a4 31.7%,#09bdbe 35.2%,#34c79b 40.3%,#62cd71 46.1%,#5ccc75 48.1%,#26c2ac 51.6%,#02bac5 53.9%,#06b5cf 56.6%,#04bbc2 58.6%,#2fc5a3 61.3%,#4dcc82 62.5%,#98c947 64.4%,#c8c129 66.3%,#eaba31 69.1%,#fbbc3d 71.4%,#f5e228 94.7%,#f5e327 99.8%)"></i><i style="top:187.9px;background:linear-gradient(90deg,#f5e526 0.2%,#f7dc2a 13.8%,#fcbc3d 21.6%,#d5be28 25.9%,#acc738 27.4%,#3bc993 30.5%,#15bfb7 33.7%,#08bcbf 35.6%,#34c79b 40.3%,#62cd70 46.5%,#5dcc75 48.1%,#13beb9 52.7%,#01b9c8 54.3%,#06b5cf 56.6%,#03bbc2 58.6%,#2ec4a4 61.3%,#4acb84 62.5%,#96ca48 64.4%,#cdc028 66.7%,#f9bb3d 71.0%,#f9d82c 86.2%,#f5e327 99.8%)"></i><i style="top:191.9px;background:linear-gradient(90deg,#f5e526 0.2%,#f7dc2a 13.8%,#fcbc3d 21.6%,#dabd28 25.5%,#b8c431 27.0%,#61cd72 29.4%,#39c994 30.5%,#12beb9 33.7%,#06bcc0 35.6%,#32c69f 39.9%,#61cd71 46.1%,#5dcc75 48.1%,#14beb8 52.7%,#01b9c7 54.3%,#07b5cf 56.6%,#02bbc3 58.6%,#33c69d 61.7%,#58cc79 62.8%,#94ca4a 64.4%,#c5c22a 66.3%,#e9bb2f 69.1%,#fcbc3d 71.8%,#f5e128 94.4%,#f5e327 99.8%)"></i><i style="top:195.9px;background:linear-gradient(90deg,#f5e526 0.2%,#f7dc2a 13.8%,#fcbc3d 21.6%,#dabd28 25.5%,#b8c431 27.0%,#70cd65 29.0%,#41ca8c 30.2%,#21c1b0 32.5%,#04bbc1 34.8%,#0fbebb 36.8%,#31c69f 39.9%,#61cd71 46.5%,#58cc79 48.4%,#15bfb7 52.7%,#01b9c7 54.3%,#05b6ce 57.0%,#06bcc0 58.9%,#32c69f 61.7%,#56cc7b 62.8%,#9dc943 64.8%,#cac129 66.7%,#ebba32 69.5%,#fdbd3d 72.2%,#f5e128 94.7%,#f5e327 99.8%)"></i><i style="top:199.9px;background:linear-gradient(90deg,#f5e526 0.2%,#f7dc2a 13.8%,#fcbc3d 21.6%,#d4bf28 25.9%,#abc739 27.4%,#3fca8e 30.2%,#25c2ad 32.1%,#02bbc3 34.8%,#0dbdbc 36.8%,#31c6a0 39.9%,#61cd71 46.5%,#59cc79 48.4%,#0ebebb 53.1%,#01b9c7 54.3%,#06b6ce 57.0%,#05bbc1 58.9%,#31c6a0 61.7%,#53cc7d 62.8%,#9cc944 64.8%,#c9c129 66.7%,#ebba31 69.5%,#fbbc3d 71.8%,#f5e128 94.7%,#f5e327 99.8%)"></i><i style="top:203.9px;background:linear-gradient(90deg,#f5e526 0.2%,#f7dc2a 13.8%,#fcbc3d 21.6%,#d4bf28 25.9%,#aac73a 27.4%,#3eca8f 30.2%,#1dc0b3 32.5%,#03bbc3 34.4%,#07bcc0 36.4%,#2ec5a3 39.5%,#61cd72 46.5%,#59cc78 48.4%,#10beba 53.1%,#01b9c6 54.3%,#08b5d0 56.6%,#02bac5 58.6%,#30c5a1 61.7%,#50cc7f 62.8%,#9ac946 64.8%,#c7c129 66.7%,#eabb30 69.5%,#fcbc3d 72.2%,#f5e128 94.7%,#f5e327 99.8%)"></i><i style="top:207.9px;background:linear-gradient(90deg,#f5e526 0.2%,#f7dc2a 13.8%,#fcbc3d 21.6%,#d4bf28 25.9%,#a9c73a 27.4%,#3dc991 30.2%,#1bc0b4 32.5%,#02bac4 34.4%,#09bdbe 36.8%,#2ec5a4 39.5%,#60cd72 46.5%,#5acc78 48.4%,#09bdbe 53.5%,#01b8c9 54.7%,#06b5cf 57.0%,#04bbc2 58.9%,#2fc5a3 61.7%,#4ecc82 62.8%,#98ca47 64.8%,#c6c22a 66.7%,#e9bb2f 69.5%,#fcbc3d 72.2%,#f5e128 95.1%,#f5e327 99.8%)"></i><i style="top:211.9px;background:linear-gradient(90deg,#f5e526 0.2%,#f7dc2a 13.8%,#fcbc3d 21.6%,#d4bf27 25.9%,#a8c73b 27.4%,#3bc992 30.2%,#18bfb6 32.5%,#01b9c6 34.4%,#08bcbf 36.8%,#2ec4a4 39.5%,#60cd73 46.5%,#5acc77 48.4%,#0abdbd 53.5%,#01b8c9 54.7%,#07b5cf 57.0%,#03bbc3 58.9%,#2ec5a4 61.7%,#4bcb84 62.8%,#96ca49 64.8%,#c5c22a 66.7%,#e8bb2f 69.5%,#fbbc3d 72.2%,#f5e128 95.5%,#f5e227 99.8%)"></i><i style="top:215.9px;background:linear-gradient(90deg,#f5e526 0.2%,#f7dc2a 13.8%,#fcbc3d 21.6%,#dabd28 25.5%,#b5c533 27.0%,#68cd6c 29.0%,#3ac994 30.2%,#15bfb7 32.5%,#02bac5 34.0%,#02bbc3 36.4%,#2ec4a5 39.5%,#5fcd73 46.5%,#5acc77 48.4%,#13beb8 53.1%,#01b8c8 54.7%,#07b5d0 57.0%,#02bbc3 58.9%,#2dc4a5 61.7%,#49cb86 62.8%,#94ca4a 64.8%,#c3c22b 66.7%,#e7bb2e 69.5%,#fcbd3d 72.6%,#f5e128 95.9%,#f5e227 99.8%)"></i><i style="top:219.9px;background:linear-gradient(90deg,#f5e526 0.2%,#f7dc2a 13.8%,#fcbc3d 21.6%,#d9bd28 25.5%,#b4c533 27.0%,#66cd6d 29.0%,#38c896 30.2%,#0bbdbd 32.9%,#01b7ca 34.8%,#0abdbd 37.2%,#2dc4a5 39.5%,#5ecd74 46.5%,#5acc77 48.4%,#15bfb8 53.1%,#01b9c8 54.7%,#08b5d0 57.0%,#02bac4 58.9%,#32c69e 62.1%,#57cc7a 63.2%,#9dc943 65.2%,#c9c129 67.1%,#eabb30 69.8%,#fcbc3d 72.6%,#f6e128 95.5%,#f5e227 99.8%)"></i><i style="top:223.9px;background:linear-gradient(90deg,#f5e526 0.2%,#f7dc2a 13.8%,#fcbc3d 21.6%,#d9bd28 25.5%,#c0c32d 26.7%,#76cc60 28.6%,#37c897 30.2%,#09bcbe 32.9%,#01b7ca 34.4%,#04bbc2 36.8%,#2dc4a5 39.5%,#5ecc74 46.5%,#55cc7c 48.8%,#02bac4 54.3%,#0ab4d1 56.6%,#02bac4 58.9%,#32c69f 62.1%,#54cc7c 63.2%,#90ca4d 64.8%,#c7c129 67.1%,#e9bb30 69.8%,#fdbd3d 73.0%,#f5e128 96.3%,#f5e227 99.8%)"></i><i style="top:227.9px;background:linear-gradient(90deg,#f5e526 0.2%,#f7dc2a 13.8%,#fcbc3d 21.6%,#d9be28 25.5%,#bfc32d 26.7%,#87cb54 28.2%,#40ca8d 29.8%,#25c2ae 31.3%,#02bac3 33.3%,#03b7cc 35.6%,#08bcbf 37.2%,#2dc4a6 39.5%,#5dcc74 46.5%,#5acc77 48.4%,#17bfb6 53.1%,#01b9c7 54.7%,#09b4d1 57.0%,#04bbc1 59.3%,#31c6a0 62.1%,#52cc7e 63.2%,#8ecb4e 64.8%,#c6c22a 67.1%,#e8bb2f 69.8%,#fbbc3d 72.6%,#f6e128 95.9%,#f5e227 99.8%)"></i><i style="top:231.9px;background:linear-gradient(90deg,#f5e526 0.2%,#f7dc2a 13.8%,#fcbc3d 21.6%,#d9be28 25.5%,#bfc32e 26.7%,#85cb55 28.2%,#3eca8f 29.8%,#23c1af 31.3%,#01bac5 33.3%,#04b6cd 35.6%,#07bcc0 37.2%,#2dc4a6 39.5%,#5dcc75 46.5%,#56cc7b 48.8%,#01b9c7 54.7%,#09b4d1 57.0%,#04bbc2 59.3%,#30c5a1 62.1%,#4fcc80 63.2%,#8ccb50 64.8%,#c5c22a 67.1%,#e7bb2e 69.8%,#fcbc3d 73.0%,#f6e128 96.3%,#f5e227 99.8%)"></i><i style="top:235.9px;background:linear-gradient(90deg,#f5e526 0.2%,#f7dc2a 13.8%,#fcbc3d 21.6%,#d9be28 25.5%,#bec32e 26.7%,#71cd64 28.6%,#3cc991 29.8%,#20c1b1 31.3%,#02bbc3 32.9%,#08b5d0 35.2%,#02bac5 36.8%,#2cc4a6 39.5%,#5dcc75 46.9%,#56cc7b 48.8%,#01b9c6 54.7%,#0ab4d1 57.0%,#03bbc2 59.3%,#2fc5a2 62.1%,#4dcc82 63.2%,#96ca49 65.2%,#c3c22b 67.1%,#e6bb2d 69.8%,#fcbc3d 73.0%,#f6e128 96.3%,#f5e228 99.8%)"></i><i style="top:239.9px;background:linear-gradient(90deg,#f5e526 0.2%,#f7dc2a 13.8%,#fbbc3d 21.6%,#d8be28 25.5%,#bdc32e 26.7%,#82cc58 28.2%,#3bc993 29.8%,#15bfb7 31.7%,#01b8c8 33.3%,#0ab4d2 35.2%,#01bac5 36.8%,#2cc4a7 39.5%,#5ccc75 46.9%,#56cc7b 48.8%,#01b9c6 54.7%,#0ab4d2 57.0%,#02bbc3 59.3%,#2fc5a3 62.1%,#4bcb84 63.2%,#94ca4a 65.2%,#c8c129 67.5%,#ecba33 70.6%,#fcbd3d 73.3%,#f6e128 96.7%,#f5e228 99.8%)"></i><i style="top:243.9px;background:linear-gradient(90deg,#f5e526 0.2%,#f7dc2a 13.8%,#fbbc3d 21.6%,#d8be28 25.5%,#bdc42f 26.7%,#80cc59 28.2%,#39c895 29.8%,#12beb9 31.7%,#01b9c6 32.9%,#0cb3d3 35.2%,#01b9c6 36.8%,#2cc4a7 39.5%,#5ccc76 46.5%,#56cc7b 48.8%,#01b9c6 54.7%,#08b4d1 57.4%,#02bac3 59.3%,#2ec4a4 62.1%,#49cb85 63.2%,#92ca4b 65.2%,#c7c12a 67.5%,#ebba32 70.6%,#fcbd3d 73.3%,#f6e128 96.7%,#f5e228 99.8%)"></i><i style="top:247.9px;background:linear-gradient(90deg,#f5e526 0.2%,#f7dc2a 13.8%,#fbbc3d 21.6%,#d8be28 25.5%,#bcc42f 26.7%,#7ecc5a 28.2%,#37c897 29.8%,#0fbeba 31.7%,#01b8c8 32.9%,#0fb2d4 35.2%,#03bbc2 37.2%,#2cc4a7 39.5%,#5ccc76 46.9%,#56cc7b 48.8%,#13beb9 53.5%,#01bac5 54.7%,#0bb3d2 57.0%,#02bac4 59.3%,#33c69d 62.5%,#57cc7a 63.6%,#90ca4d 65.2%,#c6c22a 67.5%,#e7bb2e 70.2%,#fcbc3d 73.3%,#f6e128 96.7%,#f5e228 99.8%)"></i><i style="top:251.9px;background:linear-gradient(90deg,#f5e526 0.2%,#f7dc2a 13.8%,#fbbc3d 21.6%,#d7be28 25.5%,#bbc430 26.7%,#7ccc5c 28.2%,#42ca8b 29.4%,#27c2ab 30.5%,#01b9c6 32.5%,#11b1d6 35.2%,#01b9c8 36.8%,#13beb9 37.9%,#2cc4a7 39.5%,#5ccc76 46.9%,#56cc7b 48.8%,#13beb8 53.5%,#01bac5 54.7%,#0cb3d3 57.0%,#02bac4 59.3%,#32c69e 62.5%,#55cc7c 63.6%,#8fcb4e 65.2%,#c4c22b 67.5%,#e6bb2d 70.2%,#fbbc3d 73.3%,#f6e028 96.7%,#f5e228 99.8%)"></i><i style="top:255.9px;background:linear-gradient(90deg,#f5e526 0.2%,#f7dc2a 13.8%,#fbbc3d 21.6%,#d7be28 25.5%,#bac430 26.7%,#7acc5e 28.2%,#3fca8e 29.4%,#1cc0b3 30.9%,#02bbc3 32.1%,#14b0d8 34.8%,#02bac3 37.2%,#2cc4a7 39.5%,#5ccc76 46.9%,#56cc7b 48.8%,#13beb8 53.5%,#01bac5 54.7%,#0ab4d2 57.4%,#04bbc1 59.7%,#32c69f 62.5%,#53cc7d 63.6%,#8dcb4f 65.2%,#c3c22b 67.5%,#e9bb2f 70.6%,#fbbc3d 73.3%,#f6e028 96.7%,#f5e228 99.8%)"></i><i style="top:259.9px;background:linear-gradient(90deg,#f5e526 0.2%,#f7dc2a 13.8%,#fbbc3d 21.6%,#d7be28 25.5%,#b9c431 26.7%,#77cc60 28.2%,#3dc990 29.4%,#1abfb5 30.9%,#02bac5 32.1%,#16afd9 34.8%,#02bac4 37.2%,#2cc4a7 39.5%,#5ccc76 46.9%,#56cc7b 48.8%,#14beb8 53.5%,#02bac5 54.7%,#0bb3d2 57.4%,#01bac5 59.3%,#31c6a0 62.5%,#51cc7f 63.6%,#96ca49 65.6%,#c8c129 67.9%,#ebba32 71.0%,#fdbd3d 74.1%,#f6e128 97.5%,#f5e128 99.8%)"></i><i style="top:263.9px;background:linear-gradient(90deg,#f5e526 0.2%,#f7db2b 14.2%,#fbbc3d 21.6%,#d6be28 25.5%,#b8c431 26.7%,#75cc62 28.2%,#3bc993 29.4%,#16bfb7 30.9%,#01b9c7 32.1%,#18aedb 34.8%,#02bac4 37.2%,#2cc4a7 39.5%,#5ccc76 46.5%,#56cc7a 48.8%,#14beb8 53.5%,#02bac5 54.7%,#0cb3d3 57.4%,#03bbc2 59.7%,#31c6a0 62.5%,#4fcc80 63.6%,#94ca4a 65.6%,#c7c12a 67.9%,#eaba31 71.0%,#fcbc3d 73.7%,#f6e028 97.1%,#f5e128 99.8%)"></i><i style="top:267.9px;background:linear-gradient(90deg,#f5e526 0.2%,#f7db2b 14.2%,#fbbc3d 21.6%,#d6be28 25.5%,#b6c532 26.7%,#72cd64 28.2%,#39c895 29.4%,#12beb9 30.9%,#01b8c9 32.1%,#19addc 34.4%,#0eb2d4 36.0%,#02bac4 37.2%,#28c3ab 39.1%,#5ccc75 46.5%,#57cc7a 48.8%,#02bac5 54.7%,#0cb3d3 57.4%,#02bbc3 59.7%,#30c5a1 62.5%,#4dcc82 63.6%,#92ca4b 65.6%,#c5c22a 67.9%,#eabb30 71.0%,#fcbd3d 74.1%,#f6e028 97.5%,#f5e128 99.8%)"></i><i style="top:271.9px;background:linear-gradient(90deg,#f5e526 0.2%,#f7db2b 14.2%,#fbbc3d 21.6%,#d5be28 25.5%,#b5c533 26.7%,#6fcd66 28.2%,#36c898 29.4%,#05bbc1 31.3%,#08b5d0 32.5%,#1babde 34.4%,#0fb2d5 36.0%,#01b8ca 36.8%,#13beb8 37.9%,#2cc4a7 39.5%,#5ecc74 46.5%,#58cc79 48.8%,#02bac5 54.7%,#0db3d3 57.4%,#02bac3 59.7%,#30c5a1 62.5%,#4ccb83 63.6%,#91ca4d 65.6%,#c4c22b 67.9%,#e9bb2f 71.0%,#fbbc3d 73.7%,#f6e028 97.1%,#f5e128 99.8%)"></i><i style="top:275.9px;background:linear-gradient(90deg,#f5e526 0.2%,#f7db2b 14.2%,#fbbc3d 21.6%,#dbbd29 25.1%,#c1c32c 26.3%,#81cc58 27.8%,#42ca8c 29.0%,#22c1b0 30.2%,#02bac3 31.3%,#1baade 34.0%,#16afd9 35.6%,#01b7ca 36.8%,#09bcbe 37.5%,#29c3aa 39.1%,#5fcd73 46.5%,#59cc78 48.8%,#14beb8 53.5%,#02bac5 54.7%,#0eb2d4 57.4%,#02bac4 59.7%,#35c79a 62.8%,#8fcb4e 65.6%,#c2c22c 67.9%,#e4bb2c 70.6%,#fcbc3d 74.1%,#f6e028 97.5%,#f5e128 99.8%)"></i><i style="top:279.9px;background:linear-gradient(90deg,#f5e526 0.2%,#f7dc2a 13.8%,#fbbc3d 21.6%,#d4bf27 25.5%,#b2c635 26.7%,#69cd6b 28.2%,#3eca8f 29.0%,#1ec0b2 30.2%,#01b9c6 31.3%,#1caadf 33.7%,#17aeda 35.6%,#01b8ca 36.8%,#0abdbe 37.5%,#29c3aa 39.1%,#60cd72 46.1%,#5bcc77 48.8%,#14beb8 53.5%,#02bac5 54.7%,#0fb2d4 57.4%,#02bac4 59.7%,#2fc5a3 62.5%,#49cb85 63.6%,#97ca47 66.0%,#c7c129 68.3%,#eaba31 71.4%,#fcbd3d 74.5%,#f6e028 97.9%,#f6e128 99.8%)"></i><i style="top:283.8px;background:linear-gradient(90deg,#f5e526 0.2%,#f7dc2a 13.8%,#fcbd3d 21.2%,#dabd28 25.1%,#bec32e 26.3%,#7ccc5c 27.8%,#3cc992 29.0%,#1ac0b4 30.2%,#03bbc2 30.9%,#06b5ce 31.7%,#1baade 33.3%,#1babde 35.2%,#01b8ca 36.8%,#0abdbd 37.5%,#2ac3a9 39.1%,#62cd71 45.7%,#61cd72 48.4%,#14beb8 53.5%,#02bac5 54.7%,#10b2d5 57.4%,#01bac5 59.7%,#35c79b 62.8%,#64cd6f 64.4%,#9fc941 66.3%,#ccc028 68.7%,#ecba33 71.8%,#fcbc3d 74.5%,#f6e028 97.9%,#f6e128 99.8%)"></i><i style="top:287.8px;background:linear-gradient(90deg,#f5e526 0.2%,#f7dc2a 13.8%,#fcbd3d 21.2%,#d9be28 25.1%,#bcc42f 26.3%,#78cc5f 27.8%,#39c895 29.0%,#09bcbe 30.5%,#03b7cb 31.3%,#1babde 32.9%,#1ea7e1 34.8%,#11b1d6 36.0%,#01b8ca 36.8%,#0cbdbc 37.5%,#2ac3a9 39.1%,#64cd6f 45.7%,#63cd70 48.4%,#14beb8 53.5%,#02bac5 54.7%,#10b2d5 57.4%,#01b9c6 59.7%,#34c79b 62.8%,#62cd70 64.4%,#9dc943 66.3%,#cac129 68.7%,#ecba32 71.8%,#fdbd3d 74.9%,#f6e028 98.2%,#f6e128 99.8%)"></i><i style="top:291.8px;background:linear-gradient(90deg,#f5e526 0.2%,#f7db2a 13.8%,#fcbc3d 21.2%,#d8be28 25.1%,#bac430 26.3%,#74cc62 27.8%,#36c899 29.0%,#05bbc1 30.5%,#06b5ce 31.3%,#1da8e0 32.9%,#1fa6e2 34.8%,#11b1d6 36.0%,#01b8c9 36.8%,#2bc3a8 39.1%,#66cd6d 45.3%,#65cd6e 48.4%,#14beb8 53.5%,#02bac5 54.7%,#10b2d5 57.8%,#01b9c6 59.7%,#34c79c 62.8%,#53cc7d 64.0%,#92ca4b 66.0%,#c9c129 68.7%,#ebba31 71.8%,#fcbd3d 74.9%,#f6e028 98.2%,#f6e128 99.8%)"></i><i style="top:295.8px;background:linear-gradient(90deg,#f5e526 0.2%,#f7db2a 13.8%,#fcbc3d 21.2%,#d7be28 25.1%,#b8c431 26.3%,#87cb54 27.4%,#42ca8b 28.6%,#0bbdbd 30.2%,#02b7cb 30.9%,#1ca9df 32.5%,#21a2e4 34.4%,#11b2d5 36.0%,#01b8c8 36.8%,#2cc4a7 39.1%,#67cd6c 44.9%,#67cd6c 48.4%,#14beb8 53.5%,#02bac5 54.7%,#11b2d5 57.8%,#02bbc3 60.1%,#33c79d 62.8%,#5fcd73 64.4%,#9ac945 66.3%,#cdc028 69.1%,#f3ba38 73.0%,#fec239 77.6%,#f6e128 99.8%)"></i><i style="top:299.8px;background:linear-gradient(90deg,#f5e526 0.2%,#f7db2b 13.8%,#fcbc3d 21.2%,#d5be28 25.1%,#b5c533 26.3%,#83cc57 27.4%,#3eca8f 28.6%,#16bfb7 29.8%,#01b9c7 30.5%,#1ea7e1 32.5%,#22a2e4 34.4%,#10b2d5 36.0%,#01b9c7 36.8%,#29c3aa 38.7%,#6bcd69 44.9%,#6acd6a 48.4%,#2dc4a5 51.9%,#02bac5 54.7%,#11b1d6 57.8%,#02bac3 60.1%,#33c69d 62.8%,#50cc80 64.0%,#99c946 66.3%,#ccc028 69.1%,#efba35 72.6%,#febe3c 76.1%,#f6e028 98.6%,#f6e028 99.8%)"></i><i style="top:303.8px;background:linear-gradient(90deg,#f5e526 0.2%,#f7db2b 13.8%,#fbbc3d 21.2%,#dbbd28 24.7%,#b3c534 26.3%,#7fcc5a 27.4%,#3ac994 28.6%,#03bbc3 30.2%,#0ab4d2 30.9%,#21a4e3 32.5%,#249ee6 34.0%,#17aeda 35.6%,#01b9c6 36.8%,#2ac3a9 38.7%,#6ccd68 44.6%,#6dcd68 48.4%,#32c69f 51.6%,#02bac5 54.7%,#12b1d6 57.8%,#02bac4 60.1%,#39c895 63.2%,#97ca47 66.3%,#cbc129 69.1%,#eeba34 72.6%,#fdbd3d 75.7%,#f6e028 98.2%,#f6e028 99.8%)"></i><i style="top:307.8px;background:linear-gradient(90deg,#f5e526 0.2%,#f7dc2a 13.4%,#fbbc3d 21.2%,#dabd28 24.7%,#bec32e 25.9%,#8fca4d 27.0%,#36c898 28.6%,#01b9c6 30.2%,#20a5e2 32.1%,#259be8 33.7%,#16afda 35.6%,#03b7cc 36.4%,#09bdbe 37.2%,#2cc4a7 38.7%,#6ecd67 44.2%,#73cd63 48.1%,#50cc7f 50.0%,#2dc4a5 51.9%,#02bac5 54.7%,#13b1d7 57.8%,#02bac4 60.1%,#38c896 63.2%,#96ca49 66.3%,#c9c129 69.1%,#edba33 72.6%,#fdbd3d 75.7%,#f6e028 98.6%,#f6e028 99.8%)"></i><i style="top:311.8px;background:linear-gradient(90deg,#f5e526 0.2%,#f7dc2a 13.4%,#fbbc3d 21.2%,#d8be28 24.7%,#bbc42f 25.9%,#75cc61 27.4%,#33c79d 28.6%,#05bbc1 29.8%,#01b8c9 30.2%,#1fa6e1 31.7%,#269ae8 33.7%,#15afd9 35.6%,#02b7cb 36.4%,#0bbdbc 37.2%,#28c2ab 38.3%,#6ecd66 43.8%,#77cc5f 46.1%,#72cd63 48.4%,#32c69e 51.6%,#02bac5 54.7%,#13b0d7 57.8%,#02bac5 60.1%,#38c896 63.2%,#94ca4a 66.3%,#c8c129 69.1%,#e9bb30 72.2%,#fdbd3d 75.7%,#f6e028 99.0%,#f6e028 99.8%)"></i><i style="top:315.8px;background:linear-gradient(90deg,#f5e526 0.2%,#f7db2a 13.4%,#fcbd3d 20.8%,#ddbd29 24.3%,#b8c431 25.9%,#87cb54 27.0%,#3eca8f 28.2%,#0ebebb 29.4%,#02bac4 29.8%,#21a3e3 31.7%,#2699e9 33.7%,#14b0d8 35.6%,#01b8ca 36.4%,#0ebdbb 37.2%,#29c3a9 38.3%,#6fcd66 43.4%,#7bcc5d 45.7%,#75cc61 48.4%,#33c69e 51.6%,#02bac5 54.7%,#14b0d8 57.8%,#01bac6 60.1%,#37c897 63.2%,#93ca4b 66.3%,#c7c12a 69.1%,#e8bb2f 72.2%,#fbbc3d 75.3%,#f6e028 98.6%,#f6e028 99.8%)"></i><i style="top:319.8px;background:linear-gradient(90deg,#f5e526 0.2%,#f7db2a 13.4%,#fcbd3d 20.8%,#dcbd29 24.3%,#c2c22c 25.5%,#96ca49 26.7%,#39c895 28.2%,#08bcbf 29.4%,#01b8c8 29.8%,#1fa5e2 31.3%,#2796eb 33.3%,#13b0d7 35.6%,#01b8c8 36.4%,#30c5a2 38.7%,#70cd65 43.0%,#7ecc5a 44.9%,#78cc5f 48.4%,#33c69d 51.6%,#02bac5 54.7%,#14b0d8 57.8%,#01b9c6 60.1%,#37c897 63.2%,#91ca4c 66.3%,#c6c22a 69.1%,#e8bb2e 72.2%,#fcbc3d 75.7%,#f6e028 99.0%,#f6e028 99.8%)"></i><i style="top:323.8px;background:linear-gradient(90deg,#f5e526 0.2%,#f7db2b 13.4%,#fcbc3d 20.8%,#dabd28 24.3%,#bfc32d 25.5%,#91ca4c 26.7%,#35c79b 28.2%,#03bbc3 29.4%,#03b7cc 29.8%,#1ea8e1 30.9%,#2994ed 32.9%,#19acdc 35.2%,#01b9c7 36.4%,#2dc4a6 38.3%,#70cd65 42.6%,#82cc58 44.9%,#7bcc5d 48.4%,#33c69d 51.6%,#02bac5 54.7%,#14b0d8 57.8%,#01b9c6 60.1%,#36c898 63.2%,#90ca4d 66.3%,#c5c22a 69.1%,#eabb30 72.6%,#fcbc3d 75.7%,#f6e029 99.0%,#f6e028 99.8%)"></i><i style="top:327.8px;background:linear-gradient(90deg,#f5e526 0.2%,#f7dc2a 13.0%,#fbbc3d 20.8%,#d9be28 24.3%,#bcc42f 25.5%,#8ccb50 26.7%,#40ca8d 27.8%,#0cbdbc 29.0%,#01b9c7 29.4%,#20a4e3 30.9%,#2a93ee 32.9%,#18addb 35.2%,#01b9c6 36.4%,#2ec5a4 38.3%,#6fcd66 42.2%,#85cb56 44.6%,#83cc57 48.1%,#4ecc81 50.4%,#28c3aa 52.3%,#02bac5 54.7%,#15afd8 57.8%,#01b9c7 60.1%,#3dca90 63.6%,#97ca47 66.7%,#c9c129 69.5%,#e9bb30 72.6%,#fcbd3d 76.1%,#f6e029 99.4%,#f6e028 99.8%)"></i><i style="top:331.8px;background:linear-gradient(90deg,#f5e526 0.2%,#f7dc2a 13.0%,#fbbc3d 20.8%,#d7be28 24.3%,#b8c431 25.5%,#86cb55 26.7%,#3ac994 27.8%,#05bbc1 29.0%,#02b7cb 29.4%,#1ea7e1 30.5%,#2b91ef 32.5%,#17aeda 35.2%,#03b7cc 36.0%,#0abdbd 36.8%,#2ac3a9 37.9%,#6ecd67 41.8%,#88cb53 44.2%,#85cb55 48.1%,#50cc80 50.4%,#34c79c 51.6%,#01bac5 54.7%,#15afd9 57.8%,#01b9c7 60.1%,#36c799 63.2%,#96ca48 66.7%,#cdc028 69.8%,#eeba34 73.3%,#fdbd3d 76.5%,#f6df29 98.6%,#f6e029 99.8%)"></i><i style="top:335.8px;background:linear-gradient(90deg,#f5e526 0.2%,#f7db2a 13.0%,#fbbc3d 20.8%,#d5be28 24.3%,#b4c534 25.5%,#7fcc5a 26.7%,#35c79b 27.8%,#01bac5 29.0%,#20a4e3 30.5%,#2b90f0 32.5%,#16afd9 35.2%,#02b7cb 36.0%,#0cbdbc 36.8%,#2cc4a7 37.9%,#6dcd68 41.4%,#8acb52 43.8%,#88cb53 48.1%,#5ccc75 50.0%,#34c79c 51.6%,#01bac5 54.7%,#15afd9 57.8%,#02bbc3 60.5%,#30c5a1 62.8%,#52cc7e 64.4%,#95ca49 66.7%,#ccc028 69.8%,#f0ba36 73.7%,#febd3c 76.8%,#f6df29 98.6%,#f6df29 99.8%)"></i><i style="top:339.8px;background:linear-gradient(90deg,#f5e526 0.2%,#f7db2b 13.0%,#fcbd3d 20.4%,#dabd28 23.9%,#bdc32e 25.1%,#8ecb4f 26.3%,#3fca8e 27.4%,#08bcbf 28.6%,#01b8ca 29.0%,#1ea7e1 30.2%,#2c8ff1 32.1%,#1babde 34.8%,#01b8ca 36.0%,#0ebdbb 36.8%,#2dc4a5 37.9%,#71cd64 41.4%,#8bcb50 43.4%,#8acb51 48.1%,#5ecd74 50.0%,#34c79c 51.6%,#01bac5 54.7%,#15afd9 57.8%,#02bbc3 60.5%,#3cc992 63.6%,#94ca4a 66.7%,#c6c22a 69.5%,#eabb30 73.0%,#fdbd3d 76.5%,#f6df29 99.0%,#f6df29 99.8%)"></i><i style="top:343.8px;background:linear-gradient(90deg,#f5e526 0.2%,#f7db2b 13.0%,#fcbc3d 20.4%,#d7be28 23.9%,#b9c431 25.1%,#86cb55 26.3%,#38c896 27.4%,#02bac4 28.6%,#21a4e3 30.2%,#2c8ef1 32.1%,#1aabdd 34.8%,#01b8c9 36.0%,#0fbeba 36.8%,#2ec5a4 37.9%,#6fcd66 41.1%,#8fcb4e 43.4%,#8dcb50 48.1%,#54cc7d 50.4%,#34c79b 51.6%,#01bac5 54.7%,#15afd9 57.8%,#02bbc3 60.5%,#2fc5a2 62.8%,#4fcc80 64.4%,#92ca4b 66.7%,#c5c22a 69.5%,#e6bb2d 72.6%,#fbbc3d 76.1%,#f6df29 99.0%,#f6df29 99.8%)"></i><i style="top:347.8px;background:linear-gradient(90deg,#f5e526 0.2%,#f7dc2a 12.6%,#fbbc3d 20.4%,#dbbd29 23.5%,#bfc32d 24.7%,#8fca4d 25.9%,#3fca8e 27.0%,#07bcc0 28.2%,#02b7cb 28.6%,#1fa6e2 29.8%,#2d8df2 31.7%,#19acdc 34.8%,#01b8c8 36.0%,#6ccd68 40.7%,#90ca4d 43.0%,#8fcb4e 48.1%,#61cd71 50.0%,#35c79b 51.6%,#02bac5 54.7%,#14b0d8 58.2%,#01b9c7 60.1%,#3bc993 63.6%,#91ca4c 66.7%,#c9c129 69.8%,#e8bb2f 73.0%,#fcbc3d 76.5%,#f6df29 99.0%,#f6df29 99.8%)"></i><i style="top:351.8px;background:linear-gradient(90deg,#f5e526 0.2%,#f7db2a 12.6%,#fdbd3d 20.0%,#debd29 23.2%,#c3c22b 24.3%,#94ca4a 25.5%,#44cb8a 26.7%,#09bcbe 27.8%,#01b8c9 28.2%,#1ea7e1 29.4%,#2d8df2 31.7%,#19addb 34.8%,#01b9c8 36.0%,#68cd6b 40.3%,#93ca4b 43.0%,#94ca4a 47.7%,#78cc5f 49.2%,#36c899 51.6%,#01b9c7 55.1%,#12b1d7 58.2%,#01b9c6 60.1%,#3bc992 63.6%,#98c947 67.1%,#c8c129 69.8%,#ebba31 73.3%,#fcbc3d 76.5%,#f6df29 99.4%,#f6df29 99.8%)"></i><i style="top:355.8px;background:linear-gradient(90deg,#f5e526 0.2%,#f7db2b 12.6%,#fcbc3d 20.0%,#d9be28 23.2%,#b8c431 24.3%,#7ecc5b 25.5%,#44ca8a 26.3%,#09bcbe 27.4%,#01b8c9 27.8%,#1da8e0 29.0%,#2d8cf3 31.3%,#17aedb 34.8%,#01b9c7 36.0%,#6ccd68 40.3%,#93ca4a 42.6%,#96ca48 47.7%,#6fcd66 49.6%,#37c897 51.6%,#02bac5 55.1%,#12b1d6 57.8%,#02bac5 60.1%,#31c6a0 62.8%,#4fcc80 64.4%,#97ca48 67.1%,#ccc028 70.2%,#f0ba36 74.1%,#febf3c 78.0%,#f6df29 99.8%)"></i><i style="top:359.8px;background:linear-gradient(90deg,#f5e526 0.2%,#f7dc2a 12.3%,#fbbc3d 20.0%,#dbbd28 22.8%,#b9c431 23.9%,#7ccc5c 25.1%,#40ca8d 25.9%,#07bcbf 27.0%,#01b8ca 27.4%,#1da8e0 28.6%,#2d8cf3 30.9%,#1fa6e2 34.0%,#01b9c6 36.0%,#68cd6c 39.9%,#97ca48 42.6%,#98c947 47.7%,#70cd65 49.6%,#39c994 51.6%,#01b9c6 55.4%,#0db3d3 58.2%,#03bbc3 60.1%,#50cc80 64.4%,#9ec943 67.5%,#cbc129 70.2%,#efba35 74.1%,#febe3c 77.6%,#f6df29 99.8%)"></i><i style="top:363.8px;background:linear-gradient(90deg,#f5e526 0.2%,#f7db2a 12.3%,#fcbc3d 19.6%,#dcbd29 22.4%,#bac430 23.5%,#79cc5e 24.7%,#3dc990 25.5%,#05bbc1 26.7%,#02b7cb 27.0%,#1da8e0 28.2%,#2d8bf4 30.9%,#1aabdd 34.4%,#01b9c6 36.0%,#49cb86 38.7%,#74cc62 40.3%,#9ac945 42.6%,#9ac946 47.7%,#67cd6c 50.0%,#35c79a 51.9%,#02bac4 55.4%,#0ab4d1 58.2%,#02bac5 59.7%,#51cc7f 64.4%,#a4c83e 67.9%,#cfc028 70.6%,#fbbc3d 76.5%,#f6df29 99.8%)"></i><i style="top:367.8px;background:linear-gradient(90deg,#f5e526 0.2%,#f7db2b 12.3%,#fdbd3d 19.3%,#eaba31 21.2%,#cac129 22.8%,#a9c73b 23.5%,#77cc60 24.3%,#3bc993 25.1%,#16bfb7 25.9%,#03bbc3 26.3%,#03b7cc 26.7%,#1da8e0 27.8%,#2d8af4 30.5%,#1aacdd 34.4%,#02bac5 36.0%,#3fca8e 38.3%,#79cc5e 40.3%,#9ec942 42.6%,#9bc944 47.7%,#68cd6b 50.0%,#37c897 51.9%,#01bac5 55.8%,#07b5d0 58.2%,#02bbc3 59.7%,#2ec4a4 62.1%,#52cc7e 64.4%,#aac73a 68.3%,#d2bf27 71.0%,#fbbc3d 76.5%,#f6de29 99.4%,#f6de29 99.8%)"></i><i style="top:371.8px;background:linear-gradient(90deg,#f5e526 0.2%,#f7db2a 11.9%,#fcbc3d 19.3%,#d8be28 22.0%,#bfc32e 22.8%,#94ca4a 23.5%,#3ac994 24.7%,#02bbc3 25.9%,#03b7cc 26.3%,#1da8e0 27.4%,#2d8af4 30.2%,#20a4e3 33.7%,#02bac4 36.0%,#37c898 37.9%,#75cc61 39.9%,#9fc942 42.2%,#a0c841 47.3%,#74cc62 49.6%,#39c895 51.9%,#14beb8 54.7%,#01b9c7 56.2%,#03b7cc 58.6%,#0bbdbc 60.1%,#2fc5a3 62.1%,#53cc7d 64.4%,#b0c636 68.7%,#d2bf27 71.0%,#fabb3d 76.5%,#f8da2b 94.4%,#f6de29 99.8%)"></i><i class="b" style="top:375.8px;background:linear-gradient(90deg,#f5e526 0.2%,#f8da2b 12.3%,#fbbc3d 19.3%,#ddbd29 21.6%,#c7c12a 22.4%,#9fc942 23.2%,#42ca8b 24.3%,#1cc0b3 25.1%,#07bcc0 25.5%,#01b8c9 25.9%,#1caadf 27.0%,#2d89f5 30.2%,#1ca9df 34.0%,#01b7ca 35.6%,#0bbdbd 36.4%,#46cb88 38.3%,#7acc5e 39.9%,#a1c840 42.2%,#a1c840 47.3%,#75cc62 49.6%,#3ac994 51.9%,#01bac6 56.2%,#02b7cb 58.6%,#06bcc0 59.7%,#30c5a2 62.1%,#4bcb84 64.0%,#b0c636 68.7%,#d1bf27 71.0%,#fabb3d 76.5%,#f8db2b 94.7%,#f6de29 99.8%)"></i><i class="b" style="top:377.8px;background:linear-gradient(90deg,#f5e526 0.2%,#f7db2b 11.9%,#fdbd3d 18.9%,#dbbd29 21.6%,#c2c22c 22.4%,#96ca48 23.2%,#39c895 24.3%,#02bac4 25.5%,#22a2e4 27.4%,#2d88f6 30.2%,#1ca9df 34.0%,#01b8ca 35.6%,#0bbdbc 36.4%,#49cb86 38.3%,#73cd63 39.5%,#a0c841 41.8%,#a5c83e 46.9%,#90ca4d 48.4%,#3ac994 51.9%,#02bac5 56.2%,#01b8ca 58.6%,#07bcbf 59.7%,#30c5a2 62.1%,#53cc7d 64.4%,#b0c636 68.7%,#d1bf27 71.0%,#fabb3d 76.5%,#f8da2b 94.7%,#f6de29 99.8%)"></i><i class="b" style="top:379.8px;background:linear-gradient(90deg,#f5e526 0.2%,#f7db2b 11.9%,#fcbc3d 18.9%,#d9bd28 21.6%,#bec32e 22.4%,#8ecb4e 23.2%,#4bcb83 23.9%,#23c1af 24.7%,#0bbdbd 25.1%,#01b9c7 25.5%,#1fa6e2 27.0%,#2d88f6 29.8%,#1fa6e2 33.7%,#01b8c9 35.6%,#0dbdbc 36.4%,#4ccb83 38.3%,#76cc60 39.5%,#a2c83f 41.8%,#a3c83f 47.3%,#75cc61 49.6%,#3ac994 51.9%,#02bac5 56.2%,#01b8c9 58.6%,#08bcbf 59.7%,#30c5a1 62.1%,#53cc7d 64.4%,#afc636 68.7%,#d1bf27 71.0%,#fabb3d 76.5%,#f8da2b 94.7%,#f6de29 99.8%)"></i><i class="b" style="top:381.8px;background:linear-gradient(90deg,#f5e526 0.2%,#f7dc2a 11.5%,#fcbc3d 18.9%,#e0bc2a 21.2%,#bac430 22.4%,#86cb55 23.2%,#42ca8b 23.9%,#1bc0b4 24.7%,#05bbc1 25.1%,#02b7cb 25.5%,#1da9e0 26.7%,#2e87f7 29.8%,#1baade 34.0%,#01b8c8 35.6%,#0fbeba 36.4%,#40ca8d 37.9%,#7acc5d 39.5%,#a0c841 41.4%,#a8c73b 44.6%,#a3c83e 47.3%,#75cc61 49.6%,#3ac994 51.9%,#02bac4 56.2%,#01b8c9 58.6%,#08bcbf 59.7%,#30c5a1 62.1%,#53cc7d 64.4%,#b6c532 69.1%,#d9be28 71.8%,#fbbc3d 76.8%,#f6de29 99.8%)"></i><i class="b" style="top:383.8px;background:linear-gradient(90deg,#f5e526 0.2%,#f7db2a 11.5%,#fbbc3d 18.9%,#dfbc2a 21.2%,#c8c129 22.0%,#9dc943 22.8%,#3bc993 23.9%,#12beb9 24.7%,#02bac4 25.1%,#1fa6e1 26.7%,#2e85f8 29.8%,#1babde 34.0%,#01b9c7 35.6%,#38c896 37.5%,#75cc61 39.1%,#a3c83f 41.4%,#a9c73b 46.5%,#90ca4d 48.4%,#3ac994 51.9%,#02bac4 56.2%,#01b8c9 58.6%,#09bcbe 59.7%,#30c5a1 62.1%,#53cc7d 64.4%,#b6c532 69.1%,#d9be28 71.8%,#fbbc3d 76.8%,#f6de29 99.8%)"></i><i class="b" style="top:385.9px;background:linear-gradient(90deg,#f5e526 0.2%,#f7db2a 11.5%,#fbbc3d 18.9%,#debd29 21.2%,#c5c22a 22.0%,#96ca48 22.8%,#35c79a 23.9%,#0bbdbd 24.7%,#01b8c8 25.1%,#21a4e3 26.7%,#2e84f9 29.4%,#2796eb 32.1%,#14b0d8 34.4%,#02b7cb 35.2%,#0bbdbd 36.0%,#3eca90 37.5%,#7bcc5d 39.1%,#a6c83d 41.4%,#a8c73b 46.9%,#7ecc5a 49.2%,#39c995 51.9%,#01b9c6 56.6%,#01b8c8 58.6%,#11beba 60.1%,#53cc7e 64.4%,#afc637 68.7%,#d1bf27 71.0%,#fabb3d 76.5%,#f8da2b 95.1%,#f6de29 99.8%)"></i><i class="b" style="top:387.9px;background:linear-gradient(90deg,#f5e526 0.2%,#f8da2b 11.9%,#fabb3d 18.9%,#dcbd29 21.2%,#c2c22c 22.0%,#90ca4d 22.8%,#48cb86 23.5%,#1cc0b3 24.3%,#05bbc1 24.7%,#03b7cb 25.1%,#1ea7e1 26.3%,#2e83f9 29.0%,#2d8af5 30.9%,#18addb 34.0%,#01b8c8 35.2%,#12beb9 36.0%,#46cb87 37.5%,#76cc60 38.7%,#a5c83d 41.1%,#abc739 45.7%,#a4c83e 47.3%,#69cd6b 50.0%,#39c895 51.9%,#01b9c6 56.6%,#02bac5 58.9%,#52cc7e 64.4%,#afc637 68.7%,#d1bf27 71.0%,#fabb3d 76.5%,#f8db2b 95.5%,#f6dd29 99.8%)"></i><i class="b" style="top:389.9px;background:linear-gradient(90deg,#f5e526 0.2%,#f7db2b 11.5%,#fcbd3d 18.5%,#e3bc2c 20.8%,#d0bf27 21.6%,#a7c73c 22.4%,#40ca8d 23.5%,#14bfb8 24.3%,#02bac5 24.7%,#21a4e3 26.3%,#307ffb 29.0%,#2d8df2 31.3%,#16afd9 34.0%,#03b7cc 34.8%,#02bac5 35.2%,#3fca8e 37.2%,#7ecc5b 38.7%,#a8c73b 41.1%,#a9c73b 46.9%,#7dcc5b 49.2%,#38c896 51.9%,#01bac5 56.6%,#01b9c7 58.6%,#12beb9 60.1%,#52cc7e 64.4%,#aec637 68.7%,#d1bf27 71.0%,#fabb3d 76.5%,#f8da2b 95.5%,#f6dd29 99.8%)"></i><i class="b" style="top:391.9px;background:linear-gradient(90deg,#f5e526 0.2%,#f8da2b 11.5%,#fcbc3d 18.5%,#dabd28 21.2%,#bcc42f 22.0%,#82cc58 22.8%,#3ac994 23.5%,#0cbdbc 24.3%,#01b8c8 24.7%,#1ea7e1 25.9%,#327cfc 29.0%,#2d8df2 31.3%,#12b1d7 34.0%,#01b8c8 34.8%,#06bcc0 35.2%,#4bcb84 37.2%,#7acc5d 38.3%,#a7c73c 40.7%,#aec637 45.7%,#9ec943 47.7%,#5ccc76 50.4%,#38c896 51.9%,#02bac5 56.6%,#01b9c7 58.6%,#42ca8b 63.6%,#aec637 68.7%,#d1bf27 71.0%,#fabb3d 76.5%,#f8da2b 95.5%,#f7dd2a 99.8%)"></i><i class="b" style="top:393.9px;background:linear-gradient(90deg,#f5e526 0.2%,#f8da2b 11.5%,#fcbc3d 18.5%,#d9be28 21.2%,#b8c431 22.0%,#7acc5d 22.8%,#35c79b 23.5%,#06bcc0 24.3%,#03b7cc 24.7%,#1babde 25.5%,#347afd 28.6%,#307efb 30.2%,#1ca9e0 33.3%,#03b7cb 34.4%,#02bac3 34.8%,#37c898 36.4%,#77cc60 37.9%,#a6c83c 40.3%,#afc637 43.8%,#a9c73a 46.9%,#71cd64 49.6%,#3dc990 51.6%,#12beb9 55.1%,#01b9c7 57.0%,#06bcc0 59.3%,#52cc7e 64.4%,#b5c533 69.1%,#d5be28 71.4%,#fbbc3d 76.8%,#f7dd2a 99.8%)"></i><i class="b" style="top:395.9px;background:linear-gradient(90deg,#f5e526 0.2%,#f8da2b 11.5%,#fbbc3d 18.5%,#e0bc2a 20.8%,#cac129 21.6%,#97ca47 22.4%,#4acb84 23.2%,#19bfb5 23.9%,#02bac4 24.3%,#1ea8e0 25.5%,#3579fd 28.2%,#3974fe 29.4%,#1fa6e2 32.9%,#01b9c6 34.4%,#40ca8d 36.4%,#80cc59 37.9%,#aac73a 40.3%,#afc637 46.1%,#95ca49 48.1%,#3cc991 51.6%,#04bbc2 56.2%,#01b9c6 58.6%,#42ca8b 63.6%,#b5c533 69.1%,#d5be28 71.4%,#fbbc3d 76.8%,#f7dd2a 99.8%)"></i><i class="b" style="top:397.9px;background:linear-gradient(90deg,#f5e526 0.2%,#f7db2b 11.1%,#fbbc3d 18.5%,#dfbc2a 20.8%,#c7c12a 21.6%,#91ca4c 22.4%,#42ca8b 23.2%,#11beba 23.9%,#01b8c8 24.3%,#20a4e3 25.5%,#3a74fe 28.2%,#3c71ff 29.4%,#259be8 32.1%,#17aeda 33.3%,#01b8ca 34.0%,#06bcc0 34.4%,#32c69f 35.6%,#7dcc5b 37.5%,#a9c73a 39.9%,#b1c636 43.0%,#adc638 46.5%,#84cc56 48.8%,#3cc992 51.6%,#04bbc2 56.2%,#01bac5 58.6%,#42ca8b 63.6%,#b5c533 69.1%,#d5be28 71.4%,#fbbc3d 76.8%,#f7dd2a 99.8%)"></i><i class="b" style="top:399.9px;background:linear-gradient(90deg,#f5e526 0.2%,#f7db2b 11.1%,#fdbd3d 18.1%,#ebba31 20.0%,#d4be28 21.2%,#c5c22a 21.6%,#acc738 22.0%,#61cd71 22.8%,#3bc992 23.2%,#09bcbe 23.9%,#03b7cc 24.3%,#1da9e0 25.1%,#3a73fe 27.8%,#416bfe 29.0%,#2d88f6 30.9%,#1aabdd 32.9%,#04b6cd 33.7%,#02bac3 34.0%,#2fc5a2 35.2%,#5ccc76 36.4%,#85cb55 37.5%,#adc638 39.9%,#aec637 46.5%,#79cc5e 49.2%,#3bc992 51.6%,#05bbc1 56.2%,#02bac5 58.6%,#42ca8b 63.6%,#b5c533 69.1%,#d5be28 71.4%,#fbbc3d 76.8%,#f7dd2a 99.8%)"></i><i class="b" style="top:401.9px;background:linear-gradient(90deg,#f5e526 0.2%,#f8da2b 11.1%,#fabb3d 18.5%,#ddbd29 20.8%,#c2c22c 21.6%,#84cc56 22.4%,#36c899 23.2%,#03bbc2 23.9%,#07b5d0 24.3%,#1fa6e2 25.1%,#3a74fe 27.4%,#4466fd 28.6%,#2f81fa 30.5%,#16afd9 32.9%,#01b9c6 33.7%,#57cc7a 36.0%,#83cc57 37.2%,#acc738 39.5%,#b3c534 43.4%,#aec637 46.5%,#78cc5f 49.2%,#3ac993 51.6%,#05bbc1 56.2%,#02bac5 58.6%,#42ca8b 63.6%,#aec637 68.7%,#d1bf27 71.0%,#fbbc3d 76.8%,#f7dc2a 99.8%)"></i><i class="b" style="top:404.0px;background:linear-gradient(90deg,#f5e526 0.2%,#f8da2b 11.1%,#fabb3d 18.5%,#dcbd29 20.8%,#bec32e 21.6%,#a2c83f 22.0%,#51cc7f 22.8%,#19bfb6 23.5%,#01b9c6 23.9%,#22a2e4 25.1%,#3876fe 27.0%,#4562fc 28.6%,#3c71ff 29.8%,#1aacdd 32.5%,#01b8ca 33.3%,#07bcbf 33.7%,#34c79c 34.8%,#74cc62 36.4%,#a0c841 38.3%,#b4c534 40.3%,#aec637 46.5%,#77cc5f 49.2%,#3ac994 51.6%,#02bbc3 56.6%,#04bbc2 58.9%,#31c5a1 62.1%,#51cc7f 64.4%,#b5c533 69.1%,#d4be28 71.4%,#fbbc3d 76.8%,#f7dc2a 99.8%)"></i><i class="b" style="top:406.0px;background:linear-gradient(90deg,#f5e526 0.2%,#f8da2b 11.1%,#fbbc3d 18.1%,#e3bc2c 20.4%,#cfc028 21.2%,#bbc430 21.6%,#73cd62 22.4%,#48cb86 22.8%,#10beba 23.5%,#01b7ca 23.9%,#1ea8e0 24.7%,#3578fd 26.7%,#4561fc 27.8%,#4562fc 29.0%,#2e83f9 30.5%,#15afd9 32.5%,#05b6ce 32.9%,#02bbc3 33.3%,#27c2ac 34.0%,#4dcc82 35.2%,#7ecc5b 36.4%,#afc637 39.1%,#b5c533 45.3%,#a2c83f 47.3%,#6bcd69 49.6%,#39c994 51.6%,#02bbc3 56.6%,#04bbc1 58.9%,#31c5a1 62.1%,#51cc7f 64.4%,#b5c533 69.1%,#d4be28 71.4%,#fbbc3d 76.8%,#f7dc2a 99.8%)"></i><i class="b" style="top:408.0px;background:linear-gradient(90deg,#f5e526 0.2%,#f8da2b 11.1%,#fbbc3d 18.1%,#dabd28 20.8%,#b7c532 21.6%,#6acd6a 22.4%,#40ca8d 22.8%,#09bcbe 23.5%,#06b6ce 23.9%,#18aedb 24.3%,#3b72ff 26.7%,#4759f8 28.2%,#4367fd 29.4%,#2e85f8 30.5%,#1aacdd 32.1%,#01b9c7 32.9%,#5acc77 35.2%,#86cb55 36.4%,#b2c535 39.1%,#b3c534 46.1%,#81cc58 48.8%,#3fca8e 51.2%,#0dbdbb 55.4%,#01b9c6 58.2%,#16bfb7 60.1%,#51cc7f 64.4%,#b5c533 69.1%,#d4bf28 71.4%,#fbbc3d 76.8%,#f7dc2a 99.8%)"></i><i class="b" style="top:410.0px;background:linear-gradient(90deg,#f5e526 0.2%,#f7db2b 10.7%,#fbbc3d 18.1%,#d8be28 20.8%,#cac129 21.2%,#b1c635 21.6%,#61cd71 22.4%,#3ac994 22.8%,#03bbc3 23.5%,#1babde 24.3%,#3776fe 26.3%,#475cfa 27.4%,#4757f7 28.6%,#3e70ff 29.8%,#2e87f7 30.5%,#15afd9 32.1%,#04b6cd 32.5%,#06bcc1 32.9%,#2bc3a8 33.7%,#41ca8c 34.4%,#83cc57 36.0%,#b2c635 38.7%,#b7c532 45.3%,#a2c83f 47.3%,#6acd6a 49.6%,#39c895 51.6%,#03bbc3 56.6%,#05bbc1 58.9%,#49cb85 64.0%,#b4c533 69.1%,#d8be28 71.8%,#fcbc3d 77.2%,#f7dc2a 99.8%)"></i><i class="b" style="top:412.0px;background:linear-gradient(90deg,#f5e526 0.2%,#f7dc2a 10.3%,#fcbd3d 17.7%,#ebba32 19.6%,#d6be28 20.8%,#c6c22a 21.2%,#acc739 21.6%,#35c79b 22.8%,#01b9c7 23.5%,#249de6 24.7%,#3d70ff 26.3%,#4851f4 27.8%,#475bfa 29.0%,#317dfc 30.2%,#1baade 31.7%,#01b9c7 32.5%,#5fcd73 34.8%,#89cb52 36.0%,#b5c533 38.7%,#b4c534 46.1%,#82cc58 48.8%,#3eca8f 51.2%,#0ebdbb 55.4%,#01b9c6 57.8%,#0fbeba 59.7%,#51cc7f 64.4%,#bbc42f 69.5%,#dcbd29 72.2%,#fcbc3d 77.2%,#f7dc2a 99.8%)"></i><i class="b" style="top:414.0px;background:linear-gradient(90deg,#f5e526 0.2%,#f7dc2a 10.3%,#fcbc3d 17.7%,#dfbc2a 20.4%,#c2c22c 21.2%,#a5c83d 21.6%,#4fcc81 22.4%,#13beb8 23.2%,#02b7cb 23.5%,#20a5e3 24.3%,#3776fe 25.9%,#4758f8 27.0%,#484cf0 28.2%,#3d71ff 29.8%,#307efb 30.2%,#18aedb 31.7%,#05b6ce 32.1%,#06bbc1 32.5%,#2cc4a7 33.3%,#43ca8a 34.0%,#85cb55 35.6%,#b4c534 38.3%,#bac430 45.3%,#a3c83e 47.3%,#77cc60 49.2%,#3eca8f 51.2%,#0ebdbb 55.4%,#01b9c6 57.8%,#0fbeba 59.7%,#51cc7f 64.4%,#bbc42f 69.5%,#dcbd29 72.2%,#fcbc3d 77.2%,#f7dc2a 99.8%)"></i><i class="b" style="top:416.0px;background:linear-gradient(90deg,#f5e526 0.2%,#f7db2a 10.3%,#fcbc3d 17.7%,#ddbd29 20.4%,#d2bf27 20.8%,#bdc32e 21.2%,#9dc943 21.6%,#46cb88 22.4%,#0bbdbd 23.2%,#06b5ce 23.5%,#22a2e4 24.3%,#3c71ff 25.9%,#4853f4 27.0%,#4849ed 28.2%,#4563fd 29.4%,#3080fb 30.2%,#13b0d7 31.7%,#01b8c9 32.1%,#5fcd73 34.4%,#8bcb51 35.6%,#b7c532 38.3%,#b6c533 46.1%,#83cc57 48.8%,#3eca8f 51.2%,#0ebdbb 55.4%,#01b9c6 57.8%,#0fbeba 59.7%,#50cc7f 64.4%,#bbc42f 69.5%,#dcbd29 72.2%,#fcbc3d 77.2%,#f7db2a 99.8%)"></i><i class="b" style="top:418.0px;background:linear-gradient(90deg,#f5e526 0.2%,#f8da2b 10.7%,#fbbc3d 17.7%,#dcbd29 20.4%,#cfc028 20.8%,#b8c431 21.2%,#68cd6c 22.0%,#3eca90 22.4%,#27c2ab 22.8%,#05bbc1 23.2%,#0bb4d2 23.5%,#249ee6 24.3%,#3579fd 25.5%,#4660fb 26.3%,#4742e6 27.8%,#4756f7 29.0%,#3d71ff 29.8%,#2f81fa 30.2%,#1da9e0 31.3%,#02bac5 32.1%,#29c3a9 32.9%,#53cc7d 34.0%,#85cb55 35.2%,#b1c635 37.5%,#bdc32f 40.3%,#b7c532 46.1%,#84cb56 48.8%,#3eca8f 51.2%,#0dbdbc 55.4%,#01b9c6 58.2%,#16bfb7 60.1%,#50cc7f 64.4%,#b4c534 69.1%,#d4bf28 71.4%,#fbbc3d 76.8%,#f7db2a 99.8%)"></i><i class="b" style="top:420.1px;background:linear-gradient(90deg,#f5e526 0.2%,#f8da2b 10.7%,#fbbc3d 17.7%,#e2bc2b 20.0%,#cac129 20.8%,#b1c636 21.2%,#5ecc74 22.0%,#38c896 22.4%,#02bac5 23.2%,#259be8 24.3%,#3b73fe 25.5%,#4850f2 26.7%,#463ddf 27.8%,#4853f5 29.0%,#3d70ff 29.8%,#2f81fa 30.2%,#1aabde 31.3%,#07b5d0 31.7%,#06bbc1 32.1%,#2ec4a5 32.9%,#47cb87 33.7%,#7ecc5b 34.8%,#afc637 37.2%,#bec32e 39.5%,#b8c431 46.1%,#85cb55 48.8%,#3eca8f 51.2%,#0cbdbc 55.4%,#01b9c7 57.8%,#08bcbf 59.3%,#50cc80 64.4%,#b4c534 69.1%,#d4bf28 71.4%,#fabc3d 76.8%,#f8db2b 98.6%,#f7db2a 99.8%)"></i><i class="b" style="top:422.1px;background:linear-gradient(90deg,#f5e526 0.2%,#f7db2b 10.3%,#fdbd3d 17.3%,#ecba32 19.3%,#d6be28 20.4%,#c5c22a 20.8%,#a9c73b 21.2%,#54cc7c 22.0%,#1bc0b4 22.8%,#01b8c8 23.2%,#20a4e3 23.9%,#327cfc 25.1%,#4660fb 25.9%,#4639da 27.4%,#463adc 28.2%,#465ffb 29.4%,#2f81fa 30.2%,#18addb 31.3%,#03b7cc 31.7%,#0bbdbd 32.1%,#24c1ae 32.5%,#4ecc81 33.7%,#84cc57 34.8%,#b2c535 37.2%,#c0c32d 39.5%,#bdc42f 45.7%,#99c946 48.1%,#3eca8f 51.2%,#15bfb7 54.7%,#01b9c7 57.0%,#06bcc0 59.3%,#30c5a1 62.1%,#50cc80 64.4%,#bbc430 69.5%,#dcbd29 72.2%,#fcbc3d 77.2%,#f7db2a 99.8%)"></i><i class="b" style="top:424.1px;background:linear-gradient(90deg,#f5e526 0.2%,#f7db2b 10.3%,#fcbc3d 17.3%,#debc2a 20.0%,#bfc32d 20.8%,#a0c841 21.2%,#4bcb83 22.0%,#14beb8 22.8%,#02b7cb 23.2%,#18addb 23.5%,#3777fe 25.1%,#475af9 25.9%,#4433cd 27.4%,#4332c9 27.8%,#484df0 29.0%,#3f6eff 29.8%,#2f81fa 30.2%,#15afd9 31.3%,#01b8c9 31.7%,#68cd6c 34.0%,#93ca4b 35.2%,#bac430 37.5%,#c1c32c 41.4%,#bec32e 45.7%,#92ca4b 48.4%,#3eca8f 51.2%,#0cbdbc 55.1%,#01b8ca 57.4%,#09bcbe 59.7%,#30c5a2 62.1%,#4fcc80 64.4%,#bbc430 69.5%,#dcbd29 72.2%,#fbbc3d 77.2%,#f7db2b 99.8%)"></i><i class="b" style="top:426.1px;background:linear-gradient(90deg,#f5e526 0.2%,#f7db2b 10.3%,#fcbc3d 17.3%,#dcbd29 20.0%,#b9c431 20.8%,#6ccd69 21.6%,#44ca8a 22.0%,#0dbdbb 22.8%,#06b6ce 23.2%,#1aabdd 23.5%,#2f81fa 24.7%,#4561fc 25.5%,#463bdd 26.7%,#422ebf 27.4%,#412dbc 27.8%,#463adc 28.6%,#475af9 29.4%,#2f82fa 30.2%,#12b1d6 31.3%,#02bac5 31.7%,#2cc4a6 32.5%,#5bcc77 33.7%,#8dcb50 34.8%,#b8c431 37.2%,#c3c22b 39.5%,#bfc32d 45.7%,#9cc944 48.1%,#70cd65 49.6%,#3eca8f 51.2%,#10beba 54.7%,#01b8c9 56.6%,#01b9c7 58.9%,#47cb87 64.0%,#b3c534 69.1%,#d4bf28 71.4%,#fabb3d 76.8%,#f8da2b 99.0%,#f7db2b 99.8%)"></i><i class="b" style="top:428.1px;background:linear-gradient(90deg,#f5e526 0.2%,#f7dc2a 9.9%,#fbbc3d 17.3%,#e2bc2b 19.6%,#cac129 20.4%,#b1c636 20.8%,#3dc990 22.0%,#29c3a9 22.4%,#08bcbf 22.8%,#09b4d1 23.2%,#1da9e0 23.5%,#327dfc 24.7%,#475bfa 25.5%,#4435d2 26.7%,#3f29b0 27.4%,#3f28ae 27.8%,#412dbc 28.2%,#4746ea 29.0%,#406cfe 29.8%,#2f82f9 30.2%,#1fa6e2 30.9%,#04bbc1 31.7%,#20c1b1 32.1%,#4ccb82 33.3%,#85cb55 34.4%,#b6c532 36.8%,#c4c22b 38.7%,#c1c32c 45.7%,#95ca49 48.4%,#3eca8f 51.2%,#07bcbf 55.1%,#04b6cd 57.0%,#01b8c9 58.9%,#0bbdbd 60.1%,#2ec5a4 62.1%,#4ecc81 64.4%,#bac430 69.5%,#dbbd29 72.2%,#fbbc3d 77.2%,#f7db2b 99.8%)"></i><i class="b" style="top:430.1px;background:linear-gradient(90deg,#f5e526 0.2%,#f8d92c 10.7%,#fbbc3d 17.3%,#e0bc2a 19.6%,#c5c22a 20.4%,#a8c73b 20.8%,#38c896 22.0%,#25c2ad 22.4%,#04bbc2 22.8%,#2798ea 23.9%,#3677fe 24.7%,#4466fd 25.1%,#4747eb 25.9%,#3f29af 27.0%,#3e26a8 27.8%,#3f29b1 28.2%,#4743e7 29.0%,#406cfe 29.8%,#2e83f9 30.2%,#1da8e0 30.9%,#07b5d0 31.3%,#0abdbd 31.7%,#25c2ad 32.1%,#53cc7d 33.3%,#8acb52 34.4%,#b9c430 36.8%,#c6c22a 39.1%,#c2c22c 45.7%,#96ca48 48.4%,#3eca8f 51.2%,#05bbc1 55.1%,#08b4d1 58.2%,#02bac3 59.7%,#2ec4a4 62.1%,#4ecc82 64.4%,#b3c534 69.1%,#d8be28 71.8%,#fbbc3d 77.2%,#f7db2b 99.8%)"></i><i class="b" style="top:432.1px;background:linear-gradient(90deg,#f5e526 0.2%,#f8d92c 10.7%,#fabb3d 17.3%,#debd29 19.6%,#bec32e 20.4%,#78cc5f 21.2%,#51cc7f 21.6%,#01bac5 22.8%,#21a4e3 23.5%,#3c72ff 24.7%,#4850f2 25.5%,#4434ce 26.3%,#3e26a8 27.0%,#3e26a8 28.2%,#4740e4 29.0%,#406cfe 29.8%,#2e85f8 30.2%,#1babde 30.9%,#03b7cc 31.3%,#59cc78 33.3%,#8fcb4e 34.4%,#bcc42f 36.8%,#c7c12a 39.1%,#c4c22b 45.7%,#98c947 48.4%,#3eca8f 51.2%,#16bfb7 53.9%,#01b9c7 55.4%,#0cb3d3 58.2%,#01bac5 59.7%,#31c6a0 62.5%,#55cc7b 64.8%,#bac430 69.5%,#dbbd29 72.2%,#fbbc3d 77.2%,#f8da2b 99.8%)"></i><i class="b" style="top:434.1px;background:linear-gradient(90deg,#f5e526 0.2%,#f8d92c 10.7%,#fcbc3d 16.9%,#dbbd29 19.6%,#cec028 20.0%,#b7c532 20.4%,#49cb85 21.6%,#01b8c8 22.8%,#23a1e5 23.5%,#3080fa 24.3%,#475bf9 25.1%,#463adc 25.9%,#3e26a8 26.7%,#3e26a8 28.2%,#422fc0 28.6%,#473fe3 29.0%,#3f6eff 29.8%,#18aedb 30.9%,#01b9c7 31.3%,#2dc4a5 32.1%,#60cd72 33.3%,#93ca4b 34.4%,#bfc32d 36.8%,#c9c129 39.1%,#c5c22a 45.7%,#9ac946 48.4%,#3eca8f 51.2%,#14beb8 53.9%,#02bac5 55.1%,#12b1d6 57.8%,#03bbc2 60.1%,#2dc4a6 62.1%,#4ccb82 64.4%,#bac430 69.5%,#dbbd29 72.2%,#fbbc3d 77.2%,#f8da2b 99.8%)"></i><i class="b" style="top:436.1px;background:linear-gradient(90deg,#f5e526 0.2%,#f8da2b 10.3%,#fbbc3d 16.9%,#e1bc2b 19.3%,#c9c129 20.0%,#afc637 20.4%,#42ca8b 21.6%,#03b7cc 22.8%,#1aacdd 23.2%,#337bfc 24.3%,#4367fd 24.7%,#4744e8 25.5%,#402ab5 26.3%,#3e26a8 26.7%,#3e26a8 28.2%,#412dbd 28.6%,#473fe2 29.0%,#4757f7 29.4%,#3d71ff 29.8%,#13b1d7 30.9%,#03bbc2 31.3%,#21c1b0 31.7%,#52cc7e 32.9%,#8ccb50 34.0%,#bdc32e 36.4%,#cac129 38.3%,#c6c22a 45.7%,#9bc944 48.4%,#3eca8f 51.2%,#03bbc3 54.7%,#09b4d1 56.2%,#14b0d8 58.2%,#02bac4 60.1%,#2cc4a7 62.1%,#4ccb83 64.4%,#bac430 69.5%,#dbbd29 72.2%,#fbbc3d 77.2%,#f8da2b 99.8%)"></i><i class="b" style="top:438.2px;background:linear-gradient(90deg,#f5e526 0.2%,#f8da2b 10.3%,#fbbc3d 16.9%,#dfbc2a 19.3%,#c3c22b 20.0%,#a6c73c 20.4%,#3cc991 21.6%,#2bc3a8 22.0%,#0cbdbc 22.4%,#07b5d0 22.8%,#1ca9e0 23.2%,#3876fe 24.3%,#4850f2 25.1%,#473ee2 25.5%,#3e26a9 26.3%,#3e26a8 28.2%,#412dbd 28.6%,#4740e4 29.0%,#475af9 29.4%,#3975fe 29.8%,#20a4e3 30.5%,#0ab4d1 30.9%,#0bbdbd 31.3%,#28c2ab 31.7%,#59cc78 32.9%,#91ca4c 34.0%,#c0c32d 36.4%,#ccc028 38.7%,#c8c129 45.7%,#9dc943 48.4%,#3eca8f 51.2%,#07bcc0 54.3%,#04b6cc 55.4%,#17aedb 57.8%,#01b9c6 60.1%,#30c5a2 62.5%,#54cc7c 64.8%,#bac430 69.5%,#dbbd29 72.2%,#fbbc3d 77.2%,#f8da2b 99.8%)"></i><i class="b" style="top:440.2px;background:linear-gradient(90deg,#f5e526 0.2%,#f8da2b 10.3%,#fabb3d 16.9%,#ddbd29 19.3%,#bdc42f 20.0%,#78cc5f 20.8%,#37c897 21.6%,#26c2ac 22.0%,#06bcc0 22.4%,#0db3d3 22.8%,#2796eb 23.5%,#3d70ff 24.3%,#484aee 25.1%,#412dbc 25.9%,#3e26a8 26.3%,#3e26a8 28.2%,#422fc0 28.6%,#4744e8 29.0%,#465efb 29.4%,#327bfc 29.8%,#1ca9df 30.5%,#02b7cb 30.9%,#2dc4a6 31.7%,#4bcb83 32.5%,#89cb52 33.7%,#b1c635 35.2%,#cbc129 37.2%,#c9c129 45.7%,#9ec942 48.4%,#36c898 51.6%,#01b9c6 54.7%,#19acdc 57.8%,#0ab4d2 59.3%,#04bbc1 60.5%,#2ac3a8 62.1%,#54cc7d 64.8%,#b3c534 69.1%,#d7be28 71.8%,#fbbc3d 77.2%,#f8da2b 99.8%)"></i><i class="b" style="top:442.2px;background:linear-gradient(90deg,#f5e526 0.2%,#f7db2b 9.9%,#fcbc3d 16.5%,#dbbd29 19.3%,#cdc028 19.6%,#b6c532 20.0%,#4ccb83 21.2%,#20c1b1 22.0%,#02bac5 22.4%,#2a92ee 23.5%,#3080fa 23.9%,#416bfe 24.3%,#4745e9 25.1%,#3f29b2 25.9%,#3e26a8 26.7%,#3e26a8 28.2%,#4332c8 28.6%,#4849ed 29.0%,#4465fd 29.4%,#2e83f9 29.8%,#16afd9 30.5%,#02bac3 30.9%,#21c1b0 31.3%,#54cc7c 32.5%,#90ca4d 33.7%,#bcc42f 35.6%,#cec028 37.5%,#cac129 45.7%,#9fc941 48.4%,#79cc5e 49.6%,#3fca8e 51.2%,#15bfb8 53.5%,#01b9c7 54.7%,#1babde 57.8%,#0db3d3 59.3%,#01b8c9 60.1%,#0bbdbc 60.9%,#2ac3a9 62.1%,#4bcb84 64.4%,#b3c534 69.1%,#d7be28 71.8%,#fbbc3d 77.2%,#f8da2b 99.8%)"></i><i class="b" style="top:444.2px;background:linear-gradient(90deg,#f5e526 0.2%,#f8d92b 10.3%,#fcbc3d 16.5%,#e1bc2b 18.9%,#c8c129 19.6%,#aec637 20.0%,#44cb8a 21.2%,#01b8ca 22.4%,#19addc 22.8%,#347afd 23.9%,#4465fd 24.3%,#473fe2 25.1%,#3e26a8 25.9%,#3e26a8 28.2%,#4537d6 28.6%,#4852f4 29.0%,#3e6fff 29.4%,#21a3e3 30.2%,#09b4d1 30.5%,#0ebebb 30.9%,#2ac3a9 31.3%,#48cb86 32.1%,#88cb53 33.3%,#bac430 35.2%,#cfc028 37.2%,#cbc029 45.7%,#a1c840 48.4%,#36c898 51.6%,#13beb9 53.5%,#02bac3 54.3%,#1caadf 57.4%,#10b2d5 59.3%,#01b7ca 60.1%,#0abdbd 60.9%,#2ec5a4 62.5%,#53cc7d 64.8%,#b3c534 69.1%,#d8be28 71.8%,#fbbc3d 77.2%,#f8da2b 99.8%)"></i><i class="b" style="top:446.2px;background:linear-gradient(90deg,#f5e526 0.2%,#f8d92b 10.3%,#fbbc3d 16.5%,#dfbc2a 18.9%,#c3c22b 19.6%,#a7c73c 20.0%,#3dca90 21.2%,#2cc4a7 21.6%,#0dbdbb 22.0%,#07b5cf 22.4%,#1da9e0 22.8%,#3c72ff 23.9%,#4849ed 24.7%,#4538d7 25.1%,#402bb6 25.5%,#3e26a8 25.9%,#3e26a8 27.8%,#402bb8 28.2%,#4741e5 28.6%,#465dfb 29.0%,#327cfc 29.4%,#1aacdd 30.2%,#01b9c7 30.5%,#1ec0b2 30.9%,#53cc7e 32.1%,#90ca4d 33.3%,#bec32e 35.2%,#d1bf27 37.2%,#cdc028 45.7%,#a2c83f 48.4%,#36c898 51.6%,#1bc0b4 53.1%,#02bac5 54.3%,#1da8e0 57.4%,#13b1d7 59.3%,#01bac5 60.5%,#2ec4a4 62.5%,#53cc7d 64.8%,#b3c534 69.1%,#d8be28 71.8%,#fbbc3d 77.2%,#f8da2b 99.8%)"></i><i class="b" style="top:448.2px;background:linear-gradient(90deg,#f5e526 0.2%,#f8d92c 10.3%,#fabc3d 16.5%,#debd29 18.9%,#bec32e 19.6%,#9fc941 20.0%,#55cc7c 20.8%,#38c896 21.2%,#26c2ad 21.6%,#04bbc1 22.0%,#2b92ee 23.2%,#307efb 23.5%,#4368fe 23.9%,#4740e3 24.7%,#3e26a8 25.5%,#3e26a8 27.8%,#4435d0 28.2%,#484ff2 28.6%,#406cfe 29.0%,#22a2e4 29.8%,#0bb3d2 30.2%,#0cbdbc 30.5%,#29c3a9 30.9%,#47cb87 31.7%,#98ca47 33.3%,#c7c129 35.6%,#d3bf27 37.9%,#cec028 45.7%,#abc739 48.1%,#7dcc5c 49.6%,#3fca8e 51.2%,#01b9c6 54.3%,#1da8e0 57.0%,#19acdc 58.9%,#01b9c7 60.5%,#2dc4a5 62.5%,#52cc7e 64.8%,#b3c534 69.1%,#d8be28 71.8%,#fbbc3d 77.2%,#f8d92b 99.8%)"></i><i class="b" style="top:450.2px;background:linear-gradient(90deg,#f5e526 0.2%,#f8d92c 10.3%,#fabb3d 16.5%,#dcbd29 18.9%,#cfc028 19.3%,#b8c431 19.6%,#71cd65 20.4%,#4ccb83 20.8%,#01b8c8 22.0%,#19addc 22.4%,#3a74fe 23.5%,#465dfb 23.9%,#4536d3 24.7%,#3f28ae 25.1%,#3e26a8 27.4%,#412cbb 27.8%,#4743e7 28.2%,#465ffb 28.6%,#317efb 29.0%,#19acdc 29.8%,#01b9c6 30.2%,#1ec0b2 30.5%,#53cc7d 31.7%,#92ca4c 32.9%,#c0c32d 34.8%,#d4bf28 37.2%,#cfc028 45.7%,#adc638 48.1%,#7ecc5b 49.6%,#3fca8e 51.2%,#19bfb5 53.1%,#01b9c7 54.3%,#1da9e0 56.6%,#1ea7e1 58.6%,#01b8c9 60.5%,#31c6a0 62.8%,#5bcc77 65.2%,#b3c534 69.1%,#d4bf28 71.4%,#fabb3d 76.8%,#f8d92b 99.8%)"></i><i class="b" style="top:452.2px;background:linear-gradient(90deg,#f5e526 0.2%,#f8d92c 10.3%,#fcbc3d 16.1%,#d9bd28 18.9%,#cbc129 19.3%,#b2c635 19.6%,#44cb8a 20.8%,#10beba 21.6%,#07b5d0 22.0%,#1ea7e1 22.4%,#3080fb 23.2%,#4367fd 23.5%,#4851f3 23.9%,#463cde 24.3%,#412cba 24.7%,#3e26a8 25.1%,#3e26a8 27.4%,#4639d9 27.8%,#4854f5 28.2%,#3c71ff 28.6%,#20a4e3 29.4%,#07b5d0 29.8%,#0fbeba 30.2%,#2bc3a8 30.5%,#49cb85 31.3%,#8bcb51 32.5%,#b6c532 34.0%,#d4bf28 36.4%,#d3bf27 45.3%,#aec637 48.1%,#8fcb4e 49.2%,#3fca8e 51.2%,#17bfb6 53.1%,#02bbc3 53.9%,#1ea7e1 56.6%,#1fa6e2 58.6%,#09b4d1 60.1%,#02bbc3 60.9%,#2cc4a7 62.5%,#52cc7e 64.8%,#b4c534 69.1%,#d4bf28 71.4%,#fabb3d 76.8%,#f8d92b 99.8%)"></i><i class="b" style="top:454.2px;background:linear-gradient(90deg,#f5e526 0.2%,#f8d92c 10.3%,#fbbc3d 16.1%,#e0bc2b 18.5%,#c6c22a 19.3%,#aac739 19.6%,#3cc992 20.8%,#28c2ab 21.2%,#03bbc2 21.6%,#249fe6 22.4%,#3b72fe 23.2%,#475af9 23.5%,#4743e7 23.9%,#3e26a8 24.7%,#3e26a8 27.0%,#4332cb 27.4%,#484bef 27.8%,#4367fd 28.2%,#2e84f8 28.6%,#15afd9 29.4%,#02bbc3 29.8%,#22c1b0 30.2%,#56cc7b 31.3%,#95ca49 32.5%,#c2c22c 34.4%,#d6be28 36.4%,#d4bf28 45.3%,#b6c532 47.7%,#90ca4d 49.2%,#3fca8e 51.2%,#02bac4 53.9%,#07b5d0 54.7%,#1da9e0 56.2%,#22a1e4 58.2%,#15afd9 59.7%,#03b7cc 60.5%,#0bbdbd 61.3%,#2cc4a7 62.5%,#51cc7e 64.8%,#b4c534 69.1%,#d4bf28 71.4%,#fabb3d 76.8%,#f8d92c 99.8%)"></i><i class="b" style="top:456.3px;background:linear-gradient(90deg,#f5e526 0.2%,#f8da2b 9.9%,#fbbc3d 16.1%,#debc2a 18.5%,#c0c32d 19.3%,#a3c83f 19.6%,#54cc7c 20.4%,#02b7cb 21.6%,#1da9e0 22.0%,#317efb 22.8%,#4564fd 23.2%,#484bef 23.5%,#4435d2 23.9%,#3e26a8 24.3%,#3e26a8 26.7%,#412dbd 27.0%,#4743e7 27.4%,#465efb 27.8%,#337bfc 28.2%,#1da9e0 29.0%,#03b7cb 29.4%,#63cd6f 31.3%,#9dc943 32.5%,#c7c12a 34.4%,#d8be28 36.8%,#d5be28 45.3%,#b8c431 47.7%,#91ca4c 49.2%,#40ca8d 51.2%,#02bac5 53.9%,#20a4e3 56.6%,#22a2e4 58.6%,#0eb2d4 60.1%,#01b9c6 60.9%,#2bc3a8 62.5%,#51cc7f 64.8%,#b4c533 69.1%,#d5be28 71.4%,#fabb3d 76.8%,#f8d92c 99.8%)"></i><i class="b" style="top:458.3px;background:linear-gradient(90deg,#f5e526 0.2%,#f9d82c 10.3%,#fabb3d 16.1%,#ddbd29 18.5%,#d0bf27 18.9%,#bac430 19.3%,#71cd64 20.0%,#49cb86 20.4%,#2fc5a3 20.8%,#0bbdbc 21.2%,#10b2d5 21.6%,#3f6eff 22.8%,#4854f5 23.2%,#463bdd 23.5%,#3f29b2 23.9%,#3e26a8 24.7%,#3e26a8 26.3%,#3f29b1 26.7%,#463cde 27.0%,#4756f7 27.4%,#3c72ff 27.8%,#21a2e4 28.6%,#0db3d3 29.0%,#09bcbe 29.4%,#26c2ac 29.8%,#5acc77 30.9%,#98c947 32.1%,#c5c22a 34.0%,#dabd28 36.4%,#d7be28 45.3%,#b9c431 47.7%,#92ca4b 49.2%,#40ca8d 51.2%,#01b9c6 53.9%,#1fa6e2 56.2%,#249ee6 58.2%,#11b2d5 60.1%,#01b9c7 60.9%,#30c5a2 62.8%,#51cc7f 64.8%,#b5c533 69.1%,#d5be28 71.4%,#fabb3d 76.8%,#f8d92c 99.8%)"></i><i class="b" style="top:460.3px;background:linear-gradient(90deg,#f5e526 0.2%,#f9d82c 10.3%,#fabb3d 16.1%,#dabd28 18.5%,#ccc028 18.9%,#b3c534 19.3%,#65cd6e 20.0%,#3eca90 20.4%,#26c2ac 20.8%,#01b9c7 21.2%,#1caadf 21.6%,#337afd 22.4%,#465dfb 22.8%,#4743e7 23.2%,#412ebe 23.5%,#3e26a8 23.9%,#3e26a8 26.3%,#4536d4 26.7%,#484ff2 27.0%,#4269fe 27.4%,#2e85f8 27.8%,#17aeda 28.6%,#01b9c6 29.0%,#30c5a2 29.8%,#51cc7e 30.5%,#92ca4b 31.7%,#bcc42f 33.3%,#d9bd28 35.6%,#d8be28 45.3%,#bac430 47.7%,#93ca4a 49.2%,#40ca8d 51.2%,#01b9c7 53.9%,#20a5e3 56.2%,#259ce7 58.2%,#12b1d7 60.1%,#01b9c8 60.9%,#2fc5a2 62.8%,#51cc7f 64.8%,#aec637 68.7%,#d1bf27 71.0%,#f9bb3d 76.5%,#f9d82c 98.6%,#f8d92c 99.8%)"></i><i class="b" style="top:462.3px;background:linear-gradient(90deg,#f5e526 0.2%,#f9d82c 10.3%,#f9bb3d 16.1%,#d7be28 18.5%,#c6c22a 18.9%,#abc739 19.3%,#35c79a 20.4%,#15bfb7 20.8%,#0cb3d3 21.2%,#239fe5 21.6%,#2e87f7 22.0%,#4368fe 22.4%,#484cef 22.8%,#4433cc 23.2%,#3e26a8 23.5%,#3e26a8 25.9%,#4848ec 26.7%,#4562fc 27.0%,#317dfc 27.4%,#1da8e0 28.2%,#04b6cd 28.6%,#60cd73 30.5%,#9cc943 31.7%,#c8c129 33.7%,#dcbd29 36.0%,#d9be28 45.3%,#bbc42f 47.7%,#95ca49 49.2%,#40ca8d 51.2%,#11beb9 53.1%,#01b9c7 53.9%,#21a4e3 56.2%,#259be8 58.2%,#13b0d7 60.1%,#01b8c8 60.9%,#2fc5a3 62.8%,#51cc7f 64.8%,#aec637 68.7%,#d2bf27 71.0%,#fbbc3d 76.8%,#f8d82c 99.8%)"></i><i class="b" style="top:464.3px;background:linear-gradient(90deg,#f5e526 0.2%,#f9d82c 10.3%,#fbbc3d 15.8%,#debc2a 18.1%,#bfc32d 18.9%,#a1c840 19.3%,#49cb85 20.0%,#2cc4a6 20.4%,#02bac4 20.8%,#1babde 21.2%,#3876fe 22.0%,#4757f7 22.4%,#463adb 22.8%,#3e26a8 23.2%,#3e26a8 25.5%,#412dbc 25.9%,#4741e5 26.3%,#475af9 26.7%,#3975fe 27.0%,#0fb2d4 28.2%,#06bcc0 28.6%,#24c2ae 29.0%,#57cc7a 30.2%,#97ca48 31.3%,#bfc32d 32.9%,#dcbd29 35.2%,#dabd28 45.3%,#bcc42f 47.7%,#96ca49 49.2%,#41ca8d 51.2%,#11beba 53.1%,#01b9c8 53.9%,#1ea7e1 55.8%,#269ae8 58.2%,#14b0d8 60.1%,#01b8c9 60.9%,#05bbc1 61.3%,#29c3aa 62.5%,#51cc7f 64.8%,#afc637 68.7%,#d2bf27 71.0%,#fbbc3d 76.8%,#f8d82c 99.8%)"></i><i class="b" style="top:466.3px;background:linear-gradient(90deg,#f5e526 0.2%,#f9d82c 10.3%,#fabb3d 15.8%,#dcbd29 18.1%,#cec028 18.5%,#b7c531 18.9%,#94ca4a 19.3%,#3bc992 20.0%,#1dc0b3 20.4%,#09b4d1 20.8%,#249fe5 21.2%,#2e84f8 21.6%,#4563fd 22.0%,#4745e9 22.4%,#412dbb 22.8%,#3e26a8 23.2%,#3e26a8 25.1%,#3f28af 25.5%,#463adb 25.9%,#4852f4 26.3%,#416cfe 26.7%,#2e86f7 27.0%,#18addb 27.8%,#01b9c7 28.2%,#2ec5a4 29.0%,#4ecc81 29.8%,#91ca4c 30.9%,#b5c533 32.1%,#d9be28 34.4%,#dfbc2a 41.4%,#dbbd28 45.3%,#b6c532 48.1%,#97ca48 49.2%,#41ca8c 51.2%,#10beba 53.1%,#01b8c8 53.9%,#1fa6e1 55.8%,#2698ea 57.8%,#1babde 59.7%,#01b8c9 60.9%,#05bbc1 61.3%,#29c3aa 62.5%,#51cc7e 64.8%,#afc636 68.7%,#d2bf27 71.0%,#fabb3d 76.5%,#f8d82c 99.8%)"></i><i class="b" style="top:468.3px;background:linear-gradient(90deg,#f5e526 0.2%,#f8d92c 9.9%,#fcbd3d 15.4%,#e1bc2b 17.7%,#c8c129 18.5%,#adc638 18.9%,#85cb55 19.3%,#55cc7c 19.6%,#05bbc1 20.4%,#1babde 20.8%,#3b72ff 21.6%,#4852f4 22.0%,#4435d1 22.4%,#3e26a8 22.8%,#3e26a8 25.1%,#484aed 25.9%,#4563fc 26.3%,#317dfb 26.7%,#1da8e0 27.4%,#06b5ce 27.8%,#0fbebb 28.2%,#29c3aa 28.6%,#46cb88 29.4%,#9bc944 30.9%,#c2c22c 32.5%,#debc2a 34.8%,#dcbd29 45.3%,#bec32e 47.7%,#98c947 49.2%,#41ca8c 51.2%,#10beba 53.1%,#01b8c8 53.9%,#1fa6e2 55.8%,#2698ea 57.8%,#1babde 59.7%,#01b8c9 60.9%,#05bbc1 61.3%,#29c3a9 62.5%,#52cc7e 64.8%,#b0c636 68.7%,#d3bf27 71.0%,#fbbc3d 76.8%,#f8d82c 99.8%)"></i><i class="b" style="top:470.3px;background:linear-gradient(90deg,#f5e526 0.2%,#f8da2b 9.5%,#fbbc3d 15.4%,#debc2a 17.7%,#bfc32d 18.5%,#9fc942 18.9%,#41ca8c 19.6%,#08b4d1 20.4%,#249ee6 20.8%,#2f82fa 21.2%,#4660fb 21.6%,#4740e4 22.0%,#3f29b1 22.4%,#3e26a8 23.2%,#3e26a8 24.7%,#412dbd 25.1%,#4741e5 25.5%,#475af9 25.9%,#3a74fe 26.3%,#11b2d5 27.4%,#04bbc1 27.8%,#22c1af 28.2%,#3fca8e 29.0%,#96ca48 30.5%,#c0c32d 32.1%,#debc2a 34.4%,#ddbd29 45.3%,#bfc32d 47.7%,#98c947 49.2%,#41ca8c 51.2%,#04bbc2 53.5%,#07b5cf 54.3%,#1fa6e2 55.8%,#2698ea 57.8%,#1babde 59.7%,#01b8c8 60.9%,#30c5a2 62.8%,#53cc7d 64.8%,#b1c635 68.7%,#d3bf27 71.0%,#fabb3d 76.5%,#f8d82c 99.8%)"></i><i class="b" style="top:472.3px;background:linear-gradient(90deg,#f5e526 0.2%,#f9d82c 9.9%,#fabb3d 15.4%,#dabd28 17.7%,#ccc028 18.1%,#b3c534 18.5%,#8ccb50 18.9%,#31c6a0 19.6%,#04bbc2 20.0%,#1ca9df 20.4%,#3f6efe 21.2%,#484df0 21.6%,#4331c8 22.0%,#3e26a8 22.4%,#3f28ad 24.7%,#4639da 25.1%,#4851f4 25.5%,#416bfe 25.9%,#259be8 26.7%,#19addc 27.0%,#01b9c8 27.4%,#2ec4a4 28.2%,#4dcc82 29.0%,#a1c840 30.5%,#ccc028 32.5%,#e2bc2b 34.8%,#e0bc2a 44.9%,#bfc32d 47.7%,#98ca47 49.2%,#3fca8e 51.2%,#1bc0b4 52.7%,#03bbc3 53.5%,#08b5d0 54.3%,#1fa5e2 55.8%,#269ae8 58.2%,#12b1d7 60.1%,#01b9c7 60.9%,#2bc3a8 62.5%,#54cc7c 64.8%,#b2c535 68.7%,#d4bf28 71.0%,#fabb3d 76.5%,#f8d82c 99.8%)"></i><i class="b" style="top:474.4px;background:linear-gradient(90deg,#f5e526 0.2%,#f9d82c 9.9%,#f9bb3d 15.4%,#e0bc2a 17.3%,#c2c22c 18.1%,#a2c83f 18.5%,#3fca8e 19.3%,#1cc0b3 19.6%,#0fb2d5 20.0%,#269ae8 20.4%,#327cfc 20.8%,#475af9 21.2%,#463bdd 21.6%,#3e26a8 22.0%,#3e26a8 24.3%,#4849ed 25.1%,#4562fc 25.5%,#317efb 25.9%,#1da8e0 26.7%,#05b6ce 27.0%,#10beba 27.4%,#2ac3a9 27.8%,#5dcc75 29.0%,#9cc943 30.2%,#c4c22b 31.7%,#e3bc2c 34.4%,#e1bc2b 44.9%,#c6c22a 47.3%,#a5c83d 48.8%,#3eca90 51.2%,#19bfb5 52.7%,#02bac4 53.5%,#20a5e3 55.8%,#2699e9 57.8%,#19addc 59.7%,#02bac5 60.9%,#2dc4a6 62.5%,#4dcc82 64.4%,#b4c533 68.7%,#d5be28 71.0%,#fabb3d 76.5%,#f8d82c 99.8%)"></i><i class="b" style="top:476.4px;background:linear-gradient(90deg,#f5e526 0.2%,#f9d82c 9.9%,#fbbc3d 15.0%,#dbbd29 17.3%,#cdc028 17.7%,#b4c534 18.1%,#8bcb51 18.5%,#55cc7b 18.9%,#01b8c8 19.6%,#20a4e3 20.0%,#2d88f6 20.4%,#4367fd 20.8%,#4747eb 21.2%,#412ebd 21.6%,#3e26a8 22.0%,#3e26a8 23.9%,#412dbd 24.3%,#4741e5 24.7%,#475af9 25.1%,#3875fe 25.5%,#21a3e3 26.3%,#0db3d3 26.7%,#07bcbf 27.0%,#25c2ae 27.4%,#41ca8c 28.2%,#98ca47 29.8%,#c2c22c 31.3%,#e4bb2c 34.0%,#e2bc2b 44.9%,#c6c22a 47.3%,#a3c83f 48.8%,#3bc992 51.2%,#01bac6 53.5%,#21a4e3 55.8%,#2699e9 57.8%,#16aeda 59.7%,#02b7cb 60.5%,#03bbc3 60.9%,#28c3ab 62.1%,#50cc80 64.4%,#afc637 68.3%,#d2bf27 70.6%,#fabb3d 76.1%,#f9d82c 99.4%,#f8d82c 99.8%)"></i><i class="b" style="top:478.4px;background:linear-gradient(90deg,#f5e526 0.2%,#f8d92c 9.5%,#fabb3d 15.0%,#e0bc2a 16.9%,#c1c32c 17.7%,#9fc941 18.1%,#38c896 18.9%,#0cbdbc 19.3%,#19acdc 19.6%,#3a73fe 20.4%,#4853f5 20.8%,#4536d3 21.2%,#3e26a8 21.6%,#3f28ae 23.9%,#463adb 24.3%,#4853f4 24.7%,#406dfe 25.1%,#2d88f6 25.5%,#15afd9 26.3%,#02bac4 26.7%,#1ec0b2 27.0%,#51cc7f 28.2%,#a4c83e 29.8%,#cec028 31.7%,#e6bb2d 34.0%,#e2bc2b 44.9%,#c6c22a 47.3%,#a1c840 48.8%,#45cb88 50.8%,#12beb9 52.7%,#01b9c8 53.5%,#1fa6e2 55.4%,#269ae9 57.8%,#14b0d8 59.7%,#01b8c8 60.5%,#30c5a2 62.5%,#5ccc75 64.8%,#b1c635 68.3%,#d4bf27 70.6%,#fabb3d 76.1%,#f9d82c 99.4%,#f8d82c 99.8%)"></i><i class="b" style="top:480.4px;background:linear-gradient(90deg,#f5e526 0.2%,#f8da2b 9.1%,#fcbc3d 14.6%,#dbbd29 16.9%,#ccc028 17.3%,#b0c636 17.7%,#82cc57 18.1%,#48cb86 18.5%,#22c1b0 18.9%,#0cb3d3 19.3%,#259ce7 19.6%,#307ffb 20.0%,#465efb 20.4%,#4740e4 20.8%,#402ab3 21.2%,#3e26a8 21.6%,#3e26a8 23.5%,#4433cd 23.9%,#484bee 24.3%,#4465fd 24.7%,#2f81fa 25.1%,#1aabdd 25.9%,#01b8ca 26.3%,#2dc4a6 27.0%,#4bcb84 27.8%,#a0c841 29.4%,#c7c12a 30.9%,#e7bb2d 33.7%,#e3bc2c 44.9%,#c5c22a 47.3%,#abc739 48.4%,#41ca8c 50.8%,#02bbc3 53.1%,#08b4d1 53.9%,#1da9e0 55.1%,#2699e9 57.4%,#18addb 59.3%,#04b6cd 60.1%,#02bac5 60.5%,#2dc4a6 62.1%,#4dcb82 64.0%,#b4c534 68.3%,#d1bf27 70.2%,#f9bb3d 75.7%,#f9d82c 99.0%,#f8d82c 99.8%)"></i><i class="b" style="top:482.4px;background:linear-gradient(90deg,#f5e526 0.2%,#f8d92b 9.1%,#fabb3d 14.6%,#e0bc2a 16.5%,#d3bf27 16.9%,#bdc32e 17.3%,#96ca48 17.7%,#5dcc75 18.1%,#01b8c9 18.9%,#20a4e3 19.3%,#4269fe 20.0%,#484bef 20.4%,#4332c8 20.8%,#3e26a8 21.2%,#3e26a8 23.2%,#422ebf 23.5%,#4743e7 23.9%,#465dfa 24.3%,#3479fd 24.7%,#1ea7e1 25.5%,#06b5cf 25.9%,#0fbeba 26.3%,#29c3a9 26.7%,#46cb88 27.4%,#9cc944 29.0%,#bec32e 30.2%,#ddbd29 32.1%,#eabb30 34.8%,#e6bb2d 44.6%,#c4c22b 47.3%,#a8c73b 48.4%,#3dc991 50.8%,#01bac6 53.1%,#21a3e3 55.4%,#2699e9 57.4%,#15afd9 59.3%,#01b8c9 60.1%,#12beb9 60.9%,#2fc5a3 62.1%,#51cc7f 64.0%,#afc636 67.9%,#d3bf27 70.2%,#fabb3d 75.7%,#f9d82c 99.0%,#f8d82c 99.8%)"></i><i class="b" style="top:484.4px;background:linear-gradient(90deg,#f5e526 0.2%,#f8d92c 9.1%,#fcbc3d 14.2%,#dabd28 16.5%,#c8c129 16.9%,#a7c73c 17.3%,#72cd64 17.7%,#38c896 18.1%,#09bcbe 18.5%,#1babde 18.9%,#3a74fe 19.6%,#4755f6 20.0%,#463adb 20.4%,#3e27aa 20.8%,#3e26a8 22.8%,#3f29b0 23.2%,#463bde 23.5%,#4756f6 23.9%,#3c71ff 24.3%,#22a2e4 25.1%,#0db3d4 25.5%,#08bcbf 25.9%,#26c2ad 26.3%,#41ca8c 27.0%,#98ca47 28.6%,#bcc42f 29.8%,#dcbd29 31.7%,#ebba31 34.4%,#e6bb2d 44.6%,#c3c22b 47.3%,#a4c83e 48.4%,#39c895 50.8%,#05bbc1 52.7%,#07b5cf 53.5%,#1ca9df 54.7%,#2699e9 57.0%,#19addc 58.9%,#01bac6 60.1%,#2cc4a6 61.7%,#4bcb83 63.6%,#b3c534 67.9%,#d5be28 70.2%,#fbbc3d 75.7%,#f9d82c 99.0%,#f8d82c 99.8%)"></i><i class="b" style="top:486.4px;background:linear-gradient(90deg,#f5e526 0.2%,#f8da2b 8.8%,#fabc3d 14.2%,#debc2a 16.1%,#d0bf27 16.5%,#b5c533 16.9%,#85cb55 17.3%,#46cb88 17.7%,#1bc0b4 18.1%,#13b1d7 18.5%,#317efb 19.3%,#465ffb 19.6%,#4744e8 20.0%,#422ebf 20.4%,#3e26a8 20.8%,#3e26a8 22.8%,#4435d1 23.2%,#484ef1 23.5%,#4269fe 23.9%,#2e86f7 24.3%,#15afd8 25.1%,#02bac3 25.5%,#20c1b1 25.9%,#52cc7e 27.0%,#a4c83e 28.6%,#cac129 30.2%,#ecba32 33.3%,#e9bb30 44.2%,#c8c129 46.9%,#adc638 48.1%,#40ca8d 50.4%,#19bfb5 51.9%,#02bac4 52.7%,#21a3e3 55.1%,#2699e9 57.0%,#15afd9 58.9%,#01b8ca 59.7%,#04bbc1 60.1%,#29c3aa 61.3%,#50cc80 63.6%,#b6c532 67.9%,#dabd28 70.6%,#fbbc3d 75.7%,#f9d82c 99.0%,#f8d82c 99.8%)"></i><i class="b" style="top:488.4px;background:linear-gradient(90deg,#f5e526 0.2%,#f8d92b 8.8%,#fcbc3d 13.8%,#e2bc2b 15.8%,#d7be28 16.1%,#c1c32c 16.5%,#97ca47 16.9%,#59cc78 17.3%,#2ac3a9 17.7%,#06b6ce 18.1%,#23a0e5 18.5%,#2e87f7 18.9%,#4269fe 19.3%,#484df1 19.6%,#3e26a8 20.4%,#3e26a8 22.4%,#4230c3 22.8%,#4746ea 23.2%,#4561fc 23.5%,#307ffb 23.9%,#1aacdd 24.7%,#01b8c8 25.1%,#2ec4a4 25.9%,#4ccb82 26.7%,#a1c840 28.2%,#c9c129 29.8%,#eaba31 32.5%,#eabb30 44.2%,#c7c12a 46.9%,#a9c73b 48.1%,#3bc993 50.4%,#01b9c8 52.7%,#1caadf 54.3%,#2699e9 56.6%,#19addc 58.6%,#01bac5 59.7%,#2cc4a6 61.3%,#54cc7c 63.6%,#b2c535 67.5%,#d5be28 69.8%,#fbbc3d 75.3%,#f9d82c 98.6%,#f8d82c 99.8%)"></i><i class="b" style="top:490.5px;background:linear-gradient(90deg,#f5e526 0.2%,#f8da2b 8.4%,#fbbc3d 13.8%,#dcbd29 15.8%,#cbc029 16.1%,#a9c73b 16.5%,#6dcd67 16.9%,#33c79d 17.3%,#02bac5 17.7%,#1ea7e1 18.1%,#3b72fe 18.9%,#4757f7 19.3%,#463de0 19.6%,#402bb7 20.0%,#3e26a8 20.4%,#3e26a8 22.0%,#402ab5 22.4%,#473fe2 22.8%,#475af9 23.2%,#3777fe 23.5%,#1ea7e1 24.3%,#04b6cd 24.7%,#5dcc75 26.7%,#9dc943 27.8%,#c0c32d 29.0%,#e3bc2c 31.3%,#efba35 34.4%,#eabb30 44.2%,#c5c22a 46.9%,#a3c83f 48.1%,#42ca8b 50.0%,#0cbdbc 51.9%,#02b7cb 52.7%,#1ea8e1 54.3%,#269ae9 56.6%,#15afd8 58.6%,#01b8c9 59.3%,#13beb9 60.1%,#2fc5a3 61.3%,#50cc80 63.2%,#b6c532 67.5%,#dbbd28 70.2%,#fbbc3d 75.3%,#f9d82c 98.6%,#f8d82c 99.8%)"></i><i class="b" style="top:492.5px;background:linear-gradient(90deg,#f5e526 0.2%,#f8da2b 8.4%,#fcbc3d 13.4%,#e1bc2b 15.4%,#d2bf27 15.8%,#b6c532 16.1%,#81cc58 16.5%,#3eca8f 16.9%,#0dbdbb 17.3%,#19addc 17.7%,#327cfc 18.5%,#4660fb 18.9%,#4747eb 19.3%,#3e26a8 20.0%,#3e26a8 22.0%,#4538d7 22.4%,#4852f4 22.8%,#3f6fff 23.2%,#21a3e4 23.9%,#0bb3d2 24.3%,#0bbdbd 24.7%,#28c2ab 25.1%,#43ca8b 25.9%,#98c947 27.4%,#bec32e 28.6%,#debd29 30.5%,#f0ba36 33.3%,#ecba32 43.8%,#cac129 46.5%,#acc738 47.7%,#3cc991 50.0%,#14beb8 51.6%,#01b9c7 52.3%,#1caadf 53.9%,#2699e9 56.2%,#18addb 58.2%,#04b6cd 58.9%,#02bac5 59.3%,#2dc4a6 60.9%,#4bcb84 62.8%,#b2c635 67.1%,#d5be28 69.5%,#fbbc3d 74.9%,#f9d82c 98.2%,#f8d82c 99.8%)"></i><i class="b" style="top:494.5px;background:linear-gradient(90deg,#f5e526 0.2%,#f8d92c 8.4%,#fbbc3d 13.4%,#e4bb2c 15.0%,#d9be28 15.4%,#c2c22c 15.8%,#95ca49 16.1%,#50cc80 16.5%,#20c1b1 16.9%,#0fb2d5 17.3%,#259de7 17.7%,#2e84f8 18.1%,#4369fe 18.5%,#4850f2 18.9%,#4639da 19.3%,#402ab3 19.6%,#3e26a8 20.0%,#3e26a8 21.6%,#4332ca 22.0%,#484aee 22.4%,#4367fd 22.8%,#2e85f8 23.2%,#13b0d7 23.9%,#04bbc2 24.3%,#23c1af 24.7%,#53cc7d 25.9%,#a5c83d 27.4%,#cbc029 29.0%,#efba35 32.1%,#ecba32 43.8%,#c8c129 46.5%,#a6c83c 47.7%,#44cb8a 49.6%,#0cbdbc 51.6%,#02b7cb 52.3%,#1ea7e1 53.9%,#2698ea 55.8%,#14b0d8 58.2%,#01b8c9 58.9%,#2fc5a2 60.9%,#50cc80 62.8%,#b6c532 67.1%,#d7be28 69.5%,#fbbc3d 74.5%,#f9d72c 97.9%,#f8d82c 99.8%)"></i><i class="b" style="top:496.5px;background:linear-gradient(90deg,#f5e526 0.2%,#f8da2b 8.0%,#fcbc3d 13.0%,#debc2a 15.0%,#cdc028 15.4%,#a7c73c 15.8%,#65cd6e 16.1%,#2ec4a4 16.5%,#03b7cc 16.9%,#21a3e3 17.3%,#3c72ff 18.1%,#4759f8 18.5%,#4742e6 18.9%,#3e26a8 19.6%,#3e26a8 21.2%,#412dbd 21.6%,#4743e7 22.0%,#465efb 22.4%,#317dfc 22.8%,#1aacdd 23.5%,#01b9c7 23.9%,#2fc5a3 24.7%,#62cd70 25.9%,#a0c841 27.0%,#cac129 28.6%,#eeba34 31.7%,#eeba34 43.4%,#cdc028 46.1%,#afc636 47.3%,#3dca90 49.6%,#01b9c7 51.9%,#1caadf 53.5%,#2699e9 55.8%,#18aedb 57.8%,#03b6cc 58.6%,#02bac4 58.9%,#2dc4a6 60.5%,#54cc7c 62.8%,#bac430 67.1%,#ddbd29 69.8%,#fbbc3d 74.5%,#f9d82c 97.9%,#f8d82c 99.8%)"></i><i class="b" style="top:498.5px;background:linear-gradient(90deg,#f5e526 0.2%,#f7db2a 7.6%,#fbbc3d 13.0%,#e3bc2c 14.6%,#d4be28 15.0%,#b7c532 15.4%,#7dcc5c 15.8%,#38c896 16.1%,#05bbc1 16.5%,#1caadf 16.9%,#327bfc 17.7%,#4561fc 18.1%,#484bee 18.5%,#4537d5 18.9%,#3f29b1 19.3%,#3e26a8 20.0%,#3e26a8 20.8%,#3f29b0 21.2%,#463bde 21.6%,#4757f7 22.0%,#3974fe 22.4%,#1ea7e1 23.2%,#04b6cd 23.5%,#2cc4a7 24.3%,#47cb87 25.1%,#9bc944 26.7%,#c0c32d 27.8%,#e4bb2c 30.2%,#f2ba38 32.9%,#eeba34 43.4%,#cac129 46.1%,#a9c73a 47.3%,#46cb88 49.2%,#0dbdbb 51.2%,#02bbc3 51.6%,#0ab4d2 52.3%,#21a3e3 53.9%,#269ae9 55.8%,#13b0d7 57.8%,#01b8c8 58.6%,#2ac3a9 60.1%,#50cc80 62.5%,#b6c532 66.7%,#d7be28 69.1%,#fbbc3d 74.1%,#f9d72c 97.5%,#f8d92c 99.8%)"></i><i class="b" style="top:500.5px;background:linear-gradient(90deg,#f5e526 0.2%,#f8d92c 8.0%,#fcbc3d 12.6%,#e7bb2e 14.2%,#dcbd29 14.6%,#c5c22a 15.0%,#94ca4a 15.4%,#4acb84 15.8%,#19bfb5 16.1%,#14b0d8 16.5%,#2e84f8 17.3%,#416bfe 17.7%,#473fe2 18.5%,#3e26a8 19.3%,#3e26a8 20.8%,#4536d2 21.2%,#484ff2 21.6%,#416cfe 22.0%,#22a1e4 22.8%,#0cb3d3 23.2%,#0abdbd 23.5%,#27c2ab 23.9%,#56cc7b 25.1%,#a7c73c 26.7%,#ccc028 28.2%,#f0ba36 31.3%,#f0ba36 43.0%,#cfc028 45.7%,#b2c535 46.9%,#3fca8e 49.2%,#01b9c7 51.6%,#1fa5e2 53.5%,#2699e9 55.4%,#18aedb 57.4%,#03b7cc 58.2%,#02bac4 58.6%,#2dc4a5 60.1%,#54cc7c 62.5%,#bac430 66.7%,#ddbd29 69.5%,#fbbc3d 74.1%,#f9d72c 97.5%,#f8d92c 99.8%)"></i><i class="b" style="top:502.5px;background:linear-gradient(90deg,#f5e526 0.2%,#f8da2b 7.6%,#fabc3d 12.6%,#e1bc2b 14.2%,#d0c028 14.6%,#aac73a 15.0%,#65cd6e 15.4%,#2cc4a7 15.8%,#05b6ce 16.1%,#21a2e4 16.5%,#3974fe 17.3%,#475cfa 17.7%,#4747ec 18.1%,#3f29b1 18.9%,#3e26a8 19.6%,#3e26a8 20.4%,#4331c7 20.8%,#4847ec 21.2%,#4563fd 21.6%,#2f82fa 22.0%,#16afd9 22.8%,#02bac3 23.2%,#21c1b1 23.5%,#4fcc80 24.7%,#a1c840 26.3%,#c3c22b 27.4%,#e5bb2d 29.8%,#f3ba39 32.9%,#efba35 43.0%,#ccc028 45.7%,#acc738 46.9%,#3ac994 49.2%,#03bbc2 51.2%,#09b4d1 51.9%,#21a3e3 53.5%,#269ae9 55.4%,#14b0d8 57.4%,#01b8c8 58.2%,#2ac3a9 59.7%,#4fcc80 62.1%,#b5c533 66.3%,#d7be28 68.7%,#fbbc3d 73.7%,#f9d72c 97.1%,#f8d92c 99.8%)"></i><i class="b" style="top:504.5px;background:linear-gradient(90deg,#f5e526 0.2%,#f7dc2a 7.2%,#fcbc3d 12.3%,#e6bb2d 13.8%,#d8be28 14.2%,#bcc42f 14.6%,#82cc58 15.0%,#39c994 15.4%,#05bbc1 15.8%,#1baade 16.1%,#317efb 16.9%,#4466fd 17.3%,#463de0 18.1%,#3e26a8 18.9%,#3e26a8 20.0%,#412dbc 20.4%,#4741e4 20.8%,#475bfa 21.2%,#3579fd 21.6%,#1caadf 22.4%,#01b8ca 22.8%,#2dc4a6 23.5%,#48cb86 24.3%,#abc739 26.3%,#cec028 27.8%,#f0ba36 30.9%,#efba35 43.0%,#d1bf27 45.3%,#b5c533 46.5%,#68cd6b 48.1%,#36c899 49.2%,#01bac5 51.2%,#1fa6e2 53.1%,#2699e9 55.1%,#18addb 57.0%,#04b6cd 57.8%,#02bac4 58.2%,#2dc4a6 59.7%,#53cc7d 62.1%,#b9c431 66.3%,#d9be28 68.7%,#fabb3d 73.3%,#f9d72d 96.7%,#f8d92c 99.8%)"></i><i class="b" style="top:506.5px;background:linear-gradient(90deg,#f5e526 0.2%,#f7db2b 7.2%,#febd3c 11.9%,#f1ba36 13.0%,#dfbc2a 13.8%,#cbc129 14.2%,#9ec942 14.6%,#53cc7d 15.0%,#1fc0b2 15.4%,#11b1d6 15.8%,#3d70ff 16.9%,#475af9 17.3%,#4535d2 18.1%,#402ab4 18.5%,#3e26a8 18.9%,#3e26a8 19.6%,#402ab5 20.0%,#463bdc 20.4%,#4854f5 20.8%,#3d70ff 21.2%,#21a3e3 22.0%,#0ab4d1 22.4%,#0cbdbc 22.8%,#27c2ab 23.2%,#55cc7b 24.3%,#a5c83d 25.9%,#c5c22a 27.0%,#e9bb30 29.8%,#f3ba39 32.9%,#f0ba36 42.6%,#cec028 45.3%,#b0c636 46.5%,#3dc991 48.8%,#12beb9 50.4%,#01b8c8 51.2%,#1da8e0 52.7%,#269ae9 55.1%,#15afd9 57.0%,#01b8c9 57.8%,#12beb9 58.6%,#2fc5a3 59.7%,#57cc7a 62.1%,#b4c533 66.0%,#d6be28 68.3%,#fabb3d 73.0%,#f9d72d 96.3%,#f8d92c 99.8%)"></i><i class="b" style="top:508.6px;background:linear-gradient(90deg,#f5e526 0.2%,#f8da2b 7.2%,#fcbc3d 11.9%,#e4bb2c 13.4%,#d5be28 13.8%,#b5c533 14.2%,#74cc62 14.6%,#32c69e 15.0%,#01b9c8 15.4%,#1ea7e1 15.8%,#327cfc 16.5%,#4464fd 16.9%,#473ee1 17.7%,#3e28ac 18.5%,#3e26a8 19.3%,#402ab3 19.6%,#484ff2 20.4%,#4269fe 20.8%,#2e85f8 21.2%,#15afd9 22.0%,#02bac4 22.4%,#1fc0b1 22.8%,#61cd71 24.3%,#adc638 25.9%,#cfc028 27.4%,#f0ba36 30.5%,#efba35 42.6%,#cbc029 45.3%,#aac73a 46.5%,#46cb88 48.4%,#02bac4 50.8%,#0bb3d2 51.6%,#21a2e4 53.1%,#269be8 55.1%,#11b1d6 57.0%,#01b9c6 57.8%,#2cc4a7 59.3%,#49cb86 61.3%,#b8c431 66.0%,#d8be28 68.3%,#fabb3d 73.0%,#f9d72d 96.3%,#f8d92c 99.8%)"></i><i class="b" style="top:510.6px;background:linear-gradient(90deg,#f5e526 0.2%,#f8da2b 7.2%,#fabb3d 11.9%,#debd29 13.4%,#c7c12a 13.8%,#94ca4a 14.2%,#48cb86 14.6%,#15bfb7 15.0%,#15afd9 15.4%,#3d71ff 16.5%,#484aed 17.3%,#3e28ad 18.5%,#3e26a8 18.9%,#402bb7 19.3%,#484cef 20.0%,#4564fd 20.4%,#307ffb 20.8%,#1caadf 21.6%,#02b7cb 22.0%,#2bc3a8 22.8%,#44cb8a 23.5%,#a7c73c 25.5%,#ccc028 27.0%,#efba35 30.2%,#eeba34 42.6%,#c8c129 45.3%,#a3c83f 46.5%,#3fca8e 48.4%,#01b9c7 50.8%,#20a5e2 52.7%,#2699e9 54.7%,#17aeda 56.6%,#02b7cb 57.4%,#02bbc3 57.8%,#2ec4a5 59.3%,#4ccb83 61.3%,#b3c534 65.6%,#d2bf27 67.5%,#fbbc3d 73.0%,#f9d72d 96.3%,#f8d92c 99.8%)"></i><i class="b" style="top:512.6px;background:linear-gradient(90deg,#f5e526 0.2%,#f7db2a 6.8%,#fcbc3d 11.5%,#e3bc2c 13.0%,#d2bf27 13.4%,#aec637 13.8%,#69cd6b 14.2%,#2ec4a5 14.6%,#03b7cb 15.0%,#1fa6e2 15.4%,#317dfb 16.1%,#4368fe 16.5%,#4745e9 17.3%,#422fc1 18.1%,#402bb8 18.5%,#422fc0 18.9%,#484bee 19.6%,#4660fc 20.0%,#3479fd 20.4%,#20a4e3 21.2%,#0bb3d2 21.6%,#08bcbf 22.0%,#24c1af 22.4%,#4fcc80 23.5%,#9fc941 25.1%,#c9c129 26.7%,#ebba31 29.4%,#f3ba39 33.3%,#f0ba36 42.2%,#cdc028 44.9%,#adc638 46.1%,#49cb85 48.1%,#10beba 50.0%,#03bbc2 50.4%,#09b4d1 51.2%,#21a3e3 52.7%,#269ae9 54.7%,#13b0d7 56.6%,#01b9c8 57.4%,#2ac3a9 58.9%,#50cc80 61.3%,#b6c532 65.6%,#d8be28 67.9%,#fabb3d 72.6%,#f9d62d 95.9%,#f8d92c 99.8%)"></i><i class="b" style="top:514.6px;background:linear-gradient(90deg,#f5e526 0.2%,#f7db2b 6.8%,#fdbd3d 11.1%,#efba35 12.3%,#dbbd29 13.0%,#c1c32c 13.4%,#8acb52 13.8%,#3fca8e 14.2%,#0dbdbc 14.6%,#17aeda 15.0%,#3974fe 16.1%,#4850f3 16.9%,#4332c9 18.1%,#4433cb 18.5%,#484bee 19.3%,#465efb 19.6%,#3975fe 20.0%,#15afd9 21.2%,#01b9c6 21.6%,#2cc4a6 22.4%,#5acc77 23.5%,#a8c73b 25.1%,#ccc028 26.7%,#efba35 29.8%,#efba35 42.2%,#d1bf27 44.6%,#b6c532 45.7%,#69cd6a 47.3%,#36c898 48.4%,#19bfb5 49.6%,#01bac5 50.4%,#1fa6e2 52.3%,#2699e9 54.3%,#18addb 56.2%,#04b6cd 57.0%,#02bac5 57.4%,#2dc4a6 58.9%,#4acb84 60.9%,#b2c635 65.2%,#d5be28 67.5%,#fbbc3d 72.6%,#f9d62d 95.9%,#f8d92c 99.8%)"></i></div>
<div class="hm" style="left:1353.0px;top:58.0px;width:512.5999999999999px;height:515.5px;--h:4.62px;--g:2.59px"><i style="top:0.0px;background:linear-gradient(90deg,#f5e526 0.2%,#f7db2a 13.0%,#fbbc3d 21.6%,#d5be28 26.7%,#b1c635 28.6%,#4ccb83 32.9%,#39c994 35.6%,#55cc7b 42.6%,#54cc7d 46.1%,#21c1b0 51.2%,#01b9c6 52.3%,#20a4e3 54.3%,#2699e9 56.2%,#15afd8 58.9%,#03b7cc 59.7%,#02bac4 60.1%,#2cc4a6 60.9%,#44cb8a 61.3%,#6bcd69 61.7%,#88cb53 62.1%,#b0c636 63.2%,#d6be28 65.2%,#fbbc3d 68.7%,#f5e228 86.2%,#f5e526 99.8%)"></i><i style="top:4.0px;background:linear-gradient(90deg,#f5e526 0.2%,#f7db2a 13.0%,#fbbc3d 21.6%,#d5be28 26.7%,#b1c635 28.6%,#4bcb84 32.9%,#39c895 35.6%,#55cc7b 42.6%,#54cc7d 46.1%,#21c1b0 51.2%,#01b9c6 52.3%,#20a4e3 54.3%,#2699e9 56.2%,#14b0d8 58.9%,#03b7cc 59.7%,#02bac4 60.1%,#2cc4a7 60.9%,#43ca8b 61.3%,#69cd6a 61.7%,#87cb54 62.1%,#afc636 63.2%,#d5be28 65.2%,#fbbc3d 68.7%,#f5e128 85.8%,#f5e526 99.8%)"></i><i style="top:8.0px;background:linear-gradient(90deg,#f5e526 0.2%,#f7db2a 13.0%,#fbbc3d 21.6%,#d5be28 26.7%,#b1c635 28.6%,#4acb84 32.9%,#39c895 35.6%,#55cc7b 42.6%,#54cc7d 46.1%,#21c1b0 51.2%,#01b9c6 52.3%,#20a4e3 54.3%,#2699e9 56.2%,#14b0d8 58.9%,#03b7cc 59.7%,#02bac4 60.1%,#2cc4a7 60.9%,#42ca8c 61.3%,#86cb55 62.1%,#afc637 63.2%,#d5be28 65.2%,#fbbc3d 68.7%,#f5e228 86.6%,#f5e526 99.8%)"></i><i style="top:12.1px;background:linear-gradient(90deg,#f5e526 0.2%,#f7db2a 13.0%,#fbbc3d 21.6%,#d5be28 26.7%,#b1c635 28.6%,#4acb85 32.9%,#38c896 35.6%,#54cc7c 42.2%,#54cc7d 46.1%,#21c1b0 51.2%,#01b9c6 52.3%,#20a4e3 54.3%,#2699e9 56.2%,#14b0d8 58.9%,#03b7cc 59.7%,#02bac4 60.1%,#2bc3a7 60.9%,#41ca8d 61.3%,#84cb56 62.1%,#aec637 63.2%,#d5be28 65.2%,#fabc3d 68.7%,#f8da2b 80.7%,#f5e526 99.8%)"></i><i style="top:16.1px;background:linear-gradient(90deg,#f5e526 0.2%,#f7db2a 13.0%,#fbbc3d 21.6%,#d5be28 26.7%,#b1c635 28.6%,#49cb85 32.9%,#38c896 35.6%,#54cc7c 42.2%,#54cc7d 46.1%,#21c1b0 51.2%,#01b9c6 52.3%,#20a4e3 54.3%,#2699e9 56.2%,#14b0d8 58.9%,#03b7cc 59.7%,#02bac4 60.1%,#2bc3a8 60.9%,#3fca8e 61.3%,#83cc57 62.1%,#adc638 63.2%,#d4bf28 65.2%,#fabb3d 68.7%,#f8da2b 81.1%,#f5e526 99.8%)"></i><i style="top:20.1px;background:linear-gradient(90deg,#f5e526 0.2%,#f7db2a 13.0%,#fbbc3d 21.6%,#d5be28 26.7%,#b1c635 28.6%,#48cb86 32.9%,#38c896 35.6%,#54cc7c 42.2%,#54cc7d 46.1%,#21c1b0 51.2%,#01b9c6 52.3%,#20a4e3 54.3%,#2699e9 56.2%,#14b0d8 58.9%,#03b7cc 59.7%,#02bac4 60.1%,#2bc3a8 60.9%,#3fca8e 61.3%,#82cc58 62.1%,#adc638 63.2%,#d4bf28 65.2%,#fabb3d 68.7%,#f8da2b 81.1%,#f5e526 99.8%)"></i><i style="top:24.1px;background:linear-gradient(90deg,#f5e526 0.2%,#f7db2a 13.0%,#fbbc3d 21.6%,#d5be28 26.7%,#b1c635 28.6%,#48cb86 32.9%,#38c896 36.0%,#54cc7d 41.8%,#54cc7d 46.1%,#21c1b0 51.2%,#01b9c6 52.3%,#20a4e3 54.3%,#2699e9 56.2%,#14b0d8 58.9%,#03b7cc 59.7%,#02bac4 60.1%,#2ac3a9 60.9%,#3eca8f 61.3%,#81cc58 62.1%,#acc738 63.2%,#d4bf27 65.2%,#fabb3d 68.7%,#f8da2b 81.1%,#f5e526 99.8%)"></i><i style="top:28.1px;background:linear-gradient(90deg,#f5e526 0.2%,#f7db2a 13.0%,#fbbc3d 21.6%,#d5be28 26.7%,#b1c635 28.6%,#47cb87 32.9%,#37c897 35.6%,#54cc7d 41.8%,#54cc7d 46.1%,#21c1b0 51.2%,#01b9c6 52.3%,#20a4e3 54.3%,#2699e9 56.2%,#14b0d8 58.9%,#03b7cc 59.7%,#02bac4 60.1%,#2ac3a9 60.9%,#3dc990 61.3%,#80cc59 62.1%,#a1c840 62.8%,#cdc028 64.8%,#f4ba3a 67.9%,#fec438 71.8%,#f5e228 87.7%,#f5e526 99.8%)"></i><i style="top:32.2px;background:linear-gradient(90deg,#f5e526 0.2%,#f7db2a 13.0%,#fbbc3d 21.6%,#d5be28 26.7%,#b1c635 28.6%,#46cb87 32.9%,#37c897 35.6%,#54cc7d 41.8%,#54cc7d 46.1%,#21c1b0 51.2%,#01b9c6 52.3%,#20a4e3 54.3%,#2699e9 56.2%,#14b0d8 58.9%,#03b7cc 59.7%,#02bac4 60.1%,#2ac3a9 60.9%,#3dc991 61.3%,#7fcc5a 62.1%,#a0c841 62.8%,#cdc028 64.8%,#fabb3d 68.7%,#f8da2b 81.1%,#f5e526 99.8%)"></i><i style="top:36.2px;background:linear-gradient(90deg,#f5e526 0.2%,#f7db2a 13.0%,#fbbc3d 21.6%,#d5be28 26.7%,#b1c635 28.6%,#46cb88 32.9%,#37c898 35.6%,#53cc7d 41.4%,#54cc7d 46.1%,#21c1b0 51.2%,#01b9c6 52.3%,#20a4e3 54.3%,#2699e9 56.2%,#14b0d8 58.9%,#03b7cc 59.7%,#02bac4 60.1%,#29c3a9 60.9%,#3cc991 61.3%,#7dcc5b 62.1%,#9fc941 62.8%,#ccc028 64.8%,#f7ba3c 68.3%,#fec934 73.7%,#f5e227 88.5%,#f5e526 99.8%)"></i><i style="top:40.2px;background:linear-gradient(90deg,#f5e526 0.2%,#f7db2a 13.0%,#fbbc3d 21.6%,#d5be28 26.7%,#b1c635 28.6%,#45cb89 32.9%,#37c898 35.6%,#53cc7d 41.4%,#54cc7d 46.1%,#21c1b0 51.2%,#01b9c6 52.3%,#20a4e3 54.3%,#2699e9 56.2%,#14b0d8 58.9%,#03b7cb 59.7%,#02bac4 60.1%,#29c3aa 60.9%,#3bc992 61.3%,#7ccc5c 62.1%,#9fc942 62.8%,#ccc028 64.8%,#f0ba36 67.5%,#febf3b 70.2%,#f5e228 87.4%,#f5e426 99.8%)"></i><i style="top:44.2px;background:linear-gradient(90deg,#f5e526 0.2%,#f7db2a 13.0%,#fbbc3d 21.6%,#d5be28 26.7%,#b1c635 28.6%,#45cb89 32.9%,#36c898 35.6%,#53cc7d 41.4%,#54cc7d 46.1%,#21c1b0 51.2%,#01b9c6 52.3%,#20a4e3 54.3%,#2699e9 56.2%,#14b0d8 58.9%,#03b7cb 59.7%,#02bac4 60.1%,#29c3aa 60.9%,#3bc993 61.3%,#7bcc5d 62.1%,#9ec942 62.8%,#cbc029 64.8%,#ecba32 67.1%,#fdbd3d 69.5%,#f5e228 87.4%,#f5e426 99.8%)"></i><i style="top:48.3px;background:linear-gradient(90deg,#f5e526 0.2%,#f7db2a 13.0%,#fbbc3d 21.6%,#d5be28 26.7%,#b1c635 28.6%,#44cb8a 32.9%,#36c898 35.6%,#53cc7d 41.4%,#54cc7d 46.1%,#21c1b0 51.2%,#01b9c6 52.3%,#20a4e3 54.3%,#2699e9 56.2%,#14b0d8 58.9%,#02b7cb 59.7%,#02bac4 60.1%,#28c3aa 60.9%,#3ac994 61.3%,#7acc5e 62.1%,#9dc943 62.8%,#cbc129 64.8%,#ebba32 67.1%,#fdbd3d 69.5%,#f5e228 87.4%,#f5e426 99.8%)"></i><i style="top:52.3px;background:linear-gradient(90deg,#f5e526 0.2%,#f7db2a 13.0%,#fbbc3d 21.6%,#d5be28 26.7%,#b1c635 28.6%,#43ca8a 32.9%,#36c899 35.6%,#53cc7d 41.4%,#54cc7d 46.1%,#21c1b0 51.2%,#01b9c6 52.3%,#20a4e3 54.3%,#2699e9 56.2%,#14b0d8 58.9%,#02b7cb 59.7%,#02bac4 60.1%,#28c3ab 60.9%,#39c994 61.3%,#79cc5f 62.1%,#9cc943 62.8%,#cac129 64.8%,#ebba31 67.1%,#fcbd3d 69.5%,#f5e228 87.4%,#f5e426 99.8%)"></i><i style="top:56.3px;background:linear-gradient(90deg,#f5e526 0.2%,#f7db2a 13.0%,#fbbc3d 21.6%,#d5be28 26.7%,#b1c635 28.6%,#43ca8b 32.9%,#36c799 35.6%,#53cc7d 41.4%,#54cc7d 46.1%,#21c1b0 51.2%,#01b9c6 52.3%,#20a4e3 54.3%,#2699e9 56.2%,#14b0d8 58.9%,#02b7cb 59.7%,#02bac4 60.1%,#28c2ab 60.9%,#39c895 61.3%,#77cc60 62.1%,#9cc944 62.8%,#cac129 64.8%,#ebba31 67.1%,#fcbd3d 69.5%,#f5e228 87.4%,#f5e426 99.8%)"></i><i style="top:60.3px;background:linear-gradient(90deg,#f5e526 0.2%,#f7db2a 13.0%,#fbbc3d 21.6%,#d5be28 26.7%,#b1c635 28.6%,#42ca8b 32.9%,#35c79a 35.6%,#53cc7d 41.4%,#54cc7d 46.1%,#21c1b0 51.2%,#01b9c6 52.3%,#20a4e3 54.3%,#2699e9 56.2%,#14b0d8 58.9%,#02b7cb 59.7%,#02bac4 60.1%,#27c2ab 60.9%,#38c896 61.3%,#76cc61 62.1%,#9bc945 62.8%,#cac129 64.8%,#eaba31 67.1%,#fcbd3d 69.5%,#f5e228 87.4%,#f5e426 99.8%)"></i><i style="top:64.3px;background:linear-gradient(90deg,#f5e526 0.2%,#f7db2a 13.0%,#fbbc3d 21.6%,#d5be28 26.7%,#b1c635 28.6%,#41ca8c 32.9%,#35c79a 35.6%,#53cc7d 41.4%,#54cc7d 46.1%,#21c1b0 51.2%,#01b9c6 52.3%,#20a4e3 54.3%,#2699e9 56.2%,#13b0d8 58.9%,#02b7cb 59.7%,#02bac4 60.1%,#27c2ac 60.9%,#37c897 61.3%,#74cc62 62.1%,#9ac945 62.8%,#c9c129 64.8%,#eeba34 67.5%,#fdbd3d 69.8%,#f5e128 87.0%,#f5e426 99.8%)"></i><i style="top:68.4px;background:linear-gradient(90deg,#f5e526 0.2%,#f7db2a 13.0%,#fbbc3d 21.6%,#d5be28 26.7%,#b1c635 28.6%,#40ca8d 32.9%,#35c79a 35.6%,#53cc7d 41.4%,#54cc7d 46.1%,#21c1b0 51.2%,#01b9c6 52.3%,#20a4e3 54.3%,#2699e9 56.2%,#13b0d7 58.9%,#02b7cb 59.7%,#02bac4 60.1%,#27c2ac 60.9%,#37c897 61.3%,#72cd63 62.1%,#99c946 62.8%,#c9c129 64.8%,#eeba34 67.5%,#fdbd3d 69.8%,#f5e128 87.0%,#f5e426 99.8%)"></i><i style="top:72.4px;background:linear-gradient(90deg,#f5e526 0.2%,#f7db2a 13.0%,#fbbc3d 21.6%,#d5be28 26.7%,#b1c635 28.6%,#40ca8d 32.9%,#35c79b 35.6%,#53cc7d 41.4%,#54cc7d 46.1%,#21c1b0 51.2%,#01b9c6 52.3%,#20a4e3 54.3%,#2699e9 56.2%,#13b0d7 58.9%,#02b7cb 59.7%,#02bac4 60.1%,#26c2ac 60.9%,#36c898 61.3%,#88cb53 62.5%,#b8c431 64.0%,#dbbd28 66.0%,#fcbc3d 69.5%,#f5e228 87.7%,#f5e426 99.8%)"></i><i style="top:76.4px;background:linear-gradient(90deg,#f5e526 0.2%,#f7db2a 13.0%,#fbbc3d 21.6%,#d5be28 26.7%,#b1c635 28.6%,#3fca8e 32.9%,#34c79b 35.6%,#53cc7d 41.4%,#54cc7d 46.1%,#21c1b0 51.2%,#01b9c6 52.3%,#20a4e3 54.3%,#2699e9 56.2%,#13b0d7 58.9%,#02b7cb 59.7%,#02bac4 60.1%,#36c799 61.3%,#87cb54 62.5%,#b7c532 64.0%,#dabd28 66.0%,#fcbc3d 69.5%,#f5e128 87.4%,#f5e426 99.8%)"></i><i style="top:80.4px;background:linear-gradient(90deg,#f5e526 0.2%,#f7db2a 13.0%,#fbbc3d 21.6%,#d5be28 26.7%,#b1c635 28.6%,#3eca8f 32.9%,#34c79b 35.6%,#53cc7d 41.4%,#54cc7d 46.1%,#21c1b0 51.2%,#01b9c6 52.3%,#20a4e3 54.3%,#2699e9 56.2%,#13b0d7 58.9%,#02b7cb 59.7%,#02bac4 60.1%,#35c79a 61.3%,#85cb55 62.5%,#b6c532 64.0%,#dabd28 66.0%,#fbbc3d 69.5%,#f5e128 87.4%,#f5e426 99.8%)"></i><i style="top:84.4px;background:linear-gradient(90deg,#f5e526 0.2%,#f7db2a 13.0%,#fbbc3d 21.6%,#d5be28 26.7%,#b1c635 28.6%,#44cb89 32.5%,#34c79c 34.8%,#40ca8d 37.9%,#54cc7d 41.8%,#54cc7d 46.1%,#21c1b0 51.2%,#01b9c6 52.3%,#20a4e3 54.3%,#2699e9 56.2%,#13b0d7 58.9%,#02b7cb 59.7%,#02bac3 60.1%,#35c79b 61.3%,#83cc57 62.5%,#b5c533 64.0%,#d9be28 66.0%,#fbbc3d 69.5%,#f5e228 88.1%,#f5e426 99.8%)"></i><i style="top:88.5px;background:linear-gradient(90deg,#f5e526 0.2%,#f7db2a 13.0%,#fbbc3d 21.6%,#d5be28 26.7%,#b1c636 28.6%,#64cd6f 31.3%,#3dca90 32.9%,#33c69d 35.2%,#52cc7e 41.1%,#54cc7d 46.1%,#21c1b0 51.2%,#01b9c6 52.3%,#20a4e3 54.3%,#2699e9 56.2%,#13b0d7 58.9%,#02b7cb 59.7%,#02bac3 60.1%,#34c79b 61.3%,#82cc58 62.5%,#b4c533 64.0%,#d8be28 66.0%,#fbbc3d 69.5%,#f5e128 87.7%,#f5e426 99.8%)"></i><i style="top:92.5px;background:linear-gradient(90deg,#f5e526 0.2%,#f7db2a 13.0%,#fbbc3d 21.6%,#d5be28 26.7%,#b1c636 28.6%,#43ca8b 32.5%,#33c69e 34.8%,#53cc7d 41.4%,#54cc7c 46.1%,#21c1b0 51.2%,#01b9c6 52.3%,#20a4e3 54.3%,#2699e9 56.2%,#13b0d7 58.9%,#02b7cb 59.7%,#02bac4 60.1%,#33c79c 61.3%,#80cc5a 62.5%,#b3c534 64.0%,#d2bf27 65.6%,#fbbc3d 69.5%,#f5e228 88.5%,#f5e426 99.8%)"></i><i style="top:96.5px;background:linear-gradient(90deg,#f5e526 0.2%,#f7db2a 13.0%,#fbbc3d 21.6%,#d5be28 26.7%,#b0c636 28.6%,#62cd71 31.3%,#3cc991 32.9%,#32c69e 35.2%,#52cc7e 41.1%,#54cc7c 46.1%,#21c1b0 51.2%,#01b9c6 52.3%,#20a4e3 54.3%,#2699e9 56.2%,#13b0d7 58.9%,#02b7cb 59.7%,#02bac4 60.1%,#33c69e 61.3%,#63cd6f 62.1%,#8fca4d 62.8%,#c3c22b 64.8%,#e6bb2d 67.1%,#fcbd3d 69.8%,#f5e228 88.9%,#f5e426 99.8%)"></i><i style="top:100.5px;background:linear-gradient(90deg,#f5e526 0.2%,#f7db2a 13.0%,#fbbc3d 21.6%,#d5be28 26.7%,#b0c636 28.6%,#41ca8d 32.5%,#32c69f 35.2%,#53cc7d 41.4%,#55cc7c 46.1%,#21c1b0 51.2%,#01b9c6 52.3%,#20a4e3 54.3%,#2699e9 56.2%,#13b0d7 58.9%,#02b7cb 59.7%,#02bac4 60.1%,#31c69f 61.3%,#60cd72 62.1%,#8dcb4f 62.8%,#bac430 64.4%,#dcbd29 66.3%,#fcbc3d 69.8%,#f5e128 88.1%,#f5e427 99.8%)"></i><i style="top:104.6px;background:linear-gradient(90deg,#f5e526 0.2%,#f7db2a 13.0%,#fbbc3d 21.6%,#d5be28 26.7%,#afc636 28.6%,#3fca8e 32.5%,#31c6a0 35.2%,#52cc7e 41.1%,#58cc79 45.7%,#21c1b0 51.2%,#01b9c6 52.3%,#20a4e3 54.3%,#2699e9 56.2%,#14b0d8 58.9%,#03b7cc 59.7%,#02bac4 60.1%,#0cbdbc 60.5%,#30c5a1 61.3%,#41ca8c 61.7%,#8bcb51 62.8%,#c1c32c 64.8%,#e5bb2c 67.1%,#fcbc3d 69.8%,#f5e128 88.5%,#f5e427 99.8%)"></i><i style="top:108.6px;background:linear-gradient(90deg,#f5e526 0.2%,#f7db2a 13.0%,#fbbc3d 21.6%,#d5be28 26.7%,#b8c431 28.2%,#6bcd69 30.9%,#3eca8f 32.5%,#31c6a0 35.2%,#53cc7d 41.4%,#56cc7b 46.1%,#21c1b0 51.2%,#01b9c6 52.3%,#20a4e3 54.3%,#2698ea 56.2%,#14b0d8 58.9%,#03b7cc 59.7%,#0bbdbc 60.5%,#3eca8f 61.7%,#88cb53 62.8%,#b7c532 64.4%,#dabd28 66.3%,#fbbc3d 69.8%,#f5e228 89.3%,#f5e427 99.8%)"></i><i style="top:112.6px;background:linear-gradient(90deg,#f5e526 0.2%,#f7db2a 13.0%,#fbbc3d 21.6%,#d5be28 26.7%,#b7c532 28.2%,#77cc60 30.5%,#3eca90 32.5%,#30c5a1 35.2%,#53cc7d 41.4%,#57cc7a 46.1%,#22c1b0 51.2%,#01bac5 52.3%,#20a4e3 54.3%,#2798ea 56.2%,#15afd8 58.9%,#01bac5 60.1%,#0abdbd 60.5%,#3cc991 61.7%,#85cb55 62.8%,#b5c533 64.4%,#d9be28 66.3%,#fbbc3d 69.8%,#f5e128 88.9%,#f5e427 99.8%)"></i><i style="top:116.6px;background:linear-gradient(90deg,#f5e526 0.2%,#f7db2a 13.0%,#fbbc3d 21.6%,#d4bf28 26.7%,#adc638 28.6%,#68cd6c 30.9%,#3dc991 32.5%,#30c5a2 35.2%,#53cc7d 41.4%,#58cc79 46.1%,#22c1b0 51.2%,#01bac5 52.3%,#23a0e5 54.7%,#2798ea 56.2%,#15afd9 58.9%,#01b9c6 60.1%,#09bdbe 60.5%,#3ac994 61.7%,#82cc58 62.8%,#b3c534 64.4%,#d2bf27 66.0%,#fabc3d 69.8%,#f8da2b 83.5%,#f5e427 99.8%)"></i><i style="top:120.6px;background:linear-gradient(90deg,#f5e526 0.2%,#f7db2a 13.0%,#fbbc3d 21.6%,#d4bf28 26.7%,#acc738 28.6%,#42ca8b 32.1%,#31c6a0 34.0%,#33c69d 36.4%,#51cc7e 41.1%,#5acc77 45.7%,#22c1b0 51.2%,#01bac5 52.3%,#23a0e5 54.7%,#2798ea 56.2%,#16afd9 58.9%,#01b9c6 60.1%,#08bcbf 60.5%,#38c896 61.7%,#7ecc5a 62.8%,#b1c635 64.4%,#d6be28 66.3%,#fcbc3d 70.2%,#f5e128 89.3%,#f5e427 99.8%)"></i><i style="top:124.7px;background:linear-gradient(90deg,#f5e526 0.2%,#f7db2a 13.0%,#fbbc3d 21.6%,#d4bf27 26.7%,#abc739 28.6%,#40ca8d 32.1%,#2ec5a4 34.8%,#53cc7d 41.4%,#5acc78 46.1%,#22c1af 51.2%,#02bac5 52.3%,#23a0e5 54.7%,#2699e9 56.6%,#16aeda 58.9%,#01b9c7 60.1%,#07bcbf 60.5%,#36c799 61.7%,#7bcc5d 62.8%,#a5c83d 64.0%,#cfc028 66.0%,#fabb3d 69.8%,#f8da2b 83.9%,#f5e427 99.8%)"></i><i style="top:128.7px;background:linear-gradient(90deg,#f5e526 0.2%,#f7db2a 13.0%,#fbbc3d 21.6%,#d3bf27 26.7%,#aac73a 28.6%,#3fca8e 32.1%,#2ec4a5 34.8%,#54cc7c 41.8%,#5bcc77 46.1%,#23c1af 51.2%,#02bac5 52.3%,#23a0e5 54.7%,#2699e9 56.6%,#17aeda 58.9%,#01b9c8 60.1%,#06bcc0 60.5%,#34c79b 61.7%,#89cb52 63.2%,#c0c32d 65.2%,#e3bb2c 67.5%,#fbbc3d 70.2%,#f5e128 90.1%,#f5e427 99.8%)"></i><i style="top:132.7px;background:linear-gradient(90deg,#f5e526 0.2%,#f7db2a 13.0%,#fbbc3d 21.6%,#d3bf27 26.7%,#a9c73a 28.6%,#3eca90 32.1%,#2dc4a6 34.8%,#54cc7c 41.8%,#5ccc76 46.1%,#23c1af 51.2%,#02bac5 52.3%,#23a0e5 54.7%,#2798ea 56.6%,#11b1d5 59.3%,#01b8c8 60.1%,#05bbc1 60.5%,#32c69e 61.7%,#86cb55 63.2%,#b5c533 64.8%,#d8be28 66.7%,#fcbc3d 70.6%,#f6e128 89.7%,#f5e427 99.8%)"></i><i style="top:136.7px;background:linear-gradient(90deg,#f5e526 0.2%,#f7db2a 13.0%,#fbbc3d 21.6%,#d8be28 26.3%,#bbc42f 27.8%,#79cc5e 30.2%,#3cc991 32.1%,#2cc4a7 34.8%,#54cc7c 41.8%,#5dcc75 46.1%,#23c1af 51.2%,#02bac4 52.3%,#20a5e2 54.3%,#2796eb 56.2%,#18addb 58.9%,#01b8c9 60.1%,#04bbc2 60.5%,#31c6a0 61.7%,#3eca8f 62.1%,#82cc57 63.2%,#b3c534 64.8%,#d7be28 66.7%,#fbbc3d 70.6%,#f5e128 90.5%,#f5e427 99.8%)"></i><i style="top:140.7px;background:linear-gradient(90deg,#f5e526 0.2%,#f7db2a 13.0%,#fbbc3d 21.6%,#d7be28 26.3%,#b1c635 28.2%,#5bcc77 30.9%,#3bc992 32.1%,#2bc3a8 34.8%,#54cc7d 41.8%,#5ecc74 46.1%,#24c1af 51.2%,#02bac4 52.3%,#20a5e2 54.3%,#2896ec 56.2%,#19addc 58.9%,#01b8ca 60.1%,#0fbeba 60.9%,#3cc991 62.1%,#7fcc5a 63.2%,#b1c635 64.8%,#d6be28 66.7%,#fbbc3d 70.6%,#f6e128 90.5%,#f5e427 99.8%)"></i><i style="top:144.8px;background:linear-gradient(90deg,#f5e526 0.2%,#f7db2a 13.0%,#fbbc3d 21.6%,#d7be28 26.3%,#b0c636 28.2%,#58cc79 30.9%,#3ac994 32.1%,#2ac3a8 34.8%,#55cc7b 42.2%,#5ecd74 46.1%,#24c1ae 51.2%,#02bac4 52.3%,#23a0e5 54.7%,#2797eb 56.6%,#13b0d7 59.3%,#02b7cb 60.1%,#02bac4 60.5%,#2ec4a4 61.7%,#4ecc82 62.5%,#8ccb50 63.6%,#c1c32c 65.6%,#e4bb2c 67.9%,#fcbd3d 71.0%,#f5e128 91.2%,#f5e427 99.8%)"></i><i style="top:148.8px;background:linear-gradient(90deg,#f5e526 0.2%,#f7db2b 13.0%,#fbbc3d 21.6%,#d7be28 26.3%,#b8c431 27.8%,#71cd64 30.2%,#3eca8f 31.7%,#2ac3a9 34.4%,#38c896 37.9%,#55cc7b 42.2%,#60cd72 45.7%,#4ecc81 47.7%,#24c1ae 51.2%,#02bac4 52.3%,#0cb3d3 53.1%,#23a1e5 54.7%,#2796eb 56.6%,#14b0d8 59.3%,#03b7cc 60.1%,#0bbdbc 60.9%,#37c897 62.1%,#89cb53 63.6%,#bfc32d 65.6%,#debd29 67.5%,#fcbc3d 71.0%,#f6e128 90.9%,#f5e427 99.8%)"></i><i style="top:152.8px;background:linear-gradient(90deg,#f5e526 0.2%,#f7db2b 13.0%,#fbbc3d 21.6%,#d6be28 26.3%,#b7c532 27.8%,#6fcd66 30.2%,#3dc990 31.7%,#29c3aa 34.4%,#37c897 37.9%,#57cc7a 42.6%,#60cd72 46.1%,#25c2ae 51.2%,#02bac3 52.3%,#0bb3d2 53.1%,#23a1e5 54.7%,#2896ec 56.6%,#15afd9 59.3%,#01bac5 60.5%,#35c79a 62.1%,#85cb55 63.6%,#bdc32e 65.6%,#ddbd29 67.5%,#fbbc3d 71.0%,#f6e128 91.2%,#f5e427 99.8%)"></i><i style="top:156.8px;background:linear-gradient(90deg,#f5e526 0.2%,#f7db2b 13.0%,#fbbc3d 21.6%,#d6be28 26.3%,#b6c532 27.8%,#6ccd68 30.2%,#3bc992 31.7%,#28c2ab 34.4%,#37c897 37.9%,#57cc7a 42.6%,#61cd72 46.1%,#2bc3a8 50.8%,#02bbc3 52.3%,#0bb3d2 53.1%,#23a1e4 54.7%,#2895ec 56.6%,#16afd9 59.3%,#01b9c6 60.5%,#19bfb5 61.3%,#42ca8b 62.5%,#82cc58 63.6%,#bbc42f 65.6%,#dbbd29 67.5%,#fbbc3d 71.0%,#f5e128 92.0%,#f5e327 99.8%)"></i><i style="top:160.9px;background:linear-gradient(90deg,#f5e526 0.2%,#f7db2b 13.0%,#fbbc3d 21.6%,#dabd28 25.9%,#bec32e 27.4%,#78cc5f 29.8%,#41ca8c 31.3%,#2bc3a8 33.7%,#2bc3a8 36.0%,#53cc7d 41.8%,#62cd71 45.7%,#51cc7f 47.7%,#25c2ad 51.2%,#02bbc3 52.3%,#0bb4d2 53.1%,#23a1e4 54.7%,#2895ec 56.6%,#17aeda 59.3%,#01b9c7 60.5%,#16bfb7 61.3%,#3fca8e 62.5%,#8ecb4e 64.0%,#c2c22c 66.0%,#e4bb2c 68.3%,#fcbc3d 71.4%,#f6e128 92.0%,#f5e327 99.8%)"></i><i style="top:164.9px;background:linear-gradient(90deg,#f5e526 0.2%,#f7db2b 13.0%,#fbbc3d 21.6%,#d5be28 26.3%,#b3c534 27.8%,#66cd6d 30.2%,#38c896 31.7%,#25c2ad 34.8%,#57cc7a 42.6%,#62cd71 46.1%,#36c898 49.6%,#25c2ad 51.2%,#03bbc3 52.3%,#01b7ca 52.7%,#1fa6e2 54.3%,#2994ec 56.6%,#18aedb 59.3%,#01b8c8 60.5%,#14beb8 61.3%,#51cc7f 62.8%,#8ccb50 64.0%,#c0c32d 66.0%,#e3bc2c 68.3%,#fcbc3d 71.4%,#f6e128 92.0%,#f5e327 99.8%)"></i><i style="top:168.9px;background:linear-gradient(90deg,#f5e526 0.2%,#f7db2b 13.0%,#fbbc3d 21.6%,#d4bf28 26.3%,#b2c635 27.8%,#63cd6f 30.2%,#3dc990 31.3%,#26c2ad 34.0%,#30c5a1 37.2%,#53cc7d 41.8%,#62cd71 46.1%,#4ccb83 48.1%,#25c2ad 51.2%,#03bbc2 52.3%,#01b8ca 52.7%,#1fa6e2 54.3%,#2994ed 56.6%,#18addb 59.3%,#01b8c9 60.5%,#04bbc1 60.9%,#2fc5a2 62.1%,#4dcc82 62.8%,#89cb52 64.0%,#bfc32e 66.0%,#ddbd29 67.9%,#fbbc3d 71.4%,#f6e128 92.4%,#f5e327 99.8%)"></i><i style="top:172.9px;background:linear-gradient(90deg,#f5e526 0.2%,#f7db2b 13.0%,#fbbc3d 21.6%,#d4bf28 26.3%,#b1c636 27.8%,#60cd72 30.2%,#3bc992 31.3%,#24c2ae 34.0%,#2ec4a5 36.8%,#53cc7d 41.8%,#62cd70 46.1%,#4ccb82 48.1%,#26c2ad 51.2%,#03bbc2 52.3%,#09b4d1 53.1%,#1fa6e2 54.3%,#2994ed 56.6%,#19addc 59.3%,#01b8ca 60.5%,#03bbc2 60.9%,#39c895 62.5%,#86cb54 64.0%,#bdc32e 66.0%,#dcbd29 67.9%,#fbbc3d 71.4%,#f5e128 92.8%,#f5e327 99.8%)"></i><i style="top:176.9px;background:linear-gradient(90deg,#f5e526 0.2%,#f7db2b 13.0%,#fbbc3d 21.6%,#d4bf27 26.3%,#afc636 27.8%,#42ca8b 30.9%,#2cc4a7 32.9%,#22c1af 35.2%,#57cc7a 42.6%,#61cd71 46.5%,#1dc0b3 51.6%,#04bbc2 52.3%,#01b8ca 52.7%,#1fa6e1 54.3%,#2a93ed 56.6%,#19acdc 59.3%,#02b7ca 60.5%,#02bbc3 60.9%,#37c898 62.5%,#84cc56 64.0%,#bcc42f 66.0%,#dbbd29 67.9%,#fcbc3d 71.8%,#f6e128 92.8%,#f5e327 99.8%)"></i><i style="top:181.0px;background:linear-gradient(90deg,#f5e526 0.2%,#f7db2b 13.0%,#fbbc3d 21.6%,#d9be28 25.9%,#b9c431 27.4%,#6acd6a 29.8%,#3fca8e 30.9%,#27c2ac 33.3%,#21c1b0 35.2%,#59cc78 43.0%,#61cd71 46.5%,#1dc0b3 51.6%,#04bbc2 52.3%,#01b8c9 52.7%,#1ea6e1 54.3%,#2a93ed 56.6%,#1aacdd 59.3%,#02b7cb 60.5%,#0cbdbc 61.3%,#44cb89 62.8%,#81cc58 64.0%,#bac430 66.0%,#dabd28 67.9%,#fcbc3d 71.8%,#f6e128 93.2%,#f5e327 99.8%)"></i><i style="top:185.0px;background:linear-gradient(90deg,#f5e526 0.2%,#f7db2b 13.0%,#fbbc3d 21.6%,#d8be28 25.9%,#b7c532 27.4%,#66cd6d 29.8%,#3dc990 30.9%,#25c2ad 33.3%,#1fc0b2 35.2%,#59cc78 43.0%,#61cd71 46.5%,#1dc0b3 51.6%,#04bbc1 52.3%,#08b4d1 53.1%,#22a2e4 54.7%,#2a93ee 56.6%,#15afd9 59.7%,#03b7cc 60.5%,#0bbdbd 61.3%,#42ca8c 62.8%,#8ecb4f 64.4%,#c1c32c 66.3%,#e3bc2c 68.7%,#fbbc3d 71.8%,#f5e128 93.6%,#f5e327 99.8%)"></i><i style="top:189.0px;background:linear-gradient(90deg,#f5e526 0.2%,#f8db2b 13.0%,#fabb3d 22.0%,#d2bf27 26.3%,#aac73a 27.8%,#3bc993 30.9%,#20c1b1 33.7%,#20c1b1 35.6%,#58cc79 43.0%,#61cd71 46.5%,#1ec0b2 51.6%,#05bbc1 52.3%,#01b8c9 52.7%,#1ea7e1 54.3%,#2a92ee 56.6%,#16afd9 59.7%,#01bac5 60.9%,#33c69d 62.5%,#54cc7d 63.2%,#8ccb50 64.4%,#c0c32d 66.3%,#e2bc2b 68.7%,#fcbd3d 72.2%,#f6e128 93.6%,#f5e327 99.8%)"></i><i style="top:193.0px;background:linear-gradient(90deg,#f5e526 0.2%,#f8da2b 13.0%,#fabb3d 22.0%,#d7be28 25.9%,#b4c534 27.4%,#6fcd66 29.4%,#38c896 30.9%,#1ac0b5 34.0%,#25c2ad 36.4%,#5ccc75 43.8%,#5fcd73 46.9%,#1ec0b2 51.6%,#05bbc1 52.3%,#07b5d0 53.1%,#1ea7e1 54.3%,#2b92ee 56.6%,#16afda 59.7%,#01b9c6 60.9%,#32c69f 62.5%,#51cc7f 63.2%,#89cb52 64.4%,#bec32e 66.3%,#ddbd29 68.3%,#fcbd3d 72.2%,#f5e128 94.4%,#f5e327 99.8%)"></i><i style="top:197.0px;background:linear-gradient(90deg,#f5e526 0.2%,#f8da2b 13.0%,#fabb3d 22.0%,#d7be28 25.9%,#bdc32e 27.0%,#7bcc5d 29.0%,#3eca8f 30.5%,#27c2ab 32.5%,#16bfb7 34.8%,#62cd71 44.9%,#5ccc76 47.3%,#1fc0b2 51.6%,#01b8c8 52.7%,#22a2e4 54.7%,#2b92ee 56.6%,#17aeda 59.7%,#01b9c6 60.9%,#17bfb6 61.7%,#4ecc81 63.2%,#87cb54 64.4%,#bdc32f 66.3%,#dcbd29 68.3%,#fcbc3d 72.2%,#f6e128 94.0%,#f5e327 99.8%)"></i><i style="top:201.1px;background:linear-gradient(90deg,#f5e526 0.2%,#f8da2b 13.0%,#fabb3d 22.0%,#d6be28 25.9%,#b0c636 27.4%,#46cb87 30.2%,#30c5a1 31.3%,#13beb9 34.4%,#62cd70 45.3%,#5ccc76 47.3%,#1fc0b2 51.6%,#01b9c8 52.7%,#21a2e4 54.7%,#2a93ee 57.0%,#18aedb 59.7%,#01b9c7 60.9%,#16bfb7 61.7%,#4bcb84 63.2%,#92ca4b 64.8%,#c3c22b 66.7%,#e4bb2c 69.1%,#fcbc3d 72.2%,#f6e128 94.4%,#f5e327 99.8%)"></i><i style="top:205.1px;background:linear-gradient(90deg,#f5e526 0.2%,#f8da2b 13.0%,#fabb3d 22.0%,#d5be28 25.9%,#bac430 27.0%,#73cd63 29.0%,#38c896 30.5%,#19bfb5 33.3%,#10beba 34.8%,#62cd70 45.3%,#5ccc75 47.3%,#1fc1b1 51.6%,#01b9c7 52.7%,#21a3e4 54.7%,#2a92ee 57.0%,#18addb 59.7%,#01b9c7 60.9%,#06bcc0 61.3%,#39c895 62.8%,#90ca4d 64.8%,#c2c22c 66.7%,#e3bc2c 69.1%,#fbbc3d 72.2%,#f6e128 94.7%,#f5e227 99.8%)"></i><i style="top:209.1px;background:linear-gradient(90deg,#f5e526 0.2%,#f8da2b 13.0%,#fabb3d 22.0%,#d4be28 25.9%,#b8c431 27.0%,#6ecd67 29.0%,#3eca8f 30.2%,#25c2ae 32.1%,#0dbdbc 34.4%,#37c897 39.9%,#62cd70 45.3%,#5dcc75 47.3%,#20c1b1 51.6%,#01b9c7 52.7%,#21a3e3 54.7%,#2b92ee 57.0%,#19addc 59.7%,#01b8c8 60.9%,#14beb8 61.7%,#46cb88 63.2%,#8ecb4e 64.8%,#c1c32c 66.7%,#e7bb2d 69.5%,#fcbd3d 72.6%,#f6e128 94.7%,#f5e227 99.8%)"></i><i style="top:213.1px;background:linear-gradient(90deg,#f5e526 0.2%,#f8da2b 13.0%,#fabb3d 22.0%,#d4bf27 25.9%,#a9c73b 27.4%,#3bc993 30.2%,#22c1af 32.1%,#0abdbd 34.4%,#36c799 39.9%,#62cd70 45.3%,#58cc79 47.7%,#20c1b1 51.6%,#01b9c7 52.7%,#21a3e3 54.7%,#2b91ef 57.0%,#19addc 59.7%,#01b8c8 60.9%,#12beb9 61.7%,#44cb8a 63.2%,#8ccb50 64.8%,#c0c32d 66.7%,#e1bc2b 69.1%,#fcbc3d 72.6%,#f6e128 94.7%,#f5e227 99.8%)"></i><i style="top:217.1px;background:linear-gradient(90deg,#f5e526 0.2%,#f8da2b 13.0%,#fabb3d 22.0%,#d3bf27 25.9%,#a6c83d 27.4%,#38c896 30.2%,#1ac0b5 32.5%,#08bcbf 34.4%,#36c898 40.3%,#62cd70 45.3%,#5dcc75 47.3%,#21c1b0 51.6%,#01b9c6 52.7%,#21a3e3 54.7%,#2b91ef 57.0%,#1aacdd 59.7%,#01b8c9 60.9%,#04bbc1 61.3%,#35c79a 62.8%,#8acb51 64.8%,#bec32e 66.7%,#dcbd29 68.7%,#fcbc3d 72.6%,#f6e128 95.1%,#f5e227 99.8%)"></i><i style="top:221.2px;background:linear-gradient(90deg,#f5e526 0.2%,#f8da2b 13.0%,#fabb3d 22.0%,#d2bf27 25.9%,#a2c83f 27.4%,#3eca8f 29.8%,#27c2ac 31.3%,#06bcc0 34.0%,#13beb8 36.4%,#62cd71 45.3%,#5ecc74 47.3%,#21c1b0 51.6%,#01b9c6 52.7%,#21a4e3 54.7%,#2b91ef 57.0%,#1aacdd 59.7%,#01b8ca 60.9%,#10beba 61.7%,#52cc7e 63.6%,#95ca49 65.2%,#c5c22a 67.1%,#e8bb2f 69.8%,#fbbc3d 72.6%,#f6e128 95.5%,#f5e227 99.8%)"></i><i style="top:225.2px;background:linear-gradient(90deg,#f5e526 0.2%,#f8da2b 13.0%,#fabb3d 22.0%,#d8be28 25.5%,#bbc42f 26.7%,#6ccd69 28.6%,#3bc993 29.8%,#24c1ae 31.3%,#04bbc2 34.0%,#10beba 36.4%,#62cd71 45.3%,#5ecc74 47.3%,#22c1b0 51.6%,#01b9c6 52.7%,#20a4e3 54.7%,#2b90f0 57.0%,#1aabdd 59.7%,#01b8ca 60.9%,#03bbc2 61.3%,#3eca8f 63.2%,#86cb55 64.8%,#bcc42f 66.7%,#dabd28 68.7%,#fbbc3d 72.6%,#f6e128 95.9%,#f5e228 99.8%)"></i><i style="top:229.2px;background:linear-gradient(90deg,#f5e526 0.2%,#f8da2b 13.0%,#fabb3d 22.0%,#d7be28 25.5%,#b9c431 26.7%,#79cc5e 28.2%,#37c897 29.8%,#1bc0b4 31.7%,#02bac3 34.0%,#11beb9 36.8%,#62cd71 45.3%,#59cc78 47.7%,#22c1b0 51.6%,#01bac5 52.7%,#20a4e3 54.7%,#2c90f0 57.0%,#15afd9 60.1%,#02b7cb 60.9%,#02bbc3 61.3%,#3dc990 63.2%,#84cc56 64.8%,#bac430 66.7%,#debc2a 69.1%,#fcbd3d 73.0%,#f6e128 96.3%,#f5e228 99.8%)"></i><i style="top:233.2px;background:linear-gradient(90deg,#f5e526 0.2%,#f8da2b 13.0%,#fbbc3d 21.6%,#dcbd29 25.1%,#c3c22b 26.3%,#86cb55 27.8%,#3eca8f 29.4%,#24c1ae 30.9%,#04bbc2 33.3%,#07bcc0 36.0%,#62cd71 45.3%,#59cc78 47.7%,#22c1af 51.6%,#01bac5 52.7%,#20a4e3 54.7%,#2c90f0 57.0%,#16afd9 60.1%,#02b7cb 60.9%,#02bac3 61.3%,#3cc992 63.2%,#90ca4d 65.2%,#c1c32c 67.1%,#e2bc2b 69.5%,#fcbc3d 73.0%,#f6e028 95.5%,#f5e228 99.8%)"></i><i style="top:237.3px;background:linear-gradient(90deg,#f5e526 0.2%,#f8db2b 12.6%,#fbbc3d 21.6%,#dbbd29 25.1%,#c0c32d 26.3%,#81cc58 27.8%,#3ac993 29.4%,#21c1b0 30.9%,#02bac4 33.3%,#05bbc1 36.0%,#33c69e 40.7%,#62cd71 45.3%,#5acc78 47.7%,#23c1af 51.6%,#02bac5 52.7%,#20a4e3 54.7%,#2c8ff0 57.0%,#16aeda 60.1%,#03b7cc 60.9%,#02bac4 61.3%,#3ac993 63.2%,#8ecb4f 65.2%,#c0c32d 67.1%,#e1bc2b 69.5%,#fcbc3d 73.0%,#f6e028 95.9%,#f5e228 99.8%)"></i><i style="top:241.3px;background:linear-gradient(90deg,#f5e526 0.2%,#f8da2b 12.6%,#fbbc3d 21.6%,#dabd28 25.1%,#bec32e 26.3%,#7ccc5c 27.8%,#43ca8a 29.0%,#2ac3a9 30.2%,#02bbc3 32.9%,#01b9c7 35.2%,#13beb8 37.5%,#62cd71 45.3%,#5acc78 47.7%,#23c1af 51.6%,#02bac5 52.7%,#20a5e3 54.7%,#2c8ff1 57.0%,#17aeda 60.1%,#04b6cd 60.9%,#02bac5 61.3%,#39c895 63.2%,#8ccb50 65.2%,#bec32e 67.1%,#dcbd29 69.1%,#fbbc3d 73.0%,#f6e028 96.3%,#f5e128 99.8%)"></i><i style="top:245.3px;background:linear-gradient(90deg,#f5e526 0.2%,#f8da2b 12.6%,#fbbc3d 21.6%,#dabd28 25.1%,#bbc42f 26.3%,#76cc61 27.8%,#3eca8f 29.0%,#22c1b0 30.5%,#03bbc2 32.5%,#01b8ca 34.8%,#0bbdbd 37.2%,#60cd72 44.9%,#5fcd73 47.3%,#23c1af 51.6%,#02bac5 52.7%,#20a5e3 54.7%,#2c8ff1 57.0%,#18aedb 60.1%,#01bac5 61.3%,#38c896 63.2%,#96ca48 65.6%,#c5c22a 67.5%,#ebba32 70.6%,#fcbd3d 73.3%,#f6e028 96.7%,#f5e128 99.8%)"></i><i style="top:249.3px;background:linear-gradient(90deg,#f5e526 0.2%,#f8d92b 13.0%,#fbbc3d 21.6%,#d9be28 25.1%,#b8c431 26.3%,#5ccc76 28.2%,#3bc993 29.0%,#1fc0b2 30.5%,#02bac4 32.5%,#01b8ca 35.2%,#09bdbe 37.2%,#31c6a0 40.7%,#62cd71 45.3%,#5acc77 47.7%,#23c1af 51.6%,#02bac4 52.7%,#20a5e2 54.7%,#2c8ef1 57.0%,#19addc 60.1%,#01b9c6 61.3%,#44ca8a 63.6%,#95ca49 65.6%,#c4c22b 67.5%,#e7bb2e 70.2%,#fcbc3d 73.3%,#f6e028 96.3%,#f5e128 99.8%)"></i><i style="top:253.3px;background:linear-gradient(90deg,#f5e526 0.2%,#f8d92b 13.0%,#fbbc3d 21.6%,#d7be28 25.1%,#b5c533 26.3%,#44cb8a 28.6%,#29c3a9 29.8%,#02bbc3 32.1%,#04b6cd 34.8%,#08bcbf 37.2%,#5ccc76 44.6%,#61cd71 46.9%,#23c1af 51.6%,#02bac4 52.7%,#20a5e2 54.7%,#2c8ef1 57.0%,#19acdc 60.1%,#01b9c7 61.3%,#42ca8c 63.6%,#93ca4b 65.6%,#c3c22b 67.5%,#e6bb2d 70.2%,#fcbc3d 73.3%,#f6e028 96.7%,#f6e128 99.8%)"></i><i style="top:257.4px;background:linear-gradient(90deg,#f5e526 0.2%,#f8d92b 13.0%,#fbbc3d 21.6%,#ddbd29 24.7%,#c0c32d 25.9%,#79cc5f 27.4%,#3fca8e 28.6%,#20c1b1 30.2%,#04bbc2 31.7%,#07b5d0 34.4%,#03bbc3 36.8%,#31c6a1 40.7%,#62cd71 45.3%,#5acc77 47.7%,#23c1af 51.6%,#02bac4 52.7%,#20a5e2 54.7%,#2c8ef1 57.4%,#1aacdd 60.1%,#01b8c8 61.3%,#40ca8d 63.6%,#91ca4c 65.6%,#c8c129 67.9%,#edba33 71.0%,#fdbd3d 73.7%,#f6e028 97.1%,#f6e128 99.8%)"></i><i style="top:261.4px;background:linear-gradient(90deg,#f5e526 0.2%,#f8d92b 13.0%,#fbbc3d 21.6%,#dcbd29 24.7%,#bdc32e 25.9%,#5ecd74 27.8%,#3bc992 28.6%,#1dc0b3 30.2%,#02bac4 31.7%,#09b4d1 34.4%,#02bac3 36.8%,#31c6a0 40.7%,#62cd71 45.3%,#5acc77 47.7%,#23c1af 51.6%,#02bac4 52.7%,#20a5e2 54.7%,#2c8ef1 57.4%,#1aabdd 60.1%,#01b8c9 61.3%,#13beb8 62.1%,#4fcc81 64.0%,#90ca4d 65.6%,#c0c32d 67.5%,#e1bc2b 69.8%,#fbbc3d 73.3%,#f6e028 96.7%,#f6e128 99.8%)"></i><i style="top:265.4px;background:linear-gradient(90deg,#f5e526 0.2%,#f8d92b 13.0%,#fbbc3d 21.6%,#dbbd29 24.7%,#bac430 25.9%,#45cb89 28.2%,#29c3aa 29.4%,#03bbc2 31.3%,#0cb3d3 34.4%,#02bac4 36.8%,#2ec5a4 40.3%,#62cd70 45.3%,#5bcc77 47.7%,#23c1af 51.6%,#02bac4 52.7%,#20a5e2 54.7%,#2c8ef2 57.0%,#23a1e4 59.3%,#0ab4d1 60.9%,#01b8ca 61.3%,#04bbc2 61.7%,#4ccb83 64.0%,#8ecb4e 65.6%,#bfc32d 67.5%,#e0bc2a 69.8%,#fbbc3d 73.3%,#f6df29 96.7%,#f6e128 99.8%)"></i><i style="top:269.4px;background:linear-gradient(90deg,#f5e526 0.2%,#f8d92b 13.0%,#fbbc3d 21.6%,#dabd28 24.7%,#b6c532 25.9%,#3fca8e 28.2%,#1ec0b2 29.8%,#02bac5 31.3%,#10b2d5 34.4%,#02bac5 36.8%,#2fc5a3 40.3%,#63cd6f 45.3%,#60cd72 47.3%,#23c1af 51.6%,#02bac5 52.7%,#20a5e2 54.7%,#2d8df2 57.4%,#1baade 60.1%,#02b7cb 61.3%,#03bbc2 61.7%,#32c69e 63.2%,#5ccc75 64.4%,#98c947 66.0%,#ccc028 68.3%,#f2ba37 71.8%,#fec03b 75.3%,#f6e028 98.6%,#f6e028 99.8%)"></i><i style="top:273.4px;background:linear-gradient(90deg,#f5e526 0.2%,#f8d92c 13.0%,#fbbc3d 21.6%,#d8be28 24.7%,#b1c635 25.9%,#3ac993 28.2%,#1abfb5 29.8%,#02bac4 30.9%,#14b0d8 34.0%,#01b9c6 36.8%,#2fc5a3 40.3%,#65cd6e 45.3%,#5ccc76 47.7%,#22c1b0 51.6%,#02bac5 52.7%,#20a5e2 54.7%,#2d8df2 57.4%,#16afda 60.5%,#02b7cb 61.3%,#02bac3 61.7%,#49cb86 64.0%,#8bcb51 65.6%,#c4c22a 67.9%,#e7bb2e 70.6%,#fcbc3d 73.7%,#f6df29 97.1%,#f6e028 99.8%)"></i><i style="top:277.5px;background:linear-gradient(90deg,#f5e526 0.2%,#f8d92c 13.0%,#fbbc3d 21.6%,#d7be28 24.7%,#bec32e 25.5%,#83cc57 26.7%,#43ca8a 27.8%,#27c2ac 29.0%,#03bbc2 30.5%,#0bb3d2 32.1%,#16aeda 34.0%,#01b9c7 36.8%,#2fc5a2 40.3%,#65cd6e 44.9%,#62cd70 47.3%,#21c1b0 51.6%,#01bac6 52.7%,#20a5e3 54.7%,#2d8cf3 57.4%,#17aeda 60.5%,#03b7cc 61.3%,#02bac4 61.7%,#47cb87 64.0%,#89cb52 65.6%,#c3c22b 67.9%,#e6bb2d 70.6%,#fabb3d 73.3%,#f8da2b 92.0%,#f6e028 99.8%)"></i><i style="top:281.5px;background:linear-gradient(90deg,#f5e526 0.2%,#f8d92c 13.0%,#fbbc3d 21.6%,#d5be28 24.7%,#bac430 25.5%,#65cd6e 27.0%,#3dc990 27.8%,#23c1af 29.0%,#01bac5 30.5%,#19addc 33.3%,#0cb3d2 35.6%,#02bac3 37.2%,#2dc4a6 39.9%,#4fcc80 43.0%,#68cd6b 45.3%,#64cd6f 47.3%,#20c1b1 51.6%,#01b9c6 52.7%,#20a4e3 54.7%,#2d8cf3 57.4%,#18aedb 60.5%,#04b6cd 61.3%,#02bac5 61.7%,#45cb88 64.0%,#94ca4a 66.0%,#c9c129 68.3%,#edba33 71.4%,#fdbd3d 74.1%,#f6df29 97.5%,#f6e028 99.8%)"></i><i style="top:285.5px;background:linear-gradient(90deg,#f5e526 0.2%,#f8d92c 13.0%,#fbbc3d 21.6%,#dbbd29 24.3%,#c6c22a 25.1%,#8ccb50 26.3%,#47cb87 27.4%,#27c2ac 28.6%,#02bac4 30.2%,#1babde 33.3%,#0eb3d4 35.6%,#01b8c8 36.8%,#31c5a1 40.3%,#69cd6a 44.9%,#65cd6e 47.3%,#20c1b1 51.6%,#01b9c7 52.7%,#20a4e3 54.7%,#2d8bf3 57.4%,#19addb 60.5%,#01bac5 61.7%,#44cb8a 64.0%,#92ca4b 66.0%,#c8c129 68.3%,#ecba33 71.4%,#fcbd3d 74.1%,#f6df29 97.5%,#f6e028 99.8%)"></i><i style="top:289.5px;background:linear-gradient(90deg,#f5e526 0.2%,#f8d92c 13.0%,#fabb3d 21.6%,#d9bd28 24.3%,#c2c22c 25.1%,#84cc56 26.3%,#3fca8e 27.4%,#22c1b0 28.6%,#03bbc2 29.8%,#0ab4d1 30.9%,#1ca9e0 32.9%,#14b0d8 35.2%,#01b8c9 36.8%,#69cd6a 44.6%,#6bcd69 46.9%,#1ec0b2 51.6%,#01b9c7 52.7%,#21a4e3 54.7%,#2d8bf4 57.4%,#19addc 60.5%,#01b9c6 61.7%,#42ca8b 64.0%,#91ca4c 66.0%,#c0c32d 67.9%,#e0bc2b 70.2%,#fbbc3d 73.7%,#f6df29 97.1%,#f6e029 99.8%)"></i><i style="top:293.6px;background:linear-gradient(90deg,#f5e526 0.2%,#f8d92c 13.0%,#fabb3d 21.6%,#d7be28 24.3%,#bdc32e 25.1%,#7ccc5c 26.3%,#4bcb83 27.0%,#27c2ac 28.2%,#01b9c6 29.8%,#1da8e0 32.5%,#15afd9 35.2%,#02bac5 37.2%,#2ec5a3 39.9%,#6ecd66 44.9%,#69cd6b 47.3%,#1dc0b3 51.6%,#05bbc1 52.3%,#07b5cf 53.1%,#21a3e3 54.7%,#2d8bf4 57.4%,#19acdc 60.5%,#01b9c7 61.7%,#41ca8c 64.0%,#8fca4d 66.0%,#c6c22a 68.3%,#ebba32 71.4%,#fdbd3d 74.5%,#f6df29 97.9%,#f6df29 99.8%)"></i><i style="top:297.6px;background:linear-gradient(90deg,#f5e526 0.2%,#f8d92c 13.0%,#fabb3d 21.6%,#debd29 23.9%,#c9c129 24.7%,#8ccb50 25.9%,#43ca8b 27.0%,#22c1b0 28.2%,#02bac4 29.4%,#1ea7e1 32.1%,#1caadf 34.4%,#02bac5 37.2%,#2fc5a3 39.9%,#6fcd66 44.6%,#6bcd69 47.3%,#1cc0b3 51.6%,#04bbc2 52.3%,#07b5d0 53.1%,#21a3e3 54.7%,#2d8af4 57.4%,#1aacdd 60.5%,#01b9c8 61.7%,#3fca8e 64.0%,#8ecb4f 66.0%,#c5c22a 68.3%,#e7bb2e 71.0%,#fcbc3d 74.1%,#f6de29 97.5%,#f6df29 99.8%)"></i><i style="top:301.6px;background:linear-gradient(90deg,#f5e526 0.2%,#f8d92c 13.0%,#fbbc3d 21.2%,#dcbd29 23.9%,#c5c22a 24.7%,#84cb56 25.9%,#3bc992 27.0%,#1bc0b4 28.2%,#04bbc2 29.0%,#06b6ce 29.8%,#1ea7e1 31.7%,#1ea7e1 34.0%,#02bac5 37.2%,#30c5a2 39.9%,#72cd63 44.6%,#71cd64 46.9%,#1bc0b4 51.6%,#03bbc2 52.3%,#08b4d1 53.1%,#1ea7e1 54.3%,#2d8af5 57.4%,#1aabdd 60.5%,#01b8c8 61.7%,#3eca8f 64.0%,#8dcb50 66.0%,#c4c22b 68.3%,#e6bb2d 71.0%,#fbbc3d 74.1%,#f6de29 97.5%,#f6df29 99.8%)"></i><i style="top:305.6px;background:linear-gradient(90deg,#f5e526 0.2%,#f8da2b 12.6%,#fbbc3d 21.2%,#dabd28 23.9%,#c0c32d 24.7%,#7bcc5d 25.9%,#47cb87 26.7%,#21c1b0 27.8%,#01b9c6 29.0%,#1ea7e1 31.3%,#21a3e3 33.7%,#13b0d7 35.6%,#01b8ca 36.8%,#10beba 37.9%,#31c5a1 39.9%,#72cd64 44.2%,#73cd63 46.9%,#31c6a0 50.4%,#1abfb5 51.6%,#02bbc3 52.3%,#09b4d1 53.1%,#22a2e4 54.7%,#2d89f5 57.4%,#1babde 60.5%,#01b8c9 61.7%,#3dc990 64.0%,#8bcb51 66.0%,#bcc42f 67.9%,#debd29 70.2%,#fbbc3d 74.1%,#f6de29 97.5%,#f6df29 99.8%)"></i><i style="top:309.6px;background:linear-gradient(90deg,#f5e526 0.2%,#f7db2b 12.3%,#fbbc3d 21.2%,#d7be28 23.9%,#bbc430 24.7%,#71cd64 25.9%,#3eca8f 26.7%,#1ac0b5 27.8%,#02bac3 28.6%,#08b4d0 29.4%,#1ea7e1 30.9%,#23a0e5 33.3%,#0db3d3 36.0%,#02bac4 37.2%,#2dc4a5 39.5%,#63cd6f 43.0%,#77cc5f 44.6%,#75cc61 46.9%,#31c5a1 50.4%,#19bfb5 51.6%,#02bac4 52.3%,#0ab4d2 53.1%,#22a2e4 54.7%,#2d89f5 57.4%,#1baade 60.5%,#01b8ca 61.7%,#13beb9 62.5%,#4acb84 64.4%,#95ca49 66.3%,#c9c129 68.7%,#ecba33 71.8%,#fcbd3d 74.5%,#f6de29 97.9%,#f6df29 99.8%)"></i><i style="top:313.7px;background:linear-gradient(90deg,#f5e526 0.2%,#f7db2b 12.3%,#fcbd3d 20.8%,#eaba31 22.8%,#d5be28 23.9%,#b5c533 24.7%,#4bcb83 26.3%,#2dc4a6 27.0%,#06bcc0 28.2%,#05b6ce 29.0%,#1aabdd 30.2%,#249ee6 32.9%,#13b0d7 35.6%,#01b8c9 36.8%,#12beb9 37.9%,#6dcd67 43.4%,#7bcc5d 44.9%,#77cc60 46.9%,#30c5a1 50.4%,#18bfb6 51.6%,#02bac4 52.3%,#22a2e4 54.7%,#2d89f5 57.4%,#1caadf 60.5%,#01b7ca 61.7%,#11beb9 62.5%,#49cb85 64.4%,#94ca4a 66.3%,#c8c129 68.7%,#ecba32 71.8%,#fcbc3d 74.5%,#f6de29 97.9%,#f6de29 99.8%)"></i><i style="top:317.7px;background:linear-gradient(90deg,#f5e526 0.2%,#f8da2b 12.3%,#fabb3d 21.2%,#dcbd29 23.5%,#c3c22b 24.3%,#7bcc5d 25.5%,#42ca8b 26.3%,#28c2ab 27.0%,#02bac4 28.2%,#1fa5e2 30.5%,#259de7 32.9%,#13b0d7 35.6%,#01b8c9 36.8%,#13beb8 37.9%,#70cd65 43.4%,#7dcc5c 45.3%,#72cd63 47.3%,#17bfb7 51.6%,#02bac5 52.3%,#22a2e4 54.7%,#2d89f5 57.4%,#20a4e3 60.1%,#02b7cb 61.7%,#03bbc3 62.1%,#32c69f 63.6%,#58cc79 64.8%,#92ca4b 66.3%,#c7c12a 68.7%,#e8bb2e 71.4%,#fcbc3d 74.5%,#f6de29 97.9%,#f6de29 99.8%)"></i><i style="top:321.7px;background:linear-gradient(90deg,#f5e526 0.2%,#f8da2b 12.3%,#fcbc3d 20.8%,#d9bd28 23.5%,#bec32e 24.3%,#8ecb4f 25.1%,#3ac993 26.3%,#13beb8 27.4%,#01b8c8 28.2%,#1fa6e1 30.2%,#259be8 32.5%,#13b1d7 35.6%,#01b8c8 36.8%,#6ccd68 43.0%,#7ecc5b 44.6%,#79cc5e 46.9%,#21c1b0 51.2%,#01bac5 52.3%,#22a1e4 54.7%,#2d89f5 57.8%,#17aeda 60.9%,#03b7cc 61.7%,#02bac3 62.1%,#31c6a0 63.6%,#56cc7b 64.8%,#9cc944 66.7%,#ccc028 69.1%,#f4ba39 73.0%,#fec239 77.6%,#f6de29 99.8%)"></i><i style="top:325.7px;background:linear-gradient(90deg,#f5e526 0.2%,#f8da2b 12.3%,#fbbc3d 20.8%,#dfbc2a 23.2%,#cac129 23.9%,#a0c840 24.7%,#48cb86 25.9%,#1cc0b4 27.0%,#02bac4 27.8%,#20a4e3 30.2%,#269ae8 32.5%,#12b1d6 35.6%,#01b9c7 36.8%,#6fcd66 43.0%,#7fcc5a 44.6%,#7acc5d 46.9%,#2fc5a2 50.4%,#01b9c6 52.3%,#22a1e4 54.7%,#2d89f5 57.8%,#18aedb 60.9%,#04b6cc 61.7%,#02bac4 62.1%,#31c5a1 63.6%,#54cc7c 64.8%,#90ca4d 66.3%,#c5c22a 68.7%,#e7bb2d 71.4%,#fbbc3d 74.5%,#f6dd29 97.9%,#f6de29 99.8%)"></i><i style="top:329.7px;background:linear-gradient(90deg,#f5e526 0.2%,#f8da2b 12.3%,#fbbc3d 20.8%,#debd29 23.2%,#c6c22a 23.9%,#99c946 24.7%,#3fca8e 25.9%,#16bfb7 27.0%,#01b9c7 27.8%,#1fa6e2 29.8%,#2699e9 32.1%,#16aeda 35.2%,#01b9c6 36.8%,#71cd64 43.0%,#80cc59 44.6%,#7bcc5d 46.9%,#2fc5a2 50.4%,#01b9c6 52.3%,#22a1e4 54.7%,#2d89f5 57.8%,#19addc 60.9%,#04b6cd 61.7%,#02bac5 62.1%,#30c5a2 63.6%,#52cc7e 64.8%,#8ecb4e 66.3%,#c4c22b 68.7%,#e6bb2d 71.4%,#fbbc3d 74.5%,#f7dd2a 97.9%,#f6de29 99.8%)"></i><i style="top:333.8px;background:linear-gradient(90deg,#f5e526 0.2%,#f8da2b 12.3%,#fabb3d 20.8%,#dbbd29 23.2%,#c1c32c 23.9%,#90ca4d 24.7%,#51cc7e 25.5%,#39c895 25.9%,#0fbeba 27.0%,#01b8ca 27.8%,#1da8e0 29.4%,#2699e9 32.1%,#15afd9 35.2%,#01bac5 36.8%,#2ec5a4 39.1%,#7dcc5b 43.8%,#7fcc5a 46.5%,#63cd70 48.1%,#01b9c6 52.3%,#22a2e4 54.7%,#2d88f6 57.4%,#259de7 59.7%,#11b1d6 61.3%,#01b9c6 62.1%,#2fc5a3 63.6%,#51cc7f 64.8%,#98ca47 66.7%,#cac129 69.1%,#e9bb30 71.8%,#fcbc3d 74.9%,#f7dd2a 98.2%,#f6de29 99.8%)"></i><i style="top:337.8px;background:linear-gradient(90deg,#f5e526 0.2%,#f8da2b 12.3%,#fcbc3d 20.4%,#d9be28 23.2%,#bbc42f 23.9%,#87cb54 24.7%,#48cb86 25.5%,#29c3aa 26.3%,#0abdbd 27.0%,#04b6cc 27.8%,#1ea7e1 29.4%,#2699e9 32.1%,#14b0d8 35.2%,#01b8c9 36.4%,#12beb9 37.5%,#2fc5a3 39.1%,#57cc7a 41.4%,#80cc59 44.2%,#7ccc5c 46.9%,#30c5a2 50.4%,#01bac5 52.3%,#22a2e4 54.7%,#2d88f6 57.8%,#1aacdd 60.9%,#01b9c7 62.1%,#4fcc81 64.8%,#8bcb51 66.3%,#c2c22c 68.7%,#e5bb2c 71.4%,#fcbc3d 74.9%,#f7dd2a 98.2%,#f6dd29 99.8%)"></i><i style="top:341.8px;background:linear-gradient(90deg,#f5e526 0.2%,#f8da2b 12.3%,#fbbc3d 20.4%,#dfbc2a 22.8%,#c9c129 23.5%,#9cc943 24.3%,#41ca8c 25.5%,#26c2ad 26.3%,#07bcbf 27.0%,#01b9c7 27.4%,#1fa6e2 29.4%,#2798ea 31.7%,#12b1d7 35.2%,#01b9c8 36.4%,#6dcd67 42.6%,#80cc59 44.2%,#7ccc5c 46.9%,#31c6a0 50.4%,#19bfb5 51.6%,#02bac3 52.3%,#09b4d1 53.1%,#21a3e3 54.7%,#2d89f5 57.8%,#1aacdd 60.9%,#01b9c8 62.1%,#4ccb83 64.8%,#95ca49 66.7%,#c8c129 69.1%,#ebba31 72.2%,#fdbd3d 75.3%,#f7dd2a 98.6%,#f7dd2a 99.8%)"></i><i style="top:345.8px;background:linear-gradient(90deg,#f5e526 0.2%,#f7dc2a 11.5%,#fcbd3d 20.0%,#ddbd29 22.8%,#c4c22a 23.5%,#95ca49 24.3%,#3cc992 25.5%,#12beb9 26.7%,#04bbc1 27.0%,#07b5d0 27.8%,#1ca9e0 29.0%,#2699ea 31.7%,#16afd9 34.8%,#01b9c6 36.4%,#2dc4a5 38.7%,#59cc78 41.4%,#7ecc5b 43.8%,#7dcc5c 46.9%,#33c69d 50.4%,#01b9c8 52.7%,#20a5e3 54.7%,#2d89f5 57.8%,#1babde 60.9%,#01b8c9 62.1%,#13beb8 62.8%,#49cb85 64.8%,#93ca4b 66.7%,#c6c22a 69.1%,#e7bb2e 71.8%,#fcbd3d 75.3%,#f7dd2a 98.6%,#f7dd2a 99.8%)"></i><i style="top:349.9px;background:linear-gradient(90deg,#f5e526 0.2%,#f8da2b 11.9%,#fbbc3d 20.0%,#dbbd28 22.8%,#bfc32d 23.5%,#8dcb4f 24.3%,#4ecc81 25.1%,#37c897 25.5%,#02bac3 27.0%,#0ab4d2 27.8%,#1da8e0 29.0%,#2798ea 31.3%,#14b0d8 34.8%,#01b8c9 36.0%,#13beb9 37.2%,#6fcd66 42.6%,#81cc59 44.6%,#7dcc5b 46.9%,#3cc992 50.0%,#18bfb6 51.9%,#02bac4 52.7%,#0bb4d2 53.5%,#22a2e4 55.1%,#2d8af4 57.8%,#1babde 60.9%,#01b8ca 62.1%,#11beba 62.8%,#47cb87 64.8%,#91ca4c 66.7%,#c5c22a 69.1%,#e6bb2d 71.8%,#fbbc3d 74.9%,#f7dc2a 98.2%,#f7dd2a 99.8%)"></i><i style="top:353.9px;background:linear-gradient(90deg,#f5e526 0.2%,#f8db2b 11.5%,#fabb3d 20.0%,#d8be28 22.8%,#bac430 23.5%,#84cb56 24.3%,#47cb87 25.1%,#29c3aa 25.9%,#01bac5 27.0%,#1ea7e1 29.0%,#2798ea 31.3%,#17aedb 34.4%,#01b9c7 36.0%,#30c5a1 38.7%,#7bcc5d 43.4%,#7ecc5b 46.9%,#47cb87 49.6%,#1ec0b2 51.9%,#05bbc1 52.7%,#06b5cf 53.5%,#1da9e0 54.7%,#2d8bf4 57.8%,#1baade 60.9%,#02b7cb 62.1%,#03bbc3 62.5%,#31c6a0 64.0%,#45cb89 64.8%,#90ca4d 66.7%,#c4c22b 69.1%,#e6bb2d 71.8%,#fbbc3d 74.9%,#f7dc2a 98.2%,#f7dd2a 99.8%)"></i><i style="top:357.9px;background:linear-gradient(90deg,#f5e526 0.2%,#f8d92c 11.9%,#fbbc3d 19.6%,#debd29 22.4%,#c7c12a 23.2%,#99c946 23.9%,#3fca8e 25.1%,#16bfb7 26.3%,#01b9c7 27.0%,#1fa6e2 29.0%,#2698ea 31.3%,#15afd9 34.4%,#01b8ca 35.6%,#11beb9 36.8%,#2ec5a4 38.3%,#7ccc5c 43.4%,#7ecc5a 46.9%,#4acb84 49.6%,#17bfb6 52.3%,#02bac5 53.1%,#22a1e4 55.4%,#2d8df2 58.2%,#15afd9 61.3%,#02b7cb 62.1%,#02bac3 62.5%,#30c5a2 64.0%,#53cc7d 65.2%,#99c946 67.1%,#cac129 69.5%,#ecba32 72.6%,#fdbd3d 75.7%,#f7dc2a 99.0%,#f7dd2a 99.8%)"></i><i style="top:361.9px;background:linear-gradient(90deg,#f5e526 0.2%,#f7db2b 11.1%,#fcbc3d 19.3%,#dbbd29 22.4%,#c1c32c 23.2%,#8fcb4e 23.9%,#39c895 25.1%,#10beba 26.3%,#03bbc2 26.7%,#08b4d1 27.4%,#1da9e0 28.6%,#2699e9 31.3%,#13b0d7 34.4%,#01b9c8 35.6%,#30c5a2 38.3%,#7ccc5c 43.4%,#7ecc5a 46.9%,#4ccb83 49.6%,#1bc0b4 52.3%,#03bbc2 53.1%,#08b4d1 53.9%,#1ea7e1 55.1%,#2d8df2 57.8%,#1baade 60.9%,#02b7cb 62.1%,#02bac4 62.5%,#2fc5a2 64.0%,#52cc7e 65.2%,#8ecb4e 66.7%,#c3c22b 69.1%,#e5bb2c 71.8%,#fcbc3d 75.3%,#f7dc2a 98.6%,#f7dc2a 99.8%)"></i><i style="top:365.9px;background:linear-gradient(90deg,#f5e526 0.2%,#f8d92c 11.5%,#fbbc3d 19.3%,#dfbc2a 22.0%,#cbc029 22.8%,#a0c841 23.5%,#45cb89 24.7%,#1ac0b5 25.9%,#01bac5 26.7%,#1ea7e1 28.6%,#2699e9 31.3%,#17aeda 34.0%,#01bac6 35.6%,#2ec4a5 37.9%,#4ecc81 40.3%,#80cc59 43.8%,#7bcc5d 47.3%,#32c69f 51.2%,#1dc0b3 52.3%,#05bbc1 53.1%,#06b5cf 53.9%,#1da9e0 55.1%,#2c8ff1 57.8%,#1fa6e2 60.5%,#02b7cb 62.1%,#02bac3 62.5%,#2fc5a2 64.0%,#52cc7e 65.2%,#8ecb4f 66.7%,#c3c22b 69.1%,#e4bb2c 71.8%,#fcbc3d 75.3%,#f7dc2a 98.6%,#f7dc2a 99.8%)"></i><i style="top:370.0px;background:linear-gradient(90deg,#f5e526 0.2%,#f7db2b 10.7%,#fcbc3d 18.9%,#dcbd29 22.0%,#c3c22b 22.8%,#91ca4c 23.5%,#3ac994 24.7%,#11beb9 25.9%,#01b8c9 26.7%,#1da9e0 28.2%,#2797eb 30.9%,#15afd9 34.0%,#01b8c9 35.2%,#0abdbd 36.0%,#2cc4a7 37.5%,#58cc79 40.7%,#80cc5a 43.4%,#80cc59 46.9%,#46cb88 50.0%,#1fc0b1 52.3%,#01b9c7 53.5%,#1fa5e2 55.4%,#2b91ef 58.2%,#1aabdd 60.9%,#02b7ca 62.1%,#02bbc3 62.5%,#30c5a2 64.0%,#52cc7e 65.2%,#8ecb4f 66.7%,#c3c22b 69.1%,#e4bb2c 71.8%,#fbbc3d 75.3%,#f7dc2a 98.6%,#f7dc2a 99.8%)"></i><i style="top:374.0px;background:linear-gradient(90deg,#f5e526 0.2%,#f8d92c 11.1%,#fbbc3d 18.9%,#e0bc2a 21.6%,#cbc029 22.4%,#9ec942 23.2%,#42ca8b 24.3%,#18bfb6 25.5%,#01b9c7 26.3%,#1fa5e2 28.2%,#2995ec 30.9%,#14b0d8 34.0%,#01b9c7 35.2%,#2ec5a4 37.5%,#5dcc74 40.7%,#83cc57 43.4%,#7ecc5a 47.3%,#33c79c 51.2%,#16bfb7 52.7%,#01bac5 53.5%,#22a2e4 55.8%,#2a92ee 58.2%,#1aacdd 60.9%,#01b8ca 62.1%,#0fbebb 62.8%,#42ca8b 64.8%,#8ecb4f 66.7%,#c3c22b 69.1%,#e4bb2c 71.8%,#fbbc3d 75.3%,#f7dc2a 98.6%,#f7dc2a 99.8%)"></i><i class="b" style="top:378.0px;background:linear-gradient(90deg,#f5e526 0.2%,#f8d92b 10.7%,#fabb3d 18.9%,#ddbd29 21.6%,#c4c22b 22.4%,#8fcb4e 23.2%,#4fcc80 23.9%,#38c896 24.3%,#02bac3 25.9%,#0bb3d2 26.7%,#22a2e4 28.2%,#2b91ef 30.5%,#19acdc 33.7%,#02bac5 35.2%,#2cc4a6 37.2%,#54cc7c 39.9%,#84cc56 43.0%,#84cc56 46.9%,#53cc7d 49.6%,#17bfb6 52.7%,#02bac4 53.5%,#0ab4d1 54.3%,#21a4e3 55.8%,#2994ed 58.2%,#19addc 60.9%,#01b8c9 62.1%,#0fbeba 62.8%,#42ca8b 64.8%,#8ecb4f 66.7%,#c3c22b 69.1%,#e4bb2c 71.8%,#fbbc3d 75.3%,#f7dc2a 98.6%,#f7dc2a 99.8%)"></i><i class="b" style="top:380.0px;background:linear-gradient(90deg,#f5e526 0.2%,#f8d92c 10.7%,#fabb3d 18.9%,#dbbd28 21.6%,#bdc32e 22.4%,#84cb56 23.2%,#46cb88 23.9%,#28c3aa 24.7%,#09bcbe 25.5%,#01b9c6 25.9%,#20a4e3 27.8%,#2c90f0 30.5%,#13b1d7 34.0%,#01b7ca 34.8%,#0bbdbd 35.6%,#29c3aa 36.8%,#50cc80 39.5%,#83cc57 42.6%,#86cb55 46.9%,#54cc7c 49.6%,#18bfb6 52.7%,#02bac3 53.5%,#09b4d1 54.3%,#20a4e3 55.8%,#2995ec 58.2%,#19addb 60.9%,#01b8c9 62.1%,#10beba 62.8%,#43ca8b 64.8%,#8ecb4f 66.7%,#c3c22b 69.1%,#e4bb2c 71.8%,#fbbc3d 75.3%,#f7db2a 98.6%,#f7dc2a 99.8%)"></i><i class="b" style="top:382.0px;background:linear-gradient(90deg,#f5e526 0.2%,#f8da2b 10.3%,#fbbc3d 18.5%,#e0bc2a 21.2%,#cac129 22.0%,#99c946 22.8%,#3dc990 23.9%,#13beb9 25.1%,#04bbc2 25.5%,#01b8ca 25.9%,#1ea6e1 27.4%,#2d8df2 30.2%,#19addc 33.7%,#01b8c9 34.8%,#0ebdbb 35.6%,#2bc3a8 36.8%,#4ccb83 39.1%,#86cb54 42.6%,#87cb54 46.9%,#5ecd74 49.2%,#19bfb5 52.7%,#03bbc3 53.5%,#07b5d0 54.3%,#1fa5e2 55.8%,#2896ec 58.2%,#18aedb 60.9%,#01b8c8 62.1%,#37c897 64.4%,#8ecb4f 66.7%,#c3c22b 69.1%,#e4bb2c 71.8%,#fbbc3d 75.3%,#f7db2a 98.6%,#f7dc2a 99.8%)"></i><i class="b" style="top:384.0px;background:linear-gradient(90deg,#f5e526 0.2%,#f8d92b 10.3%,#fbbc3d 18.5%,#debd29 21.2%,#c5c22a 22.0%,#8ecb4f 22.8%,#4dcc82 23.5%,#37c897 23.9%,#01bac5 25.5%,#20a4e3 27.4%,#2d8bf4 30.2%,#1da8e0 33.3%,#01b9c8 34.8%,#2dc4a6 36.8%,#4fcc80 39.1%,#89cb52 42.6%,#89cb52 46.9%,#57cc7a 49.6%,#1ac0b5 52.7%,#03bbc2 53.5%,#06b5cf 54.3%,#1fa6e2 55.8%,#2797eb 58.2%,#17aeda 60.9%,#01b9c8 62.1%,#37c897 64.4%,#8ecb4f 66.7%,#c3c22b 69.1%,#e4bb2c 71.8%,#fbbc3d 75.3%,#f7db2a 98.6%,#f7dc2a 99.8%)"></i><i class="b" style="top:386.0px;background:linear-gradient(90deg,#f5e526 0.2%,#f8d92c 10.3%,#fabb3d 18.5%,#dbbd29 21.2%,#bec32e 22.0%,#82cc58 22.8%,#43ca8b 23.5%,#16bfb7 24.7%,#06bcc0 25.1%,#01b8c9 25.5%,#1fa6e2 27.0%,#2d88f6 30.2%,#21a3e3 32.9%,#01b9c6 34.8%,#29c3aa 36.4%,#53cc7d 39.1%,#89cb52 42.2%,#8bcb51 46.9%,#59cc78 49.6%,#31c6a0 51.6%,#01b8c8 53.9%,#21a3e3 56.2%,#2699e9 58.6%,#16aeda 60.9%,#01b9c7 62.1%,#38c897 64.4%,#8ecb4f 66.7%,#c3c22b 69.1%,#e4bb2c 71.8%,#fbbc3d 75.3%,#f7db2a 98.6%,#f7dc2a 99.8%)"></i><i class="b" style="top:388.0px;background:linear-gradient(90deg,#f5e526 0.2%,#f8da2b 9.9%,#fabb3d 18.5%,#e1bc2b 20.8%,#cbc129 21.6%,#97ca47 22.4%,#3bc993 23.5%,#0ebebb 24.7%,#02bac4 25.1%,#21a3e3 27.0%,#2e85f8 30.2%,#1da8e0 33.3%,#02bac5 34.8%,#2bc3a8 36.4%,#4fcc80 38.7%,#8dcb50 42.2%,#8dcb4f 46.9%,#5acc77 49.6%,#01b9c7 53.9%,#20a4e3 56.2%,#269ae8 58.6%,#16afd9 60.9%,#01b9c7 62.1%,#38c896 64.4%,#8ecb4f 66.7%,#c3c22b 69.1%,#e4bb2c 71.8%,#fbbc3d 75.3%,#f7db2a 98.6%,#f7db2a 99.8%)"></i><i class="b" style="top:390.0px;background:linear-gradient(90deg,#f5e526 0.2%,#f7db2b 9.5%,#fbbc3d 18.1%,#debc2a 20.8%,#c5c22a 21.6%,#8bcb51 22.4%,#49cb85 23.2%,#29c3a9 23.9%,#08bcbf 24.7%,#01b9c8 25.1%,#1fa6e2 26.7%,#2f82f9 29.8%,#2797ea 32.1%,#17aeda 33.7%,#02b7cb 34.4%,#02bbc3 34.8%,#27c2ac 36.0%,#53cc7d 38.7%,#8ccb50 41.8%,#92ca4b 46.1%,#7ecc5b 48.1%,#32c69f 51.6%,#01b9c7 53.9%,#20a5e2 56.2%,#259be8 58.6%,#15afd8 60.9%,#01b9c6 62.1%,#38c896 64.4%,#8ecb4f 66.7%,#c3c22b 69.1%,#e3bb2c 71.8%,#fbbc3d 75.3%,#f7db2a 98.6%,#f7db2a 99.8%)"></i><i class="b" style="top:391.9px;background:linear-gradient(90deg,#f5e526 0.2%,#f8d92c 9.9%,#fbbc3d 18.1%,#dcbd29 20.8%,#bdc32e 21.6%,#7ecc5a 22.4%,#3fca8e 23.2%,#12beb9 24.3%,#02bbc3 24.7%,#0eb2d4 25.5%,#2798ea 27.4%,#307ffb 29.8%,#2797eb 32.1%,#16afda 33.7%,#01b8ca 34.4%,#13beb9 35.2%,#2fc5a3 36.4%,#4fcc80 38.3%,#90ca4d 41.8%,#91ca4c 46.9%,#5ecc74 49.6%,#32c69f 51.6%,#01b9c6 53.9%,#1fa6e2 56.2%,#259ce7 58.6%,#14b0d8 60.9%,#01b9c6 62.1%,#38c896 64.4%,#8ecb4f 66.7%,#c3c22b 69.1%,#e3bb2c 71.8%,#fbbc3d 75.3%,#f7db2b 98.6%,#f7db2a 99.8%)"></i><i class="b" style="top:393.9px;background:linear-gradient(90deg,#f5e526 0.2%,#f8da2b 9.5%,#fabb3d 18.1%,#e1bc2b 20.4%,#cbc029 21.2%,#b4c533 21.6%,#50cc7f 22.8%,#38c896 23.2%,#01b9c7 24.7%,#20a5e2 26.3%,#337bfc 29.8%,#2c8ff0 31.7%,#15afd9 33.7%,#01b9c8 34.4%,#2cc4a7 36.0%,#54cc7d 38.3%,#94ca4a 41.8%,#93ca4a 46.9%,#60cd73 49.6%,#32c69e 51.6%,#01bac5 53.9%,#1ea7e1 56.2%,#259de7 58.6%,#13b0d7 60.9%,#01bac5 62.1%,#38c896 64.4%,#8ecb4f 66.7%,#c3c22b 69.1%,#e3bb2c 71.8%,#fbbc3d 75.3%,#f7db2b 98.6%,#f7db2a 99.8%)"></i><i class="b" style="top:395.9px;background:linear-gradient(90deg,#f5e526 0.2%,#f8d92b 9.5%,#fabb3d 18.1%,#dfbc2a 20.4%,#c5c22a 21.2%,#88cb53 22.0%,#46cb88 22.8%,#27c2ac 23.5%,#04bbc2 24.3%,#02b7cb 24.7%,#1ea8e1 25.9%,#3579fd 29.4%,#327cfc 30.5%,#1caadf 33.3%,#01b9c6 34.4%,#2ec4a5 36.0%,#4fcc80 37.9%,#93ca4a 41.4%,#98c947 46.5%,#7ccc5c 48.4%,#33c69e 51.6%,#02bac5 53.9%,#20a4e3 56.6%,#23a0e5 58.9%,#12b1d7 60.9%,#02b7cb 61.7%,#09bcbe 62.5%,#44cb8a 64.8%,#8ecb4f 66.7%,#c3c22b 69.1%,#e3bc2c 71.8%,#fbbc3d 75.3%,#f7db2b 98.6%,#f7db2a 99.8%)"></i><i class="b" style="top:397.9px;background:linear-gradient(90deg,#f5e526 0.2%,#f8d92c 9.5%,#fbbc3d 17.7%,#ddbd29 20.4%,#bdc32e 21.2%,#7bcc5d 22.0%,#3dc990 22.8%,#0dbdbc 23.9%,#01b9c6 24.3%,#20a4e3 25.9%,#3677fe 29.0%,#3975fe 30.2%,#21a3e3 32.9%,#02bac4 34.4%,#29c3a9 35.6%,#53cc7d 37.9%,#93ca4b 41.1%,#9bc944 44.2%,#93ca4a 47.3%,#59cc79 50.0%,#33c69d 51.6%,#02bac4 53.9%,#07b5d0 54.7%,#20a5e2 56.6%,#249fe6 58.6%,#12b1d6 60.9%,#02b7cb 61.7%,#0abdbe 62.5%,#31c6a0 64.0%,#54cc7d 65.2%,#8ecb4f 66.7%,#c3c22b 69.1%,#e3bc2c 71.8%,#fbbc3d 75.3%,#f7db2b 98.6%,#f7db2a 99.8%)"></i><i class="b" style="top:399.9px;background:linear-gradient(90deg,#f5e526 0.2%,#f8da2b 9.1%,#fbbc3d 17.7%,#dabd28 20.4%,#ccc028 20.8%,#b4c533 21.2%,#4ecc81 22.4%,#37c898 22.8%,#06bcc0 23.9%,#01b8ca 24.3%,#1ea7e1 25.5%,#3b73fe 29.0%,#3c71ff 30.2%,#20a4e3 32.9%,#03b7cc 34.0%,#04bbc2 34.4%,#2cc4a7 35.6%,#4ecc81 37.5%,#97ca48 41.1%,#9dc943 45.7%,#90ca4d 47.7%,#4ecc81 50.4%,#15bfb8 53.1%,#02bac4 53.9%,#07b5cf 54.7%,#1fa6e2 56.6%,#239fe5 58.6%,#11b2d5 60.9%,#01b8ca 61.7%,#0abdbd 62.5%,#44cb89 64.8%,#8ecb4f 66.7%,#c3c22b 69.1%,#e3bc2c 71.8%,#fbbc3d 75.3%,#f7db2b 98.6%,#f7db2b 99.8%)"></i><i class="b" style="top:401.9px;background:linear-gradient(90deg,#f5e526 0.2%,#f8d92b 9.1%,#fabb3d 17.7%,#e0bc2a 20.0%,#c6c22a 20.8%,#aac739 21.2%,#44cb8a 22.4%,#11beb9 23.5%,#02bac4 23.9%,#20a4e3 25.5%,#3b72ff 28.6%,#3f6eff 30.2%,#2994ed 32.1%,#1aacdd 33.3%,#01b8ca 34.0%,#07bcc0 34.4%,#26c2ad 35.2%,#53cc7d 37.5%,#95ca49 40.7%,#a0c841 42.6%,#9cc944 46.9%,#71cd64 49.2%,#34c79c 51.6%,#15bfb7 53.1%,#02bac3 53.9%,#21a4e3 57.0%,#22a2e4 58.9%,#10b2d5 60.9%,#01b8ca 61.7%,#0bbdbd 62.5%,#45cb89 64.8%,#8ecb4f 66.7%,#c3c22b 69.1%,#e3bc2c 71.8%,#fbbc3d 75.3%,#f7db2b 98.6%,#f7db2b 99.8%)"></i><i class="b" style="top:403.9px;background:linear-gradient(90deg,#f5e526 0.2%,#f8d92c 9.1%,#fabb3d 17.7%,#debd29 20.0%,#bec32e 20.8%,#7ccc5c 21.6%,#3cc991 22.4%,#0abdbe 23.5%,#01b8c8 23.9%,#23a1e5 25.5%,#3b72ff 28.2%,#4367fd 29.8%,#2f82f9 31.3%,#19addc 33.3%,#01b9c8 34.0%,#29c3aa 35.2%,#4dcc82 37.2%,#93ca4b 40.3%,#a2c83f 42.2%,#9ec942 46.9%,#73cd63 49.2%,#34c79c 51.6%,#16bfb7 53.1%,#02bbc3 53.9%,#20a4e3 57.0%,#1fa6e2 59.3%,#01b8c9 61.7%,#0bbdbc 62.5%,#32c69f 64.0%,#54cc7c 65.2%,#8ecb4f 66.7%,#c3c22b 69.1%,#e7bb2d 72.2%,#fcbc3d 75.7%,#f7db2b 99.0%,#f7db2b 99.8%)"></i><i class="b" style="top:405.9px;background:linear-gradient(90deg,#f5e526 0.2%,#f8da2b 8.8%,#fbbc3d 17.3%,#e3bc2c 19.6%,#cec028 20.4%,#b7c532 20.8%,#4ecc81 22.0%,#2ac3a9 22.8%,#04bbc2 23.5%,#03b7cc 23.9%,#20a4e3 25.1%,#3b73fe 27.8%,#4562fc 29.4%,#3e6fff 30.5%,#1fa6e2 32.9%,#01b9c6 34.0%,#2bc3a8 35.2%,#52cc7e 37.2%,#97ca48 40.3%,#a4c83e 42.2%,#a0c841 46.9%,#74cc62 49.2%,#34c79b 51.6%,#03bbc3 53.9%,#0cb3d3 55.1%,#21a2e4 57.4%,#1ca9df 59.7%,#01b8c9 61.7%,#0cbdbc 62.5%,#32c69f 64.0%,#54cc7c 65.2%,#8ecb4f 66.7%,#c3c22b 69.1%,#e7bb2d 72.2%,#fcbc3d 75.7%,#f7db2b 99.0%,#f7db2b 99.8%)"></i><i class="b" style="top:407.9px;background:linear-gradient(90deg,#f5e526 0.2%,#f8d92b 8.8%,#fbbc3d 17.3%,#e1bc2b 19.6%,#c9c129 20.4%,#aec637 20.8%,#46cb88 22.0%,#25c2ad 22.8%,#01bac6 23.5%,#23a1e4 25.1%,#3974fe 27.4%,#465dfb 29.4%,#406dfe 30.5%,#2d8af4 31.7%,#16aeda 33.3%,#06b5cf 33.7%,#02bac4 34.0%,#24c1ae 34.8%,#56cc7a 37.2%,#94ca4a 39.9%,#a6c83d 41.8%,#a2c83f 46.9%,#76cc60 49.2%,#34c79b 51.6%,#17bfb7 53.1%,#03bbc2 53.9%,#0bb3d2 55.1%,#1fa5e2 57.0%,#1ea7e1 59.3%,#01b8c8 61.7%,#0dbdbc 62.5%,#45cb88 64.8%,#8ecb4f 66.7%,#c3c22b 69.1%,#e7bb2d 72.2%,#fcbc3d 75.7%,#f8db2b 99.0%,#f7db2b 99.8%)"></i><i class="b" style="top:409.9px;background:linear-gradient(90deg,#f5e526 0.2%,#f8d92b 8.8%,#fabb3d 17.3%,#dfbc2a 19.6%,#c3c22b 20.4%,#82cc58 21.2%,#3eca8f 22.0%,#09bcbe 23.2%,#01b8c9 23.5%,#20a5e2 24.7%,#3776fe 27.0%,#465efb 28.6%,#465dfa 29.8%,#3975fe 30.9%,#15afd9 33.3%,#05b6cd 33.7%,#04bbc2 34.0%,#26c2ac 34.8%,#5bcc77 37.2%,#98ca47 39.9%,#a8c73b 41.8%,#a4c83e 46.9%,#78cc5f 49.2%,#35c79b 51.6%,#17bfb6 53.1%,#03bbc2 53.9%,#0bb3d2 55.1%,#21a3e3 57.4%,#1caadf 59.7%,#01b9c8 61.7%,#0dbdbb 62.5%,#32c69e 64.0%,#55cc7c 65.2%,#98c947 67.1%,#c9c129 69.5%,#edba33 73.0%,#fdbd3d 76.5%,#f8da2b 99.0%,#f7db2b 99.8%)"></i><i class="b" style="top:411.9px;background:linear-gradient(90deg,#f5e526 0.2%,#f8d92c 8.8%,#fabb3d 17.3%,#ddbd29 19.6%,#d2bf27 20.0%,#bdc32e 20.4%,#78cc5f 21.2%,#3ac994 22.0%,#04bbc2 23.2%,#04b6cd 23.5%,#22a2e4 24.7%,#3c71ff 27.0%,#4756f6 29.0%,#4661fc 30.2%,#307ffb 31.3%,#1da8e0 32.9%,#03b7cc 33.7%,#07bcc0 34.0%,#29c3aa 34.8%,#54cc7c 36.8%,#95ca4a 39.5%,#aac73a 41.4%,#a6c83d 46.9%,#79cc5e 49.2%,#35c79a 51.6%,#01b9c8 54.3%,#1fa6e2 57.0%,#1ea7e1 59.3%,#01b9c8 61.7%,#0ebdbb 62.5%,#46cb88 64.8%,#8ecb4f 66.7%,#c3c22b 69.1%,#e6bb2d 72.2%,#fcbc3d 75.7%,#f8da2b 99.0%,#f7db2b 99.8%)"></i><i class="b" style="top:413.9px;background:linear-gradient(90deg,#f5e526 0.2%,#f8da2b 8.4%,#fbbc3d 16.9%,#e3bc2c 19.3%,#cec028 20.0%,#b7c532 20.4%,#4dcc82 21.6%,#13beb9 22.8%,#02bac5 23.2%,#249ee6 24.7%,#3a74fe 26.7%,#4854f5 28.6%,#4757f7 29.8%,#3b72fe 30.9%,#12b1d6 33.3%,#01b8ca 33.7%,#09bcbe 34.0%,#2bc3a8 34.8%,#4ccb83 36.4%,#89cb52 38.7%,#aac73a 41.1%,#a7c73c 46.9%,#7bcc5d 49.2%,#35c79a 51.6%,#01b9c8 54.3%,#1fa6e2 57.0%,#1ea7e1 59.3%,#01b9c7 61.7%,#3ac993 64.4%,#8ecb4f 66.7%,#c3c22b 69.1%,#e6bb2d 72.2%,#fbbc3d 75.7%,#f8da2b 99.0%,#f8db2b 99.8%)"></i><i class="b" style="top:415.9px;background:linear-gradient(90deg,#f5e526 0.2%,#f9d82c 8.8%,#fbbc3d 16.9%,#e2bc2b 19.3%,#cac129 20.0%,#b1c635 20.4%,#48cb87 21.6%,#0dbdbc 22.8%,#01b8c8 23.2%,#21a4e3 24.3%,#3678fe 26.3%,#4759f8 27.8%,#484df0 29.0%,#4466fd 30.5%,#2d89f5 31.7%,#10b2d5 33.3%,#01b8c9 33.7%,#2cc4a6 34.8%,#50cc80 36.4%,#8ccb50 38.7%,#acc738 41.1%,#a9c73a 46.9%,#7ccc5c 49.2%,#35c79a 51.6%,#01b9c7 54.3%,#1fa6e1 57.0%,#1ea7e1 59.3%,#01b9c7 61.7%,#3bc993 64.4%,#8ecb4f 66.7%,#c3c22b 69.1%,#e6bb2d 72.2%,#fbbc3d 75.7%,#f8da2b 99.0%,#f8da2b 99.8%)"></i><i class="b" style="top:417.9px;background:linear-gradient(90deg,#f5e526 0.2%,#f9d82c 8.8%,#fabb3d 16.9%,#e0bc2a 19.3%,#c7c12a 20.0%,#acc738 20.4%,#43ca8b 21.6%,#08bcbf 22.8%,#03b7cb 23.2%,#1da9e0 23.9%,#3b72ff 26.3%,#484ef1 28.2%,#484bef 29.4%,#3d70ff 30.9%,#2d89f5 31.7%,#1caadf 32.9%,#01b9c8 33.7%,#2dc4a5 34.8%,#54cc7d 36.4%,#88cb53 38.3%,#adc638 41.1%,#abc739 46.9%,#7dcc5b 49.2%,#35c79b 51.6%,#03bbc3 53.9%,#0bb3d2 55.1%,#20a4e3 57.4%,#18addb 60.1%,#01b9c7 61.7%,#3bc993 64.4%,#8ecb4f 66.7%,#c3c22b 69.1%,#e6bb2d 72.2%,#fbbc3d 75.7%,#f8da2b 99.0%,#f8da2b 99.8%)"></i><i class="b" style="top:419.8px;background:linear-gradient(90deg,#f5e426 0.2%,#f8d92c 8.4%,#fabb3d 16.9%,#dfbc2a 19.3%,#c3c22b 20.0%,#84cc56 20.8%,#3eca8f 21.6%,#03bbc3 22.8%,#259de7 24.3%,#3875fe 25.9%,#475af9 27.0%,#4743e7 28.6%,#484ff1 29.8%,#3f6efe 30.9%,#2994ed 32.1%,#0fb2d5 33.3%,#01b9c8 33.7%,#2ec4a5 34.8%,#49cb85 36.0%,#83cc57 37.9%,#acc738 40.7%,#acc738 46.9%,#7dcc5b 49.2%,#33c79d 51.6%,#02bac4 53.9%,#1fa5e2 57.0%,#1ea7e1 59.3%,#01b9c7 61.7%,#3bc992 64.4%,#8ecb4f 66.7%,#c3c22b 69.1%,#e6bb2d 72.2%,#fbbc3d 75.7%,#f8da2b 99.0%,#f8da2b 99.8%)"></i><i class="b" style="top:421.8px;background:linear-gradient(90deg,#f5e426 0.2%,#f8d82c 8.4%,#fbbc3d 16.5%,#ddbd29 19.3%,#c0c32d 20.0%,#7fcc5a 20.8%,#3ac993 21.6%,#01b9c7 22.8%,#22a2e4 23.9%,#3579fd 25.5%,#475bf9 26.7%,#463cdf 28.6%,#484bee 29.8%,#416bfe 30.9%,#1da9e0 32.9%,#01b8c8 33.7%,#2ec4a5 34.8%,#4ccb83 36.0%,#87cb54 37.9%,#b0c636 41.1%,#adc638 46.9%,#7ecc5b 49.2%,#39c895 51.2%,#01b9c7 53.9%,#1ea7e1 56.6%,#20a4e3 58.9%,#13b0d7 60.5%,#01b9c7 61.7%,#3cc992 64.4%,#98c946 67.1%,#c9c129 69.5%,#ecba33 73.0%,#fdbd3d 76.5%,#f8da2b 99.0%,#f8da2b 99.8%)"></i><i class="b" style="top:423.8px;background:linear-gradient(90deg,#f5e427 0.2%,#f9d82c 8.4%,#fabc3d 16.5%,#dcbd29 19.3%,#bdc32e 20.0%,#7acc5e 20.8%,#37c898 21.6%,#26c2ad 22.0%,#0abdbd 22.4%,#03b7cb 22.8%,#1ea7e1 23.5%,#317dfc 25.1%,#475cfa 26.3%,#4538d7 28.2%,#4538d7 29.0%,#475bfa 30.5%,#2e84f9 31.7%,#1ea7e1 32.9%,#01b8ca 33.7%,#2dc4a5 34.8%,#4ecc81 36.0%,#82cc58 37.5%,#aec637 40.7%,#afc637 46.9%,#7dcc5b 49.2%,#36c799 51.2%,#02bac4 53.5%,#1fa5e2 56.6%,#21a3e3 58.9%,#0cb3d3 60.9%,#01b9c7 61.7%,#3cc991 64.4%,#8ecb4e 66.7%,#c3c22b 69.1%,#e6bb2d 72.2%,#fbbc3d 75.7%,#f8da2b 99.0%,#f8da2b 99.8%)"></i><i class="b" style="top:425.8px;background:linear-gradient(90deg,#f5e427 0.2%,#f9d82c 8.4%,#fabb3d 16.5%,#dbbd29 19.3%,#bac430 20.0%,#75cc61 20.8%,#4ecc81 21.2%,#20c1b1 22.0%,#04bbc2 22.4%,#08b5d0 22.8%,#21a2e4 23.5%,#3975fe 25.1%,#4854f5 26.3%,#4331c8 28.2%,#4433cd 29.0%,#4758f8 30.5%,#2f81fa 31.7%,#14b0d8 33.3%,#02b7cb 33.7%,#36c799 35.2%,#7ccc5c 37.2%,#abc739 40.3%,#b4c533 43.8%,#b0c636 46.9%,#88cb53 48.8%,#4acb84 50.4%,#21c1b1 51.9%,#03bbc3 53.1%,#0ab4d2 54.3%,#1fa6e2 56.2%,#23a0e5 58.6%,#14b0d8 60.5%,#01b9c7 61.7%,#3dc991 64.4%,#8ecb4e 66.7%,#c3c22b 69.1%,#e6bb2d 72.2%,#fbbc3d 75.7%,#f8da2b 99.0%,#f8da2b 99.8%)"></i><i class="b" style="top:427.8px;background:linear-gradient(90deg,#f5e427 0.2%,#fad62d 8.8%,#f9bb3d 16.5%,#d9bd28 19.3%,#b7c532 20.0%,#70cd65 20.8%,#49cb85 21.2%,#19bfb5 22.0%,#01b9c6 22.4%,#249ee6 23.5%,#347afd 24.7%,#4661fc 25.5%,#4639da 27.0%,#412cb8 28.2%,#422fc3 29.0%,#4755f6 30.5%,#3d70ff 31.3%,#307ffb 31.7%,#16afd9 33.3%,#03b7cc 33.7%,#08bcbf 34.0%,#2dc4a6 34.8%,#54cc7c 36.0%,#80cc59 37.2%,#acc738 40.3%,#b6c533 44.2%,#b1c635 46.9%,#88cb53 48.8%,#37c897 50.8%,#0dbdbb 52.3%,#01b9c6 53.1%,#20a4e3 56.2%,#249fe5 58.6%,#15afd8 60.5%,#01b9c7 61.7%,#3dc990 64.4%,#99c946 67.1%,#c9c129 69.5%,#ecba32 73.0%,#fcbd3d 76.1%,#f8da2b 99.0%,#f8da2b 99.8%)"></i><i class="b" style="top:429.8px;background:linear-gradient(90deg,#f5e327 0.2%,#f9d72d 8.4%,#f9ba3d 16.5%,#d8be28 19.3%,#b3c534 20.0%,#6bcd69 20.8%,#43ca8a 21.2%,#10beba 22.0%,#02b7cb 22.4%,#16afd9 22.8%,#3b72ff 24.7%,#484df1 25.9%,#412dbb 27.4%,#3e26a8 28.2%,#412cb9 29.0%,#4746ea 30.2%,#3f6efe 31.3%,#317dfc 31.7%,#17aeda 33.3%,#04b6cd 33.7%,#07bcc0 34.0%,#2dc4a5 34.8%,#58cc79 36.0%,#83cc57 37.2%,#b0c636 40.7%,#b7c532 46.1%,#a6c83d 47.7%,#79cc5f 49.2%,#40ca8d 50.4%,#1fc0b2 51.6%,#02bac5 52.7%,#20a5e2 55.8%,#249ee6 58.6%,#15afd9 60.5%,#01b9c7 61.7%,#3dca90 64.4%,#99c946 67.1%,#c9c129 69.5%,#ecba32 73.0%,#fcbd3d 76.1%,#f8da2b 99.0%,#f8da2b 99.8%)"></i><i class="b" style="top:431.8px;background:linear-gradient(90deg,#f5e327 0.2%,#f9d72d 8.4%,#fabb3d 16.1%,#dfbc2a 18.9%,#c7c129 19.6%,#b0c636 20.0%,#65cd6e 20.8%,#3eca8f 21.2%,#29c3aa 21.6%,#09bcbe 22.0%,#07b5d0 22.4%,#1aacdd 22.8%,#3579fd 24.3%,#465dfa 25.1%,#463bdc 26.3%,#3e27a9 27.4%,#3e26a8 28.6%,#3f29b0 29.0%,#4743e7 30.2%,#406cfe 31.3%,#2d8af4 32.1%,#18aedb 33.3%,#05b6ce 33.7%,#07bcc0 34.0%,#2ec4a5 34.8%,#48cb86 35.6%,#7dcc5b 36.8%,#abc739 39.9%,#b8c431 43.0%,#b4c534 46.9%,#92ca4b 48.4%,#62cd70 49.6%,#3bc992 50.4%,#17bfb6 51.6%,#02bbc3 52.3%,#1fa6e2 55.4%,#259be8 58.2%,#15afd9 60.5%,#01b9c7 61.7%,#4acb84 64.8%,#99c946 67.1%,#c9c129 69.5%,#ecba32 73.0%,#fdbd3d 76.5%,#f8da2b 99.0%,#f8da2b 99.8%)"></i><i class="b" style="top:433.8px;background:linear-gradient(90deg,#f5e327 0.2%,#f9d72d 8.4%,#fabb3d 16.1%,#ddbd29 18.9%,#c4c22b 19.6%,#abc739 20.0%,#39c994 21.2%,#24c1ae 21.6%,#02bbc3 22.0%,#1da8e0 22.8%,#2f81fa 23.9%,#4563fd 24.7%,#463de0 25.9%,#3e26a8 27.0%,#3e27aa 29.0%,#4741e5 30.2%,#416bfe 31.3%,#327bfc 31.7%,#17aeda 33.3%,#04b6cd 33.7%,#08bcbf 34.0%,#2fc5a3 34.8%,#4dcb82 35.6%,#80cc59 36.8%,#acc738 39.9%,#bac430 43.0%,#b5c533 46.9%,#92ca4c 48.4%,#5ecd74 49.6%,#37c897 50.4%,#11beb9 51.6%,#01b9c6 52.3%,#20a4e3 55.4%,#269ae8 58.2%,#16afd9 60.5%,#01b9c7 61.7%,#4bcb84 64.8%,#99c946 67.1%,#c9c129 69.5%,#ecba32 73.0%,#fdbd3d 76.5%,#f8da2b 99.0%,#f8da2b 99.8%)"></i><i class="b" style="top:435.8px;background:linear-gradient(90deg,#f5e327 0.2%,#fbd32f 9.5%,#f9bb3d 16.1%,#dcbd29 18.9%,#c0c32d 19.6%,#a6c83d 20.0%,#35c79a 21.2%,#01b9c7 22.0%,#20a4e3 22.8%,#337bfc 23.9%,#475cfa 24.7%,#4537d5 25.9%,#3e27ab 26.7%,#3e26a8 29.0%,#4741e4 30.2%,#416cfe 31.3%,#327cfc 31.7%,#16afd9 33.3%,#03b7cc 33.7%,#0abdbd 34.0%,#23c1af 34.4%,#3dca90 35.2%,#78cc5f 36.4%,#9cc944 38.3%,#bac430 41.8%,#b6c532 46.9%,#91ca4c 48.4%,#5acc77 49.6%,#35c79b 50.4%,#0cbdbc 51.6%,#01b9c8 52.3%,#1fa5e2 55.1%,#2699e9 58.2%,#16afd9 60.5%,#01b9c7 61.7%,#4ccb83 64.8%,#99c946 67.1%,#c9c129 69.5%,#ecba32 73.0%,#fdbd3d 76.5%,#f8d92b 98.2%,#f8da2b 99.8%)"></i><i class="b" style="top:437.8px;background:linear-gradient(90deg,#f5e227 0.2%,#f9d72d 8.4%,#fbbc3d 15.8%,#dabd28 18.9%,#bcc42f 19.6%,#9fc941 20.0%,#4ecc81 20.8%,#14beb8 21.6%,#03b7cc 22.0%,#19addc 22.4%,#3975fe 23.9%,#4756f7 24.7%,#463bdd 25.5%,#3f29b1 26.3%,#3e26a8 27.0%,#3e26a8 29.0%,#4741e5 30.2%,#465dfb 30.9%,#317dfc 31.7%,#13b0d7 33.3%,#01b8c9 33.7%,#57cc7a 35.6%,#7ccc5c 36.4%,#a7c73c 39.1%,#bcc42f 42.2%,#b8c431 46.9%,#91ca4d 48.4%,#57cc7a 49.6%,#33c69e 50.4%,#0abdbe 51.6%,#01b8c9 52.3%,#1ea7e1 54.7%,#2797eb 57.8%,#16afda 60.5%,#01b9c6 61.7%,#4ccb83 64.8%,#99c946 67.1%,#c9c129 69.5%,#ecba32 73.0%,#fdbd3d 76.5%,#f8d92c 97.9%,#f8da2b 99.8%)"></i><i class="b" style="top:439.8px;background:linear-gradient(90deg,#f5e227 0.2%,#fad62d 8.8%,#fabb3d 15.8%,#dfbc2a 18.5%,#cbc129 19.3%,#b5c533 19.6%,#96ca48 20.0%,#44cb89 20.8%,#2cc4a7 21.2%,#09bcbe 21.6%,#09b4d1 22.0%,#259ce7 22.8%,#317efb 23.5%,#465dfb 24.3%,#4741e4 25.1%,#3e26a8 26.3%,#3e26a8 29.0%,#4741e5 30.2%,#3f6fff 31.3%,#307ffb 31.7%,#1ea8e0 32.9%,#01b9c7 33.7%,#70cd65 36.0%,#8fca4d 37.2%,#bac430 41.1%,#b9c431 46.9%,#90ca4d 48.4%,#54cc7d 49.6%,#31c6a0 50.4%,#07bcbf 51.6%,#02b7cb 52.3%,#1da9e0 54.3%,#2896eb 57.8%,#16aeda 60.5%,#01b9c6 61.7%,#4dcb82 64.8%,#99c946 67.1%,#c9c129 69.5%,#ecba32 73.0%,#fdbd3d 76.5%,#f8d92c 97.9%,#f8da2b 99.8%)"></i><i class="b" style="top:441.8px;background:linear-gradient(90deg,#f5e227 0.2%,#fad52e 9.1%,#f9bb3d 15.8%,#ddbd29 18.5%,#c5c22a 19.3%,#8ccb50 20.0%,#3bc993 20.8%,#24c1ae 21.2%,#02bac4 21.6%,#20a4e3 22.4%,#3777fe 23.5%,#4756f6 24.3%,#4639d9 25.1%,#3e26a8 25.9%,#3e26a8 29.0%,#4742e6 30.2%,#4660fc 30.9%,#2f82fa 31.7%,#1caadf 32.9%,#02bac3 33.7%,#62cd71 35.6%,#82cc58 36.4%,#afc636 39.5%,#c0c32d 42.6%,#bac430 46.9%,#9dc943 48.1%,#68cd6b 49.2%,#3bc992 50.0%,#11beb9 51.2%,#01b9c7 51.9%,#20a4e3 54.7%,#2995ec 57.8%,#17aeda 60.5%,#01b9c6 61.7%,#4dcc82 64.8%,#99c946 67.1%,#c9c129 69.5%,#ecba32 73.0%,#fdbd3d 76.5%,#f8d92c 97.9%,#f8da2b 99.8%)"></i><i class="b" style="top:443.8px;background:linear-gradient(90deg,#f5e227 0.2%,#fad52d 9.1%,#f9bb3d 15.8%,#dbbd29 18.5%,#bfc32d 19.3%,#a4c83e 19.6%,#54cc7d 20.4%,#17bfb7 21.2%,#03b7cc 21.6%,#19acdc 22.0%,#2f80fa 23.2%,#465dfb 23.9%,#473fe2 24.7%,#3f29b0 25.5%,#3e26a8 26.3%,#3e26a8 29.0%,#4744e8 30.2%,#4563fc 30.9%,#2e84f8 31.7%,#19acdc 32.9%,#06b5cf 33.3%,#07bcc0 33.7%,#30c5a1 34.4%,#52cc7e 35.2%,#85cb55 36.4%,#b5c533 39.9%,#c1c32c 43.0%,#bbc42f 46.9%,#8ecb4e 48.4%,#39c895 50.0%,#0ebdbb 51.2%,#01b8c8 51.9%,#1fa6e2 54.3%,#2a93ed 57.8%,#17aeda 60.5%,#01b9c6 61.7%,#31c6a0 63.6%,#4ecc81 64.8%,#99c946 67.1%,#c9c129 69.5%,#ecba32 73.0%,#fdbd3d 76.5%,#f9d82c 97.5%,#f8d92b 99.8%)"></i><i class="b" style="top:445.8px;background:linear-gradient(90deg,#f5e227 0.2%,#fad52e 9.5%,#fabc3d 15.4%,#e0bc2a 18.1%,#ccc028 18.9%,#b7c532 19.3%,#6fcd66 20.0%,#45cb89 20.4%,#2cc4a7 20.8%,#08bcbf 21.2%,#0cb3d3 21.6%,#1ea7e1 22.0%,#3678fd 23.2%,#4466fd 23.5%,#4745ea 24.3%,#3e26a8 25.5%,#3e26a8 29.0%,#4746ea 30.2%,#4466fd 30.9%,#2d88f6 31.7%,#16afd9 32.9%,#02b7cb 33.3%,#0dbdbc 33.7%,#26c2ac 34.0%,#42ca8b 34.8%,#7dcc5b 36.0%,#acc739 38.7%,#c2c22b 41.8%,#c1c32c 46.5%,#a9c73a 47.7%,#7acc5e 48.8%,#37c898 50.0%,#0bbdbd 51.2%,#01b8ca 51.9%,#1da8e0 53.9%,#2a92ee 57.8%,#17aeda 60.5%,#01b9c6 61.7%,#32c69f 63.6%,#4ecc81 64.8%,#99c946 67.1%,#c9c129 69.5%,#eeba34 73.3%,#fdbd3d 76.5%,#f9d82c 97.5%,#f8d92b 99.8%)"></i><i class="b" style="top:447.7px;background:linear-gradient(90deg,#f5e228 0.2%,#f9d62d 9.1%,#fabb3d 15.4%,#debd29 18.1%,#c5c22a 18.9%,#adc638 19.3%,#5fcd73 20.0%,#38c896 20.4%,#01b9c8 21.2%,#23a1e4 22.0%,#2f82fa 22.8%,#465dfb 23.5%,#463de0 24.3%,#3e27a9 25.1%,#3e26a8 29.0%,#4849ed 30.2%,#426afe 30.9%,#327cfc 31.3%,#11b2d5 32.9%,#01b9c6 33.3%,#72cd63 35.6%,#92ca4c 36.8%,#bdc32e 40.3%,#c4c22b 44.2%,#c2c22c 46.5%,#a9c73a 47.7%,#78cc5f 48.8%,#35c79a 50.0%,#09bcbe 51.2%,#02b7cb 51.9%,#1baade 53.5%,#2c90f0 57.4%,#17aeda 60.5%,#01bac5 61.7%,#2cc4a7 63.2%,#4fcc81 64.8%,#9ac946 67.1%,#cac129 69.5%,#eeba34 73.3%,#fdbd3d 76.5%,#f9d82c 97.5%,#f8d92b 99.8%)"></i><i class="b" style="top:449.7px;background:linear-gradient(90deg,#f5e228 0.2%,#fad62d 9.5%,#f9bb3d 15.4%,#dbbd29 18.1%,#bdc32e 18.9%,#a0c840 19.3%,#4dcc82 20.0%,#0ebdbb 20.8%,#08b5d0 21.2%,#1da9e0 21.6%,#3579fd 22.8%,#4466fd 23.2%,#4744e9 23.9%,#402bb6 24.7%,#3e26a8 25.1%,#3e26a8 29.0%,#463ddf 29.8%,#465dfa 30.5%,#2f80fa 31.3%,#1babde 32.5%,#09b4d1 32.9%,#04bbc1 33.3%,#2fc5a3 34.0%,#65cd6e 35.2%,#85cb56 36.0%,#b5c533 39.1%,#c6c22a 42.2%,#c3c22b 46.5%,#a9c73a 47.7%,#75cc61 48.8%,#43ca8a 49.6%,#15bfb8 50.8%,#01b9c7 51.6%,#1fa6e2 53.9%,#2c8ff1 57.4%,#17aeda 60.5%,#02bac5 61.7%,#2cc4a6 63.2%,#4fcc80 64.8%,#9ac946 67.1%,#cac129 69.5%,#eeba34 73.3%,#fdbd3d 76.5%,#f9d82c 97.5%,#f8d92b 99.8%)"></i><i class="b" style="top:451.7px;background:linear-gradient(90deg,#f5e228 0.2%,#fad52d 9.9%,#f9ba3d 15.4%,#d7be28 18.1%,#cac129 18.5%,#b3c534 18.9%,#66cd6d 19.6%,#3dc991 20.0%,#25c2ae 20.4%,#02bac5 20.8%,#22a2e4 21.6%,#2f82f9 22.4%,#465dfb 23.2%,#463cdf 23.9%,#3e26a8 24.7%,#3e26a8 28.6%,#3f28af 29.0%,#4741e5 29.8%,#4562fc 30.5%,#2e86f8 31.3%,#17aeda 32.5%,#02b7cb 32.9%,#0cbdbc 33.3%,#26c2ad 33.7%,#42ca8c 34.4%,#7dcc5b 35.6%,#afc637 38.3%,#c7c12a 41.4%,#c4c22b 46.5%,#a8c73b 47.7%,#72cd64 48.8%,#3fca8e 49.6%,#11beb9 50.8%,#01b8c8 51.6%,#20a4e3 53.9%,#2c8ef1 57.4%,#16afda 60.5%,#03b7cc 61.3%,#0bbdbd 62.1%,#2dc4a5 63.2%,#50cc80 64.8%,#a3c83e 67.5%,#cfc028 69.8%,#f9bb3d 75.3%,#f9d72d 95.5%,#f8d92b 99.8%)"></i><i class="b" style="top:453.7px;background:linear-gradient(90deg,#f5e128 0.2%,#fad42e 10.3%,#fabb3d 15.0%,#ddbd29 17.7%,#c1c32c 18.5%,#a6c83d 18.9%,#53cc7d 19.6%,#13beb9 20.4%,#06b6ce 20.8%,#1caadf 21.2%,#347afd 22.4%,#4367fd 22.8%,#4745e9 23.5%,#402ab5 24.3%,#3e26a8 24.7%,#3e26a8 28.6%,#412cb9 29.0%,#4747eb 29.8%,#4368fe 30.5%,#2d8bf3 31.3%,#10b2d5 32.5%,#01bac6 32.9%,#73cd63 35.2%,#93ca4a 36.4%,#bec32e 39.5%,#c8c129 43.4%,#c5c22a 46.5%,#a8c73b 47.7%,#6ecd66 48.8%,#3cc991 49.6%,#0dbdbb 50.8%,#01b8ca 51.6%,#1ea7e1 53.5%,#2c8ef1 57.4%,#1baade 60.1%,#02b7cb 61.3%,#0cbdbc 62.1%,#2ec4a5 63.2%,#44cb8a 64.4%,#9ac945 67.1%,#cac129 69.5%,#eeba34 73.3%,#fdbd3d 76.5%,#f9d82c 97.5%,#f8d92b 99.8%)"></i><i class="b" style="top:455.7px;background:linear-gradient(90deg,#f5e128 0.2%,#fad42e 10.3%,#f9bb3d 15.0%,#d9be28 17.7%,#b6c532 18.5%,#96ca49 18.9%,#40ca8d 19.6%,#27c2ab 20.0%,#02bbc3 20.4%,#21a3e3 21.2%,#2e84f9 22.0%,#465ffb 22.8%,#463de0 23.5%,#3e26a8 24.3%,#3e26a8 28.6%,#463de0 29.4%,#465efb 30.2%,#2f82fa 30.9%,#1aacdd 32.1%,#06b5cf 32.5%,#07bcbf 32.9%,#22c1b0 33.3%,#53cc7d 34.4%,#7bcc5d 35.2%,#aac73a 37.5%,#c8c129 40.7%,#c5c22a 46.5%,#a6c83c 47.7%,#6acd6a 48.8%,#39c895 49.6%,#0abdbd 50.8%,#02b7cb 51.6%,#1fa6e2 53.5%,#2d8df2 57.0%,#1aabdd 60.1%,#01b8ca 61.3%,#0ebebb 62.1%,#2ec5a4 63.2%,#51cc7f 64.8%,#a4c83e 67.5%,#cfc028 69.8%,#f9bb3d 75.3%,#fad62d 94.7%,#f8d92b 99.8%)"></i><i class="b" style="top:457.7px;background:linear-gradient(90deg,#f6e128 0.2%,#fad52e 9.9%,#fbbc3d 14.6%,#debd29 17.3%,#c3c22b 18.1%,#a8c73b 18.5%,#56cc7b 19.3%,#15bfb7 20.0%,#05b6cd 20.4%,#1babde 20.8%,#337bfc 22.0%,#4368fe 22.4%,#4746ea 23.2%,#402bb8 23.9%,#3e26a8 24.3%,#3e26a8 28.2%,#402ab4 28.6%,#4744e9 29.4%,#4466fd 30.2%,#2d89f5 30.9%,#12b1d7 32.1%,#01b9c7 32.5%,#72cd63 34.8%,#94ca4a 36.0%,#c3c22b 39.5%,#c9c129 45.7%,#bdc32e 46.9%,#93ca4b 48.1%,#36c799 49.6%,#07bcbf 50.8%,#04b6cd 51.6%,#1da9e0 53.1%,#2d8df2 57.0%,#19acdc 60.1%,#01b8c9 61.3%,#52cc7e 64.8%,#a4c83e 67.5%,#cfc028 69.8%,#f9bb3d 75.3%,#fad62d 94.7%,#f8d92b 99.8%)"></i><i class="b" style="top:459.7px;background:linear-gradient(90deg,#f6e028 0.2%,#fad42e 9.9%,#fabb3d 14.6%,#dabd28 17.3%,#cdc028 17.7%,#b7c532 18.1%,#96ca48 18.5%,#40ca8d 19.3%,#27c2ab 19.6%,#02bbc3 20.0%,#21a4e3 20.8%,#2e84f8 21.6%,#3c72ff 22.0%,#484ff2 22.8%,#4331c8 23.5%,#3e27aa 23.9%,#3e26a8 28.2%,#463cdf 29.0%,#465efb 29.8%,#2f82fa 30.5%,#19acdc 31.7%,#05b6ce 32.1%,#09bcbe 32.5%,#24c1af 32.9%,#40ca8d 33.7%,#7dcc5b 34.8%,#acc739 37.2%,#c9c129 40.3%,#c8c129 46.1%,#b0c636 47.3%,#79cc5e 48.4%,#44cb8a 49.2%,#13beb9 50.4%,#01b9c8 51.2%,#20a4e3 53.5%,#2c8ef2 57.0%,#18addb 60.1%,#01b9c7 61.3%,#54cc7c 64.8%,#a4c83e 67.5%,#cac129 69.5%,#eeba34 73.3%,#fdbd3d 76.5%,#f9d82c 97.5%,#f8d92c 99.8%)"></i><i class="b" style="top:461.7px;background:linear-gradient(90deg,#f6e028 0.2%,#fbd32f 9.9%,#f9bb3d 14.6%,#debd29 16.9%,#c2c22c 17.7%,#a7c73c 18.1%,#53cc7d 18.9%,#12beb9 19.6%,#06b6ce 20.0%,#1caadf 20.4%,#337bfc 21.6%,#4368fe 22.0%,#4747eb 22.8%,#412cba 23.5%,#3e26a8 23.9%,#3e26a8 27.8%,#402ab4 28.2%,#4745e9 29.0%,#4367fd 29.8%,#337afd 30.2%,#1da8e0 31.3%,#02bac4 32.1%,#2ec4a4 32.9%,#4fcc80 33.7%,#86cb55 34.8%,#b9c430 37.9%,#cac129 40.7%,#c8c129 46.1%,#adc638 47.3%,#72cd64 48.4%,#3eca8f 49.2%,#0ebebb 50.4%,#02bbc3 50.8%,#07b5d0 51.6%,#1ea7e1 53.1%,#2c8ef1 57.0%,#16afda 60.1%,#03b7cc 60.9%,#0abdbd 61.7%,#2cc4a7 62.8%,#4acb85 64.4%,#a5c83d 67.5%,#cfc028 69.8%,#f9bb3d 75.3%,#fad62d 95.1%,#f8d92c 99.8%)"></i><i class="b" style="top:463.7px;background:linear-gradient(90deg,#f6df29 0.2%,#fcd12f 9.9%,#f8ba3d 14.6%,#d9be28 16.9%,#b4c534 17.7%,#66cd6d 18.5%,#3cc991 18.9%,#24c1ae 19.3%,#01bac5 19.6%,#22a2e4 20.4%,#2e83f9 21.2%,#465ffb 22.0%,#473ee2 22.8%,#3e27ab 23.5%,#3e26a8 27.8%,#463ee1 28.6%,#4660fc 29.4%,#2e85f8 30.2%,#15afd8 31.3%,#01b8c9 31.7%,#60cd72 33.7%,#8dcb4f 34.8%,#bdc32e 37.9%,#cbc129 41.1%,#c8c129 46.1%,#a9c73b 47.3%,#6acd6a 48.4%,#39c895 49.2%,#0abdbd 50.4%,#02b7cb 51.2%,#1fa6e2 53.1%,#2d8df2 56.6%,#1aabdd 59.7%,#01b8ca 60.9%,#03bbc2 61.3%,#2ec4a5 62.8%,#4ccb83 64.4%,#a6c83d 67.5%,#d0bf27 69.8%,#f9bb3d 75.3%,#fad62d 95.1%,#f8d92c 99.8%)"></i><i class="b" style="top:465.7px;background:linear-gradient(90deg,#f6df29 0.2%,#fccf30 9.9%,#f9bb3d 14.2%,#ddbd29 16.5%,#bec32e 17.3%,#a1c840 17.7%,#4bcb84 18.5%,#0bbdbd 19.3%,#09b4d1 19.6%,#1da8e0 20.0%,#3479fd 21.2%,#4367fd 21.6%,#4746ea 22.4%,#3e26a8 23.5%,#3e26a8 27.4%,#402bb7 27.8%,#4848ec 28.6%,#406cfe 29.4%,#3080fb 29.8%,#19addc 30.9%,#04b6cd 31.3%,#0cbdbc 31.7%,#27c2ac 32.1%,#45cb89 32.9%,#81cc58 34.0%,#b3c534 36.8%,#cbc129 39.9%,#c7c12a 46.1%,#a4c83e 47.3%,#62cd70 48.4%,#35c79a 49.2%,#08bcbf 50.4%,#04b6cc 51.2%,#1da9e0 52.7%,#2d8df2 56.6%,#19addc 59.7%,#01b9c7 60.9%,#5acc77 64.8%,#b0c636 67.9%,#d4bf28 70.2%,#fbbc3d 75.7%,#f9d72d 96.7%,#f8d92c 99.8%)"></i><i class="b" style="top:467.7px;background:linear-gradient(90deg,#f6de29 0.2%,#fcce31 9.5%,#f8ba3d 14.2%,#d6be28 16.5%,#c6c22a 16.9%,#adc638 17.3%,#5bcc76 18.1%,#1bc0b4 18.9%,#01b8ca 19.3%,#19addb 19.6%,#2f81fa 20.8%,#465dfa 21.6%,#463de0 22.4%,#3e27aa 23.2%,#3e27a9 27.4%,#4741e5 28.2%,#4466fd 29.0%,#2d8cf3 29.8%,#1caadf 30.5%,#08b5d0 30.9%,#07bcbf 31.3%,#23c1af 31.7%,#42ca8b 32.5%,#7fcc5a 33.7%,#adc638 36.0%,#cbc129 39.1%,#cac129 45.7%,#afc637 46.9%,#73cd62 48.1%,#41ca8d 48.8%,#13beb9 50.0%,#01b9c8 50.8%,#20a4e3 53.1%,#2c8ef2 56.6%,#16afda 59.7%,#03b7cc 60.5%,#0bbdbd 61.3%,#2cc4a7 62.5%,#46cb87 64.0%,#a8c73b 67.5%,#d1bf27 69.8%,#fabb3d 75.3%,#fad52d 94.0%,#f8d92c 99.8%)"></i><i class="b" style="top:469.7px;background:linear-gradient(90deg,#f7dd2a 0.2%,#fdce31 9.1%,#f9bb3d 13.8%,#dabd28 16.1%,#b6c532 16.9%,#6acd6a 17.7%,#3fca8e 18.1%,#27c2ac 18.5%,#02bbc3 18.9%,#20a5e2 19.6%,#3876fe 20.8%,#4564fd 21.2%,#4744e8 22.0%,#402bb7 22.8%,#3e26a8 23.2%,#3e26a8 27.0%,#463bdd 27.8%,#4660fc 28.6%,#2d88f6 29.4%,#1ea7e1 30.2%,#03bbc2 30.9%,#31c6a0 31.7%,#3fca8e 32.1%,#7ecc5a 33.3%,#adc638 35.6%,#cbc129 38.7%,#c9c129 45.7%,#aac73a 46.9%,#6bcd69 48.1%,#3bc993 48.8%,#0ebdbb 50.0%,#02bbc3 50.4%,#07b5d0 51.2%,#1ea7e1 52.7%,#2c8ef1 56.6%,#1aacdd 59.3%,#01b8c9 60.5%,#10beba 61.3%,#2ec4a4 62.5%,#49cb85 64.0%,#a9c73a 67.5%,#d1bf27 69.8%,#fabb3d 75.3%,#fad52e 94.0%,#f8d92c 99.8%)"></i><i class="b" style="top:471.7px;background:linear-gradient(90deg,#f7dc2a 0.2%,#fdcd32 8.8%,#f8ba3d 13.8%,#ddbd29 15.8%,#bec32e 16.5%,#a0c841 16.9%,#4bcb84 17.7%,#0cbdbc 18.5%,#08b4d0 18.9%,#1ca9df 19.3%,#327cfc 20.4%,#426afe 20.8%,#484aee 21.6%,#422fc3 22.4%,#3e26a8 22.8%,#3e26a8 26.7%,#3f29b2 27.0%,#4848ec 27.8%,#3e6fff 28.6%,#12b1d6 30.2%,#02bac5 30.5%,#2fc5a2 31.3%,#7dcc5b 32.9%,#adc638 35.2%,#cbc129 38.3%,#c8c129 45.7%,#a4c83e 46.9%,#62cd71 48.1%,#36c899 48.8%,#02bac5 50.4%,#22a2e4 53.1%,#2d8df2 56.2%,#18aedb 59.3%,#01b9c6 60.5%,#2bc3a8 62.1%,#4ccb83 64.0%,#b3c534 67.9%,#d6be28 70.2%,#fbbc3d 75.7%,#fad52e 94.0%,#f8d92c 99.8%)"></i><i class="b" style="top:473.7px;background:linear-gradient(90deg,#f7db2a 0.2%,#fec736 9.9%,#f6ba3b 13.8%,#d5be28 15.8%,#c4c22b 16.1%,#a9c73a 16.5%,#34c79c 17.7%,#02b7cb 18.5%,#19addc 18.9%,#2f82fa 20.0%,#465ffb 20.8%,#4740e4 21.6%,#3f29b1 22.4%,#3e26a8 23.2%,#3e26a8 26.7%,#4742e6 27.4%,#426afe 28.2%,#307ffb 28.6%,#15afd8 29.8%,#01b9c7 30.2%,#6acd6a 32.1%,#89cb52 32.9%,#bcc42f 36.0%,#cdc028 39.1%,#cbc129 45.3%,#aec637 46.5%,#72cd64 47.7%,#41ca8c 48.4%,#15bfb7 49.6%,#01b9c7 50.4%,#20a5e2 52.7%,#2c8ef2 56.2%,#1babde 58.9%,#01b7ca 60.1%,#0ebdbb 60.9%,#2dc4a5 62.1%,#4fcc80 64.0%,#b5c533 67.9%,#d7be28 70.2%,#fbbc3d 75.7%,#fad52e 94.0%,#f8d92c 99.8%)"></i><i class="b" style="top:475.6px;background:linear-gradient(90deg,#f8da2b 0.2%,#fec834 8.8%,#fabb3d 13.0%,#e2bc2b 15.0%,#c9c129 15.8%,#b1c636 16.1%,#61cd71 16.9%,#3ac994 17.3%,#01b9c6 18.1%,#21a3e3 18.9%,#3875fe 20.0%,#4854f6 20.8%,#4537d6 21.6%,#3e26a8 22.4%,#3e26a8 26.3%,#463de0 27.0%,#4465fd 27.8%,#337bfd 28.2%,#18aedb 29.4%,#01b8c9 29.8%,#68cd6b 31.7%,#89cb53 32.5%,#bcc42f 35.6%,#cdc028 38.3%,#cac129 45.3%,#a9c73b 46.5%,#50cc7f 48.1%,#2fc5a3 48.8%,#04bbc2 50.0%,#06b5cf 50.8%,#1ea7e1 52.3%,#2d8df2 55.8%,#19addc 58.9%,#01b9c7 60.1%,#2fc5a3 62.1%,#52cc7e 64.0%,#b6c532 67.9%,#d7be28 70.2%,#fbbc3d 75.7%,#fad52e 94.0%,#f8d82c 99.8%)"></i><i class="b" style="top:477.6px;background:linear-gradient(90deg,#f8d92c 0.2%,#fec13a 10.7%,#f5ba3a 13.4%,#dbbd29 15.0%,#cdc028 15.4%,#b7c532 15.8%,#96ca49 16.1%,#40ca8d 16.9%,#28c3aa 17.3%,#04bbc1 17.7%,#1ea7e1 18.5%,#347afd 19.6%,#4369fe 20.0%,#4849ed 20.8%,#4230c3 21.6%,#3e26a8 22.0%,#3e26a8 25.9%,#402ab5 26.3%,#4539d9 26.7%,#484cf0 27.0%,#4660fc 27.4%,#3776fe 27.8%,#1aacdd 29.0%,#03b7cc 29.4%,#4fcc81 30.9%,#7bcc5d 31.7%,#a7c73c 33.7%,#cac129 36.8%,#c9c129 45.3%,#a2c83f 46.5%,#36c898 48.4%,#02bac4 50.0%,#08b4d0 50.8%,#1fa6e1 52.3%,#2d8df2 55.8%,#16aeda 58.9%,#03b7cc 59.7%,#02bac4 60.1%,#2cc4a7 61.7%,#4bcb83 63.6%,#b8c431 67.9%,#d8be28 70.2%,#fbbc3d 75.7%,#fad52e 94.0%,#f8d82c 99.8%)"></i><i class="b" style="top:479.6px;background:linear-gradient(90deg,#f9d82c 0.2%,#f9bb3d 12.6%,#ddbd29 14.6%,#bbc42f 15.4%,#9dc943 15.8%,#47cb87 16.5%,#0abdbd 17.3%,#09b4d1 17.7%,#1ca9e0 18.1%,#317efb 19.3%,#475cfa 20.0%,#473ee1 20.8%,#3f28af 21.6%,#3e26a8 22.8%,#3e27ac 25.9%,#4747ec 26.7%,#475cfa 27.0%,#3c72ff 27.4%,#1ca9df 28.6%,#06b5cf 29.0%,#0cbdbc 29.4%,#29c3aa 29.8%,#4ccb83 30.5%,#79cc5e 31.3%,#a7c73c 33.3%,#cbc129 36.4%,#ccc028 44.9%,#aec637 46.1%,#58cc79 47.7%,#33c69e 48.4%,#08bcbf 49.6%,#03b6cc 50.4%,#20a5e2 52.3%,#2c8ef1 55.8%,#1aacdd 58.6%,#01b8c8 59.7%,#2ec5a4 61.7%,#4ecc81 63.6%,#b9c430 67.9%,#d9be28 70.2%,#fbbc3d 75.7%,#fad52e 94.0%,#f8d82c 99.8%)"></i><i class="b" style="top:481.6px;background:linear-gradient(90deg,#f9d72d 0.2%,#fabb3d 12.3%,#dfbc2a 14.2%,#bfc32d 15.0%,#a2c840 15.4%,#4dcc82 16.1%,#10beba 16.9%,#06b6ce 17.3%,#1babde 17.7%,#2f81fa 18.9%,#465ffb 19.6%,#4741e5 20.4%,#402ab5 21.2%,#3e26a8 21.6%,#3e26a8 25.5%,#4743e7 26.3%,#4758f8 26.7%,#3f6dfe 27.0%,#2797eb 27.8%,#0bb4d2 28.6%,#07bcbf 29.0%,#26c2ad 29.4%,#48cb86 30.2%,#76cc60 30.9%,#9fc941 32.5%,#c8c129 35.6%,#cfc028 41.1%,#ccc028 44.9%,#a9c73b 46.1%,#4fcc80 47.7%,#22c1b0 48.8%,#04bbc1 49.6%,#06b5ce 50.4%,#1ea8e1 51.9%,#2d8df2 55.4%,#18aedb 58.6%,#01bac5 59.7%,#2bc3a8 61.3%,#51cc7f 63.6%,#bbc42f 67.9%,#ddbd29 70.6%,#fcbc3d 75.7%,#fad52e 94.0%,#f8d82c 99.8%)"></i><i class="b" style="top:483.6px;background:linear-gradient(90deg,#fad52d 0.2%,#fbbc3d 11.9%,#e0bc2a 13.8%,#c1c32c 14.6%,#a5c83d 15.0%,#50cc80 15.8%,#10beba 16.5%,#05b6ce 16.9%,#1babde 17.3%,#2f81fa 18.5%,#4660fb 19.3%,#4742e6 20.0%,#402bb7 20.8%,#3e26a8 21.2%,#3e26a8 25.1%,#4742e6 25.9%,#416cfe 26.7%,#2f82fa 27.0%,#20a5e2 27.8%,#04bbc2 28.6%,#22c1b0 29.0%,#5ecc74 30.2%,#84cc56 30.9%,#b9c430 33.7%,#cfc028 36.4%,#cbc129 44.9%,#a3c83f 46.1%,#47cb87 47.7%,#1cc0b4 48.8%,#02bac4 49.6%,#22a2e4 52.3%,#2c8ef2 55.4%,#1babde 58.2%,#01b8ca 59.3%,#10beba 60.1%,#2dc4a5 61.3%,#55cc7c 63.6%,#b6c533 67.5%,#d3bf27 69.5%,#fbbc3d 75.3%,#fad62d 95.5%,#f8d82c 99.8%)"></i><i class="b" style="top:485.6px;background:linear-gradient(90deg,#fbd32e 0.2%,#f9ba3d 11.9%,#e1bc2b 13.4%,#c2c22c 14.2%,#a5c83d 14.6%,#4dcc82 15.4%,#0bbdbd 16.1%,#08b4d1 16.5%,#1ca9df 16.9%,#307ffb 18.1%,#465efb 18.9%,#4741e5 19.6%,#402bb7 20.4%,#3e26a8 20.8%,#3e27ac 24.7%,#4745e9 25.5%,#406dfe 26.3%,#2f82fa 26.7%,#20a4e3 27.4%,#02bac4 28.2%,#1fc0b2 28.6%,#42ca8b 29.4%,#83cc57 30.5%,#b5c533 32.9%,#cec028 35.2%,#cfc028 44.6%,#bfc32e 45.3%,#87cb54 46.5%,#3fca8e 47.7%,#14bfb8 48.8%,#01b9c7 49.6%,#20a5e3 51.9%,#2c8ef1 55.4%,#19addc 58.2%,#01b9c6 59.3%,#2ac3a8 60.9%,#50cc80 63.2%,#b9c430 67.5%,#dcbd29 70.2%,#fcbd3d 75.7%,#fad62d 95.1%,#f8d82c 99.8%)"></i><i class="b" style="top:487.6px;background:linear-gradient(90deg,#fbd12f 0.2%,#f9bb3d 11.5%,#e1bc2b 13.0%,#c1c32c 13.8%,#a3c83f 14.2%,#47cb87 15.0%,#05bbc1 15.8%,#1fa6e1 16.5%,#327bfc 17.7%,#475bfa 18.5%,#473fe2 19.3%,#402ab5 20.0%,#3e26a8 20.4%,#3e26a8 23.9%,#412cb8 24.3%,#4538d8 24.7%,#475cfa 25.5%,#3e70ff 25.9%,#2895ec 26.7%,#01bac5 27.8%,#70cd65 29.8%,#98c946 30.9%,#c3c22b 33.3%,#d1bf27 36.0%,#cfc028 44.6%,#aac73a 45.7%,#4dcc82 47.3%,#1fc0b2 48.4%,#02bbc3 49.2%,#07b5d0 50.0%,#1ea7e1 51.6%,#2d8df2 55.1%,#15afd9 58.2%,#02b7ca 58.9%,#03bbc2 59.3%,#2dc4a5 60.9%,#54cc7c 63.2%,#b6c533 67.1%,#d3bf27 69.1%,#fabc3d 74.9%,#fad62d 95.1%,#f8d82c 99.8%)"></i><i class="b" style="top:489.6px;background:linear-gradient(90deg,#fccf30 0.2%,#f9bb3d 11.1%,#e0bc2a 12.6%,#d3bf27 13.0%,#bec32e 13.4%,#9dc943 13.8%,#3eca8f 14.6%,#01b9c7 15.4%,#21a3e3 16.1%,#3677fe 17.3%,#4759f8 18.1%,#463de0 18.9%,#402ab4 19.6%,#3e26a8 20.0%,#3e27a9 23.5%,#473ee2 24.3%,#4661fc 25.1%,#2e86f7 25.9%,#12b1d7 27.0%,#01b9c6 27.4%,#56cc7b 29.0%,#81cc58 29.8%,#b3c534 31.7%,#d0bf27 34.0%,#cec028 44.6%,#b6c532 45.3%,#76cc60 46.5%,#44ca8a 47.3%,#16bfb7 48.4%,#01b9c6 49.2%,#20a5e2 51.6%,#2c8ef2 55.1%,#19acdc 57.8%,#01b9c7 58.9%,#2ac3a8 60.5%,#50cc7f 62.8%,#bbc430 67.1%,#dcbd29 69.8%,#fcbc3d 75.3%,#fad52e 93.6%,#f8d82c 99.8%)"></i><i class="b" style="top:491.6px;background:linear-gradient(90deg,#fdcd32 0.2%,#f9ba3d 10.7%,#debc2a 12.3%,#d0bf27 12.6%,#b9c431 13.0%,#94ca4a 13.4%,#36c898 14.2%,#17bfb6 14.6%,#03b7cc 15.0%,#19acdc 15.4%,#3974fe 16.9%,#4756f7 17.7%,#463cdf 18.5%,#402ab4 19.3%,#3e26a8 19.6%,#3e26a8 22.8%,#4745e9 23.9%,#4466fd 24.7%,#2d89f6 25.5%,#13b1d7 26.7%,#01b9c7 27.0%,#53cc7d 28.6%,#80cc59 29.4%,#b5c533 31.3%,#d1bf27 33.7%,#d2bf27 44.2%,#c0c32d 44.9%,#86cb54 46.1%,#3bc992 47.3%,#0ebebb 48.4%,#01b8c9 49.2%,#1ea7e1 51.2%,#2c8ef2 54.7%,#20a4e3 57.0%,#02b7cb 58.6%,#03bbc3 58.9%,#2dc4a5 60.5%,#4ccb83 62.5%,#b8c531 66.7%,#dbbd29 69.5%,#fcbc3d 74.9%,#fad42e 92.8%,#f8d82c 99.8%)"></i><i class="b" style="top:493.6px;background:linear-gradient(90deg,#feca33 0.2%,#fabb3d 9.9%,#e5bb2d 11.5%,#cac129 12.3%,#b0c636 12.6%,#88cb53 13.0%,#56cc7b 13.4%,#0dbdbb 14.2%,#07b5d0 14.6%,#1caadf 15.0%,#3b73fe 16.5%,#4756f6 17.3%,#463ddf 18.1%,#3e26a8 19.3%,#3e26a8 22.0%,#3f28af 22.4%,#463ddf 23.2%,#475af9 23.9%,#337bfc 24.7%,#13b0d7 26.3%,#01b9c8 26.7%,#50cc7f 28.2%,#8ecb4f 29.4%,#bdc32e 31.3%,#d2bf27 33.3%,#d2bf27 44.2%,#a9c73a 45.3%,#62cd70 46.5%,#35c79a 47.3%,#08bcbf 48.4%,#03b7cc 49.2%,#1da9e0 50.8%,#2c8ef2 54.7%,#1aacdd 57.4%,#01b9c7 58.6%,#2bc3a8 60.1%,#48cb86 62.1%,#b4c533 66.3%,#d6be28 68.7%,#fbbc3d 74.5%,#fad52d 94.0%,#f8d82c 99.8%)"></i><i class="b" style="top:495.6px;background:linear-gradient(90deg,#fec835 0.2%,#f9bb3d 9.5%,#e0bc2b 11.1%,#c1c32d 11.9%,#a3c83e 12.3%,#4acb84 13.0%,#08bcbf 13.8%,#0ab4d2 14.2%,#249de7 15.0%,#3a73fe 16.1%,#4757f7 16.9%,#473ee2 17.7%,#3e26a8 18.9%,#3e26a8 21.6%,#4742e6 22.8%,#465efb 23.5%,#317dfc 24.3%,#13b0d7 25.9%,#01b8c9 26.3%,#4dcb82 27.8%,#7ccc5c 28.6%,#acc738 30.2%,#d1bf27 32.5%,#d6be28 43.8%,#b5c533 44.9%,#73cd63 46.1%,#3eca8f 46.9%,#10beba 48.1%,#03bbc2 48.4%,#06b5cf 49.2%,#1ea7e1 50.8%,#2c8ef1 54.7%,#17aeda 57.4%,#02b7cb 58.2%,#02bbc3 58.6%,#27c2ac 59.7%,#4ecc82 62.1%,#b9c430 66.3%,#dcbd29 69.1%,#fcbc3d 74.5%,#fad52d 94.0%,#f8d82c 99.8%)"></i><i class="b" style="top:497.6px;background:linear-gradient(90deg,#fec636 0.2%,#fabb3d 8.8%,#e3bb2c 10.3%,#c9c129 11.1%,#93ca4a 11.9%,#41ca8c 12.6%,#2ac3a9 13.0%,#08bcbf 13.4%,#08b4d1 13.8%,#1babde 14.2%,#3777fe 15.8%,#475bf9 16.5%,#4538d7 17.7%,#3f29b1 18.5%,#3e26a8 19.3%,#3e26a8 20.8%,#3f28af 21.2%,#4745e9 22.4%,#3f6fff 23.5%,#2d8cf3 24.3%,#15afd8 25.5%,#02b7ca 25.9%,#0dbdbb 26.3%,#27c2ab 26.7%,#48cb86 27.4%,#89cb53 28.6%,#bac430 30.5%,#d5be28 32.9%,#d9be28 43.4%,#bec32e 44.6%,#82cc57 45.7%,#37c897 46.9%,#09bcbe 48.1%,#03b7cc 48.8%,#1ca9df 50.4%,#2d8df2 54.3%,#1aabdd 57.0%,#01b9c7 58.2%,#2bc3a8 59.7%,#53cc7d 62.1%,#b6c532 66.0%,#d6be28 68.3%,#fbbc3d 74.1%,#fad52e 93.6%,#f8d82c 99.8%)"></i><i class="b" style="top:499.6px;background:linear-gradient(90deg,#fec438 0.2%,#f7ba3c 8.0%,#dabd28 9.5%,#bfc32e 10.3%,#93ca4a 11.1%,#38c896 12.3%,#27c2ab 12.6%,#0abdbd 13.0%,#05b6cd 13.4%,#21a3e3 14.2%,#317efb 15.4%,#4561fc 16.1%,#463de0 17.3%,#3e27aa 18.5%,#3e26a8 20.4%,#4747eb 22.0%,#3e70ff 23.2%,#307ffb 23.5%,#16afd9 25.1%,#03b7cc 25.5%,#0abdbd 25.9%,#24c2ae 26.3%,#44ca8a 27.0%,#85cb56 28.2%,#b7c531 30.2%,#d7be28 32.5%,#dcbd29 43.0%,#c2c22c 44.2%,#8fcb4e 45.3%,#42ca8b 46.5%,#12beb9 47.7%,#01b8c8 48.4%,#20a4e3 50.8%,#2c8ef1 54.3%,#17aedb 57.0%,#03b7cc 57.8%,#02bac3 58.2%,#2ec4a5 59.7%,#4ecc81 61.7%,#b2c635 65.6%,#d1bf27 67.5%,#f9bb3d 73.3%,#fad52e 93.6%,#f8d82c 99.8%)"></i><i class="b" style="top:501.6px;background:linear-gradient(90deg,#fec239 0.2%,#f6ba3b 6.4%,#d4be28 8.4%,#afc637 9.5%,#76cc60 10.7%,#34c79c 11.9%,#01b8c9 13.0%,#1ea7e1 13.8%,#3776fe 15.4%,#475bf9 16.1%,#4639d9 17.3%,#3e26a8 18.5%,#3f28ad 20.0%,#484aed 21.6%,#3d71ff 22.8%,#2d8df3 23.5%,#17aeda 24.7%,#05b6ce 25.1%,#07bcc0 25.5%,#30c5a1 26.3%,#56cc7b 27.0%,#8ecb4e 28.2%,#c4c22a 30.5%,#ddbd29 32.9%,#debd29 42.6%,#c4c22b 43.8%,#97ca48 44.9%,#3ac994 46.5%,#0bbdbd 47.7%,#02b7cb 48.4%,#1fa6e1 50.4%,#2c8ef2 53.9%,#1babde 56.6%,#01b9c8 57.8%,#2bc3a8 59.3%,#53cc7d 61.7%,#b6c532 65.6%,#d6be28 67.9%,#fcbc3d 74.1%,#fad52e 93.6%,#f8d82c 99.8%)"></i><i class="b" style="top:503.5px;background:linear-gradient(90deg,#fec03b 0.2%,#f4ba39 4.9%,#d1bf27 7.2%,#a7c73c 8.8%,#65cd6e 10.3%,#32c69f 11.5%,#01b9c6 12.6%,#23a1e4 13.8%,#317dfc 15.0%,#4562fc 15.8%,#473fe2 16.9%,#3e26a8 18.5%,#3e26a8 19.3%,#4740e4 20.8%,#4564fd 22.0%,#307ffb 22.8%,#19addb 24.3%,#07b5cf 24.7%,#04bbc2 25.1%,#67cd6c 27.0%,#97ca48 28.2%,#cac129 30.5%,#e1bc2b 32.9%,#e3bc2c 41.8%,#c5c22a 43.4%,#8ecb4f 44.9%,#34c79c 46.5%,#06bcc0 47.7%,#05b6cd 48.4%,#20a5e2 50.4%,#2c8ef2 53.9%,#18addb 56.6%,#03b7cc 57.4%,#02bac4 57.8%,#2ec4a5 59.3%,#4ecc81 61.3%,#b2c535 65.2%,#d1bf27 67.1%,#f9bb3d 73.0%,#fad52e 93.6%,#f8d82c 99.8%)"></i><i class="b" style="top:505.5px;background:linear-gradient(90deg,#fdbd3d 0.2%,#f1ba36 3.7%,#cec028 6.4%,#9ec942 8.4%,#61cd71 9.9%,#32c69e 11.1%,#16bfb7 11.9%,#02bac3 12.3%,#269ae9 13.8%,#3975fe 15.0%,#4850f2 16.1%,#412ebe 17.7%,#3e27ab 18.5%,#412cba 19.3%,#484df0 20.8%,#4564fd 21.6%,#307ffb 22.4%,#1aacdd 23.9%,#09b4d1 24.3%,#02bac4 24.7%,#62cd71 26.7%,#93ca4a 27.8%,#c8c129 30.2%,#e4bb2c 32.9%,#e5bb2c 41.4%,#c8c129 43.0%,#96ca48 44.6%,#55cc7c 45.7%,#3cc991 46.1%,#0dbdbc 47.3%,#01b8ca 48.1%,#1ea7e1 50.0%,#2c8ef1 53.9%,#1baade 56.2%,#01b8c8 57.4%,#2bc3a8 58.9%,#4acb84 60.9%,#b7c532 65.2%,#d6be28 67.5%,#fcbc3d 73.7%,#fad52e 93.2%,#f8d82c 99.8%)"></i><i class="b" style="top:507.5px;background:linear-gradient(90deg,#f9ba3d 0.2%,#e5bb2c 4.1%,#c9c129 6.4%,#99c946 8.4%,#6bcd69 9.5%,#35c79a 10.7%,#19bfb5 11.5%,#04bbc2 11.9%,#05b6ce 12.3%,#1fa6e2 13.0%,#3579fd 14.6%,#4660fb 15.4%,#4538d7 16.9%,#402ab4 18.1%,#412ebe 18.9%,#484cf0 20.4%,#3d70ff 21.6%,#2d8af4 22.4%,#1babde 23.5%,#01b9c6 24.3%,#29c3aa 25.1%,#46cb87 25.9%,#84cc56 27.0%,#bec32e 29.4%,#debc2a 31.7%,#e9bb2f 37.2%,#e7bb2d 41.1%,#c3c22b 43.0%,#90ca4d 44.6%,#36c899 46.1%,#08bcbf 47.3%,#03b6cc 48.1%,#1ca9e0 49.6%,#2c8ef2 53.5%,#19addc 56.2%,#03b6cc 57.0%,#02bac4 57.4%,#2ec4a4 58.9%,#4fcc80 60.9%,#b3c534 64.8%,#d5be28 67.1%,#fbbc3d 73.3%,#fad52e 93.2%,#f8d82c 99.8%)"></i><i class="b" style="top:509.5px;background:linear-gradient(90deg,#e8bb2f 0.2%,#cfc028 4.5%,#b1c635 6.8%,#7ccc5c 8.8%,#1cc0b4 11.1%,#06bcc0 11.5%,#04b6cd 11.9%,#1ea7e1 12.6%,#317dfc 14.2%,#4759f9 15.4%,#4331c7 17.3%,#412cba 18.1%,#4433cb 18.9%,#4756f7 20.4%,#3f6efe 21.2%,#2d88f6 22.0%,#1da9e0 23.2%,#01b8c9 23.9%,#43ca8a 25.5%,#83cc57 26.7%,#bcc42f 29.0%,#e0bc2a 31.7%,#e8bb2f 40.7%,#cac129 42.6%,#99c946 44.2%,#5bcc76 45.3%,#41ca8c 45.7%,#11beb9 46.9%,#04bbc2 47.3%,#06b5cf 48.1%,#1ea8e1 49.6%,#2c8ef1 53.5%,#1baade 55.8%,#01b8c8 57.0%,#2bc3a8 58.6%,#54cc7c 60.9%,#b7c531 64.8%,#d7be28 67.1%,#fcbc3d 73.3%,#fad52e 93.2%,#f8d82c 99.8%)"></i><i class="b" style="top:511.5px;background:linear-gradient(90deg,#c9c129 0.2%,#b1c635 4.1%,#91ca4d 6.8%,#52cc7e 9.1%,#1cc0b3 10.7%,#07bcbf 11.1%,#02b7cb 11.5%,#23a0e5 12.6%,#3876fe 14.2%,#4755f6 15.4%,#4331c6 17.3%,#422fc2 18.1%,#4849ed 19.6%,#416bfe 20.8%,#2b91ef 22.0%,#14b0d8 23.2%,#03b7cc 23.5%,#09bcbe 23.9%,#22c1af 24.3%,#40ca8d 25.1%,#82cc58 26.3%,#bbc42f 28.6%,#dcbd29 30.9%,#e8bb2f 35.6%,#e8bb2e 40.7%,#c7c12a 42.6%,#94ca4a 44.2%,#6ccd68 44.9%,#3ac993 45.7%,#0bbdbd 46.9%,#02b7cb 47.7%,#1fa6e2 49.6%,#2c8ef2 53.1%,#19addc 55.8%,#03b7cc 56.6%,#02bac4 57.0%,#28c2ab 58.2%,#50cc80 60.5%,#b4c534 64.4%,#d5be28 66.7%,#fbbc3d 73.0%,#fad42e 92.0%,#f8d82c 99.8%)"></i><i class="b" style="top:513.5px;background:linear-gradient(90deg,#a1c840 0.2%,#86cb55 4.5%,#54cc7c 8.0%,#2bc3a8 9.9%,#08bcbe 10.7%,#01b8ca 11.1%,#21a3e3 12.3%,#337bfc 13.8%,#475bf9 15.0%,#4331c8 17.3%,#4433cb 18.1%,#475cfa 20.0%,#2f82f9 21.2%,#18aedb 22.8%,#06b5ce 23.2%,#05bbc1 23.5%,#56cc7b 25.1%,#81cc59 25.9%,#b3c534 27.8%,#d7be28 30.2%,#e7bb2d 33.3%,#e7bb2e 40.7%,#c4c22b 42.6%,#8fcb4e 44.2%,#48cb86 45.3%,#16bfb7 46.5%,#01b9c7 47.3%,#20a5e3 49.6%,#2c8ef1 53.1%,#1baade 55.4%,#01b9c8 56.6%,#2cc4a7 58.2%,#4bcb84 60.1%,#b8c431 64.4%,#dabd28 67.1%,#fcbc3d 73.0%,#fad52e 92.8%,#f8d82c 99.8%)"></i></div>
<svg width="2006" height="703" viewBox="0 0 2006 703">
<defs>
<clipPath id="cp0"><rect x="136.5" y="61.3" width="516.0" height="516.0"/></clipPath>
<clipPath id="cp1"><rect x="745.8" y="60.5" width="515.5" height="516.5999999999999"/></clipPath>
<clipPath id="cp2"><rect x="1351.5" y="58.3" width="515.5999999999999" height="515.5"/></clipPath>
</defs>
<g clip-path="url(#cp0)">
<path d="M137.5,346.5C137.8,348.8 138.8,355.3 139.5,360.0C140.2,364.7 141.2,369.2 142.0,374.8C142.8,380.4 143.1,385.9 144.2,393.3C145.3,400.8 146.9,411.0 148.4,419.6C149.9,428.2 151.7,435.8 153.0,445.0C154.3,454.2 155.6,465.8 156.5,475.0C157.4,484.2 157.9,491.7 158.2,500.0C158.5,508.3 158.5,517.5 158.5,525.0C158.5,532.5 158.3,538.8 158.0,545.0C157.7,551.2 157.0,556.5 156.5,562.0C156.0,567.5 155.2,575.3 155.0,578.0" fill="none" stroke="#ff00ff" stroke-width="4.7" stroke-dasharray="32.0 18.5" stroke-dashoffset="4.0"/>
<path d="M249.6,58.0C249.6,58.5 249.8,59.8 249.8,61.0C250.4,76.3 251.4,121.0 252.9,150.0C254.4,179.0 256.5,205.0 258.7,235.0C260.9,265.0 264.3,300.5 265.9,330.0C267.5,359.5 267.9,393.7 268.5,412.0C268.9,423.2 269.5,430.3 269.5,440.0C269.5,449.7 269.2,461.7 268.5,470.0C267.9,478.1 267.0,483.3 265.5,490.0C264.0,496.7 262.2,502.1 259.5,510.0C256.8,518.2 252.6,530.7 249.0,539.0C245.4,547.3 241.8,553.7 238.0,560.0C234.2,566.3 228.0,574.2 226.0,577.0" fill="none" stroke="#ff00ff" stroke-width="4.7" stroke-dasharray="32.0 18.5" stroke-dashoffset="3.6"/>
<path d="M291.6,58.0C291.9,73.3 292.2,120.5 293.1,150.0C294.0,179.5 295.8,205.0 297.0,235.0C298.2,265.0 299.8,300.5 300.1,330.0C300.4,359.5 299.5,393.7 298.8,412.0C298.4,423.2 297.1,431.2 296.0,440.0C294.9,448.8 293.3,458.3 292.0,465.0C290.8,471.1 289.8,474.4 288.0,480.0C286.2,485.6 283.9,492.3 281.5,498.5C279.1,504.7 277.2,509.8 273.7,517.0C270.0,524.6 264.3,536.8 259.5,544.0C254.7,551.2 250.2,554.8 245.0,560.0C239.8,565.2 230.8,572.5 228.0,575.0" fill="none" stroke="#ff00ff" stroke-width="4.7" stroke-dasharray="32.0 18.5" stroke-dashoffset="44.5"/>
<path d="M324.5,58.0C324.6,73.3 324.8,120.5 325.0,150.0C325.2,179.5 325.9,205.0 326.0,235.0C326.1,265.0 326.9,300.5 325.5,330.0C324.1,359.5 320.1,391.7 317.7,412.0C315.8,428.1 313.5,440.7 311.0,452.0C308.5,463.3 306.0,471.4 302.8,480.0C299.6,488.6 295.5,496.7 292.0,503.5C288.5,510.3 286.0,514.0 282.0,521.0C277.8,528.4 271.9,540.6 266.6,547.6C261.3,554.6 256.1,558.4 250.0,563.0C243.9,567.6 233.3,573.0 230.0,575.0" fill="none" stroke="#ff00ff" stroke-width="4.7" stroke-dasharray="32.0 18.5" stroke-dashoffset="38.2"/>
<path d="M361.8,58.0C361.6,73.3 360.9,120.5 360.5,150.0C360.1,179.5 360.8,205.0 359.5,235.0C358.2,265.0 355.2,304.2 352.7,330.0C350.3,354.1 346.1,375.7 344.2,390.0C342.9,400.2 342.9,408.3 341.4,415.6C339.9,422.9 336.9,428.3 335.0,434.0C333.1,439.7 332.1,443.5 330.0,449.7C327.2,457.7 323.2,472.2 318.5,482.0C313.8,491.8 306.5,501.2 302.0,508.5C297.8,515.3 296.0,518.9 291.5,525.5C286.8,532.5 279.8,543.8 273.7,550.4C267.6,557.0 261.9,560.9 255.0,565.0C248.1,569.1 235.8,573.3 232.0,575.0" fill="none" stroke="#ff00ff" stroke-width="4.7" stroke-dasharray="32.0 18.5" stroke-dashoffset="27.2"/>
<path d="M396.3,58.0C396.4,73.3 396.6,120.5 396.8,150.0C397.0,179.5 397.7,205.0 397.3,235.0C396.9,265.0 396.5,302.9 394.2,330.0C391.9,357.1 385.6,384.0 383.3,397.8C382.3,403.8 381.9,407.8 380.5,412.8C379.1,417.8 377.3,422.1 375.2,427.7C373.1,433.3 371.1,438.8 368.1,446.2C365.0,454.0 360.1,467.2 356.3,474.6C352.8,481.5 350.1,484.4 345.5,490.7C340.5,497.5 331.6,509.0 326.3,515.6C321.4,521.7 319.0,524.9 313.5,530.5C307.6,536.5 297.1,546.1 290.8,551.8C285.0,557.1 279.7,561.6 275.8,564.6C272.7,567.0 271.0,568.1 267.3,569.6C262.6,571.5 250.7,574.9 247.4,576.0" fill="none" stroke="#ff00ff" stroke-width="4.7" stroke-dasharray="32.0 18.5" stroke-dashoffset="15.2"/>
<path d="M414.4,58.0C414.7,73.3 415.5,120.5 416.2,150.0C416.9,179.5 418.1,205.0 418.5,235.0C418.9,265.0 419.3,304.2 418.8,330.0C418.3,354.0 416.4,375.5 415.3,390.0C414.5,400.8 414.0,407.5 412.5,417.0C411.0,426.5 408.1,438.7 406.1,446.9C404.2,454.6 402.0,460.5 400.4,466.0C398.8,471.5 398.3,475.3 396.5,480.0C394.7,484.7 392.2,488.4 389.6,494.0C387.0,499.6 384.9,505.9 381.0,513.4C377.1,521.0 371.0,533.1 366.0,539.7C361.2,546.1 356.6,547.3 351.0,553.0C345.1,559.0 334.0,572.2 330.6,576.0" fill="none" stroke="#ff00ff" stroke-width="4.7" stroke-dasharray="32.0 18.5" stroke-dashoffset="48.8"/>
<path d="M426.6,58.0C426.9,73.3 427.7,120.5 428.4,150.0C429.1,179.5 430.4,205.0 431.0,235.0C431.6,265.0 432.0,304.2 431.8,330.0C431.6,354.0 430.2,375.7 429.6,390.0C429.1,400.3 429.1,406.4 427.9,415.6C426.7,424.9 424.2,437.2 422.5,445.5C420.8,453.5 419.2,459.6 417.5,465.4C415.8,471.1 413.6,475.4 412.0,480.0C410.4,484.6 409.9,487.9 408.0,493.0C405.9,498.6 403.1,505.7 399.6,513.4C396.1,521.1 391.6,532.5 386.8,539.0C382.0,545.5 376.6,546.4 371.0,552.5C365.3,558.7 355.7,572.1 352.6,576.0" fill="none" stroke="#ff00ff" stroke-width="4.7" stroke-dasharray="32.0 18.5" stroke-dashoffset="50.1"/>
<path d="M438.8,58.0C439.1,73.3 439.7,120.5 440.3,150.0C440.9,179.5 442.1,205.0 442.5,235.0C442.9,265.0 443.2,304.2 442.7,330.0C442.2,354.0 440.3,375.7 439.5,390.0C438.9,400.2 439.2,406.2 438.1,415.6C437.0,425.0 434.8,437.9 433.1,446.2C431.6,454.0 430.2,458.2 428.2,465.4C426.2,472.6 424.0,481.6 421.0,489.6C418.0,497.6 413.9,505.0 410.0,513.4C406.1,521.8 402.0,533.1 397.4,539.7C392.8,546.3 388.1,547.3 382.5,553.0C376.7,558.9 365.9,571.3 362.6,575.0" fill="none" stroke="#ff00ff" stroke-width="4.7" stroke-dasharray="32.0 18.5" stroke-dashoffset="48.8"/>
<path d="M459.8,58.0C459.7,73.3 459.0,120.5 459.0,150.0C459.0,179.5 460.2,205.0 460.0,235.0C459.8,265.0 458.6,304.2 457.7,330.0C456.8,354.0 455.6,375.1 454.5,390.0C453.6,401.7 452.8,409.4 450.9,419.2C449.0,429.0 445.1,440.8 443.1,449.0C441.2,456.6 440.6,461.4 438.8,468.2C437.0,475.0 435.6,482.0 432.4,489.6C429.2,497.2 424.1,505.4 419.5,514.0C414.9,522.6 409.5,533.8 405.0,541.0C400.6,548.0 397.4,551.8 392.5,557.5C387.6,563.2 378.2,572.1 375.4,575.0" fill="none" stroke="#ff00ff" stroke-width="4.7" stroke-dasharray="32.0 18.5" stroke-dashoffset="44.9"/>
<path d="M553.5,58.0C553.4,58.5 553.0,59.8 552.8,61.0C549.8,76.3 540.8,121.0 535.5,150.0C530.2,179.0 526.2,205.0 521.0,235.0C515.8,265.0 509.6,304.2 504.4,330.0C499.6,354.2 493.2,376.2 490.0,390.0C487.9,399.1 486.9,406.1 485.0,412.8C483.1,419.6 481.3,423.5 478.6,430.5C475.7,438.1 470.6,450.5 467.3,458.3C464.0,466.0 462.5,470.0 458.7,477.5C454.8,485.1 448.4,496.8 444.0,504.0C439.8,511.0 437.2,514.2 432.6,521.0C427.9,527.9 420.8,538.8 415.6,545.4C410.4,551.9 404.9,557.0 401.3,560.4C398.6,562.9 397.3,564.4 394.0,566.0C390.4,567.8 383.2,569.5 380.0,571.0C377.7,572.1 375.8,574.3 375.0,575.0" fill="none" stroke="#ff00ff" stroke-width="4.7" stroke-dasharray="32.0 18.5" stroke-dashoffset="25.4"/>
<path d="M404.0,578.0C404.7,577.7 406.6,576.7 408.4,576.0C413.9,574.0 429.2,568.7 437.0,566.0C444.3,563.5 448.1,562.3 455.4,559.7C463.4,556.9 477.5,551.9 485.3,549.0C492.1,546.5 495.4,544.9 502.3,542.6C510.4,539.9 525.3,535.1 533.6,532.6C540.9,530.4 544.7,529.7 552.0,527.7C560.1,525.5 573.9,521.0 582.0,519.1C589.3,517.4 593.1,517.6 600.5,516.3C608.8,514.8 623.0,511.8 631.8,510.2C640.2,508.7 649.5,507.5 653.0,507.0" fill="none" stroke="#ff00ff" stroke-width="4.7" stroke-dasharray="32.0 18.5" stroke-dashoffset="43.9"/>
<rect x="195.8" y="71.6" width="433.0" height="389.8" fill="none" stroke="#000" stroke-width="4.3" stroke-linejoin="round"/>
<text transform="translate(144.9 342.2) rotate(82.8)" font-family='"DejaVu Sans", "Liberation Sans", sans-serif' font-size="39.0" fill="#ff00ff" stroke="#ff00ff" stroke-width="0.6">0<tspan font-size="53" dx="-4.5" dy="7.5">°</tspan></text>
<text transform="translate(523.7 524.7) rotate(-12.3)" font-family='"DejaVu Sans", "Liberation Sans", sans-serif' font-size="39.0" fill="#ff00ff" stroke="#ff00ff" stroke-width="0.6">-660<tspan font-size="53" dx="-4.5" dy="7.5">°</tspan></text>

</g>
<rect x="138.5" y="61.5" width="512.0" height="515.0" fill="none" stroke="#262626" stroke-opacity="0.75" stroke-width="1"/>
<g clip-path="url(#cp1)">
<path d="M746.8,213.0C746.9,214.3 747.7,217.8 747.3,221.0C746.9,224.2 744.7,228.0 744.5,232.0C744.3,236.0 745.4,239.8 746.0,245.0C746.7,251.4 747.7,260.3 748.7,270.5C749.7,280.8 750.8,293.4 752.0,306.8C753.2,320.2 754.7,335.4 756.0,350.8C757.3,366.2 758.5,386.6 759.8,399.0C760.9,409.5 762.9,414.5 763.7,425.0C764.6,437.1 764.5,455.2 765.0,471.6C765.5,488.0 766.6,509.6 766.8,523.4C767.0,535.8 767.0,545.9 766.3,554.5C765.6,562.9 763.1,571.4 762.4,575.3C762.2,576.4 762.1,577.5 762.0,578.0" fill="none" stroke="#ff00ff" stroke-width="4.7" stroke-dasharray="32.0 18.5" stroke-dashoffset="23.2"/>
<path d="M867.4,57.0C867.4,57.6 867.4,59.3 867.4,60.9C867.5,76.0 867.2,118.1 867.9,147.7C868.7,177.3 870.6,209.8 871.8,238.4C873.0,267.1 874.8,293.0 875.2,319.7C875.5,346.5 874.5,380.6 873.9,399.0C873.5,411.5 872.4,420.2 871.3,430.1C870.2,440.0 868.7,449.5 867.4,458.6C866.1,467.7 865.3,475.9 863.5,484.5C861.8,493.2 859.2,502.7 857.0,510.5C854.9,518.2 853.2,524.3 850.6,531.2C848.0,538.1 845.2,544.6 841.5,551.9C837.8,559.3 830.7,571.4 828.5,575.3" fill="none" stroke="#ff00ff" stroke-width="4.7" stroke-dasharray="32.0 18.5" stroke-dashoffset="12.6"/>
<path d="M905.0,57.0C905.0,57.6 905.0,59.3 905.0,60.9C904.7,76.0 903.1,118.1 902.9,147.7C902.8,177.3 904.3,209.8 904.2,238.4C904.1,267.1 903.7,293.0 902.4,319.7C901.1,346.5 897.5,384.1 896.4,399.0C896.1,403.1 896.4,405.2 895.9,409.4C895.2,415.8 893.6,428.8 892.0,437.9C890.5,447.0 888.8,455.2 886.9,463.8C884.9,472.4 882.5,481.5 880.4,489.7C878.2,497.9 876.1,505.7 873.9,513.0C871.7,520.4 870.2,526.9 867.4,533.8C864.6,540.7 862.7,548.0 857.0,554.5C851.4,561.0 837.6,569.6 833.7,572.7" fill="none" stroke="#ff00ff" stroke-width="4.7" stroke-dasharray="32.0 18.5" stroke-dashoffset="3.5"/>
<path d="M930.1,57.0C930.1,57.6 930.2,59.3 930.1,60.9C929.7,76.0 928.4,118.1 927.6,147.7C926.7,177.3 925.9,209.8 925.0,238.4C924.0,267.1 923.9,293.0 921.8,319.7C919.8,346.5 914.5,383.6 912.8,399.0C912.2,404.2 912.4,406.8 911.5,412.0C910.2,419.3 907.2,434.0 905.0,443.1C902.8,452.1 900.7,458.6 898.5,466.4C896.4,474.2 894.4,481.9 892.0,489.7C889.7,497.5 886.6,506.1 884.3,513.0C881.9,520.0 881.0,524.3 877.8,531.2C874.5,538.1 871.7,547.4 864.8,554.5C857.9,561.6 841.1,570.7 836.3,574.0" fill="none" stroke="#ff00ff" stroke-width="4.7" stroke-dasharray="32.0 18.5" stroke-dashoffset="48.8"/>
<path d="M955.0,57.0C955.0,57.6 955.1,59.3 955.0,60.9C954.6,76.0 953.4,118.1 952.4,147.7C951.4,177.3 950.6,209.8 949.1,238.4C947.5,267.1 946.1,293.0 943.1,319.7C940.1,346.5 933.6,382.3 930.9,399.0C929.6,407.3 929.3,411.6 927.0,419.7C924.7,428.4 919.7,441.8 916.7,450.8C913.6,459.9 911.9,466.4 908.9,474.2C905.9,481.9 901.5,490.2 898.5,497.5C895.5,504.8 893.3,512.2 890.7,518.2C888.2,524.3 886.2,527.6 883.0,533.8C879.5,540.3 877.4,550.2 870.0,557.1C862.7,564.0 844.1,572.2 838.9,575.3" fill="none" stroke="#ff00ff" stroke-width="4.7" stroke-dasharray="32.0 18.5" stroke-dashoffset="41.4"/>
<path d="M985.4,57.0C985.4,57.6 985.4,59.3 985.4,60.9C985.1,76.0 984.1,118.1 983.5,147.7C983.0,177.3 983.2,209.8 982.0,238.4C980.8,267.1 979.4,293.0 976.3,319.7C973.2,346.5 967.0,381.0 963.3,399.0C960.9,410.7 957.3,418.4 954.2,427.5C951.2,436.6 948.2,445.7 945.2,453.4C942.2,461.2 940.0,466.4 936.1,474.2C932.2,481.9 926.0,492.7 921.8,500.1C917.8,507.4 916.2,511.3 911.5,518.2C906.7,525.1 899.0,534.6 893.3,541.6C887.7,548.5 883.8,554.1 877.8,559.7C871.7,565.3 860.5,572.7 857.0,575.3" fill="none" stroke="#ff00ff" stroke-width="4.7" stroke-dasharray="32.0 18.5" stroke-dashoffset="33.7"/>
<path d="M1008.7,57.0C1008.7,57.6 1008.7,59.3 1008.7,60.9C1008.8,76.0 1008.9,118.1 1009.5,147.7C1010.0,177.3 1011.5,209.8 1012.1,238.4C1012.6,267.1 1013.1,293.0 1012.6,319.7C1012.0,346.5 1009.8,381.0 1008.7,399.0C1008.0,410.4 1007.0,418.4 1006.1,427.5C1005.2,436.6 1004.6,445.2 1003.5,453.4C1002.4,461.6 1001.3,469.0 999.6,476.8C997.9,484.5 995.3,491.9 993.1,500.1C991.0,508.3 989.5,517.8 986.6,526.0C983.8,534.2 980.0,541.1 976.3,549.3C972.6,557.5 966.6,570.9 964.6,575.3" fill="none" stroke="#ff00ff" stroke-width="4.7" stroke-dasharray="32.0 18.5" stroke-dashoffset="13.9"/>
<path d="M1026.0,57.0C1026.0,57.6 1026.0,59.3 1026.0,60.9C1026.4,76.0 1027.2,118.1 1028.1,147.7C1029.0,177.3 1030.3,209.8 1031.5,238.4C1032.7,267.1 1034.7,293.0 1035.4,319.7C1036.0,346.5 1035.5,381.5 1035.4,399.0C1035.3,409.4 1034.9,416.7 1034.6,424.9C1034.3,433.1 1034.0,439.6 1033.3,448.2C1032.7,456.9 1031.6,468.6 1030.7,476.8C1029.8,485.0 1029.2,489.3 1028.1,497.5C1027.0,505.7 1026.0,517.4 1024.2,526.0C1022.5,534.6 1020.6,541.1 1017.8,549.3C1014.9,557.5 1009.1,570.9 1007.4,575.3" fill="none" stroke="#ff00ff" stroke-width="4.7" stroke-dasharray="32.0 18.5" stroke-dashoffset="16.2"/>
<path d="M1044.2,57.0C1044.2,57.6 1044.2,59.3 1044.2,60.9C1044.5,76.0 1045.1,118.1 1045.7,147.7C1046.4,177.3 1047.3,209.8 1048.3,238.4C1049.4,267.1 1051.2,293.0 1052.0,319.7C1052.7,346.5 1052.8,381.5 1052.7,399.0C1052.7,409.4 1051.9,416.7 1051.4,424.9C1051.0,433.1 1050.6,439.6 1050.2,448.2C1049.7,456.9 1049.7,468.1 1048.9,476.8C1048.0,485.4 1046.3,491.9 1045.0,500.1C1043.7,508.3 1042.8,517.8 1041.1,526.0C1039.4,534.2 1037.6,541.1 1034.6,549.3C1031.6,557.5 1024.9,570.9 1022.9,575.3" fill="none" stroke="#ff00ff" stroke-width="4.7" stroke-dasharray="32.0 18.5" stroke-dashoffset="16.2"/>
<path d="M1073.5,57.0C1073.5,57.6 1073.5,59.3 1073.5,60.9C1073.4,76.0 1072.7,118.1 1072.7,147.7C1072.7,177.3 1073.0,209.8 1073.5,238.4C1074.0,267.1 1075.6,293.0 1075.6,319.7C1075.6,346.5 1074.0,381.0 1073.5,399.0C1073.1,410.4 1072.8,418.9 1072.2,427.5C1071.5,436.2 1070.7,442.6 1069.6,450.8C1068.5,459.0 1067.0,468.6 1065.7,476.8C1064.4,485.0 1063.3,491.9 1061.8,500.1C1060.3,508.3 1058.8,517.8 1056.6,526.0C1054.5,534.2 1052.3,541.1 1048.9,549.3C1045.4,557.5 1038.1,570.9 1035.9,575.3" fill="none" stroke="#ff00ff" stroke-width="4.7" stroke-dasharray="32.0 18.5" stroke-dashoffset="13.8"/>
<path d="M1178.5,57.0C1178.5,57.6 1178.7,59.4 1178.5,60.9C1175.9,76.0 1168.3,118.1 1162.9,147.7C1157.5,177.3 1150.8,209.8 1146.1,238.4C1141.3,267.1 1138.9,293.0 1134.4,319.7C1129.9,346.5 1121.7,384.5 1118.8,399.0C1118.2,402.1 1118.2,403.7 1117.5,406.8C1116.3,412.8 1113.0,426.6 1111.1,435.3C1109.1,443.9 1108.0,450.4 1105.9,458.6C1103.7,466.8 1100.7,476.8 1098.1,484.5C1095.5,492.3 1093.4,497.5 1090.3,505.3C1087.3,513.0 1083.6,523.4 1080.0,531.2C1076.3,539.0 1072.8,544.6 1068.3,551.9C1063.8,559.3 1055.3,571.4 1052.7,575.3" fill="none" stroke="#ff00ff" stroke-width="4.7" stroke-dasharray="32.0 18.5" stroke-dashoffset="2.2"/>
<path d="M1145.0,578.0C1145.8,577.5 1147.9,576.3 1150.0,575.3C1154.7,573.1 1165.1,567.8 1173.3,564.9C1181.5,562.0 1190.6,559.8 1199.2,557.6C1207.8,555.5 1217.0,553.7 1225.0,552.0C1233.0,550.3 1241.0,548.4 1247.0,547.3C1252.6,546.2 1258.7,545.6 1261.0,545.2" fill="none" stroke="#ff00ff" stroke-width="4.7" stroke-dasharray="32.0 18.5" stroke-dashoffset="37.5"/>
<rect x="805.2" y="72.4" width="432.5" height="319.1" fill="none" stroke="#000" stroke-width="4.3" stroke-linejoin="round"/>
<text transform="translate(755.3 258.0) rotate(82)" font-family='"DejaVu Sans", "Liberation Sans", sans-serif' font-size="39.0" fill="#ff00ff" stroke="#ff00ff" stroke-width="0.6">0<tspan font-size="53" dx="-4.5" dy="7.5">°</tspan></text>
<text transform="translate(1150.6 563.0) rotate(-13)" font-family='"DejaVu Sans", "Liberation Sans", sans-serif' font-size="39.0" fill="#ff00ff" stroke="#ff00ff" stroke-width="0.6">-660<tspan font-size="53" dx="-4.5" dy="7.5">°</tspan></text>

</g>
<rect x="747.8" y="60.7" width="511.5" height="515.5999999999999" fill="none" stroke="#262626" stroke-opacity="0.75" stroke-width="1"/>
<g clip-path="url(#cp2)">
<path d="M1364.3,56.0C1364.3,58.2 1364.4,63.8 1364.6,69.0C1364.8,76.5 1365.5,88.2 1365.8,101.0C1366.1,113.8 1366.0,127.8 1366.4,145.7C1366.8,166.7 1367.6,204.8 1368.4,227.0C1369.1,247.7 1370.6,261.5 1371.0,278.8C1371.4,296.1 1370.7,313.4 1371.0,330.7C1371.3,348.0 1372.6,371.4 1372.8,382.5C1372.9,388.3 1372.9,391.2 1372.3,397.0C1371.6,404.6 1369.7,417.3 1368.4,428.1C1367.1,438.9 1366.1,451.9 1364.6,461.8C1363.1,471.7 1361.2,480.8 1359.4,487.7C1357.7,494.1 1355.1,499.8 1353.7,503.3C1352.8,505.6 1351.5,508.1 1351.0,509.0" fill="none" stroke="#ff00ff" stroke-width="4.7" stroke-dasharray="32.0 18.5" stroke-dashoffset="36.6"/>
<path d="M1473.9,55.0C1473.9,55.6 1473.9,57.3 1473.9,58.9C1474.4,74.0 1475.5,116.1 1476.5,145.7C1477.5,175.3 1479.1,207.8 1479.9,236.4C1480.7,265.1 1481.2,291.0 1481.2,317.7C1481.2,344.5 1480.5,378.6 1479.9,397.0C1479.5,409.5 1478.4,418.2 1477.3,428.1C1476.2,438.0 1474.7,448.0 1473.4,456.6C1472.1,465.3 1471.0,472.2 1469.5,479.9C1468.0,487.7 1466.3,495.5 1464.3,503.3C1462.4,511.0 1460.5,519.3 1457.9,526.6C1455.3,533.9 1452.7,539.6 1448.8,547.3C1444.9,555.1 1436.9,568.9 1434.5,573.3" fill="none" stroke="#ff00ff" stroke-width="4.7" stroke-dasharray="32.0 18.5" stroke-dashoffset="12.6"/>
<path d="M1508.9,55.0C1508.9,55.6 1508.9,57.3 1508.9,58.9C1509.1,74.0 1509.4,116.1 1509.7,145.7C1510.1,175.3 1510.9,207.8 1511.0,236.4C1511.1,265.1 1511.3,291.0 1510.2,317.7C1509.1,344.5 1505.9,380.3 1504.5,397.0C1503.8,405.3 1503.0,410.8 1501.9,417.7C1500.8,424.6 1499.6,430.7 1498.0,438.5C1496.5,446.2 1494.6,456.6 1492.9,464.4C1491.1,472.2 1489.6,477.8 1487.7,485.1C1485.7,492.5 1483.6,500.7 1481.2,508.5C1478.8,516.2 1476.9,524.0 1473.4,531.8C1470.0,539.6 1466.1,548.6 1460.5,555.1C1454.8,561.6 1443.2,568.1 1439.7,570.7" fill="none" stroke="#ff00ff" stroke-width="4.7" stroke-dasharray="32.0 18.5" stroke-dashoffset="2.2"/>
<path d="M1535.6,55.0C1535.6,55.6 1535.6,57.3 1535.6,58.9C1535.5,74.0 1535.3,116.1 1535.1,145.7C1534.9,175.3 1535.1,207.8 1534.3,236.4C1533.6,265.1 1532.6,291.0 1530.4,317.7C1528.3,344.5 1523.3,380.3 1521.4,397.0C1520.4,405.3 1520.3,410.0 1518.8,417.7C1517.3,425.5 1514.5,435.4 1512.3,443.7C1510.1,451.9 1508.0,459.6 1505.8,467.0C1503.7,474.3 1501.7,480.4 1499.3,487.7C1497.0,495.1 1494.2,503.7 1491.6,511.0C1489.0,518.4 1487.2,524.4 1483.8,531.8C1480.3,539.1 1477.7,548.5 1470.8,555.1C1463.9,561.7 1447.1,568.5 1442.3,571.2" fill="none" stroke="#ff00ff" stroke-width="4.7" stroke-dasharray="32.0 18.5" stroke-dashoffset="47.5"/>
<path d="M1564.9,55.0C1564.9,55.6 1564.9,57.3 1564.9,58.9C1564.7,74.0 1564.2,116.1 1563.6,145.7C1563.1,175.3 1563.0,207.8 1561.5,236.4C1560.1,265.1 1558.3,291.0 1555.1,317.7C1551.8,344.5 1545.3,379.5 1542.1,397.0C1540.2,407.5 1538.0,414.3 1535.6,422.9C1533.2,431.6 1530.4,440.6 1527.8,448.8C1525.3,457.0 1522.9,464.4 1520.1,472.2C1517.3,479.9 1514.0,488.2 1511.0,495.5C1508.0,502.8 1505.2,509.3 1501.9,516.2C1498.7,523.1 1495.4,530.5 1491.6,537.0C1487.7,543.4 1485.7,549.8 1478.6,555.1C1470.8,560.9 1450.5,569.2 1444.9,572.0" fill="none" stroke="#ff00ff" stroke-width="4.7" stroke-dasharray="32.0 18.5" stroke-dashoffset="37.5"/>
<path d="M1598.6,55.0C1598.6,55.6 1598.6,57.3 1598.6,58.9C1598.7,74.0 1599.0,116.1 1599.1,145.7C1599.2,175.3 1599.8,207.8 1599.1,236.4C1598.5,265.1 1598.5,291.0 1595.2,317.7C1592.0,344.5 1583.4,378.6 1579.7,397.0C1577.2,409.5 1575.6,418.2 1573.2,428.1C1570.8,438.0 1568.2,448.4 1565.4,456.6C1562.6,464.8 1560.0,470.0 1556.4,477.4C1552.7,484.7 1547.7,493.3 1543.4,500.7C1539.1,508.0 1535.2,514.5 1530.4,521.4C1525.7,528.3 1520.5,535.7 1514.9,542.2C1509.3,548.6 1503.7,555.1 1496.7,560.3C1489.8,565.5 1477.3,571.1 1473.4,573.3" fill="none" stroke="#ff00ff" stroke-width="4.7" stroke-dasharray="32.0 18.5" stroke-dashoffset="31.1"/>
<path d="M1622.5,55.0C1622.5,55.6 1622.4,57.3 1622.5,58.9C1622.8,74.0 1623.5,116.1 1624.3,145.7C1625.0,175.3 1626.3,207.8 1626.9,236.4C1627.4,265.1 1628.1,291.0 1627.6,317.7C1627.2,344.5 1625.1,379.5 1624.3,397.0C1623.8,407.4 1623.4,413.8 1622.5,422.9C1621.5,432.0 1619.9,442.8 1618.6,451.4C1617.3,460.1 1616.2,467.0 1614.7,474.8C1613.2,482.5 1611.4,489.9 1609.5,498.1C1607.6,506.3 1605.4,515.8 1603.0,524.0C1600.6,532.2 1598.3,539.1 1595.2,547.3C1592.2,555.5 1586.6,568.9 1584.9,573.3" fill="none" stroke="#ff00ff" stroke-width="4.7" stroke-dasharray="32.0 18.5" stroke-dashoffset="15.2"/>
<path d="M1636.7,55.0C1636.7,55.6 1636.7,57.3 1636.7,58.9C1637.1,74.0 1638.4,116.1 1639.3,145.7C1640.2,175.3 1640.9,207.8 1641.9,236.4C1642.8,265.1 1644.6,291.0 1645.0,317.7C1645.4,344.5 1644.8,379.5 1644.5,397.0C1644.3,407.4 1643.8,412.6 1643.2,422.9C1642.5,433.3 1641.7,447.1 1640.6,459.2C1639.5,471.3 1638.2,484.7 1636.7,495.5C1635.2,506.3 1633.5,515.4 1631.5,524.0C1629.6,532.6 1627.4,539.1 1625.0,547.3C1622.7,555.5 1618.6,568.9 1617.3,573.3" fill="none" stroke="#ff00ff" stroke-width="4.7" stroke-dasharray="32.0 18.5" stroke-dashoffset="19.0"/>
<path d="M1652.3,55.0C1652.3,55.6 1652.2,57.3 1652.3,58.9C1652.6,74.0 1653.6,116.1 1654.3,145.7C1655.1,175.3 1656.2,207.8 1656.9,236.4C1657.7,265.1 1658.6,291.0 1658.7,317.7C1658.9,344.5 1658.2,379.5 1658.0,397.0C1657.8,407.4 1658.0,412.6 1657.4,422.9C1656.9,433.3 1655.9,447.1 1654.9,459.2C1653.8,471.3 1652.5,484.7 1651.0,495.5C1649.5,506.3 1647.7,515.4 1645.8,524.0C1643.8,532.6 1641.7,539.1 1639.3,547.3C1636.9,555.5 1632.8,568.9 1631.5,573.3" fill="none" stroke="#ff00ff" stroke-width="4.7" stroke-dasharray="32.0 18.5" stroke-dashoffset="19.0"/>
<path d="M1676.1,55.0C1676.1,55.6 1676.1,57.3 1676.1,58.9C1676.2,74.0 1676.6,116.1 1676.9,145.7C1677.1,175.3 1677.5,207.8 1677.7,236.4C1677.9,265.1 1678.6,291.0 1678.2,317.7C1677.8,344.5 1675.9,379.5 1675.1,397.0C1674.6,407.4 1673.8,412.6 1673.0,422.9C1672.2,433.3 1671.7,447.1 1670.4,459.2C1669.1,471.3 1667.2,484.7 1665.2,495.5C1663.3,506.3 1661.1,515.4 1658.7,524.0C1656.4,532.6 1653.8,539.1 1651.0,547.3C1648.2,555.5 1643.4,568.9 1641.9,573.3" fill="none" stroke="#ff00ff" stroke-width="4.7" stroke-dasharray="32.0 18.5" stroke-dashoffset="17.7"/>
<path d="M1772.8,55.0C1772.8,55.6 1773.0,57.4 1772.8,58.9C1770.4,74.0 1763.1,116.1 1758.5,145.7C1754.0,175.3 1749.9,207.8 1745.6,236.4C1741.3,265.1 1737.4,291.0 1732.6,317.7C1727.9,344.5 1720.3,378.6 1717.1,397.0C1714.9,409.3 1714.9,419.0 1713.2,428.1C1711.5,437.2 1708.9,443.2 1706.7,451.4C1704.5,459.6 1702.6,469.1 1700.2,477.4C1697.8,485.6 1695.0,492.9 1692.4,500.7C1689.9,508.5 1687.9,516.2 1684.7,524.0C1681.4,531.8 1676.9,539.1 1673.0,547.3C1669.1,555.5 1663.3,568.9 1661.3,573.3" fill="none" stroke="#ff00ff" stroke-width="4.7" stroke-dasharray="32.0 18.5" stroke-dashoffset="7.4"/>
<path d="M1795.0,575.0C1795.8,574.7 1797.9,573.6 1800.0,573.3C1805.6,572.5 1817.7,571.8 1828.5,570.1C1839.3,568.4 1858.2,564.2 1864.8,562.9C1866.1,562.6 1867.5,562.1 1868.0,562.0" fill="none" stroke="#ff00ff" stroke-width="4.7" stroke-dasharray="32.0 18.5" stroke-dashoffset="0.0"/>
<path d="M1411.2,77.2 L1843.3,77.2 L1843.3,482.4 L1836.1,481.8 L1828.9,481.1 L1821.7,480.4 L1814.5,479.7 L1807.3,478.9 L1800.1,478.2 L1792.9,477.4 L1785.7,476.6 L1778.5,475.8 L1771.3,474.9 L1764.1,474.0 L1756.9,473.1 L1749.7,472.2 L1742.5,471.2 L1735.3,470.2 L1728.1,469.1 L1720.9,468.0 L1713.7,466.9 L1706.5,465.8 L1699.3,464.5 L1692.1,463.3 L1684.9,462.0 L1677.7,460.6 L1670.5,459.2 L1663.3,457.7 L1656.1,456.2 L1648.9,454.6 L1641.7,452.9 L1634.5,451.1 L1627.2,449.3 L1620.0,447.4 L1612.8,445.4 L1605.6,443.2 L1598.4,441.0 L1591.2,438.7 L1584.0,436.2 L1576.8,433.6 L1569.6,430.8 L1562.4,427.9 L1555.2,424.7 L1548.0,421.4 L1540.8,417.9 L1533.6,414.1 L1526.4,410.1 L1519.2,405.8 L1512.0,401.1 L1504.8,396.1 L1497.6,390.7 L1490.4,384.9 L1483.2,378.5 L1476.0,371.5 L1468.8,363.8 L1461.6,355.4 L1454.4,346.0 L1447.2,335.6 L1440.0,324.0 L1432.8,310.8 L1425.6,295.9 L1418.4,278.8 L1411.2,258.9 Z" fill="none" stroke="#000" stroke-width="4.3" stroke-linejoin="round"/>
<text transform="translate(1369.5 69.8) rotate(88)" font-family='"DejaVu Sans", "Liberation Sans", sans-serif' font-size="39.0" fill="#ff00ff" stroke="#ff00ff" stroke-width="0.6">0<tspan font-size="53" dx="-4.5" dy="7.5">°</tspan></text>
<text transform="translate(1778.1 244.7) rotate(-76)" font-family='"DejaVu Sans", "Liberation Sans", sans-serif' font-size="39.0" fill="#ff00ff" stroke="#ff00ff" stroke-width="0.6">-600<tspan font-size="53" dx="-4.5" dy="7.5">°</tspan></text>

</g>
<rect x="1353.5" y="58.5" width="511.5999999999999" height="514.5" fill="none" stroke="#262626" stroke-opacity="0.75" stroke-width="1"/>
<text transform="translate(241.28 638.40) scale(1 1.054)" font-family='"Liberation Sans", sans-serif' font-size="41.7" text-anchor="end" fill="#000" stroke="#000" stroke-width="0.6">50</text>
<text transform="translate(366.58 638.40) scale(1 1.054)" font-family='"Liberation Sans", sans-serif' font-size="41.7" text-anchor="end" fill="#000" stroke="#000" stroke-width="0.6">100</text>
<text transform="translate(479.38 638.40) scale(1 1.054)" font-family='"Liberation Sans", sans-serif' font-size="41.7" text-anchor="end" fill="#000" stroke="#000" stroke-width="0.6">150</text>
<text transform="translate(593.88 638.40) scale(1 1.054)" font-family='"Liberation Sans", sans-serif' font-size="41.7" text-anchor="end" fill="#000" stroke="#000" stroke-width="0.6">200</text>
<text transform="translate(850.68 637.90) scale(1 1.054)" font-family='"Liberation Sans", sans-serif' font-size="41.7" text-anchor="end" fill="#000" stroke="#000" stroke-width="0.6">50</text>
<text transform="translate(975.18 637.90) scale(1 1.054)" font-family='"Liberation Sans", sans-serif' font-size="41.7" text-anchor="end" fill="#000" stroke="#000" stroke-width="0.6">100</text>
<text transform="translate(1088.78 637.90) scale(1 1.054)" font-family='"Liberation Sans", sans-serif' font-size="41.7" text-anchor="end" fill="#000" stroke="#000" stroke-width="0.6">150</text>
<text transform="translate(1203.08 637.90) scale(1 1.054)" font-family='"Liberation Sans", sans-serif' font-size="41.7" text-anchor="end" fill="#000" stroke="#000" stroke-width="0.6">200</text>
<text transform="translate(1456.38 634.90) scale(1 1.054)" font-family='"Liberation Sans", sans-serif' font-size="41.7" text-anchor="end" fill="#000" stroke="#000" stroke-width="0.6">50</text>
<text transform="translate(1581.38 634.90) scale(1 1.054)" font-family='"Liberation Sans", sans-serif' font-size="41.7" text-anchor="end" fill="#000" stroke="#000" stroke-width="0.6">100</text>
<text transform="translate(1695.08 634.90) scale(1 1.054)" font-family='"Liberation Sans", sans-serif' font-size="41.7" text-anchor="end" fill="#000" stroke="#000" stroke-width="0.6">150</text>
<text transform="translate(1808.78 634.90) scale(1 1.054)" font-family='"Liberation Sans", sans-serif' font-size="41.7" text-anchor="end" fill="#000" stroke="#000" stroke-width="0.6">200</text>
<text transform="translate(119.88 112.56) scale(1 1.054)" font-family='"Liberation Sans", sans-serif' font-size="41.7" text-anchor="end" fill="#000" stroke="#000" stroke-width="0.6">120</text>
<text transform="translate(119.88 204.36) scale(1 1.054)" font-family='"Liberation Sans", sans-serif' font-size="41.7" text-anchor="end" fill="#000" stroke="#000" stroke-width="0.6">100</text>
<text transform="translate(119.88 296.16) scale(1 1.054)" font-family='"Liberation Sans", sans-serif' font-size="41.7" text-anchor="end" fill="#000" stroke="#000" stroke-width="0.6">80</text>
<text transform="translate(119.88 387.86) scale(1 1.054)" font-family='"Liberation Sans", sans-serif' font-size="41.7" text-anchor="end" fill="#000" stroke="#000" stroke-width="0.6">60</text>
<text transform="translate(119.88 479.66) scale(1 1.054)" font-family='"Liberation Sans", sans-serif' font-size="41.7" text-anchor="end" fill="#000" stroke="#000" stroke-width="0.6">40</text>
<text transform="translate(119.88 571.46) scale(1 1.054)" font-family='"Liberation Sans", sans-serif' font-size="41.7" text-anchor="end" fill="#000" stroke="#000" stroke-width="0.6">20</text>
<text transform="translate(728.58 153.26) scale(1 1.054)" font-family='"Liberation Sans", sans-serif' font-size="41.7" text-anchor="end" fill="#000" stroke="#000" stroke-width="0.6">150</text>
<text transform="translate(728.58 336.81) scale(1 1.054)" font-family='"Liberation Sans", sans-serif' font-size="41.7" text-anchor="end" fill="#000" stroke="#000" stroke-width="0.6">100</text>
<text transform="translate(728.58 520.36) scale(1 1.054)" font-family='"Liberation Sans", sans-serif' font-size="41.7" text-anchor="end" fill="#000" stroke="#000" stroke-width="0.6">50</text>
<text transform="translate(1335.28 90.76) scale(1 1.054)" font-family='"Liberation Sans", sans-serif' font-size="41.7" text-anchor="end" fill="#000" stroke="#000" stroke-width="0.6">140</text>
<text transform="translate(1335.28 182.46) scale(1 1.054)" font-family='"Liberation Sans", sans-serif' font-size="41.7" text-anchor="end" fill="#000" stroke="#000" stroke-width="0.6">120</text>
<text transform="translate(1335.28 274.16) scale(1 1.054)" font-family='"Liberation Sans", sans-serif' font-size="41.7" text-anchor="end" fill="#000" stroke="#000" stroke-width="0.6">100</text>
<text transform="translate(1335.28 365.86) scale(1 1.054)" font-family='"Liberation Sans", sans-serif' font-size="41.7" text-anchor="end" fill="#000" stroke="#000" stroke-width="0.6">80</text>
<text transform="translate(1335.28 457.56) scale(1 1.054)" font-family='"Liberation Sans", sans-serif' font-size="41.7" text-anchor="end" fill="#000" stroke="#000" stroke-width="0.6">60</text>
<text transform="translate(1335.28 549.36) scale(1 1.054)" font-family='"Liberation Sans", sans-serif' font-size="41.7" text-anchor="end" fill="#000" stroke="#000" stroke-width="0.6">40</text>
<linearGradient id="cbg" x1="0" y1="0" x2="0" y2="1"><stop offset="0.0000" stop-color="#f9fb15"/><stop offset="0.0159" stop-color="#f7f51b"/><stop offset="0.0317" stop-color="#f6ef20"/><stop offset="0.0476" stop-color="#f5e924"/><stop offset="0.0635" stop-color="#f5e327"/><stop offset="0.0794" stop-color="#f7dc2a"/><stop offset="0.0952" stop-color="#fad62d"/><stop offset="0.1111" stop-color="#fccf30"/><stop offset="0.1270" stop-color="#fec934"/><stop offset="0.1429" stop-color="#fec338"/><stop offset="0.1587" stop-color="#febe3c"/><stop offset="0.1746" stop-color="#f8ba3d"/><stop offset="0.1905" stop-color="#f0ba36"/><stop offset="0.2063" stop-color="#e6bb2d"/><stop offset="0.2222" stop-color="#dcbd29"/><stop offset="0.2381" stop-color="#d1bf27"/><stop offset="0.2540" stop-color="#c5c22a"/><stop offset="0.2698" stop-color="#b9c431"/><stop offset="0.2857" stop-color="#abc739"/><stop offset="0.3016" stop-color="#9dc943"/><stop offset="0.3175" stop-color="#8fcb4e"/><stop offset="0.3333" stop-color="#81cc59"/><stop offset="0.3492" stop-color="#72cd64"/><stop offset="0.3651" stop-color="#64cd6f"/><stop offset="0.3810" stop-color="#57cc7a"/><stop offset="0.3968" stop-color="#4acb84"/><stop offset="0.4127" stop-color="#3fca8e"/><stop offset="0.4286" stop-color="#37c897"/><stop offset="0.4444" stop-color="#31c69f"/><stop offset="0.4603" stop-color="#2cc4a7"/><stop offset="0.4762" stop-color="#24c1ae"/><stop offset="0.4921" stop-color="#19bfb6"/><stop offset="0.5079" stop-color="#0bbdbd"/><stop offset="0.5238" stop-color="#02bac3"/><stop offset="0.5397" stop-color="#01b8ca"/><stop offset="0.5556" stop-color="#08b5d0"/><stop offset="0.5714" stop-color="#12b1d6"/><stop offset="0.5873" stop-color="#18addb"/><stop offset="0.6032" stop-color="#1ca9df"/><stop offset="0.6190" stop-color="#20a5e3"/><stop offset="0.6349" stop-color="#23a0e5"/><stop offset="0.6508" stop-color="#259be8"/><stop offset="0.6667" stop-color="#2797eb"/><stop offset="0.6825" stop-color="#2b91ef"/><stop offset="0.6984" stop-color="#2d8cf3"/><stop offset="0.7143" stop-color="#2e87f7"/><stop offset="0.7302" stop-color="#2f81fa"/><stop offset="0.7460" stop-color="#327cfc"/><stop offset="0.7619" stop-color="#3875fe"/><stop offset="0.7778" stop-color="#3e6fff"/><stop offset="0.7937" stop-color="#4269fe"/><stop offset="0.8095" stop-color="#4563fd"/><stop offset="0.8254" stop-color="#465efb"/><stop offset="0.8413" stop-color="#4758f8"/><stop offset="0.8571" stop-color="#4852f4"/><stop offset="0.8730" stop-color="#484df0"/><stop offset="0.8889" stop-color="#4747eb"/><stop offset="0.9048" stop-color="#4741e5"/><stop offset="0.9206" stop-color="#463cde"/><stop offset="0.9365" stop-color="#4537d5"/><stop offset="0.9524" stop-color="#4332cb"/><stop offset="0.9683" stop-color="#422ec0"/><stop offset="0.9841" stop-color="#402ab4"/><stop offset="1.0000" stop-color="#3e26a8"/></linearGradient><rect x="1888.2" y="57.2" width="53.59999999999991" height="516.5" fill="url(#cbg)"/><rect x="1889.7" y="570.4" width="50.59999999999991" height="1.2" fill="#fff"/>
<rect x="1889.1000000000001" y="58.0" width="51.79999999999991" height="514.9" fill="none" stroke="#1a1a1a" stroke-width="1.8"/>
<rect x="1935.2" y="228.4" width="5" height="2" fill="#1a1a1a"/>
<rect x="1935.2" y="400.6" width="5" height="2" fill="#1a1a1a"/>
<text transform="translate(1958.22 74.79) scale(1 1.054)" font-family='"Liberation Sans", sans-serif' font-size="37.5" text-anchor="start" fill="#000" stroke="#000" stroke-width="0.6">1</text>
<text transform="translate(1956.84 246.29) scale(1 1.054)" font-family='"Liberation Sans", sans-serif' font-size="37.5" text-anchor="start" fill="#000" stroke="#000" stroke-width="0.6">0.8</text>
<text transform="translate(1956.84 417.89) scale(1 1.054)" font-family='"Liberation Sans", sans-serif' font-size="37.5" text-anchor="start" fill="#000" stroke="#000" stroke-width="0.6">0.6</text>
<text transform="translate(1956.84 588.99) scale(1 1.054)" font-family='"Liberation Sans", sans-serif' font-size="37.5" text-anchor="start" fill="#000" stroke="#000" stroke-width="0.6">0.4</text>
<text transform="translate(1915.3 43.5) scale(1.2 1)" font-family='"DejaVu Sans", "Liberation Sans", sans-serif' font-size="41.5" text-anchor="middle" fill="#000">|r|</text>
<text x="311.41" y="34.40" font-family='"DejaVu Sans", "Liberation Sans", sans-serif' fill="#000" xml:space="preserve"><tspan font-size="47.9" dy="0">L</tspan><tspan font-size="30.6" dy="9.3">y1</tspan><tspan font-size="47.9" dy="-9.3" dx="-0.8">=</tspan><tspan font-size="47.9" dy="0" dx="-1.8">L</tspan><tspan font-size="30.6" dy="9.3" dx="-1.4">y</tspan><tspan font-size="30.6" dy="0" dx="-0.3">2</tspan></text>
<text x="908.41" y="34.30" font-family='"DejaVu Sans", "Liberation Sans", sans-serif' fill="#000" xml:space="preserve"><tspan font-size="47.9" dy="0">L</tspan><tspan font-size="30.6" dy="9.3">y1</tspan><tspan font-size="47.9" dy="-9.3" dx="-0.5">=</tspan><tspan font-size="47.9" dy="0" dx="-1.9">2</tspan><tspan font-size="47.9" dy="0" dx="-1.3">L</tspan><tspan font-size="30.6" dy="9.3">y</tspan><tspan font-size="30.6" dy="0" dx="-0.6">2</tspan></text>
<text x="1472.11" y="38.30" font-family='"DejaVu Sans", "Liberation Sans", sans-serif' fill="#000" xml:space="preserve"><tspan font-size="47.9" dy="0">L</tspan><tspan font-size="30.6" dy="9.3" dx="-0.6">x1</tspan><tspan font-size="47.9" dy="-9.3" dx="-1.1">L</tspan><tspan font-size="30.6" dy="9.3">y1</tspan><tspan font-size="47.9" dy="-9.3" dx="0.3">=</tspan><tspan font-size="47.9" dy="0" dx="-2.6">L</tspan><tspan font-size="30.6" dy="9.3" dx="-1.2">x</tspan><tspan font-size="30.6" dy="0" dx="0.6">2</tspan><tspan font-size="47.9" dy="-9.3" dx="-0.8">L</tspan><tspan font-size="30.6" dy="9.3" dx="-0.6">y</tspan><tspan font-size="30.6" dy="0" dx="-0.5">2</tspan></text>
<text x="311.71" y="694.80" font-family='"DejaVu Sans", "Liberation Sans", sans-serif' fill="#000" xml:space="preserve"><tspan font-size="43.75" dy="0">L</tspan><tspan font-size="28.0" dy="8.6" dx="-0.4">x1</tspan><tspan font-size="43.75" dy="-8.6" letter-spacing="0.8"> (nm)</tspan></text>
<text x="928.41" y="694.80" font-family='"DejaVu Sans", "Liberation Sans", sans-serif' fill="#000" xml:space="preserve"><tspan font-size="43.75" dy="0">L</tspan><tspan font-size="28.0" dy="8.6" dx="-0.4">x1</tspan><tspan font-size="43.75" dy="-8.6" letter-spacing="0.8"> (nm)</tspan></text>
<text x="1535.51" y="694.80" font-family='"DejaVu Sans", "Liberation Sans", sans-serif' fill="#000" xml:space="preserve"><tspan font-size="43.75" dy="0">L</tspan><tspan font-size="28.0" dy="8.6" dx="-0.4">x1</tspan><tspan font-size="43.75" dy="-8.6" letter-spacing="0.8"> (nm)</tspan></text>
<text x="0.00" y="0.00" font-family='"DejaVu Sans", "Liberation Sans", sans-serif' fill="#000" xml:space="preserve" transform="translate(33.1 394.49) rotate(-90)"><tspan font-size="43.75" dy="0">L</tspan><tspan font-size="28.0" dy="8.6" dx="-0.4">y1</tspan><tspan font-size="43.75" dy="-8.6" letter-spacing="0.8"> (nm)</tspan></text>
</svg>
</div>
</body></html>
